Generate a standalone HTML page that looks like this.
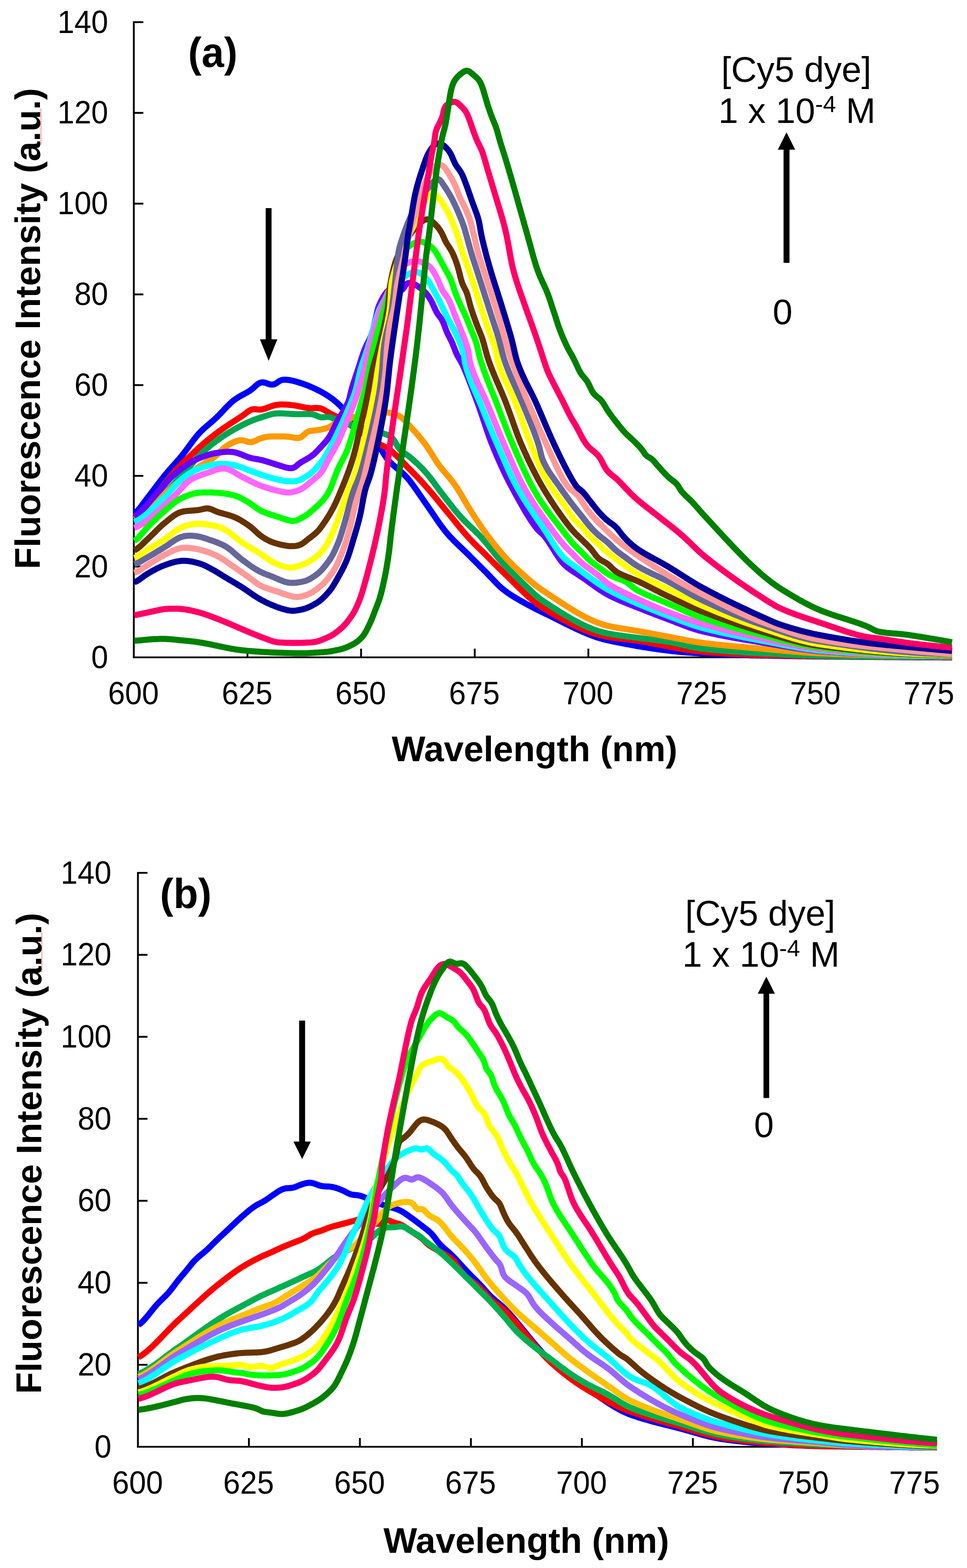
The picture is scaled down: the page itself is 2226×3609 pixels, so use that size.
<!DOCTYPE html>
<html><head><meta charset="utf-8"><title>Fluorescence spectra</title>
<style>
html,body{margin:0;padding:0;background:#fff;}
svg{display:block;}
.tk{font-family:"Liberation Sans",Arial,sans-serif;font-size:70px;fill:#000;}
.lg{font-family:"Liberation Sans",Arial,sans-serif;font-size:81.8px;fill:#000;}
.ax{font-family:"Liberation Sans",Arial,sans-serif;font-size:82px;font-weight:bold;fill:#000;}
.pl{font-family:"Liberation Sans",Arial,sans-serif;font-size:93px;font-weight:bold;fill:#000;}
.c{fill:none;stroke-width:14;stroke-linejoin:round;stroke-linecap:butt;}
</style></head>
<body>
<svg width="2226" height="3609" viewBox="0 0 2226 3609">
<rect width="2226" height="3609" fill="#fff"/>
<line x1="308.0" y1="49.0" x2="308.0" y2="1515.0" stroke="#000" stroke-width="4.2"/>
<line x1="306.0" y1="1513.0" x2="2191.5" y2="1513.0" stroke="#000" stroke-width="4.2"/>
<text transform="translate(249.0 1537.5) scale(1 1.06)" class="tk" text-anchor="end">0</text>
<line x1="308.0" y1="1304.1" x2="330.0" y2="1304.1" stroke="#000" stroke-width="4.2"/>
<text transform="translate(249.0 1328.6) scale(1 1.06)" class="tk" text-anchor="end">20</text>
<line x1="308.0" y1="1095.3" x2="330.0" y2="1095.3" stroke="#000" stroke-width="4.2"/>
<text transform="translate(249.0 1119.8) scale(1 1.06)" class="tk" text-anchor="end">40</text>
<line x1="308.0" y1="886.4" x2="330.0" y2="886.4" stroke="#000" stroke-width="4.2"/>
<text transform="translate(249.0 910.9) scale(1 1.06)" class="tk" text-anchor="end">60</text>
<line x1="308.0" y1="677.6" x2="330.0" y2="677.6" stroke="#000" stroke-width="4.2"/>
<text transform="translate(249.0 702.1) scale(1 1.06)" class="tk" text-anchor="end">80</text>
<line x1="308.0" y1="468.7" x2="330.0" y2="468.7" stroke="#000" stroke-width="4.2"/>
<text transform="translate(249.0 493.2) scale(1 1.06)" class="tk" text-anchor="end">100</text>
<line x1="308.0" y1="259.8" x2="330.0" y2="259.8" stroke="#000" stroke-width="4.2"/>
<text transform="translate(249.0 284.3) scale(1 1.06)" class="tk" text-anchor="end">120</text>
<line x1="308.0" y1="51.0" x2="330.0" y2="51.0" stroke="#000" stroke-width="4.2"/>
<text transform="translate(249.0 75.5) scale(1 1.06)" class="tk" text-anchor="end">140</text>
<text transform="translate(307.2 1620.5) scale(1 1.06)" class="tk" text-anchor="middle">600</text>
<line x1="569.6" y1="1493.0" x2="569.6" y2="1513.0" stroke="#000" stroke-width="4.2"/>
<text transform="translate(568.8 1620.5) scale(1 1.06)" class="tk" text-anchor="middle">625</text>
<line x1="831.2" y1="1493.0" x2="831.2" y2="1513.0" stroke="#000" stroke-width="4.2"/>
<text transform="translate(830.4 1620.5) scale(1 1.06)" class="tk" text-anchor="middle">650</text>
<line x1="1092.8" y1="1493.0" x2="1092.8" y2="1513.0" stroke="#000" stroke-width="4.2"/>
<text transform="translate(1092.0 1620.5) scale(1 1.06)" class="tk" text-anchor="middle">675</text>
<line x1="1354.4" y1="1493.0" x2="1354.4" y2="1513.0" stroke="#000" stroke-width="4.2"/>
<text transform="translate(1353.6 1620.5) scale(1 1.06)" class="tk" text-anchor="middle">700</text>
<line x1="1616.0" y1="1493.0" x2="1616.0" y2="1513.0" stroke="#000" stroke-width="4.2"/>
<text transform="translate(1615.2 1620.5) scale(1 1.06)" class="tk" text-anchor="middle">725</text>
<line x1="1877.6" y1="1493.0" x2="1877.6" y2="1513.0" stroke="#000" stroke-width="4.2"/>
<text transform="translate(1876.8 1620.5) scale(1 1.06)" class="tk" text-anchor="middle">750</text>
<line x1="2139.2" y1="1493.0" x2="2139.2" y2="1513.0" stroke="#000" stroke-width="4.2"/>
<text transform="translate(2138.4 1620.5) scale(1 1.06)" class="tk" text-anchor="middle">775</text>
<path class="c" d="M309.0 1181.2 L311.8 1179.5 L314.8 1177.1 L317.6 1174.3 L320.3 1171.3 L322.8 1168.2 L325.3 1165.0 L327.7 1161.8 L330.0 1158.6 L332.4 1155.4 L334.8 1152.2 L337.2 1149.0 L339.6 1145.8 L342.0 1142.6 L344.5 1139.5 L346.9 1136.3 L349.4 1133.1 L351.8 1129.9 L354.2 1126.7 L356.6 1123.6 L359.0 1120.4 L361.4 1117.2 L363.8 1114.0 L366.3 1110.8 L368.7 1107.6 L371.1 1104.5 L373.6 1101.3 L376.1 1098.2 L378.6 1095.0 L381.1 1092.0 L383.7 1088.9 L386.3 1085.8 L388.9 1082.8 L391.5 1079.8 L394.2 1076.8 L396.9 1073.8 L399.5 1070.9 L402.2 1067.9 L404.9 1064.9 L407.5 1061.9 L410.1 1058.9 L412.8 1055.9 L415.3 1052.8 L417.9 1049.7 L420.4 1046.6 L422.9 1043.5 L425.3 1040.3 L427.8 1037.1 L430.1 1033.9 L432.5 1030.7 L434.8 1027.5 L437.2 1024.2 L439.6 1021.0 L441.9 1017.8 L444.3 1014.6 L446.7 1011.4 L449.2 1008.2 L451.7 1005.1 L454.2 1002.0 L456.9 999.0 L459.6 996.1 L462.3 993.2 L465.2 990.4 L468.1 987.6 L471.1 984.9 L474.1 982.3 L477.1 979.7 L480.1 977.1 L483.2 974.5 L486.2 971.9 L489.3 969.3 L492.3 966.7 L495.2 964.0 L498.2 961.3 L501.0 958.5 L503.9 955.6 L506.6 952.8 L509.4 949.9 L512.1 947.0 L514.9 944.0 L517.6 941.1 L520.4 938.2 L523.1 935.3 L526.0 932.5 L528.8 929.7 L531.7 927.0 L534.7 924.3 L537.8 921.8 L541.0 919.4 L544.3 917.1 L547.7 915.0 L551.1 912.9 L554.6 910.9 L558.1 909.0 L561.6 907.1 L565.1 905.2 L568.6 903.3 L572.0 901.2 L575.4 899.1 L578.6 896.7 L581.7 894.2 L584.7 891.6 L587.7 888.9 L590.7 886.2 L593.8 883.8 L597.1 881.8 L600.7 880.4 L604.5 880.0 L608.3 880.5 L612.1 881.5 L615.9 882.9 L619.6 884.2 L623.4 885.1 L627.2 885.2 L630.9 884.5 L634.5 882.9 L637.8 880.7 L641.0 878.5 L644.4 876.4 L648.0 874.9 L651.8 874.1 L655.7 873.9 L659.7 874.1 L663.7 874.5 L667.6 875.1 L671.5 875.9 L675.4 876.8 L679.3 877.8 L683.1 878.9 L687.0 880.0 L690.8 881.2 L694.6 882.4 L698.4 883.7 L702.1 885.1 L705.9 886.5 L709.6 887.9 L713.3 889.4 L717.0 891.0 L720.7 892.6 L724.3 894.3 L727.9 896.1 L731.5 897.8 L735.0 899.6 L738.6 901.5 L742.1 903.4 L745.6 905.3 L749.0 907.4 L752.4 909.5 L755.8 911.6 L759.1 913.9 L762.4 916.2 L765.6 918.6 L768.7 921.0 L771.8 923.6 L774.9 926.2 L777.8 928.8 L780.8 931.6 L783.6 934.3 L786.5 937.2 L789.3 940.0 L792.1 942.9 L794.9 945.7 L797.7 948.5 L800.6 951.4 L803.4 954.2 L806.3 957.0 L809.1 959.8 L812.0 962.6 L814.9 965.4 L817.7 968.1 L820.6 971.0 L823.4 973.8 L826.3 976.6 L829.1 979.4 L831.9 982.2 L834.7 985.1 L837.5 987.9 L840.3 990.8 L843.1 993.7 L845.8 996.6 L848.6 999.5 L851.3 1002.4 L854.0 1005.4 L856.7 1008.4 L859.3 1011.3 L862.0 1014.4 L864.6 1017.4 L867.1 1020.5 L869.7 1023.5 L872.2 1026.7 L874.6 1029.9 L876.8 1033.2 L878.9 1036.6 L880.9 1040.0 L882.9 1043.5 L884.9 1046.9 L887.1 1050.3 L889.3 1053.6 L891.8 1056.7 L894.4 1059.8 L897.1 1062.7 L899.9 1065.6 L902.8 1068.4 L905.7 1071.0 L908.7 1073.7 L911.8 1076.3 L914.8 1078.8 L917.9 1081.4 L921.0 1084.0 L924.0 1086.6 L927.0 1089.2 L929.9 1092.0 L932.7 1094.8 L935.5 1097.7 L938.2 1100.7 L940.7 1103.7 L943.3 1106.8 L945.7 1110.0 L948.1 1113.2 L950.5 1116.4 L952.8 1119.6 L955.2 1122.9 L957.5 1126.2 L959.7 1129.4 L962.0 1132.7 L964.3 1136.0 L966.5 1139.3 L968.8 1142.6 L971.1 1145.9 L973.4 1149.2 L975.6 1152.5 L977.9 1155.8 L980.2 1159.0 L982.5 1162.3 L984.8 1165.6 L987.1 1168.9 L989.4 1172.2 L991.6 1175.5 L993.9 1178.8 L996.1 1182.1 L998.4 1185.4 L1000.6 1188.7 L1002.9 1192.0 L1005.1 1195.3 L1007.4 1198.6 L1009.7 1201.9 L1012.0 1205.2 L1014.3 1208.4 L1016.7 1211.6 L1019.1 1214.9 L1021.5 1218.0 L1024.0 1221.2 L1026.5 1224.3 L1029.1 1227.4 L1031.7 1230.4 L1034.3 1233.4 L1037.0 1236.3 L1039.8 1239.2 L1042.6 1242.1 L1045.4 1245.0 L1048.2 1247.8 L1051.1 1250.6 L1053.9 1253.4 L1056.8 1256.1 L1059.7 1258.9 L1062.6 1261.6 L1065.5 1264.4 L1068.4 1267.1 L1071.3 1269.9 L1074.2 1272.7 L1077.0 1275.5 L1079.9 1278.3 L1082.7 1281.1 L1085.5 1284.0 L1088.4 1286.8 L1091.2 1289.6 L1094.0 1292.4 L1096.1 1294.6 L1098.3 1296.7 L1100.4 1298.8 L1102.5 1300.9 L1105.3 1303.8 L1108.2 1306.6 L1111.0 1309.4 L1113.8 1312.2 L1116.7 1315.1 L1119.5 1317.9 L1122.3 1320.8 L1125.0 1323.7 L1127.8 1326.6 L1130.5 1329.5 L1133.3 1332.4 L1136.0 1335.3 L1138.8 1338.2 L1141.6 1341.1 L1144.4 1343.9 L1147.2 1346.7 L1150.1 1349.5 L1153.1 1352.2 L1156.1 1354.8 L1159.2 1357.3 L1162.3 1359.8 L1165.6 1362.1 L1168.8 1364.5 L1172.1 1366.7 L1175.4 1368.9 L1178.8 1371.1 L1182.2 1373.2 L1185.6 1375.3 L1189.1 1377.3 L1192.5 1379.3 L1196.0 1381.3 L1199.5 1383.3 L1203.0 1385.3 L1206.4 1387.2 L1209.9 1389.2 L1213.5 1391.1 L1217.0 1393.0 L1220.5 1394.9 L1224.0 1396.8 L1227.6 1398.6 L1231.1 1400.4 L1234.7 1402.3 L1238.3 1404.1 L1241.8 1405.8 L1245.4 1407.6 L1249.0 1409.3 L1252.6 1411.1 L1256.3 1412.8 L1259.9 1414.5 L1263.5 1416.3 L1267.0 1418.0 L1270.6 1419.8 L1274.2 1421.6 L1277.8 1423.4 L1281.4 1425.2 L1284.9 1427.0 L1288.5 1428.8 L1292.1 1430.6 L1295.7 1432.4 L1299.2 1434.2 L1302.8 1436.0 L1306.4 1437.7 L1310.0 1439.5 L1313.6 1441.3 L1317.2 1443.0 L1320.8 1444.7 L1324.4 1446.5 L1328.0 1448.2 L1331.6 1449.8 L1335.3 1451.5 L1338.9 1453.1 L1342.6 1454.7 L1346.3 1456.3 L1350.0 1457.8 L1353.7 1459.4 L1357.4 1460.8 L1361.1 1462.3 L1364.9 1463.7 L1368.6 1465.0 L1372.4 1466.3 L1376.2 1467.6 L1380.0 1468.7 L1383.9 1469.9 L1387.7 1471.0 L1391.6 1472.0 L1395.5 1472.9 L1399.4 1473.8 L1403.3 1474.7 L1407.2 1475.5 L1411.1 1476.3 L1415.0 1477.1 L1418.9 1477.9 L1422.9 1478.7 L1426.8 1479.5 L1430.7 1480.2 L1434.6 1481.0 L1438.6 1481.8 L1442.5 1482.5 L1446.4 1483.2 L1450.4 1484.0 L1454.3 1484.7 L1458.2 1485.4 L1462.2 1486.1 L1466.1 1486.8 L1470.1 1487.5 L1474.0 1488.1 L1477.9 1488.8 L1481.9 1489.5 L1485.8 1490.1 L1489.8 1490.7 L1493.7 1491.3 L1497.7 1491.9 L1501.6 1492.5 L1505.6 1493.1 L1509.6 1493.7 L1513.5 1494.3 L1517.5 1494.8 L1521.5 1495.3 L1525.4 1495.9 L1529.4 1496.4 L1533.4 1496.9 L1537.3 1497.3 L1541.3 1497.8 L1545.3 1498.3 L1549.2 1498.7 L1553.2 1499.1 L1557.2 1499.6 L1561.2 1500.0 L1565.2 1500.3 L1569.1 1500.7 L1573.1 1501.1 L1577.1 1501.4 L1581.1 1501.7 L1585.1 1502.0 L1589.1 1502.3 L1593.1 1502.6 L1597.1 1502.9 L1601.1 1503.1 L1605.0 1503.3 L1609.0 1503.5 L1613.0 1503.7 L1617.0 1503.9 L1621.0 1504.1 L1625.0 1504.3 L1629.0 1504.5 L1633.0 1504.6 L1637.0 1504.8 L1641.0 1505.0 L1645.0 1505.2 L1649.0 1505.4 L1653.0 1505.5 L1657.0 1505.7 L1661.0 1505.9 L1665.0 1506.0 L1669.0 1506.2 L1673.0 1506.4 L1677.0 1506.5 L1681.0 1506.7 L1685.0 1506.9 L1689.0 1507.0 L1693.0 1507.2 L1697.0 1507.3 L1701.0 1507.5 L1705.0 1507.6 L1709.0 1507.7 L1713.0 1507.9 L1716.9 1508.0 L1720.9 1508.1 L1724.9 1508.2 L1728.9 1508.4 L1732.9 1508.5 L1736.9 1508.6 L1740.9 1508.7 L1744.9 1508.7 L1748.9 1508.8 L1752.9 1508.9 L1756.9 1509.0 L1760.9 1509.0 L1764.9 1509.1 L1768.9 1509.2 L1772.9 1509.3 L1776.9 1509.3 L1780.9 1509.4 L1784.9 1509.5 L1788.9 1509.6 L1792.9 1509.6 L1796.9 1509.7 L1800.9 1509.8 L1804.9 1509.9 L1808.9 1509.9 L1812.9 1510.0 L1816.9 1510.1 L1820.9 1510.1 L1824.9 1510.2 L1828.9 1510.3 L1832.9 1510.3 L1836.9 1510.4 L1840.9 1510.5 L1844.9 1510.5 L1848.9 1510.6 L1852.9 1510.6 L1856.9 1510.7 L1860.9 1510.7 L1864.9 1510.8 L1868.9 1510.8 L1872.9 1510.9 L1876.9 1510.9 L1880.9 1511.0 L1884.9 1511.0 L1888.9 1511.0 L1892.9 1511.1 L1896.9 1511.1 L1900.9 1511.2 L1904.9 1511.2 L1908.9 1511.2 L1912.9 1511.3 L1916.9 1511.3 L1920.9 1511.3 L1924.9 1511.4 L1928.9 1511.4 L1932.9 1511.4 L1936.9 1511.5 L1940.9 1511.5 L1944.9 1511.6 L1948.9 1511.6 L1952.9 1511.6 L1956.9 1511.7 L1960.9 1511.7 L1964.9 1511.7 L1968.9 1511.8 L1972.9 1511.8 L1976.9 1511.8 L1980.9 1511.9 L1984.9 1511.9 L1988.9 1512.0 L1992.9 1512.0 L1996.9 1512.0 L2000.9 1512.1 L2004.9 1512.1 L2008.9 1512.1 L2012.9 1512.2 L2016.9 1512.2 L2020.9 1512.2 L2024.9 1512.3 L2028.9 1512.3 L2032.9 1512.3 L2036.9 1512.4 L2040.9 1512.4 L2044.9 1512.4 L2048.9 1512.5 L2052.9 1512.5 L2056.9 1512.5 L2060.9 1512.6 L2064.9 1512.6 L2068.9 1512.6 L2072.9 1512.6 L2076.9 1512.7 L2080.9 1512.7 L2084.9 1512.7 L2088.9 1512.8 L2092.9 1512.8 L2096.9 1512.8 L2100.9 1512.8 L2104.9 1512.9 L2108.9 1512.9 L2112.9 1512.9 L2116.9 1512.9 L2120.9 1512.9 L2124.9 1513.0 L2128.9 1513.0 L2132.9 1513.0 L2136.9 1513.0 L2140.9 1513.0 L2144.9 1513.1 L2148.9 1513.1 L2152.9 1513.1 L2156.9 1513.1 L2160.9 1513.1 L2164.9 1513.1 L2168.9 1513.2 L2172.9 1513.2 L2176.9 1513.2 L2180.9 1513.2 L2184.9 1513.2 L2188.9 1513.2 L2191.5 1513.2" stroke="#0000FF"/>
<path class="c" d="M309.0 1189.2 L312.2 1187.7 L315.5 1185.6 L318.6 1183.2 L321.7 1180.6 L324.6 1177.9 L327.4 1175.1 L330.2 1172.2 L332.9 1169.3 L335.6 1166.3 L338.2 1163.2 L340.8 1160.2 L343.3 1157.1 L345.9 1154.0 L348.4 1151.0 L351.0 1147.9 L353.5 1144.8 L356.1 1141.7 L358.7 1138.7 L361.3 1135.6 L363.8 1132.5 L366.3 1129.4 L368.8 1126.3 L371.3 1123.2 L373.8 1120.0 L376.2 1116.8 L378.6 1113.6 L381.1 1110.5 L383.5 1107.3 L386.0 1104.1 L388.4 1101.0 L390.9 1097.9 L393.5 1094.8 L396.1 1091.7 L398.7 1088.7 L401.4 1085.8 L404.1 1082.8 L406.8 1079.9 L409.6 1077.0 L412.4 1074.1 L415.2 1071.3 L418.0 1068.5 L420.9 1065.7 L423.7 1062.9 L426.6 1060.1 L429.5 1057.3 L432.4 1054.6 L435.3 1051.8 L438.2 1049.1 L441.1 1046.3 L444.0 1043.6 L446.9 1040.9 L449.9 1038.1 L452.8 1035.4 L455.7 1032.7 L458.7 1030.0 L461.7 1027.3 L464.6 1024.6 L467.6 1022.0 L470.7 1019.4 L473.7 1016.8 L476.8 1014.2 L479.9 1011.7 L483.0 1009.2 L486.1 1006.7 L489.3 1004.2 L492.4 1001.8 L495.6 999.3 L498.8 996.9 L502.0 994.6 L505.2 992.2 L508.5 989.8 L511.7 987.5 L515.0 985.2 L518.3 982.9 L521.6 980.7 L524.9 978.5 L528.3 976.2 L531.6 974.1 L535.0 971.9 L538.3 969.7 L541.7 967.6 L545.1 965.4 L548.4 963.3 L551.8 961.1 L555.1 958.9 L558.4 956.7 L561.7 954.3 L564.9 951.9 L568.0 949.4 L571.2 947.1 L574.6 944.9 L578.1 943.2 L581.8 942.0 L585.6 941.7 L589.5 942.0 L593.4 942.5 L597.4 942.8 L601.3 942.6 L605.2 941.8 L609.0 940.7 L612.8 939.5 L616.5 938.1 L620.3 936.7 L624.0 935.3 L627.8 934.1 L631.7 933.0 L635.6 932.1 L639.5 931.6 L643.5 931.2 L647.5 931.1 L651.5 931.1 L655.5 931.2 L659.5 931.3 L663.5 931.6 L667.4 931.9 L671.4 932.4 L675.4 932.8 L679.3 933.4 L683.3 934.1 L687.2 934.8 L691.1 935.6 L695.0 936.5 L699.0 937.3 L702.9 938.1 L706.8 938.8 L710.8 939.2 L714.7 939.4 L718.7 939.4 L722.7 939.2 L726.7 939.0 L730.7 939.0 L734.6 939.4 L738.5 940.2 L742.2 941.5 L745.8 943.3 L749.2 945.3 L752.6 947.4 L756.0 949.5 L759.5 951.4 L763.0 953.3 L766.6 955.1 L770.2 956.8 L773.8 958.6 L777.3 960.5 L780.8 962.4 L784.3 964.4 L787.7 966.5 L791.1 968.6 L794.5 970.7 L797.9 972.8 L801.3 975.0 L804.6 977.1 L808.0 979.3 L811.3 981.5 L814.6 983.8 L818.0 986.0 L821.3 988.2 L824.6 990.5 L827.9 992.7 L831.2 995.0 L834.5 997.2 L837.8 999.5 L841.1 1001.7 L844.5 1003.9 L847.8 1006.1 L851.1 1008.3 L854.5 1010.5 L857.8 1012.7 L861.2 1014.9 L864.6 1017.0 L868.0 1019.1 L871.4 1021.1 L874.9 1023.1 L878.5 1024.9 L882.1 1026.6 L885.7 1028.3 L889.2 1030.2 L892.7 1032.2 L896.0 1034.4 L899.2 1036.8 L902.3 1039.3 L905.3 1041.9 L908.3 1044.6 L911.2 1047.3 L914.1 1050.1 L916.9 1053.0 L919.7 1055.8 L922.5 1058.7 L925.2 1061.6 L928.0 1064.5 L930.8 1067.4 L933.5 1070.3 L936.3 1073.1 L939.1 1076.0 L941.9 1078.8 L944.7 1081.7 L947.5 1084.5 L950.3 1087.4 L953.1 1090.2 L955.9 1093.1 L958.7 1096.0 L961.5 1098.9 L964.2 1101.8 L967.0 1104.7 L969.7 1107.6 L972.4 1110.6 L975.1 1113.5 L977.8 1116.5 L980.4 1119.5 L983.1 1122.5 L985.7 1125.5 L988.3 1128.5 L990.9 1131.6 L993.5 1134.6 L996.1 1137.7 L998.6 1140.8 L1001.2 1143.8 L1003.7 1146.9 L1006.3 1150.0 L1008.8 1153.1 L1011.3 1156.2 L1013.8 1159.3 L1016.4 1162.4 L1018.9 1165.5 L1021.4 1168.6 L1024.0 1171.7 L1026.5 1174.8 L1029.1 1177.9 L1031.6 1180.9 L1034.2 1184.0 L1036.7 1187.1 L1039.2 1190.2 L1041.8 1193.3 L1044.3 1196.4 L1046.8 1199.5 L1049.3 1202.6 L1051.8 1205.8 L1054.4 1208.9 L1056.9 1211.9 L1059.4 1215.0 L1062.0 1218.1 L1064.6 1221.2 L1067.1 1224.2 L1069.7 1227.3 L1072.4 1230.3 L1075.0 1233.3 L1077.7 1236.3 L1080.4 1239.2 L1083.1 1242.1 L1085.9 1245.0 L1088.7 1247.9 L1091.5 1250.7 L1094.3 1253.6 L1097.2 1256.4 L1100.0 1259.2 L1102.9 1262.0 L1105.8 1264.7 L1108.6 1267.5 L1111.5 1270.3 L1114.3 1273.1 L1117.2 1275.9 L1120.0 1278.8 L1122.8 1281.6 L1125.7 1284.4 L1128.5 1287.3 L1131.3 1290.1 L1134.1 1293.0 L1136.9 1295.8 L1139.7 1298.7 L1142.5 1301.5 L1145.3 1304.4 L1148.2 1307.2 L1151.0 1310.0 L1153.9 1312.8 L1156.8 1315.6 L1159.7 1318.3 L1162.5 1321.1 L1165.4 1323.9 L1168.3 1326.7 L1171.1 1329.5 L1174.0 1332.3 L1176.8 1335.1 L1179.6 1337.9 L1182.5 1340.8 L1185.3 1343.6 L1188.2 1346.4 L1191.0 1349.2 L1193.8 1352.0 L1196.7 1354.8 L1199.6 1357.6 L1202.5 1360.4 L1205.3 1363.1 L1208.3 1365.9 L1211.2 1368.6 L1214.1 1371.3 L1217.1 1374.0 L1220.1 1376.6 L1223.1 1379.2 L1226.2 1381.8 L1229.3 1384.3 L1232.4 1386.8 L1235.6 1389.3 L1238.8 1391.6 L1242.1 1393.9 L1245.4 1396.2 L1248.7 1398.4 L1252.1 1400.5 L1255.6 1402.6 L1259.0 1404.6 L1262.4 1406.7 L1265.8 1408.8 L1269.3 1410.8 L1272.7 1412.8 L1276.2 1414.8 L1279.6 1416.8 L1283.1 1418.8 L1286.6 1420.8 L1290.1 1422.8 L1293.6 1424.7 L1297.1 1426.6 L1300.6 1428.5 L1304.1 1430.4 L1307.7 1432.2 L1311.3 1434.1 L1314.8 1435.9 L1318.4 1437.6 L1322.0 1439.4 L1325.6 1441.1 L1329.2 1442.8 L1332.9 1444.5 L1336.5 1446.1 L1340.2 1447.7 L1343.9 1449.2 L1347.6 1450.7 L1351.3 1452.2 L1355.1 1453.6 L1358.8 1455.0 L1362.6 1456.3 L1366.4 1457.6 L1370.2 1458.8 L1374.0 1460.0 L1377.9 1461.1 L1381.7 1462.1 L1385.6 1463.1 L1389.5 1464.0 L1393.4 1464.8 L1397.3 1465.6 L1401.3 1466.3 L1405.2 1467.0 L1409.2 1467.6 L1413.1 1468.2 L1417.1 1468.7 L1421.1 1469.2 L1425.0 1469.7 L1429.0 1470.1 L1433.0 1470.6 L1436.9 1471.0 L1440.9 1471.4 L1444.9 1471.9 L1448.9 1472.3 L1452.8 1472.8 L1456.8 1473.3 L1460.8 1473.9 L1464.7 1474.4 L1468.7 1475.0 L1472.6 1475.7 L1476.6 1476.3 L1480.5 1477.0 L1484.5 1477.7 L1488.4 1478.4 L1492.3 1479.1 L1496.3 1479.8 L1500.2 1480.6 L1504.1 1481.3 L1508.1 1482.1 L1512.0 1482.8 L1515.9 1483.6 L1519.8 1484.4 L1523.8 1485.1 L1527.7 1485.9 L1531.6 1486.7 L1535.5 1487.4 L1539.5 1488.2 L1543.4 1488.9 L1547.3 1489.7 L1551.3 1490.4 L1555.2 1491.2 L1559.1 1491.9 L1563.1 1492.6 L1567.0 1493.2 L1571.0 1493.9 L1574.9 1494.6 L1578.9 1495.2 L1582.8 1495.8 L1586.8 1496.4 L1590.7 1496.9 L1594.7 1497.5 L1598.7 1498.0 L1602.6 1498.4 L1606.6 1498.9 L1610.6 1499.3 L1614.6 1499.6 L1618.6 1500.0 L1622.5 1500.4 L1626.5 1500.7 L1630.5 1501.0 L1634.5 1501.3 L1638.5 1501.7 L1642.5 1502.0 L1646.5 1502.3 L1650.4 1502.6 L1654.4 1502.8 L1658.4 1503.1 L1662.4 1503.4 L1666.4 1503.7 L1670.4 1503.9 L1674.4 1504.2 L1678.4 1504.4 L1682.4 1504.6 L1686.4 1504.9 L1690.4 1505.1 L1694.4 1505.3 L1698.4 1505.5 L1702.4 1505.7 L1706.3 1505.9 L1710.3 1506.1 L1714.3 1506.2 L1718.3 1506.4 L1722.3 1506.6 L1726.3 1506.7 L1730.3 1506.9 L1734.3 1507.0 L1738.3 1507.2 L1742.3 1507.3 L1746.3 1507.4 L1750.3 1507.5 L1754.3 1507.6 L1758.3 1507.7 L1762.3 1507.8 L1766.3 1507.9 L1770.3 1508.0 L1774.3 1508.2 L1778.3 1508.3 L1782.3 1508.4 L1786.3 1508.5 L1790.3 1508.6 L1794.3 1508.7 L1798.3 1508.8 L1802.3 1508.9 L1806.3 1509.0 L1810.3 1509.1 L1814.3 1509.2 L1818.3 1509.3 L1822.3 1509.4 L1826.3 1509.5 L1830.3 1509.6 L1834.3 1509.7 L1838.3 1509.7 L1842.3 1509.8 L1846.3 1509.9 L1850.3 1510.0 L1854.3 1510.1 L1858.3 1510.1 L1862.3 1510.2 L1866.3 1510.2 L1870.3 1510.3 L1874.3 1510.4 L1878.3 1510.4 L1882.3 1510.5 L1886.3 1510.5 L1890.3 1510.5 L1894.3 1510.6 L1898.3 1510.6 L1902.3 1510.6 L1906.3 1510.7 L1910.3 1510.7 L1914.3 1510.8 L1918.3 1510.8 L1922.3 1510.8 L1926.3 1510.9 L1930.3 1510.9 L1934.3 1511.0 L1938.3 1511.0 L1942.3 1511.1 L1946.3 1511.1 L1950.3 1511.1 L1954.3 1511.2 L1958.3 1511.2 L1962.3 1511.3 L1966.3 1511.3 L1970.3 1511.3 L1974.3 1511.4 L1978.3 1511.4 L1982.3 1511.4 L1986.3 1511.5 L1990.3 1511.5 L1994.3 1511.6 L1998.3 1511.6 L2002.3 1511.6 L2006.3 1511.7 L2010.3 1511.7 L2014.3 1511.8 L2018.3 1511.8 L2022.3 1511.8 L2026.3 1511.9 L2030.3 1511.9 L2034.3 1511.9 L2038.3 1512.0 L2042.3 1512.0 L2046.3 1512.0 L2050.3 1512.1 L2054.3 1512.1 L2058.3 1512.1 L2062.3 1512.2 L2066.3 1512.2 L2070.3 1512.2 L2074.3 1512.2 L2078.3 1512.3 L2082.3 1512.3 L2086.3 1512.3 L2090.3 1512.4 L2094.3 1512.4 L2098.3 1512.4 L2102.3 1512.4 L2106.3 1512.4 L2110.3 1512.5 L2114.3 1512.5 L2118.3 1512.5 L2122.3 1512.5 L2126.3 1512.5 L2130.3 1512.6 L2134.3 1512.6 L2138.3 1512.6 L2142.3 1512.6 L2146.3 1512.6 L2150.3 1512.6 L2154.3 1512.6 L2158.3 1512.7 L2162.3 1512.7 L2166.3 1512.7 L2170.3 1512.7 L2174.3 1512.7 L2178.3 1512.7 L2182.3 1512.7 L2186.3 1512.7 L2190.2 1512.7 L2191.5 1512.7" stroke="#FF0000"/>
<path class="c" d="M309.0 1191.3 L312.4 1190.0 L316.0 1188.3 L319.5 1186.4 L323.0 1184.4 L326.3 1182.2 L329.6 1180.0 L332.9 1177.6 L336.1 1175.3 L339.3 1172.8 L342.4 1170.3 L345.5 1167.8 L348.5 1165.2 L351.5 1162.5 L354.5 1159.9 L357.4 1157.2 L360.4 1154.4 L363.3 1151.7 L366.1 1148.9 L369.0 1146.1 L371.8 1143.2 L374.6 1140.4 L377.4 1137.6 L380.2 1134.7 L383.0 1131.8 L385.8 1128.9 L388.5 1126.0 L391.3 1123.1 L394.0 1120.2 L396.8 1117.3 L399.5 1114.4 L402.3 1111.5 L405.1 1108.6 L407.8 1105.7 L410.6 1102.8 L413.3 1099.9 L416.1 1097.1 L418.9 1094.2 L421.6 1091.3 L424.3 1088.3 L427.0 1085.3 L429.6 1082.3 L432.1 1079.2 L434.7 1076.1 L437.2 1073.0 L439.8 1069.9 L442.3 1066.9 L444.9 1063.8 L447.5 1060.7 L450.1 1057.7 L452.7 1054.7 L455.5 1051.8 L458.3 1049.0 L461.1 1046.2 L464.0 1043.4 L466.9 1040.7 L469.9 1038.0 L472.9 1035.3 L475.9 1032.6 L478.9 1030.0 L482.0 1027.5 L485.1 1024.9 L488.2 1022.4 L491.3 1020.0 L494.5 1017.6 L497.8 1015.2 L501.0 1012.9 L504.3 1010.5 L507.5 1008.2 L510.8 1006.0 L514.1 1003.7 L517.5 1001.5 L520.8 999.3 L524.2 997.2 L527.6 995.1 L531.0 993.0 L534.5 991.0 L537.9 989.0 L541.4 987.1 L544.9 985.1 L548.5 983.2 L552.0 981.4 L555.5 979.5 L559.1 977.7 L562.7 975.9 L566.3 974.2 L569.9 972.5 L573.6 970.9 L577.3 969.3 L581.0 967.8 L584.7 966.4 L588.4 965.0 L592.2 963.7 L596.0 962.4 L599.8 961.2 L603.6 960.0 L607.4 958.7 L611.2 957.5 L615.0 956.2 L618.9 955.1 L622.7 954.0 L626.6 953.0 L630.5 952.2 L634.4 951.7 L638.4 951.4 L642.4 951.3 L646.4 951.4 L650.4 951.5 L654.4 951.7 L658.4 952.0 L662.4 952.2 L666.4 952.5 L670.4 952.7 L674.4 952.9 L678.4 953.1 L682.4 953.2 L686.3 953.2 L690.3 953.2 L694.3 953.2 L698.3 953.1 L702.3 953.1 L706.3 953.0 L710.3 953.1 L714.3 953.2 L718.3 953.5 L722.1 954.3 L725.9 955.5 L729.5 957.1 L733.2 958.7 L736.9 960.0 L740.7 960.6 L744.6 960.6 L748.5 960.1 L752.5 959.6 L756.4 959.6 L760.2 960.2 L763.8 961.5 L767.4 963.3 L771.0 965.1 L774.6 966.8 L778.3 968.3 L782.0 969.6 L785.8 970.9 L789.6 972.1 L793.4 973.3 L797.3 974.5 L801.1 975.6 L805.0 976.7 L808.8 977.8 L812.7 978.9 L816.5 979.9 L820.4 980.9 L824.3 982.0 L828.1 983.0 L832.0 984.0 L835.9 985.0 L839.7 986.0 L843.6 987.0 L847.5 988.0 L851.4 989.0 L855.2 990.0 L859.1 991.0 L862.9 992.1 L866.8 993.2 L870.6 994.3 L874.5 995.4 L878.3 996.5 L882.1 997.7 L886.0 998.9 L889.7 1000.2 L893.4 1001.7 L897.0 1003.5 L900.2 1005.7 L903.1 1008.3 L905.7 1011.3 L907.9 1014.6 L910.0 1018.0 L912.0 1021.5 L914.0 1024.9 L916.1 1028.3 L918.3 1031.7 L920.7 1034.8 L923.5 1037.6 L926.5 1040.2 L929.8 1042.4 L933.1 1044.6 L936.5 1046.8 L939.7 1049.1 L942.9 1051.6 L945.9 1054.2 L948.9 1056.8 L951.9 1059.4 L954.9 1062.1 L957.9 1064.8 L960.8 1067.5 L963.7 1070.3 L966.5 1073.1 L969.4 1075.9 L972.1 1078.8 L974.9 1081.7 L977.6 1084.6 L980.3 1087.6 L982.9 1090.6 L985.5 1093.7 L988.0 1096.8 L990.5 1099.9 L993.0 1103.1 L995.4 1106.3 L997.8 1109.5 L1000.2 1112.7 L1002.5 1115.9 L1004.9 1119.1 L1007.3 1122.3 L1009.6 1125.6 L1012.0 1128.8 L1014.4 1132.0 L1016.9 1135.1 L1019.3 1138.3 L1021.8 1141.5 L1024.2 1144.6 L1026.7 1147.8 L1029.1 1151.0 L1031.6 1154.1 L1034.0 1157.3 L1036.5 1160.4 L1038.9 1163.6 L1041.4 1166.7 L1043.9 1169.9 L1046.4 1173.0 L1048.9 1176.1 L1051.5 1179.2 L1054.1 1182.2 L1056.7 1185.2 L1059.3 1188.2 L1062.0 1191.2 L1064.7 1194.1 L1067.5 1197.0 L1070.3 1199.9 L1073.2 1202.7 L1076.0 1205.5 L1078.9 1208.2 L1081.8 1211.0 L1084.7 1213.7 L1087.6 1216.5 L1090.5 1219.3 L1093.4 1222.0 L1096.2 1224.8 L1099.1 1227.6 L1101.9 1230.5 L1104.7 1233.4 L1107.4 1236.3 L1110.1 1239.3 L1112.7 1242.3 L1115.3 1245.3 L1117.9 1248.3 L1120.5 1251.4 L1123.0 1254.5 L1125.5 1257.6 L1128.1 1260.7 L1130.6 1263.8 L1133.1 1267.0 L1135.6 1270.1 L1138.1 1273.2 L1140.6 1276.3 L1143.1 1279.4 L1145.6 1282.5 L1148.2 1285.6 L1150.8 1288.6 L1153.4 1291.7 L1156.1 1294.7 L1158.7 1297.6 L1161.5 1300.6 L1164.2 1303.5 L1166.9 1306.4 L1169.7 1309.2 L1172.5 1312.1 L1175.3 1314.9 L1178.2 1317.8 L1181.0 1320.6 L1183.9 1323.4 L1186.8 1326.2 L1189.6 1328.9 L1192.5 1331.7 L1195.4 1334.5 L1198.3 1337.2 L1201.2 1340.0 L1204.1 1342.7 L1207.0 1345.5 L1209.8 1348.3 L1212.7 1351.1 L1215.6 1353.9 L1218.5 1356.7 L1221.3 1359.4 L1224.3 1362.2 L1227.2 1364.9 L1230.1 1367.6 L1233.1 1370.2 L1236.2 1372.8 L1239.3 1375.4 L1242.4 1377.8 L1245.6 1380.2 L1248.9 1382.5 L1252.2 1384.8 L1255.6 1387.0 L1258.9 1389.2 L1262.3 1391.3 L1265.6 1393.5 L1269.0 1395.7 L1272.3 1397.9 L1275.7 1400.0 L1279.1 1402.2 L1282.4 1404.3 L1285.8 1406.5 L1289.2 1408.6 L1292.6 1410.7 L1296.0 1412.8 L1299.4 1414.9 L1302.9 1416.9 L1306.3 1419.0 L1309.7 1421.0 L1313.2 1423.0 L1316.7 1425.0 L1320.2 1426.9 L1323.7 1428.9 L1327.2 1430.8 L1330.7 1432.6 L1334.3 1434.4 L1337.9 1436.2 L1341.5 1438.0 L1345.1 1439.7 L1348.7 1441.4 L1352.4 1443.0 L1356.0 1444.6 L1359.7 1446.1 L1363.4 1447.6 L1367.2 1449.0 L1371.0 1450.4 L1374.7 1451.7 L1378.5 1452.9 L1382.4 1454.0 L1386.2 1455.1 L1390.1 1456.1 L1394.0 1457.0 L1397.9 1457.9 L1401.8 1458.6 L1405.8 1459.3 L1409.7 1460.0 L1413.7 1460.7 L1417.6 1461.3 L1421.6 1461.9 L1425.5 1462.5 L1429.5 1463.0 L1433.4 1463.6 L1437.4 1464.1 L1441.4 1464.6 L1445.3 1465.1 L1449.3 1465.6 L1453.3 1466.1 L1457.2 1466.7 L1461.2 1467.2 L1465.2 1467.7 L1469.1 1468.2 L1473.1 1468.7 L1477.1 1469.2 L1481.0 1469.7 L1485.0 1470.2 L1489.0 1470.7 L1493.0 1471.1 L1496.9 1471.6 L1500.9 1472.1 L1504.9 1472.6 L1508.8 1473.1 L1512.8 1473.6 L1516.8 1474.1 L1520.7 1474.6 L1524.7 1475.1 L1528.7 1475.7 L1532.6 1476.3 L1536.6 1476.9 L1540.5 1477.5 L1544.5 1478.2 L1548.4 1479.0 L1552.3 1479.8 L1556.2 1480.7 L1560.1 1481.5 L1564.0 1482.4 L1567.9 1483.4 L1571.8 1484.3 L1575.7 1485.2 L1579.6 1486.1 L1583.5 1487.0 L1587.4 1487.9 L1591.3 1488.8 L1595.2 1489.6 L1599.1 1490.3 L1603.1 1491.0 L1607.0 1491.7 L1611.0 1492.2 L1614.9 1492.7 L1618.9 1493.2 L1622.9 1493.7 L1626.9 1494.1 L1630.8 1494.5 L1634.8 1494.9 L1638.8 1495.3 L1642.8 1495.7 L1646.8 1496.1 L1650.7 1496.5 L1654.7 1496.8 L1658.7 1497.2 L1662.7 1497.6 L1666.7 1497.9 L1670.7 1498.2 L1674.7 1498.6 L1678.6 1498.9 L1682.6 1499.2 L1686.6 1499.5 L1690.6 1499.8 L1694.6 1500.1 L1698.6 1500.4 L1702.6 1500.7 L1706.6 1500.9 L1710.6 1501.2 L1714.6 1501.4 L1718.5 1501.7 L1722.5 1501.9 L1726.5 1502.2 L1730.5 1502.4 L1734.5 1502.6 L1738.5 1502.9 L1742.5 1503.1 L1746.5 1503.3 L1750.5 1503.5 L1754.5 1503.7 L1758.5 1503.9 L1762.5 1504.1 L1766.5 1504.3 L1770.5 1504.5 L1774.5 1504.8 L1778.5 1505.0 L1782.4 1505.2 L1786.4 1505.4 L1790.4 1505.6 L1794.4 1505.8 L1798.4 1506.0 L1802.4 1506.2 L1806.4 1506.4 L1810.4 1506.6 L1814.4 1506.8 L1818.4 1507.0 L1822.4 1507.2 L1826.4 1507.4 L1830.4 1507.6 L1834.4 1507.8 L1838.4 1507.9 L1842.4 1508.1 L1846.4 1508.3 L1850.4 1508.4 L1854.4 1508.6 L1858.4 1508.7 L1862.4 1508.8 L1866.4 1509.0 L1870.4 1509.1 L1874.4 1509.2 L1878.4 1509.3 L1882.4 1509.4 L1886.4 1509.5 L1890.4 1509.5 L1894.4 1509.6 L1898.4 1509.7 L1902.4 1509.8 L1906.4 1509.8 L1910.3 1509.9 L1914.3 1510.0 L1918.3 1510.0 L1922.3 1510.1 L1926.3 1510.2 L1930.3 1510.2 L1934.3 1510.3 L1938.3 1510.4 L1942.3 1510.4 L1946.3 1510.5 L1950.3 1510.6 L1954.3 1510.6 L1958.3 1510.7 L1962.3 1510.7 L1966.3 1510.8 L1970.3 1510.9 L1974.3 1510.9 L1978.3 1511.0 L1982.3 1511.0 L1986.3 1511.1 L1990.3 1511.1 L1994.3 1511.2 L1998.3 1511.2 L2002.3 1511.2 L2006.3 1511.3 L2010.3 1511.3 L2014.3 1511.4 L2018.3 1511.4 L2022.3 1511.5 L2026.3 1511.5 L2030.3 1511.5 L2034.3 1511.6 L2038.3 1511.6 L2042.3 1511.6 L2046.3 1511.7 L2050.3 1511.7 L2054.3 1511.7 L2058.3 1511.7 L2062.3 1511.8 L2066.3 1511.8 L2070.3 1511.8 L2074.3 1511.8 L2078.3 1511.8 L2082.3 1511.9 L2086.3 1511.9 L2090.3 1511.9 L2094.3 1511.9 L2098.3 1511.9 L2102.3 1511.9 L2106.3 1511.9 L2110.3 1511.9 L2114.3 1511.9 L2118.3 1511.9 L2122.3 1511.9 L2126.3 1511.9 L2130.3 1511.9 L2134.3 1511.9 L2138.3 1511.9 L2142.3 1511.9 L2146.3 1511.9 L2150.3 1511.9 L2154.3 1511.9 L2158.3 1511.9 L2162.3 1511.8 L2166.3 1511.8 L2170.3 1511.8 L2174.3 1511.8 L2178.3 1511.7 L2182.3 1511.7 L2186.3 1511.7 L2190.2 1511.7 L2191.5 1511.7" stroke="#00A650"/>
<path class="c" d="M309.0 1195.2 L312.4 1193.9 L315.8 1192.0 L319.2 1189.9 L322.6 1187.7 L325.8 1185.4 L329.0 1183.0 L332.2 1180.5 L335.2 1178.0 L338.3 1175.4 L341.3 1172.7 L344.3 1170.1 L347.2 1167.4 L350.1 1164.6 L353.0 1161.9 L355.9 1159.1 L358.8 1156.3 L361.6 1153.5 L364.5 1150.7 L367.4 1147.9 L370.2 1145.1 L373.1 1142.4 L376.0 1139.6 L378.9 1136.8 L381.8 1134.1 L384.7 1131.4 L387.7 1128.7 L390.7 1126.0 L393.7 1123.4 L396.8 1120.9 L399.9 1118.4 L403.1 1115.9 L406.2 1113.4 L409.3 1110.9 L412.5 1108.5 L415.7 1106.0 L418.8 1103.6 L422.0 1101.2 L425.2 1098.8 L428.4 1096.4 L431.6 1094.0 L434.8 1091.6 L438.0 1089.2 L441.2 1086.8 L444.5 1084.4 L447.7 1082.1 L451.0 1079.8 L454.2 1077.4 L457.5 1075.1 L460.8 1072.9 L464.1 1070.6 L467.5 1068.5 L470.9 1066.4 L474.3 1064.3 L477.7 1062.2 L481.1 1060.1 L484.5 1058.0 L487.9 1055.8 L491.2 1053.6 L494.4 1051.3 L497.6 1048.8 L500.6 1046.2 L503.4 1043.4 L506.2 1040.5 L508.9 1037.6 L511.6 1034.7 L514.5 1031.9 L517.6 1029.4 L520.8 1027.1 L524.2 1024.9 L527.6 1022.9 L531.1 1021.0 L534.7 1019.1 L538.3 1017.4 L542.0 1015.9 L545.8 1014.7 L549.6 1013.8 L553.6 1013.3 L557.5 1013.3 L561.3 1013.9 L565.1 1015.0 L568.9 1016.3 L572.6 1017.4 L576.4 1017.9 L580.2 1017.5 L584.0 1016.3 L587.6 1014.7 L591.1 1012.9 L594.7 1011.1 L598.4 1009.6 L602.2 1008.3 L606.0 1007.2 L609.9 1006.4 L613.8 1005.6 L617.8 1005.1 L621.8 1004.8 L625.8 1004.6 L629.7 1004.5 L633.7 1004.4 L637.7 1004.4 L641.7 1004.4 L645.7 1004.5 L649.7 1004.5 L653.7 1004.6 L657.7 1004.8 L661.7 1005.0 L665.7 1005.5 L669.6 1006.0 L673.6 1006.7 L677.5 1007.4 L681.5 1007.9 L685.4 1008.2 L689.2 1007.8 L692.7 1006.5 L695.9 1004.4 L698.8 1001.7 L701.7 999.0 L704.6 996.4 L707.9 994.2 L711.5 992.7 L715.3 991.8 L719.2 991.2 L723.2 990.8 L727.2 990.4 L731.1 990.0 L735.1 989.4 L739.0 988.7 L742.9 987.8 L746.8 986.8 L750.6 985.7 L754.4 984.4 L758.1 982.9 L761.6 981.1 L765.0 979.0 L768.4 976.8 L771.8 974.8 L775.3 973.0 L779.0 971.5 L782.8 970.2 L786.6 968.9 L790.4 967.6 L794.2 966.4 L798.0 965.2 L801.8 964.0 L805.7 962.9 L809.5 961.8 L813.4 960.8 L817.2 959.8 L821.1 958.8 L825.0 957.9 L828.9 957.0 L832.8 956.1 L836.7 955.3 L840.7 954.6 L844.6 953.9 L848.5 953.2 L852.5 952.6 L856.4 952.0 L860.4 951.5 L864.4 951.0 L868.4 950.6 L872.3 950.2 L876.3 949.9 L880.3 949.6 L884.3 949.4 L888.3 949.4 L892.3 949.5 L896.2 950.0 L900.2 950.7 L904.0 951.6 L907.9 952.8 L911.6 954.1 L915.3 955.7 L918.9 957.4 L922.2 959.5 L925.4 961.9 L928.4 964.5 L931.3 967.3 L934.1 970.2 L936.7 973.1 L939.4 976.1 L942.1 979.1 L944.7 982.1 L947.4 985.1 L950.1 988.0 L952.8 990.9 L955.5 993.9 L958.2 996.9 L960.8 999.9 L963.4 1002.9 L966.0 1006.0 L968.5 1009.1 L971.0 1012.2 L973.5 1015.3 L976.0 1018.5 L978.4 1021.7 L980.8 1024.9 L983.1 1028.2 L985.3 1031.5 L987.5 1034.8 L989.7 1038.2 L991.8 1041.6 L994.0 1045.0 L996.1 1048.3 L998.2 1051.7 L1000.3 1055.1 L1002.5 1058.5 L1004.6 1061.9 L1006.9 1065.2 L1009.2 1068.5 L1011.5 1071.7 L1013.9 1074.9 L1016.4 1078.0 L1018.9 1081.2 L1021.4 1084.2 L1024.0 1087.3 L1026.6 1090.3 L1029.2 1093.4 L1031.8 1096.4 L1034.4 1099.5 L1036.9 1102.6 L1039.4 1105.7 L1041.9 1108.8 L1044.3 1112.0 L1046.7 1115.2 L1049.0 1118.5 L1051.2 1121.8 L1053.4 1125.2 L1055.5 1128.6 L1057.6 1132.0 L1059.6 1135.4 L1061.7 1138.9 L1063.7 1142.3 L1065.7 1145.8 L1067.7 1149.3 L1069.7 1152.7 L1071.7 1156.2 L1073.7 1159.6 L1075.8 1163.1 L1077.9 1166.5 L1080.0 1169.9 L1082.1 1173.2 L1084.3 1176.6 L1086.4 1180.0 L1088.6 1183.4 L1090.7 1186.7 L1092.9 1190.1 L1095.1 1193.4 L1097.3 1196.8 L1099.5 1200.1 L1101.7 1203.4 L1103.9 1206.8 L1106.2 1210.1 L1108.4 1213.4 L1110.7 1216.7 L1113.0 1219.9 L1115.3 1223.2 L1117.7 1226.4 L1120.0 1229.7 L1122.4 1232.9 L1124.8 1236.1 L1127.2 1239.3 L1129.6 1242.5 L1132.1 1245.6 L1134.5 1248.8 L1137.0 1251.9 L1139.5 1255.1 L1142.0 1258.2 L1144.5 1261.3 L1147.1 1264.4 L1149.6 1267.4 L1152.2 1270.5 L1154.9 1273.5 L1157.5 1276.5 L1160.2 1279.4 L1162.9 1282.4 L1165.7 1285.3 L1168.4 1288.2 L1171.2 1291.1 L1174.0 1294.0 L1176.8 1296.8 L1179.6 1299.6 L1182.4 1302.4 L1185.3 1305.2 L1188.2 1308.0 L1191.1 1310.7 L1194.1 1313.4 L1197.0 1316.1 L1200.0 1318.8 L1203.0 1321.5 L1206.0 1324.1 L1209.0 1326.8 L1212.0 1329.4 L1215.0 1332.1 L1218.0 1334.7 L1221.0 1337.3 L1224.1 1339.9 L1227.2 1342.4 L1230.3 1345.0 L1233.4 1347.4 L1236.6 1349.9 L1239.7 1352.3 L1243.0 1354.7 L1246.3 1356.9 L1249.6 1359.2 L1252.9 1361.4 L1256.2 1363.6 L1259.6 1365.8 L1262.9 1368.0 L1266.2 1370.2 L1269.6 1372.4 L1272.9 1374.6 L1276.2 1376.9 L1279.6 1379.1 L1282.9 1381.3 L1286.3 1383.5 L1289.6 1385.7 L1292.9 1387.9 L1296.3 1390.0 L1299.7 1392.2 L1303.0 1394.4 L1306.4 1396.5 L1309.8 1398.7 L1313.2 1400.8 L1316.6 1402.9 L1320.0 1404.9 L1323.4 1407.0 L1326.9 1409.0 L1330.3 1411.0 L1333.8 1413.0 L1337.3 1415.0 L1340.8 1416.9 L1344.4 1418.8 L1347.9 1420.6 L1351.5 1422.4 L1355.1 1424.2 L1358.7 1425.9 L1362.3 1427.5 L1366.0 1429.2 L1369.7 1430.7 L1373.4 1432.2 L1377.1 1433.6 L1380.9 1435.0 L1384.6 1436.3 L1388.5 1437.5 L1392.3 1438.6 L1396.2 1439.7 L1400.0 1440.7 L1403.9 1441.5 L1407.8 1442.4 L1411.8 1443.2 L1415.7 1443.9 L1419.6 1444.6 L1423.6 1445.3 L1427.5 1445.9 L1431.5 1446.6 L1435.4 1447.2 L1439.4 1447.8 L1443.3 1448.4 L1447.3 1449.0 L1451.2 1449.6 L1455.2 1450.2 L1459.1 1450.9 L1463.1 1451.5 L1467.0 1452.2 L1471.0 1452.9 L1474.9 1453.6 L1478.8 1454.3 L1482.8 1455.1 L1486.7 1455.8 L1490.6 1456.5 L1494.6 1457.3 L1498.5 1458.0 L1502.4 1458.7 L1506.4 1459.5 L1510.3 1460.2 L1514.2 1460.9 L1518.2 1461.7 L1522.1 1462.4 L1526.0 1463.1 L1530.0 1463.9 L1533.9 1464.6 L1537.8 1465.3 L1541.7 1466.1 L1545.7 1466.8 L1549.6 1467.6 L1553.5 1468.4 L1557.5 1469.1 L1561.4 1469.9 L1565.3 1470.7 L1569.2 1471.5 L1573.1 1472.2 L1577.1 1473.0 L1581.0 1473.8 L1584.9 1474.5 L1588.9 1475.2 L1592.8 1475.9 L1596.7 1476.6 L1600.7 1477.3 L1604.6 1477.9 L1608.6 1478.5 L1612.6 1479.0 L1616.5 1479.6 L1620.5 1480.1 L1624.5 1480.6 L1628.4 1481.0 L1632.4 1481.5 L1636.4 1482.0 L1640.3 1482.4 L1644.3 1482.9 L1648.3 1483.3 L1652.3 1483.8 L1656.3 1484.2 L1660.2 1484.6 L1664.2 1485.0 L1668.2 1485.4 L1672.2 1485.8 L1676.2 1486.2 L1680.1 1486.6 L1684.1 1487.0 L1688.1 1487.4 L1692.1 1487.7 L1696.1 1488.1 L1700.0 1488.5 L1704.0 1488.8 L1708.0 1489.2 L1712.0 1489.5 L1716.0 1489.9 L1720.0 1490.2 L1724.0 1490.6 L1727.9 1490.9 L1731.9 1491.3 L1735.9 1491.6 L1739.9 1491.9 L1743.9 1492.3 L1747.9 1492.6 L1751.8 1493.0 L1755.8 1493.3 L1759.8 1493.7 L1763.8 1494.0 L1767.8 1494.4 L1771.8 1494.8 L1775.8 1495.1 L1779.7 1495.5 L1783.7 1495.9 L1787.7 1496.2 L1791.7 1496.6 L1795.7 1497.0 L1799.7 1497.3 L1803.6 1497.7 L1807.6 1498.1 L1811.6 1498.4 L1815.6 1498.8 L1819.6 1499.1 L1823.6 1499.5 L1827.5 1499.8 L1831.5 1500.1 L1835.5 1500.4 L1839.5 1500.8 L1843.5 1501.1 L1847.5 1501.4 L1851.5 1501.7 L1855.5 1501.9 L1859.4 1502.2 L1863.4 1502.5 L1867.4 1502.7 L1871.4 1502.9 L1875.4 1503.1 L1879.4 1503.4 L1883.4 1503.5 L1887.4 1503.7 L1891.4 1503.9 L1895.4 1504.1 L1899.4 1504.2 L1903.4 1504.4 L1907.4 1504.6 L1911.4 1504.7 L1915.4 1504.9 L1919.4 1505.0 L1923.4 1505.2 L1927.4 1505.4 L1931.4 1505.5 L1935.4 1505.7 L1939.4 1505.8 L1943.4 1506.0 L1947.4 1506.1 L1951.4 1506.3 L1955.4 1506.4 L1959.4 1506.5 L1963.3 1506.7 L1967.3 1506.8 L1971.3 1506.9 L1975.3 1507.1 L1979.3 1507.2 L1983.3 1507.3 L1987.3 1507.5 L1991.3 1507.6 L1995.3 1507.7 L1999.3 1507.8 L2003.3 1507.9 L2007.3 1508.0 L2011.3 1508.2 L2015.3 1508.3 L2019.3 1508.4 L2023.3 1508.5 L2027.3 1508.6 L2031.3 1508.7 L2035.3 1508.8 L2039.3 1508.9 L2043.3 1509.0 L2047.3 1509.0 L2051.3 1509.1 L2055.3 1509.2 L2059.3 1509.3 L2063.3 1509.4 L2067.3 1509.4 L2071.3 1509.5 L2075.3 1509.6 L2079.3 1509.7 L2083.3 1509.7 L2087.3 1509.8 L2091.3 1509.8 L2095.3 1509.9 L2099.3 1509.9 L2103.3 1510.0 L2107.3 1510.0 L2111.3 1510.1 L2115.3 1510.1 L2119.3 1510.2 L2123.3 1510.2 L2127.3 1510.2 L2131.3 1510.3 L2135.3 1510.3 L2139.3 1510.3 L2143.3 1510.3 L2147.3 1510.3 L2151.3 1510.4 L2155.3 1510.4 L2159.3 1510.4 L2163.3 1510.4 L2167.3 1510.4 L2171.3 1510.4 L2175.3 1510.4 L2179.3 1510.4 L2183.3 1510.4 L2187.3 1510.3 L2191.1 1510.3 L2191.5 1510.3" stroke="#FF9900"/>
<path class="c" d="M309.0 1189.2 L312.1 1187.7 L315.3 1185.5 L318.5 1183.0 L321.4 1180.4 L324.3 1177.6 L327.1 1174.8 L329.9 1171.8 L332.6 1168.9 L335.2 1165.9 L337.8 1162.9 L340.4 1159.8 L343.0 1156.8 L345.6 1153.7 L348.2 1150.7 L350.8 1147.6 L353.4 1144.6 L356.0 1141.6 L358.7 1138.6 L361.4 1135.6 L364.0 1132.7 L366.7 1129.6 L369.3 1126.6 L371.9 1123.6 L374.5 1120.5 L377.1 1117.5 L379.7 1114.4 L382.3 1111.4 L384.9 1108.4 L387.6 1105.5 L390.4 1102.6 L393.2 1099.7 L396.1 1097.0 L399.1 1094.3 L402.1 1091.7 L405.1 1089.1 L408.2 1086.5 L411.3 1084.0 L414.5 1081.5 L417.6 1079.1 L420.8 1076.7 L424.0 1074.3 L427.3 1072.0 L430.6 1069.7 L433.9 1067.5 L437.3 1065.4 L440.7 1063.3 L444.2 1061.3 L447.7 1059.5 L451.3 1057.7 L455.0 1056.0 L458.6 1054.5 L462.4 1053.0 L466.1 1051.6 L469.9 1050.2 L473.6 1048.9 L477.4 1047.6 L481.2 1046.5 L485.1 1045.4 L489.0 1044.4 L492.9 1043.5 L496.8 1042.8 L500.7 1042.2 L504.7 1041.6 L508.7 1041.1 L512.6 1040.6 L516.6 1040.2 L520.6 1040.0 L524.6 1039.8 L528.6 1039.8 L532.6 1040.0 L536.5 1040.5 L540.5 1041.1 L544.4 1042.1 L548.2 1043.2 L551.9 1044.6 L555.7 1046.0 L559.4 1047.5 L563.0 1049.1 L566.8 1050.6 L570.5 1052.0 L574.3 1053.2 L578.1 1054.3 L582.0 1055.1 L586.0 1055.9 L589.9 1056.5 L593.9 1057.2 L597.8 1058.0 L601.7 1058.8 L605.5 1059.8 L609.4 1060.9 L613.2 1062.1 L617.1 1063.2 L620.9 1064.4 L624.7 1065.6 L628.5 1066.8 L632.3 1068.0 L636.1 1069.2 L640.0 1070.4 L643.8 1071.5 L647.6 1072.7 L651.4 1074.0 L655.2 1075.1 L659.1 1076.2 L663.0 1077.0 L666.9 1077.6 L670.8 1077.6 L674.6 1077.0 L678.1 1075.4 L681.3 1073.2 L684.3 1070.7 L687.3 1068.1 L690.5 1065.7 L693.9 1063.5 L697.3 1061.5 L700.8 1059.5 L704.3 1057.6 L707.7 1055.6 L711.2 1053.6 L714.5 1051.4 L717.8 1049.1 L721.0 1046.7 L724.0 1044.0 L726.9 1041.3 L729.7 1038.4 L732.4 1035.5 L735.2 1032.6 L737.9 1029.7 L740.6 1026.7 L743.3 1023.8 L746.0 1020.8 L748.6 1017.8 L751.2 1014.8 L753.7 1011.6 L756.1 1008.4 L758.3 1005.1 L760.4 1001.7 L762.4 998.3 L764.2 994.7 L766.0 991.1 L767.7 987.5 L769.4 983.9 L771.1 980.3 L772.8 976.7 L774.6 973.1 L776.5 969.6 L778.5 966.1 L780.5 962.6 L782.6 959.2 L784.7 955.8 L786.8 952.4 L789.0 949.0 L791.0 945.6 L793.1 942.2 L795.0 938.7 L796.9 935.2 L798.6 931.6 L800.3 927.9 L801.9 924.3 L803.3 920.5 L804.4 916.7 L805.4 912.8 L806.3 908.9 L807.1 905.0 L808.1 901.1 L809.1 897.3 L810.1 893.4 L811.3 889.6 L812.4 885.8 L813.6 881.9 L814.9 878.1 L816.1 874.3 L817.4 870.5 L818.6 866.7 L819.9 863.0 L821.2 859.2 L822.4 855.4 L823.7 851.6 L824.9 847.8 L826.1 844.0 L827.4 840.1 L828.6 836.3 L829.8 832.5 L831.0 828.7 L832.2 824.9 L833.5 821.1 L834.8 817.3 L836.0 813.5 L837.4 809.7 L838.7 806.0 L840.2 802.3 L841.8 798.6 L843.4 795.0 L845.2 791.4 L847.1 787.8 L848.9 784.3 L850.7 780.7 L852.4 777.1 L853.9 773.4 L855.3 769.7 L856.6 765.9 L857.7 762.0 L858.8 758.2 L859.8 754.3 L860.7 750.4 L861.6 746.5 L862.5 742.6 L863.4 738.7 L864.4 734.8 L865.3 730.9 L866.2 727.0 L867.0 723.1 L867.9 719.2 L868.7 715.3 L869.7 711.5 L870.9 707.7 L872.3 703.9 L873.9 700.3 L875.6 696.6 L877.3 693.0 L879.1 689.5 L881.0 686.0 L883.0 682.5 L885.2 679.1 L887.4 675.8 L889.9 672.7 L892.5 669.7 L895.5 667.1 L898.8 665.1 L902.3 663.9 L906.0 663.9 L909.7 664.8 L913.3 666.3 L916.9 667.8 L920.5 668.5 L923.9 668.0 L926.8 666.0 L929.2 663.1 L931.2 659.8 L933.3 656.5 L935.8 653.7 L938.9 651.9 L942.5 651.3 L946.3 651.6 L950.0 652.7 L953.7 654.2 L957.2 656.1 L960.7 658.1 L964.0 660.3 L967.2 662.6 L970.4 665.1 L973.4 667.7 L976.3 670.4 L979.1 673.3 L981.8 676.3 L984.2 679.4 L986.6 682.6 L988.7 686.0 L990.8 689.4 L992.8 692.9 L994.7 696.4 L996.4 700.0 L998.0 703.7 L999.6 707.3 L1001.3 711.0 L1003.0 714.6 L1004.8 718.1 L1006.9 721.5 L1009.1 724.8 L1011.5 728.0 L1013.9 731.2 L1016.2 734.5 L1018.2 737.9 L1019.9 741.5 L1021.5 745.2 L1022.9 748.9 L1024.3 752.7 L1025.6 756.5 L1027.1 760.2 L1028.6 763.9 L1030.2 767.5 L1032.0 771.1 L1033.8 774.7 L1035.6 778.2 L1037.5 781.8 L1039.2 785.4 L1040.9 789.0 L1042.4 792.7 L1043.9 796.4 L1045.3 800.2 L1046.8 803.9 L1048.2 807.6 L1049.7 811.3 L1051.3 815.0 L1053.0 818.6 L1055.0 822.1 L1057.1 825.5 L1059.1 828.9 L1061.1 832.4 L1063.0 835.9 L1064.7 839.5 L1066.4 843.1 L1068.0 846.8 L1069.6 850.5 L1071.1 854.1 L1072.7 857.8 L1074.2 861.5 L1075.7 865.2 L1077.2 868.9 L1078.7 872.7 L1080.1 876.4 L1081.6 880.1 L1083.0 883.9 L1084.5 887.6 L1085.9 891.3 L1087.3 895.1 L1088.7 898.8 L1090.1 902.6 L1091.5 906.3 L1092.9 910.1 L1094.3 913.8 L1095.7 917.6 L1097.1 921.3 L1098.5 925.1 L1099.8 928.8 L1101.2 932.6 L1102.6 936.3 L1103.9 940.1 L1105.2 943.9 L1106.5 947.7 L1107.8 951.4 L1109.1 955.2 L1110.4 959.0 L1111.6 962.8 L1112.9 966.6 L1114.1 970.4 L1115.4 974.2 L1116.7 978.0 L1117.9 981.8 L1119.2 985.6 L1120.5 989.4 L1121.8 993.2 L1123.1 997.0 L1124.4 1000.7 L1125.7 1004.5 L1127.1 1008.3 L1128.5 1012.0 L1129.9 1015.7 L1131.4 1019.5 L1132.9 1023.2 L1134.4 1026.9 L1135.9 1030.6 L1137.4 1034.3 L1138.9 1038.0 L1140.5 1041.7 L1142.1 1045.4 L1143.6 1049.0 L1145.2 1052.7 L1146.8 1056.4 L1148.4 1060.0 L1150.0 1063.7 L1151.7 1067.3 L1153.3 1071.0 L1155.0 1074.6 L1156.6 1078.3 L1158.3 1081.9 L1160.0 1085.5 L1161.8 1089.1 L1163.5 1092.7 L1165.2 1096.3 L1167.0 1099.9 L1168.8 1103.5 L1170.6 1107.0 L1172.4 1110.6 L1174.3 1114.2 L1176.2 1117.7 L1178.1 1121.2 L1180.0 1124.7 L1181.9 1128.2 L1183.8 1131.8 L1185.7 1135.3 L1187.6 1138.8 L1189.6 1142.3 L1191.5 1145.8 L1193.4 1149.3 L1195.3 1152.8 L1197.3 1156.3 L1199.3 1159.8 L1201.2 1163.3 L1203.2 1166.7 L1205.2 1170.2 L1207.2 1173.7 L1209.2 1177.1 L1211.3 1180.5 L1213.4 1184.0 L1215.5 1187.4 L1217.6 1190.7 L1219.7 1194.1 L1221.9 1197.5 L1224.2 1200.8 L1226.4 1204.1 L1228.7 1207.3 L1231.1 1210.6 L1233.5 1213.7 L1236.0 1216.9 L1238.6 1219.9 L1241.4 1222.7 L1244.4 1225.3 L1247.4 1227.9 L1250.3 1230.7 L1252.9 1233.6 L1255.4 1236.8 L1257.8 1240.0 L1260.1 1243.3 L1262.4 1246.6 L1264.6 1249.9 L1266.7 1253.3 L1268.9 1256.6 L1271.0 1260.0 L1273.1 1263.4 L1275.3 1266.8 L1277.4 1270.2 L1279.5 1273.6 L1281.7 1276.9 L1283.9 1280.2 L1286.2 1283.5 L1288.5 1286.8 L1290.9 1290.0 L1293.3 1293.2 L1295.9 1296.2 L1298.7 1299.1 L1301.5 1301.9 L1304.5 1304.5 L1307.6 1307.0 L1310.9 1309.4 L1314.1 1311.7 L1317.4 1313.9 L1320.8 1316.2 L1324.1 1318.4 L1327.5 1320.5 L1330.8 1322.7 L1334.2 1324.9 L1337.5 1327.1 L1340.9 1329.3 L1344.2 1331.5 L1347.5 1333.8 L1350.7 1336.1 L1354.0 1338.4 L1357.2 1340.8 L1360.5 1343.1 L1363.7 1345.5 L1366.9 1347.8 L1370.2 1350.1 L1373.5 1352.5 L1376.7 1354.7 L1380.0 1357.0 L1383.4 1359.2 L1386.7 1361.4 L1390.1 1363.5 L1393.6 1365.6 L1397.0 1367.5 L1400.5 1369.5 L1404.1 1371.3 L1407.7 1373.1 L1411.3 1374.8 L1414.9 1376.5 L1418.5 1378.2 L1422.2 1379.8 L1425.8 1381.4 L1429.5 1383.0 L1433.2 1384.5 L1436.9 1386.1 L1440.6 1387.6 L1444.3 1389.1 L1448.0 1390.5 L1451.8 1392.0 L1455.5 1393.5 L1459.2 1394.9 L1462.9 1396.4 L1466.7 1397.9 L1470.4 1399.3 L1474.1 1400.8 L1477.8 1402.3 L1481.5 1403.8 L1485.2 1405.2 L1489.0 1406.7 L1492.7 1408.2 L1496.4 1409.6 L1500.1 1411.0 L1503.9 1412.5 L1507.6 1413.9 L1511.3 1415.4 L1515.1 1416.8 L1518.8 1418.2 L1522.6 1419.6 L1526.3 1421.0 L1530.1 1422.4 L1533.8 1423.8 L1537.5 1425.2 L1541.3 1426.6 L1545.0 1428.1 L1548.8 1429.5 L1552.5 1430.9 L1556.2 1432.4 L1559.9 1433.9 L1563.7 1435.3 L1567.4 1436.8 L1571.1 1438.2 L1574.9 1439.6 L1578.6 1441.0 L1582.4 1442.4 L1586.1 1443.8 L1589.9 1445.1 L1593.7 1446.4 L1597.5 1447.6 L1601.3 1448.8 L1605.1 1449.9 L1609.0 1451.0 L1612.9 1452.0 L1616.7 1453.0 L1620.6 1454.0 L1624.5 1454.9 L1628.4 1455.8 L1632.3 1456.7 L1636.2 1457.5 L1640.1 1458.4 L1644.0 1459.2 L1648.0 1460.0 L1651.9 1460.8 L1655.8 1461.6 L1659.7 1462.4 L1663.6 1463.2 L1667.6 1463.9 L1671.5 1464.7 L1675.4 1465.4 L1679.4 1466.2 L1683.3 1466.9 L1687.2 1467.6 L1691.2 1468.3 L1695.1 1469.0 L1699.1 1469.7 L1703.0 1470.3 L1706.9 1471.0 L1710.9 1471.7 L1714.8 1472.3 L1718.8 1473.0 L1722.7 1473.6 L1726.7 1474.3 L1730.6 1474.9 L1734.6 1475.6 L1738.5 1476.2 L1742.5 1476.9 L1746.4 1477.5 L1750.4 1478.2 L1754.3 1478.8 L1758.3 1479.5 L1762.2 1480.1 L1766.1 1480.8 L1770.1 1481.5 L1774.0 1482.1 L1778.0 1482.8 L1781.9 1483.5 L1785.9 1484.2 L1789.8 1484.9 L1793.7 1485.5 L1797.7 1486.2 L1801.6 1486.9 L1805.6 1487.6 L1809.5 1488.2 L1813.5 1488.9 L1817.4 1489.6 L1821.3 1490.2 L1825.3 1490.8 L1829.2 1491.5 L1833.2 1492.1 L1837.2 1492.7 L1841.1 1493.3 L1845.1 1493.8 L1849.0 1494.4 L1853.0 1494.9 L1857.0 1495.4 L1860.9 1495.9 L1864.9 1496.4 L1868.9 1496.8 L1872.9 1497.2 L1876.8 1497.6 L1880.8 1498.0 L1884.8 1498.3 L1888.8 1498.6 L1892.8 1499.0 L1896.8 1499.3 L1900.8 1499.6 L1904.8 1499.9 L1908.7 1500.2 L1912.7 1500.5 L1916.7 1500.8 L1920.7 1501.0 L1924.7 1501.3 L1928.7 1501.6 L1932.7 1501.9 L1936.7 1502.1 L1940.7 1502.4 L1944.7 1502.7 L1948.6 1502.9 L1952.6 1503.2 L1956.6 1503.4 L1960.6 1503.7 L1964.6 1503.9 L1968.6 1504.1 L1972.6 1504.4 L1976.6 1504.6 L1980.6 1504.8 L1984.6 1505.0 L1988.6 1505.2 L1992.6 1505.4 L1996.6 1505.6 L2000.6 1505.8 L2004.6 1506.0 L2008.6 1506.2 L2012.6 1506.4 L2016.5 1506.5 L2020.5 1506.7 L2024.5 1506.9 L2028.5 1507.0 L2032.5 1507.2 L2036.5 1507.3 L2040.5 1507.5 L2044.5 1507.6 L2048.5 1507.8 L2052.5 1507.9 L2056.5 1508.0 L2060.5 1508.1 L2064.5 1508.2 L2068.5 1508.4 L2072.5 1508.5 L2076.5 1508.6 L2080.5 1508.7 L2084.5 1508.7 L2088.5 1508.8 L2092.5 1508.9 L2096.5 1509.0 L2100.5 1509.0 L2104.5 1509.1 L2108.5 1509.1 L2112.5 1509.2 L2116.5 1509.2 L2120.5 1509.3 L2124.5 1509.3 L2128.5 1509.3 L2132.5 1509.4 L2136.5 1509.4 L2140.5 1509.4 L2144.5 1509.4 L2148.5 1509.4 L2152.5 1509.4 L2156.5 1509.4 L2160.5 1509.4 L2164.5 1509.3 L2168.5 1509.3 L2172.5 1509.3 L2176.5 1509.2 L2180.5 1509.2 L2184.5 1509.1 L2188.5 1509.1 L2191.5 1509.0" stroke="#6600FF"/>
<path class="c" d="M309.0 1201.2 L312.5 1199.9 L316.0 1198.2 L319.5 1196.3 L322.9 1194.1 L326.2 1191.9 L329.4 1189.6 L332.6 1187.1 L335.7 1184.6 L338.8 1182.0 L341.8 1179.4 L344.8 1176.8 L347.7 1174.1 L350.7 1171.3 L353.6 1168.6 L356.5 1165.8 L359.3 1163.0 L362.2 1160.3 L365.1 1157.5 L367.9 1154.7 L370.8 1151.9 L373.7 1149.1 L376.6 1146.3 L379.4 1143.5 L382.3 1140.7 L385.1 1137.9 L387.8 1134.9 L390.5 1132.0 L393.1 1129.0 L395.8 1126.0 L398.4 1123.0 L401.0 1120.0 L403.7 1117.0 L406.4 1114.0 L409.2 1111.2 L412.0 1108.3 L414.9 1105.6 L418.0 1103.0 L421.1 1100.5 L424.3 1098.1 L427.5 1095.7 L430.7 1093.4 L434.0 1091.1 L437.4 1088.9 L440.8 1086.8 L444.2 1084.8 L447.8 1083.0 L451.4 1081.2 L455.1 1079.7 L458.8 1078.2 L462.6 1076.9 L466.4 1075.7 L470.2 1074.4 L474.0 1073.3 L477.8 1072.2 L481.7 1071.2 L485.6 1070.3 L489.5 1069.5 L493.5 1068.9 L497.4 1068.4 L501.4 1068.1 L505.4 1068.0 L509.4 1067.9 L513.4 1067.8 L517.4 1067.9 L521.4 1068.1 L525.4 1068.4 L529.4 1068.9 L533.3 1069.5 L537.2 1070.2 L541.1 1071.1 L545.0 1072.1 L548.8 1073.3 L552.6 1074.5 L556.4 1075.9 L560.1 1077.3 L563.8 1078.8 L567.6 1080.2 L571.3 1081.7 L575.0 1083.1 L578.8 1084.5 L582.5 1085.8 L586.3 1087.2 L590.1 1088.6 L593.8 1089.9 L597.6 1091.2 L601.4 1092.5 L605.2 1093.8 L609.0 1095.0 L612.8 1096.3 L616.6 1097.5 L620.4 1098.7 L624.3 1099.8 L628.1 1100.9 L632.0 1102.0 L635.8 1103.0 L639.7 1103.9 L643.6 1104.8 L647.5 1105.5 L651.5 1106.2 L655.4 1106.7 L659.4 1107.2 L663.4 1107.5 L667.4 1107.8 L671.4 1107.9 L675.4 1107.9 L679.3 1107.6 L683.3 1107.0 L687.1 1106.0 L690.8 1104.6 L694.4 1102.9 L697.9 1101.0 L701.3 1098.9 L704.7 1096.8 L708.1 1094.6 L711.4 1092.4 L714.6 1090.0 L717.6 1087.4 L720.6 1084.7 L723.4 1081.9 L726.2 1079.0 L728.9 1076.1 L731.5 1073.1 L734.1 1070.0 L736.7 1066.9 L739.2 1063.8 L741.6 1060.6 L743.9 1057.4 L746.1 1054.0 L748.2 1050.7 L750.3 1047.2 L752.3 1043.8 L754.3 1040.3 L756.3 1036.8 L758.3 1033.4 L760.2 1029.9 L762.1 1026.3 L763.9 1022.8 L765.8 1019.2 L767.5 1015.7 L769.3 1012.1 L771.1 1008.5 L772.8 1004.9 L774.5 1001.3 L776.3 997.7 L778.0 994.0 L779.7 990.4 L781.4 986.8 L783.1 983.2 L784.8 979.6 L786.5 975.9 L788.1 972.3 L789.8 968.7 L791.4 965.0 L793.1 961.4 L794.7 957.7 L796.3 954.0 L797.9 950.4 L799.5 946.7 L801.1 943.0 L802.7 939.4 L804.3 935.7 L805.9 932.0 L807.5 928.4 L809.0 924.7 L810.5 921.0 L812.0 917.2 L813.4 913.5 L814.8 909.7 L816.1 906.0 L817.4 902.2 L818.5 898.4 L819.7 894.5 L820.7 890.7 L821.6 886.8 L822.5 882.9 L823.4 879.0 L824.3 875.1 L825.1 871.2 L826.0 867.2 L826.9 863.3 L827.8 859.5 L828.7 855.6 L829.7 851.7 L830.8 847.9 L832.0 844.0 L833.2 840.2 L834.4 836.4 L835.7 832.6 L837.0 828.8 L838.3 825.0 L839.6 821.3 L840.9 817.5 L842.2 813.7 L843.5 809.9 L844.8 806.1 L846.0 802.3 L847.2 798.5 L848.3 794.7 L849.5 790.8 L850.6 787.0 L851.7 783.1 L852.8 779.3 L853.8 775.4 L854.9 771.6 L856.0 767.7 L857.0 763.9 L858.1 760.0 L859.2 756.2 L860.2 752.3 L861.3 748.5 L862.4 744.6 L863.6 740.8 L864.7 736.9 L865.9 733.1 L867.1 729.3 L868.4 725.5 L869.7 721.7 L871.1 718.0 L872.5 714.3 L874.1 710.6 L875.9 707.0 L877.7 703.5 L879.6 699.9 L881.5 696.4 L883.5 693.0 L885.5 689.5 L887.6 686.1 L889.7 682.7 L891.9 679.3 L894.1 676.0 L896.3 672.7 L898.7 669.4 L901.0 666.2 L903.5 663.1 L906.0 660.0 L908.6 656.9 L911.2 653.9 L914.0 651.0 L916.8 648.2 L919.7 645.5 L922.8 642.9 L925.9 640.4 L929.1 638.0 L932.5 635.8 L935.9 633.7 L939.3 631.7 L942.8 629.8 L946.4 628.1 L950.1 626.8 L954.0 626.0 L957.9 625.8 L961.7 626.4 L965.3 627.8 L968.7 629.7 L972.0 632.1 L975.0 634.7 L977.8 637.4 L980.6 640.3 L983.2 643.3 L985.7 646.4 L988.0 649.7 L990.2 653.1 L992.1 656.5 L994.1 660.0 L996.0 663.6 L997.9 667.1 L999.8 670.6 L1001.7 674.1 L1003.6 677.6 L1005.6 681.1 L1007.4 684.6 L1009.3 688.2 L1011.2 691.7 L1013.0 695.3 L1014.7 698.9 L1016.4 702.5 L1018.1 706.1 L1019.8 709.7 L1021.5 713.4 L1023.2 717.0 L1024.9 720.6 L1026.6 724.2 L1028.3 727.8 L1030.1 731.4 L1032.0 735.0 L1033.9 738.5 L1035.8 742.0 L1037.7 745.5 L1039.6 749.0 L1041.5 752.6 L1043.3 756.1 L1045.2 759.7 L1046.9 763.2 L1048.7 766.8 L1050.4 770.5 L1052.1 774.1 L1053.7 777.7 L1055.4 781.4 L1057.0 785.0 L1058.6 788.7 L1060.2 792.4 L1061.7 796.1 L1063.1 799.8 L1064.3 803.6 L1065.5 807.4 L1066.6 811.3 L1067.5 815.2 L1068.2 819.1 L1068.8 823.0 L1069.2 827.0 L1069.8 831.0 L1070.5 834.9 L1071.4 838.8 L1072.4 842.7 L1073.5 846.5 L1074.6 850.3 L1075.7 854.2 L1077.0 858.0 L1078.2 861.8 L1079.5 865.6 L1080.8 869.3 L1082.2 873.1 L1083.6 876.8 L1085.0 880.6 L1086.5 884.3 L1088.0 888.0 L1089.6 891.7 L1091.2 895.3 L1092.8 899.0 L1094.4 902.7 L1096.0 906.3 L1097.7 910.0 L1099.3 913.6 L1100.9 917.3 L1102.5 921.0 L1104.0 924.6 L1105.6 928.3 L1107.1 932.0 L1108.6 935.7 L1110.1 939.4 L1111.6 943.2 L1113.1 946.9 L1114.6 950.6 L1116.1 954.3 L1117.6 958.0 L1119.1 961.7 L1120.6 965.4 L1122.1 969.1 L1123.6 972.8 L1125.2 976.5 L1126.7 980.2 L1128.2 983.9 L1129.7 987.6 L1131.3 991.3 L1132.8 995.0 L1134.3 998.7 L1135.9 1002.4 L1137.4 1006.1 L1139.0 1009.7 L1140.6 1013.4 L1142.2 1017.1 L1143.8 1020.7 L1145.4 1024.4 L1147.0 1028.1 L1148.6 1031.8 L1150.1 1035.4 L1151.7 1039.1 L1153.3 1042.8 L1154.9 1046.4 L1156.5 1050.1 L1158.1 1053.8 L1159.7 1057.4 L1161.3 1061.1 L1162.9 1064.8 L1164.5 1068.4 L1166.1 1072.1 L1167.8 1075.7 L1169.4 1079.4 L1171.1 1083.0 L1172.7 1086.7 L1174.4 1090.3 L1176.1 1093.9 L1177.8 1097.5 L1179.6 1101.1 L1181.4 1104.7 L1183.1 1108.3 L1185.0 1111.9 L1186.8 1115.4 L1188.7 1118.9 L1190.6 1122.4 L1192.6 1125.9 L1194.6 1129.4 L1196.6 1132.9 L1198.6 1136.3 L1200.7 1139.7 L1202.7 1143.1 L1204.8 1146.6 L1206.9 1149.9 L1209.1 1153.3 L1211.2 1156.7 L1213.4 1160.1 L1215.6 1163.4 L1217.8 1166.7 L1220.0 1170.1 L1222.2 1173.4 L1224.5 1176.7 L1226.7 1180.0 L1229.0 1183.3 L1231.2 1186.6 L1233.5 1189.9 L1235.8 1193.2 L1238.0 1196.5 L1240.3 1199.8 L1242.6 1203.1 L1244.8 1206.4 L1247.1 1209.7 L1249.3 1213.0 L1251.5 1216.4 L1253.7 1219.7 L1255.9 1223.1 L1258.1 1226.4 L1260.2 1229.8 L1262.4 1233.2 L1264.5 1236.6 L1266.6 1240.0 L1268.7 1243.3 L1270.9 1246.7 L1273.0 1250.1 L1275.2 1253.5 L1277.4 1256.8 L1279.6 1260.1 L1281.9 1263.4 L1284.1 1266.7 L1286.5 1270.0 L1288.9 1273.1 L1291.4 1276.3 L1293.9 1279.4 L1296.6 1282.3 L1299.4 1285.2 L1302.3 1287.9 L1305.4 1290.5 L1308.5 1292.9 L1311.8 1295.2 L1315.1 1297.5 L1318.3 1299.9 L1321.5 1302.2 L1324.8 1304.6 L1328.0 1307.0 L1331.2 1309.4 L1334.4 1311.8 L1337.6 1314.2 L1340.8 1316.6 L1343.9 1319.0 L1347.1 1321.4 L1350.3 1323.8 L1353.5 1326.2 L1356.7 1328.6 L1360.0 1330.9 L1363.2 1333.3 L1366.5 1335.6 L1369.8 1337.9 L1373.0 1340.2 L1376.3 1342.5 L1379.6 1344.7 L1382.9 1347.0 L1386.3 1349.2 L1389.7 1351.3 L1393.1 1353.4 L1396.5 1355.5 L1400.0 1357.4 L1403.5 1359.3 L1407.0 1361.2 L1410.6 1363.1 L1414.1 1364.9 L1417.7 1366.7 L1421.3 1368.5 L1424.9 1370.2 L1428.5 1371.9 L1432.1 1373.7 L1435.7 1375.3 L1439.4 1377.0 L1443.0 1378.7 L1446.7 1380.3 L1450.3 1381.9 L1454.0 1383.5 L1457.7 1385.1 L1461.3 1386.7 L1465.0 1388.3 L1468.7 1389.9 L1472.4 1391.4 L1476.1 1393.0 L1479.7 1394.5 L1483.4 1396.0 L1487.1 1397.6 L1490.8 1399.1 L1494.5 1400.6 L1498.2 1402.1 L1502.0 1403.6 L1505.7 1405.1 L1509.4 1406.5 L1513.1 1408.0 L1516.8 1409.5 L1520.6 1410.9 L1524.3 1412.4 L1528.0 1413.8 L1531.8 1415.2 L1535.5 1416.6 L1539.3 1418.0 L1543.0 1419.5 L1546.7 1420.9 L1550.5 1422.3 L1554.2 1423.8 L1557.9 1425.2 L1561.7 1426.6 L1565.4 1428.1 L1569.1 1429.5 L1572.9 1430.9 L1576.6 1432.3 L1580.4 1433.7 L1584.2 1435.0 L1587.9 1436.3 L1591.7 1437.6 L1595.5 1438.9 L1599.3 1440.1 L1603.1 1441.3 L1607.0 1442.5 L1610.8 1443.6 L1614.7 1444.6 L1618.5 1445.7 L1622.4 1446.7 L1626.3 1447.7 L1630.1 1448.7 L1634.0 1449.6 L1637.9 1450.6 L1641.8 1451.5 L1645.7 1452.5 L1649.6 1453.4 L1653.5 1454.3 L1657.4 1455.2 L1661.3 1456.1 L1665.2 1457.0 L1669.1 1457.8 L1673.0 1458.7 L1676.9 1459.5 L1680.8 1460.4 L1684.7 1461.2 L1688.6 1462.0 L1692.6 1462.8 L1696.5 1463.7 L1700.4 1464.5 L1704.3 1465.2 L1708.2 1466.0 L1712.2 1466.8 L1716.1 1467.6 L1720.0 1468.4 L1723.9 1469.1 L1727.9 1469.9 L1731.8 1470.6 L1735.7 1471.4 L1739.6 1472.1 L1743.6 1472.9 L1747.5 1473.6 L1751.4 1474.3 L1755.4 1475.1 L1759.3 1475.8 L1763.2 1476.6 L1767.2 1477.3 L1771.1 1478.1 L1775.0 1478.9 L1778.9 1479.7 L1782.9 1480.4 L1786.8 1481.2 L1790.7 1482.0 L1794.6 1482.8 L1798.6 1483.5 L1802.5 1484.3 L1806.4 1485.0 L1810.3 1485.8 L1814.3 1486.5 L1818.2 1487.3 L1822.1 1488.0 L1826.1 1488.7 L1830.0 1489.4 L1833.9 1490.1 L1837.9 1490.8 L1841.8 1491.4 L1845.8 1492.0 L1849.7 1492.7 L1853.7 1493.3 L1857.7 1493.8 L1861.6 1494.4 L1865.6 1494.9 L1869.6 1495.4 L1873.5 1495.8 L1877.5 1496.3 L1881.5 1496.7 L1885.5 1497.1 L1889.4 1497.4 L1893.4 1497.8 L1897.4 1498.1 L1901.4 1498.5 L1905.4 1498.8 L1909.4 1499.1 L1913.4 1499.5 L1917.3 1499.8 L1921.3 1500.1 L1925.3 1500.4 L1929.3 1500.7 L1933.3 1501.0 L1937.3 1501.3 L1941.3 1501.6 L1945.3 1501.9 L1949.3 1502.2 L1953.2 1502.5 L1957.2 1502.7 L1961.2 1503.0 L1965.2 1503.3 L1969.2 1503.5 L1973.2 1503.8 L1977.2 1504.0 L1981.2 1504.2 L1985.2 1504.5 L1989.2 1504.7 L1993.2 1504.9 L1997.2 1505.1 L2001.2 1505.4 L2005.2 1505.6 L2009.1 1505.8 L2013.1 1506.0 L2017.1 1506.1 L2021.1 1506.3 L2025.1 1506.5 L2029.1 1506.7 L2033.1 1506.8 L2037.1 1507.0 L2041.1 1507.1 L2045.1 1507.3 L2049.1 1507.4 L2053.1 1507.6 L2057.1 1507.7 L2061.1 1507.8 L2065.1 1507.9 L2069.1 1508.1 L2073.1 1508.2 L2077.1 1508.3 L2081.1 1508.4 L2085.1 1508.5 L2089.1 1508.5 L2093.1 1508.6 L2097.1 1508.7 L2101.1 1508.7 L2105.1 1508.8 L2109.1 1508.9 L2113.1 1508.9 L2117.1 1508.9 L2121.1 1509.0 L2125.1 1509.0 L2129.1 1509.0 L2133.1 1509.0 L2137.1 1509.0 L2141.1 1509.0 L2145.1 1509.0 L2149.1 1509.0 L2153.1 1509.0 L2157.1 1509.0 L2161.1 1508.9 L2165.1 1508.9 L2169.1 1508.9 L2173.1 1508.8 L2177.1 1508.8 L2181.1 1508.7 L2185.1 1508.6 L2189.0 1508.5 L2191.5 1508.5" stroke="#00FFFF"/>
<path class="c" d="M309.0 1215.1 L312.5 1213.9 L316.1 1212.3 L319.7 1210.4 L323.1 1208.4 L326.5 1206.3 L329.9 1204.1 L333.2 1201.9 L336.4 1199.5 L339.6 1197.1 L342.7 1194.7 L345.9 1192.1 L348.9 1189.6 L352.0 1187.0 L355.0 1184.4 L358.0 1181.7 L361.0 1179.1 L363.9 1176.4 L366.9 1173.7 L369.8 1171.0 L372.8 1168.2 L375.7 1165.5 L378.6 1162.8 L381.5 1160.0 L384.4 1157.3 L387.3 1154.6 L390.3 1151.8 L393.2 1149.1 L396.2 1146.4 L399.1 1143.7 L402.0 1140.9 L404.8 1138.1 L407.5 1135.2 L410.2 1132.2 L412.9 1129.2 L415.5 1126.2 L418.2 1123.2 L420.9 1120.3 L423.6 1117.3 L426.4 1114.5 L429.2 1111.7 L432.2 1109.0 L435.4 1106.6 L438.7 1104.4 L442.1 1102.3 L445.6 1100.5 L449.2 1098.7 L452.9 1097.1 L456.6 1095.6 L460.3 1094.2 L464.1 1092.8 L467.9 1091.5 L471.7 1090.3 L475.5 1089.1 L479.3 1087.8 L483.1 1086.5 L486.8 1085.2 L490.6 1083.8 L494.4 1082.5 L498.2 1081.2 L502.0 1080.1 L505.9 1079.2 L509.8 1078.6 L513.8 1078.3 L517.7 1078.5 L521.6 1079.2 L525.4 1080.2 L529.1 1081.7 L532.7 1083.4 L536.3 1085.3 L539.7 1087.3 L543.1 1089.4 L546.5 1091.5 L550.0 1093.5 L553.4 1095.5 L556.9 1097.4 L560.5 1099.2 L564.1 1101.0 L567.6 1102.8 L571.2 1104.6 L574.8 1106.4 L578.4 1108.2 L582.0 1110.0 L585.6 1111.7 L589.2 1113.3 L592.9 1114.9 L596.6 1116.5 L600.3 1117.9 L604.1 1119.3 L607.8 1120.6 L611.6 1121.9 L615.4 1123.1 L619.3 1124.2 L623.1 1125.4 L627.0 1126.4 L630.8 1127.5 L634.7 1128.5 L638.6 1129.5 L642.5 1130.4 L646.4 1131.3 L650.3 1132.2 L654.2 1132.9 L658.1 1133.4 L662.1 1133.6 L666.1 1133.5 L670.1 1133.1 L674.0 1132.3 L677.8 1131.4 L681.7 1130.3 L685.5 1129.0 L689.2 1127.6 L692.8 1125.9 L696.3 1124.0 L699.6 1121.8 L702.8 1119.4 L705.9 1116.9 L709.0 1114.4 L712.1 1111.8 L715.1 1109.2 L718.2 1106.7 L721.4 1104.2 L724.5 1101.7 L727.6 1099.1 L730.6 1096.5 L733.5 1093.8 L736.2 1090.9 L738.8 1087.8 L741.2 1084.6 L743.4 1081.3 L745.4 1077.9 L747.3 1074.4 L749.2 1070.8 L751.0 1067.3 L752.8 1063.7 L754.7 1060.1 L756.5 1056.6 L758.4 1053.1 L760.3 1049.6 L762.3 1046.1 L764.3 1042.6 L766.3 1039.2 L768.3 1035.7 L770.3 1032.2 L772.2 1028.7 L774.1 1025.2 L776.0 1021.7 L777.8 1018.1 L779.5 1014.5 L781.2 1010.9 L782.9 1007.2 L784.4 1003.6 L786.0 999.9 L787.5 996.2 L789.0 992.5 L790.5 988.8 L792.0 985.0 L793.5 981.3 L795.0 977.6 L796.5 973.9 L798.0 970.2 L799.5 966.5 L801.0 962.8 L802.6 959.1 L804.1 955.4 L805.6 951.7 L807.2 948.0 L808.7 944.3 L810.2 940.6 L811.7 936.9 L813.2 933.2 L814.6 929.5 L816.0 925.7 L817.3 921.9 L818.7 918.2 L819.9 914.4 L821.2 910.6 L822.4 906.8 L823.6 902.9 L824.7 899.1 L825.8 895.3 L826.9 891.4 L828.0 887.6 L829.1 883.7 L830.2 879.9 L831.2 876.0 L832.2 872.1 L833.3 868.3 L834.3 864.4 L835.3 860.5 L836.3 856.7 L837.4 852.8 L838.3 848.9 L839.3 845.1 L840.3 841.2 L841.2 837.3 L842.1 833.4 L843.0 829.5 L843.9 825.6 L844.8 821.7 L845.7 817.8 L846.6 813.9 L847.6 810.0 L848.6 806.1 L849.6 802.3 L850.6 798.4 L851.6 794.5 L852.7 790.7 L853.7 786.8 L854.7 782.9 L855.8 779.1 L856.8 775.2 L857.8 771.3 L858.9 767.5 L859.9 763.6 L861.0 759.8 L862.1 755.9 L863.2 752.1 L864.3 748.2 L865.4 744.4 L866.5 740.6 L867.7 736.7 L868.9 732.9 L870.1 729.1 L871.4 725.3 L872.7 721.5 L874.0 717.8 L875.4 714.0 L876.9 710.3 L878.4 706.6 L880.0 702.9 L881.6 699.3 L883.2 695.6 L884.8 691.9 L886.4 688.3 L888.0 684.6 L889.6 680.9 L891.2 677.3 L892.8 673.6 L894.5 670.0 L896.1 666.3 L897.8 662.7 L899.5 659.1 L901.2 655.5 L903.0 651.9 L904.7 648.3 L906.5 644.7 L908.4 641.2 L910.3 637.6 L912.3 634.2 L914.3 630.7 L916.4 627.3 L918.6 624.0 L920.9 620.7 L923.3 617.5 L925.9 614.5 L928.7 611.7 L931.8 609.1 L935.1 607.0 L938.6 605.2 L942.3 603.8 L946.1 602.6 L950.0 601.7 L953.9 601.2 L957.9 601.0 L961.8 601.3 L965.8 601.9 L969.6 603.0 L973.3 604.4 L976.9 606.0 L980.4 607.9 L983.8 610.0 L987.1 612.3 L990.1 614.9 L992.8 617.8 L995.2 620.9 L997.4 624.3 L999.5 627.7 L1001.5 631.2 L1003.4 634.7 L1005.2 638.2 L1006.9 641.8 L1008.6 645.5 L1010.1 649.1 L1011.7 652.8 L1013.2 656.5 L1014.7 660.2 L1016.4 663.9 L1018.1 667.5 L1020.1 670.9 L1022.3 674.2 L1024.7 677.5 L1027.1 680.6 L1029.4 683.9 L1031.5 687.3 L1033.4 690.8 L1035.1 694.4 L1036.7 698.1 L1038.2 701.8 L1039.7 705.5 L1041.1 709.2 L1042.5 713.0 L1043.9 716.7 L1045.3 720.4 L1046.8 724.2 L1048.2 727.9 L1049.7 731.6 L1051.2 735.3 L1052.7 739.0 L1054.2 742.7 L1055.7 746.5 L1057.2 750.2 L1058.7 753.9 L1060.1 757.6 L1061.6 761.3 L1063.1 765.0 L1064.6 768.8 L1066.0 772.5 L1067.5 776.2 L1069.0 779.9 L1070.4 783.6 L1071.8 787.4 L1073.1 791.2 L1074.4 795.0 L1075.6 798.8 L1076.7 802.6 L1077.7 806.5 L1078.5 810.4 L1079.1 814.3 L1079.7 818.3 L1080.2 822.3 L1080.7 826.2 L1081.3 830.2 L1082.2 834.1 L1083.2 837.9 L1084.4 841.8 L1085.6 845.6 L1086.9 849.4 L1088.2 853.1 L1089.5 856.9 L1090.9 860.6 L1092.4 864.4 L1093.9 868.1 L1095.4 871.8 L1097.0 875.4 L1098.6 879.1 L1100.2 882.8 L1101.9 886.4 L1103.6 890.0 L1105.4 893.6 L1107.1 897.2 L1108.8 900.8 L1110.6 904.4 L1112.3 908.0 L1114.0 911.6 L1115.7 915.3 L1117.3 918.9 L1119.0 922.6 L1120.5 926.2 L1122.1 929.9 L1123.6 933.6 L1125.2 937.3 L1126.7 941.0 L1128.2 944.7 L1129.7 948.4 L1131.2 952.1 L1132.7 955.8 L1134.2 959.5 L1135.7 963.2 L1137.2 967.0 L1138.7 970.7 L1140.3 974.4 L1141.8 978.1 L1143.3 981.8 L1144.8 985.5 L1146.3 989.2 L1147.8 992.9 L1149.4 996.6 L1150.9 1000.3 L1152.5 1003.9 L1154.0 1007.6 L1155.6 1011.3 L1157.2 1015.0 L1158.7 1018.7 L1160.3 1022.3 L1161.9 1026.0 L1163.5 1029.7 L1165.1 1033.3 L1166.7 1037.0 L1168.3 1040.7 L1169.9 1044.3 L1171.5 1048.0 L1173.1 1051.7 L1174.6 1055.4 L1176.3 1059.0 L1177.9 1062.7 L1179.5 1066.3 L1181.1 1070.0 L1182.7 1073.7 L1184.4 1077.3 L1186.0 1080.9 L1187.7 1084.6 L1189.4 1088.2 L1191.1 1091.8 L1192.8 1095.5 L1194.5 1099.1 L1196.2 1102.7 L1198.0 1106.2 L1199.8 1109.8 L1201.7 1113.4 L1203.5 1116.9 L1205.4 1120.4 L1207.3 1123.9 L1209.3 1127.4 L1211.3 1130.9 L1213.3 1134.4 L1215.3 1137.8 L1217.4 1141.2 L1219.5 1144.6 L1221.6 1148.0 L1223.7 1151.4 L1225.9 1154.8 L1228.0 1158.1 L1230.2 1161.5 L1232.5 1164.8 L1234.7 1168.1 L1236.9 1171.4 L1239.2 1174.7 L1241.5 1178.0 L1243.8 1181.3 L1246.0 1184.6 L1248.3 1187.9 L1250.7 1191.1 L1253.0 1194.4 L1255.3 1197.7 L1257.6 1200.9 L1259.9 1204.2 L1262.2 1207.5 L1264.5 1210.7 L1266.8 1214.0 L1269.2 1217.2 L1271.5 1220.5 L1273.9 1223.7 L1276.3 1226.9 L1278.6 1230.1 L1281.1 1233.3 L1283.5 1236.5 L1285.9 1239.7 L1288.4 1242.8 L1290.9 1245.9 L1293.5 1249.0 L1296.1 1252.1 L1298.7 1255.1 L1301.4 1258.0 L1304.1 1261.0 L1306.9 1263.8 L1309.7 1266.6 L1312.6 1269.4 L1315.5 1272.2 L1318.3 1275.0 L1321.1 1277.9 L1323.9 1280.7 L1326.7 1283.6 L1329.5 1286.5 L1332.3 1289.3 L1335.2 1292.1 L1338.1 1294.8 L1341.2 1297.4 L1344.3 1299.9 L1347.5 1302.3 L1350.7 1304.7 L1353.9 1307.0 L1357.2 1309.4 L1360.4 1311.7 L1363.6 1314.1 L1366.8 1316.5 L1370.0 1318.9 L1373.2 1321.3 L1376.4 1323.7 L1379.5 1326.3 L1382.5 1328.9 L1385.5 1331.5 L1388.5 1334.2 L1391.4 1336.9 L1394.5 1339.5 L1397.6 1341.9 L1400.9 1344.2 L1404.2 1346.4 L1407.7 1348.5 L1411.1 1350.5 L1414.6 1352.5 L1418.0 1354.5 L1421.6 1356.4 L1425.1 1358.3 L1428.6 1360.1 L1432.2 1362.0 L1435.8 1363.7 L1439.4 1365.5 L1443.0 1367.2 L1446.6 1368.9 L1450.2 1370.6 L1453.8 1372.3 L1457.5 1374.0 L1461.1 1375.6 L1464.8 1377.3 L1468.4 1379.0 L1472.0 1380.6 L1475.7 1382.3 L1479.3 1383.9 L1483.0 1385.6 L1486.6 1387.2 L1490.3 1388.8 L1493.9 1390.4 L1497.6 1392.1 L1501.3 1393.7 L1504.9 1395.2 L1508.6 1396.8 L1512.3 1398.4 L1516.0 1399.9 L1519.7 1401.5 L1523.4 1403.0 L1527.1 1404.5 L1530.8 1405.9 L1534.5 1407.4 L1538.3 1408.8 L1542.0 1410.3 L1545.7 1411.7 L1549.5 1413.1 L1553.2 1414.5 L1557.0 1415.9 L1560.7 1417.3 L1564.5 1418.7 L1568.2 1420.1 L1572.0 1421.5 L1575.7 1422.8 L1579.5 1424.1 L1583.3 1425.5 L1587.1 1426.8 L1590.9 1428.0 L1594.7 1429.3 L1598.5 1430.5 L1602.3 1431.7 L1606.1 1432.9 L1609.9 1434.0 L1613.8 1435.1 L1617.6 1436.2 L1621.5 1437.3 L1625.3 1438.4 L1629.2 1439.5 L1633.0 1440.5 L1636.9 1441.6 L1640.8 1442.6 L1644.6 1443.6 L1648.5 1444.7 L1652.4 1445.7 L1656.2 1446.7 L1660.1 1447.7 L1664.0 1448.7 L1667.9 1449.7 L1671.7 1450.6 L1675.6 1451.6 L1679.5 1452.6 L1683.4 1453.5 L1687.3 1454.5 L1691.2 1455.4 L1695.1 1456.3 L1699.0 1457.3 L1702.8 1458.2 L1706.7 1459.1 L1710.6 1460.0 L1714.5 1460.9 L1718.4 1461.8 L1722.3 1462.7 L1726.2 1463.5 L1730.1 1464.4 L1734.0 1465.3 L1738.0 1466.1 L1741.9 1467.0 L1745.8 1467.8 L1749.7 1468.7 L1753.6 1469.5 L1757.5 1470.3 L1761.4 1471.2 L1765.3 1472.0 L1769.2 1472.9 L1773.1 1473.7 L1777.0 1474.6 L1780.9 1475.5 L1784.9 1476.3 L1788.8 1477.2 L1792.7 1478.1 L1796.6 1478.9 L1800.5 1479.8 L1804.4 1480.6 L1808.3 1481.5 L1812.2 1482.3 L1816.1 1483.1 L1820.0 1483.9 L1824.0 1484.7 L1827.9 1485.5 L1831.8 1486.3 L1835.7 1487.0 L1839.7 1487.8 L1843.6 1488.5 L1847.5 1489.2 L1851.5 1489.8 L1855.4 1490.5 L1859.4 1491.1 L1863.3 1491.7 L1867.3 1492.2 L1871.3 1492.8 L1875.2 1493.3 L1879.2 1493.7 L1883.2 1494.2 L1887.2 1494.6 L1891.1 1495.0 L1895.1 1495.4 L1899.1 1495.8 L1903.1 1496.1 L1907.1 1496.5 L1911.1 1496.9 L1915.0 1497.3 L1919.0 1497.6 L1923.0 1498.0 L1927.0 1498.3 L1931.0 1498.7 L1935.0 1499.0 L1939.0 1499.3 L1942.9 1499.7 L1946.9 1500.0 L1950.9 1500.3 L1954.9 1500.6 L1958.9 1500.9 L1962.9 1501.2 L1966.9 1501.5 L1970.9 1501.8 L1974.8 1502.1 L1978.8 1502.3 L1982.8 1502.6 L1986.8 1502.9 L1990.8 1503.1 L1994.8 1503.4 L1998.8 1503.6 L2002.8 1503.9 L2006.8 1504.1 L2010.8 1504.3 L2014.8 1504.6 L2018.8 1504.8 L2022.8 1505.0 L2026.8 1505.2 L2030.7 1505.4 L2034.7 1505.6 L2038.7 1505.8 L2042.7 1505.9 L2046.7 1506.1 L2050.7 1506.3 L2054.7 1506.4 L2058.7 1506.6 L2062.7 1506.7 L2066.7 1506.9 L2070.7 1507.0 L2074.7 1507.1 L2078.7 1507.2 L2082.7 1507.4 L2086.7 1507.5 L2090.7 1507.6 L2094.7 1507.7 L2098.7 1507.7 L2102.7 1507.8 L2106.7 1507.9 L2110.7 1507.9 L2114.7 1508.0 L2118.7 1508.1 L2122.7 1508.1 L2126.7 1508.1 L2130.7 1508.2 L2134.7 1508.2 L2138.7 1508.2 L2142.7 1508.2 L2146.7 1508.2 L2150.7 1508.2 L2154.7 1508.2 L2158.7 1508.2 L2162.7 1508.1 L2166.7 1508.1 L2170.7 1508.0 L2174.7 1508.0 L2178.7 1507.9 L2182.7 1507.9 L2186.7 1507.8 L2190.6 1507.7 L2191.5 1507.7" stroke="#FF66FF"/>
<path class="c" d="M309.0 1244.6 L311.9 1243.1 L315.1 1240.7 L318.0 1238.0 L320.7 1235.1 L323.4 1232.2 L326.0 1229.1 L328.5 1226.1 L331.1 1223.0 L333.7 1219.9 L336.4 1217.0 L339.1 1214.0 L341.9 1211.2 L344.7 1208.3 L347.5 1205.5 L350.4 1202.7 L353.2 1199.9 L356.1 1197.1 L359.0 1194.3 L361.8 1191.5 L364.7 1188.8 L367.7 1186.0 L370.6 1183.3 L373.6 1180.7 L376.6 1178.0 L379.6 1175.4 L382.7 1172.8 L385.7 1170.2 L388.7 1167.6 L391.8 1165.0 L394.8 1162.4 L397.9 1159.9 L401.0 1157.4 L404.2 1155.0 L407.5 1152.6 L410.8 1150.5 L414.3 1148.5 L417.8 1146.6 L421.4 1144.9 L425.1 1143.3 L428.8 1141.8 L432.5 1140.4 L436.3 1139.0 L440.1 1137.8 L443.9 1136.7 L447.8 1135.7 L451.7 1135.0 L455.7 1134.4 L459.6 1134.0 L463.6 1133.8 L467.6 1133.6 L471.6 1133.5 L475.6 1133.4 L479.6 1133.4 L483.6 1133.5 L487.6 1133.5 L491.6 1133.7 L495.6 1133.9 L499.6 1134.1 L503.6 1134.4 L507.6 1134.8 L511.5 1135.2 L515.5 1135.8 L519.5 1136.4 L523.4 1137.0 L527.3 1137.7 L531.3 1138.5 L535.2 1139.4 L539.1 1140.3 L542.9 1141.5 L546.6 1142.8 L550.3 1144.3 L553.9 1146.0 L557.5 1147.9 L561.0 1149.8 L564.5 1151.8 L567.9 1153.8 L571.3 1155.9 L574.7 1158.0 L578.1 1160.1 L581.4 1162.4 L584.6 1164.7 L587.8 1167.2 L591.0 1169.6 L594.2 1171.9 L597.6 1174.0 L601.1 1175.9 L604.7 1177.6 L608.4 1179.1 L612.1 1180.6 L615.9 1181.9 L619.7 1183.2 L623.5 1184.5 L627.3 1185.7 L631.1 1186.9 L634.9 1188.1 L638.8 1189.3 L642.6 1190.5 L646.3 1191.8 L650.1 1193.1 L653.9 1194.4 L657.7 1195.7 L661.5 1196.8 L665.4 1197.8 L669.3 1198.6 L673.2 1199.0 L677.2 1198.9 L681.0 1198.2 L684.8 1196.9 L688.4 1195.3 L692.0 1193.5 L695.5 1191.6 L698.9 1189.6 L702.3 1187.5 L705.7 1185.3 L708.9 1183.0 L712.1 1180.5 L715.1 1178.0 L718.2 1175.4 L721.2 1172.7 L724.1 1170.0 L727.1 1167.4 L730.1 1164.7 L733.0 1162.0 L735.9 1159.2 L738.7 1156.3 L741.4 1153.4 L744.1 1150.4 L746.6 1147.3 L749.0 1144.1 L751.4 1140.9 L753.6 1137.6 L755.6 1134.2 L757.5 1130.7 L759.3 1127.1 L760.9 1123.4 L762.5 1119.7 L764.0 1116.0 L765.4 1112.3 L766.8 1108.5 L768.2 1104.8 L769.6 1101.0 L771.0 1097.3 L772.4 1093.5 L773.8 1089.8 L775.3 1086.1 L776.8 1082.4 L778.4 1078.7 L780.1 1075.1 L781.8 1071.5 L783.6 1067.9 L785.5 1064.4 L787.4 1060.9 L789.3 1057.4 L791.2 1053.8 L793.0 1050.3 L794.7 1046.7 L796.4 1043.0 L798.0 1039.3 L799.5 1035.6 L800.9 1031.9 L802.2 1028.1 L803.5 1024.3 L804.7 1020.5 L805.9 1016.7 L807.1 1012.9 L808.3 1009.1 L809.4 1005.2 L810.6 1001.4 L811.7 997.6 L812.8 993.7 L814.0 989.9 L815.1 986.1 L816.2 982.2 L817.3 978.4 L818.4 974.5 L819.5 970.7 L820.6 966.8 L821.6 963.0 L822.7 959.1 L823.8 955.3 L824.8 951.4 L825.9 947.5 L827.0 943.7 L828.0 939.8 L829.1 936.0 L830.2 932.1 L831.3 928.3 L832.5 924.5 L833.6 920.6 L834.7 916.8 L835.8 912.9 L836.9 909.1 L838.0 905.2 L839.1 901.4 L840.1 897.5 L841.1 893.6 L842.0 889.8 L842.9 885.9 L843.8 882.0 L844.6 878.0 L845.4 874.1 L846.1 870.2 L846.9 866.3 L847.6 862.3 L848.4 858.4 L849.1 854.5 L849.9 850.5 L850.6 846.6 L851.4 842.7 L852.1 838.8 L852.8 834.8 L853.6 830.9 L854.3 827.0 L855.0 823.0 L855.8 819.1 L856.5 815.2 L857.3 811.2 L858.2 807.3 L859.0 803.4 L860.0 799.5 L860.9 795.6 L861.8 791.8 L862.8 787.9 L863.8 784.0 L864.8 780.1 L865.8 776.3 L866.8 772.4 L867.9 768.5 L868.9 764.7 L870.0 760.8 L871.1 757.0 L872.2 753.1 L873.3 749.3 L874.4 745.4 L875.5 741.6 L876.6 737.8 L877.7 733.9 L878.9 730.1 L880.0 726.2 L881.1 722.4 L882.2 718.6 L883.4 714.7 L884.5 710.9 L885.6 707.0 L886.7 703.2 L887.7 699.3 L888.8 695.5 L889.8 691.6 L890.9 687.8 L891.9 683.9 L893.0 680.0 L894.0 676.2 L895.0 672.3 L896.0 668.4 L897.1 664.6 L898.1 660.7 L899.1 656.8 L900.2 653.0 L901.3 649.1 L902.3 645.3 L903.4 641.4 L904.5 637.6 L905.7 633.7 L906.8 629.9 L908.0 626.1 L909.2 622.3 L910.5 618.5 L911.9 614.7 L913.3 611.0 L914.8 607.3 L916.3 603.6 L917.9 599.9 L919.6 596.3 L921.4 592.7 L923.2 589.1 L925.1 585.6 L927.1 582.2 L929.3 578.8 L931.7 575.7 L934.3 572.7 L937.3 570.1 L940.4 567.7 L943.7 565.4 L947.1 563.3 L950.6 561.3 L954.1 559.4 L957.8 557.9 L961.6 556.8 L965.5 556.3 L969.4 556.4 L973.2 557.0 L977.0 558.3 L980.6 559.9 L984.0 561.9 L987.4 564.1 L990.6 566.5 L993.6 569.1 L996.5 571.8 L999.2 574.7 L1001.6 577.9 L1003.8 581.2 L1005.9 584.7 L1007.9 588.1 L1009.9 591.6 L1011.8 595.1 L1013.8 598.6 L1015.6 602.1 L1017.5 605.6 L1019.4 609.2 L1021.3 612.7 L1023.2 616.2 L1025.1 619.7 L1027.0 623.2 L1029.0 626.7 L1031.0 630.2 L1032.9 633.7 L1034.7 637.3 L1036.5 640.8 L1038.1 644.5 L1039.6 648.2 L1041.0 651.9 L1042.2 655.7 L1043.4 659.6 L1044.6 663.4 L1045.8 667.2 L1047.1 671.0 L1048.5 674.7 L1049.9 678.5 L1051.4 682.2 L1052.9 685.9 L1054.5 689.5 L1056.1 693.2 L1057.7 696.9 L1059.4 700.5 L1061.0 704.2 L1062.7 707.8 L1064.4 711.4 L1066.1 715.0 L1067.8 718.7 L1069.5 722.3 L1071.1 725.9 L1072.7 729.6 L1074.2 733.3 L1075.8 737.0 L1077.2 740.7 L1078.7 744.4 L1080.2 748.2 L1081.6 751.9 L1083.1 755.6 L1084.6 759.3 L1086.1 763.0 L1087.7 766.7 L1089.3 770.4 L1090.8 774.1 L1092.3 777.8 L1093.7 781.5 L1095.0 785.3 L1096.3 789.1 L1097.4 792.9 L1098.4 796.8 L1099.3 800.7 L1100.2 804.6 L1101.0 808.5 L1101.9 812.4 L1102.8 816.3 L1103.7 820.2 L1104.7 824.0 L1105.9 827.9 L1107.0 831.7 L1108.3 835.5 L1109.5 839.3 L1110.8 843.1 L1112.1 846.9 L1113.4 850.7 L1114.7 854.5 L1116.1 858.2 L1117.4 862.0 L1118.8 865.7 L1120.2 869.5 L1121.6 873.2 L1123.1 877.0 L1124.5 880.7 L1125.9 884.4 L1127.4 888.1 L1128.9 891.9 L1130.4 895.6 L1131.8 899.3 L1133.3 903.0 L1134.8 906.7 L1136.3 910.4 L1137.8 914.2 L1139.2 917.9 L1140.7 921.6 L1142.1 925.3 L1143.6 929.1 L1145.0 932.8 L1146.5 936.5 L1147.9 940.3 L1149.3 944.0 L1150.7 947.7 L1152.2 951.5 L1153.6 955.2 L1155.0 958.9 L1156.4 962.7 L1157.9 966.4 L1159.3 970.2 L1160.7 973.9 L1162.2 977.6 L1163.6 981.4 L1165.0 985.1 L1166.5 988.8 L1168.0 992.5 L1169.4 996.2 L1170.9 1000.0 L1172.4 1003.7 L1173.9 1007.4 L1175.4 1011.1 L1177.0 1014.8 L1178.5 1018.5 L1180.1 1022.1 L1181.6 1025.8 L1183.2 1029.5 L1184.8 1033.2 L1186.4 1036.9 L1187.9 1040.5 L1189.5 1044.2 L1191.1 1047.9 L1192.7 1051.5 L1194.3 1055.2 L1195.9 1058.9 L1197.5 1062.5 L1199.2 1066.2 L1200.8 1069.8 L1202.5 1073.5 L1204.1 1077.1 L1205.8 1080.8 L1207.5 1084.4 L1209.1 1088.0 L1210.9 1091.6 L1212.6 1095.2 L1214.3 1098.8 L1216.1 1102.4 L1217.8 1106.0 L1219.6 1109.6 L1221.5 1113.2 L1223.3 1116.7 L1225.2 1120.2 L1227.1 1123.8 L1229.0 1127.3 L1231.0 1130.8 L1233.0 1134.2 L1235.0 1137.7 L1237.0 1141.1 L1239.1 1144.5 L1241.3 1147.9 L1243.4 1151.3 L1245.6 1154.6 L1247.8 1157.9 L1250.1 1161.2 L1252.4 1164.5 L1254.7 1167.8 L1257.0 1171.0 L1259.4 1174.3 L1261.8 1177.5 L1264.1 1180.7 L1266.5 1183.9 L1268.9 1187.1 L1271.3 1190.3 L1273.8 1193.5 L1276.2 1196.7 L1278.6 1199.8 L1281.1 1203.0 L1283.5 1206.2 L1286.0 1209.3 L1288.4 1212.5 L1290.9 1215.6 L1293.4 1218.8 L1295.8 1221.9 L1298.3 1225.1 L1300.7 1228.2 L1303.2 1231.4 L1305.6 1234.6 L1308.1 1237.7 L1310.6 1240.9 L1313.1 1244.0 L1315.6 1247.1 L1318.2 1250.1 L1320.9 1253.1 L1323.6 1256.0 L1326.4 1258.8 L1329.3 1261.7 L1332.1 1264.5 L1335.0 1267.3 L1337.8 1270.1 L1340.7 1272.9 L1343.5 1275.8 L1346.2 1278.6 L1349.0 1281.5 L1351.8 1284.3 L1354.7 1287.1 L1357.7 1289.8 L1360.7 1292.4 L1363.8 1294.9 L1367.0 1297.3 L1370.2 1299.7 L1373.4 1302.1 L1376.7 1304.4 L1379.9 1306.8 L1383.1 1309.2 L1386.2 1311.7 L1389.4 1314.1 L1392.7 1316.4 L1395.9 1318.7 L1399.3 1320.8 L1402.8 1322.9 L1406.3 1324.8 L1409.9 1326.5 L1413.5 1328.2 L1417.2 1329.8 L1420.9 1331.2 L1424.7 1332.5 L1428.5 1333.8 L1432.2 1335.1 L1435.9 1336.7 L1439.4 1338.5 L1442.8 1340.6 L1446.1 1342.9 L1449.3 1345.3 L1452.4 1347.8 L1455.5 1350.3 L1458.7 1352.7 L1461.9 1355.1 L1465.2 1357.3 L1468.7 1359.3 L1472.2 1361.2 L1475.8 1363.0 L1479.4 1364.8 L1483.0 1366.4 L1486.6 1368.1 L1490.3 1369.7 L1494.0 1371.3 L1497.7 1372.8 L1501.4 1374.4 L1505.1 1375.9 L1508.8 1377.4 L1512.5 1378.8 L1516.2 1380.3 L1519.9 1381.8 L1523.6 1383.3 L1527.3 1384.8 L1531.0 1386.3 L1534.7 1387.9 L1538.4 1389.4 L1542.1 1391.0 L1545.8 1392.6 L1549.4 1394.2 L1553.1 1395.8 L1556.7 1397.4 L1560.4 1399.1 L1564.0 1400.7 L1567.7 1402.3 L1571.3 1404.0 L1575.0 1405.6 L1578.7 1407.2 L1582.3 1408.8 L1586.0 1410.4 L1589.7 1411.9 L1593.4 1413.4 L1597.1 1414.9 L1600.8 1416.4 L1604.5 1417.9 L1608.3 1419.3 L1612.1 1420.6 L1615.8 1421.9 L1619.6 1423.2 L1623.4 1424.5 L1627.2 1425.8 L1631.0 1427.1 L1634.8 1428.3 L1638.6 1429.5 L1642.4 1430.8 L1646.2 1432.0 L1650.0 1433.2 L1653.9 1434.3 L1657.7 1435.5 L1661.5 1436.7 L1665.3 1437.8 L1669.2 1439.0 L1673.0 1440.1 L1676.8 1441.2 L1680.7 1442.3 L1684.5 1443.4 L1688.4 1444.5 L1692.2 1445.6 L1696.1 1446.7 L1699.9 1447.7 L1703.8 1448.8 L1707.7 1449.8 L1711.5 1450.8 L1715.4 1451.9 L1719.3 1452.9 L1723.1 1453.9 L1727.0 1454.9 L1730.9 1455.9 L1734.8 1456.9 L1738.6 1457.9 L1742.5 1458.8 L1746.4 1459.8 L1750.3 1460.8 L1754.2 1461.7 L1758.0 1462.7 L1761.9 1463.7 L1765.8 1464.7 L1769.7 1465.7 L1773.6 1466.6 L1777.4 1467.6 L1781.3 1468.6 L1785.2 1469.6 L1789.0 1470.6 L1792.9 1471.6 L1796.8 1472.6 L1800.7 1473.6 L1804.6 1474.6 L1808.4 1475.5 L1812.3 1476.5 L1816.2 1477.4 L1820.1 1478.4 L1824.0 1479.3 L1827.9 1480.2 L1831.8 1481.1 L1835.7 1481.9 L1839.6 1482.8 L1843.5 1483.6 L1847.4 1484.4 L1851.4 1485.1 L1855.3 1485.9 L1859.2 1486.6 L1863.2 1487.3 L1867.1 1487.9 L1871.1 1488.5 L1875.0 1489.1 L1879.0 1489.7 L1883.0 1490.2 L1886.9 1490.6 L1890.9 1491.1 L1894.9 1491.6 L1898.9 1492.0 L1902.8 1492.4 L1906.8 1492.9 L1910.8 1493.3 L1914.8 1493.7 L1918.7 1494.2 L1922.7 1494.6 L1926.7 1495.0 L1930.7 1495.4 L1934.7 1495.8 L1938.6 1496.2 L1942.6 1496.6 L1946.6 1497.0 L1950.6 1497.3 L1954.6 1497.7 L1958.6 1498.1 L1962.5 1498.4 L1966.5 1498.8 L1970.5 1499.1 L1974.5 1499.5 L1978.5 1499.8 L1982.5 1500.1 L1986.4 1500.5 L1990.4 1500.8 L1994.4 1501.1 L1998.4 1501.4 L2002.4 1501.7 L2006.4 1502.0 L2010.4 1502.2 L2014.4 1502.5 L2018.4 1502.8 L2022.4 1503.1 L2026.3 1503.3 L2030.3 1503.6 L2034.3 1503.8 L2038.3 1504.0 L2042.3 1504.3 L2046.3 1504.5 L2050.3 1504.7 L2054.3 1504.9 L2058.3 1505.1 L2062.3 1505.3 L2066.3 1505.5 L2070.3 1505.7 L2074.3 1505.8 L2078.3 1506.0 L2082.3 1506.1 L2086.3 1506.3 L2090.3 1506.4 L2094.3 1506.6 L2098.3 1506.7 L2102.3 1506.8 L2106.3 1506.9 L2110.3 1507.0 L2114.3 1507.1 L2118.3 1507.2 L2122.3 1507.2 L2126.3 1507.3 L2130.3 1507.4 L2134.3 1507.4 L2138.3 1507.5 L2142.3 1507.5 L2146.3 1507.5 L2150.3 1507.5 L2154.3 1507.5 L2158.3 1507.5 L2162.3 1507.5 L2166.3 1507.5 L2170.3 1507.5 L2174.3 1507.4 L2178.3 1507.4 L2182.3 1507.3 L2186.2 1507.3 L2190.1 1507.2 L2191.5 1507.2" stroke="#00FF00"/>
<path class="c" d="M309.0 1266.5 L312.3 1265.1 L315.6 1263.1 L318.8 1260.7 L321.9 1258.1 L324.8 1255.5 L327.7 1252.7 L330.6 1249.9 L333.4 1247.1 L336.3 1244.3 L339.2 1241.6 L342.1 1238.8 L345.0 1236.1 L347.9 1233.3 L350.7 1230.5 L353.6 1227.7 L356.4 1224.8 L359.2 1222.0 L362.1 1219.2 L364.9 1216.4 L367.8 1213.6 L370.8 1210.9 L373.7 1208.2 L376.8 1205.6 L379.8 1203.1 L382.9 1200.5 L386.0 1198.0 L389.1 1195.5 L392.2 1193.0 L395.4 1190.5 L398.6 1188.1 L401.9 1185.8 L405.3 1183.7 L408.7 1181.8 L412.3 1180.1 L416.1 1178.7 L419.9 1177.7 L423.8 1176.9 L427.8 1176.4 L431.8 1176.0 L435.7 1175.6 L439.7 1175.4 L443.7 1175.1 L447.7 1174.8 L451.7 1174.4 L455.7 1174.0 L459.6 1173.3 L463.5 1172.5 L467.4 1171.6 L471.3 1170.8 L475.2 1170.3 L479.1 1170.3 L483.0 1171.0 L486.7 1172.3 L490.4 1173.8 L494.0 1175.5 L497.7 1177.1 L501.4 1178.5 L505.2 1179.7 L509.0 1180.9 L512.9 1181.9 L516.7 1183.0 L520.6 1184.0 L524.4 1185.1 L528.3 1186.2 L532.1 1187.5 L535.9 1188.8 L539.6 1190.3 L543.2 1191.9 L546.8 1193.6 L550.4 1195.5 L553.9 1197.4 L557.3 1199.5 L560.7 1201.6 L564.0 1203.8 L567.3 1206.0 L570.6 1208.3 L573.9 1210.6 L577.1 1213.0 L580.2 1215.5 L583.3 1218.1 L586.2 1220.8 L589.1 1223.5 L592.0 1226.3 L595.0 1229.0 L598.0 1231.5 L601.2 1233.9 L604.5 1236.1 L607.9 1238.3 L611.3 1240.4 L614.8 1242.3 L618.3 1244.2 L621.9 1245.9 L625.6 1247.4 L629.4 1248.8 L633.2 1250.0 L637.0 1251.1 L640.9 1252.2 L644.8 1253.2 L648.7 1254.1 L652.6 1254.9 L656.5 1255.7 L660.4 1256.3 L664.4 1256.7 L668.4 1257.0 L672.4 1257.1 L676.4 1257.0 L680.3 1256.6 L684.3 1255.9 L688.1 1254.9 L691.8 1253.5 L695.3 1251.7 L698.6 1249.5 L701.8 1247.1 L704.9 1244.6 L708.0 1242.1 L711.2 1239.6 L714.4 1237.2 L717.5 1234.8 L720.7 1232.3 L723.8 1229.8 L726.8 1227.1 L729.6 1224.4 L732.4 1221.5 L735.0 1218.4 L737.5 1215.3 L739.9 1212.1 L742.2 1208.9 L744.5 1205.6 L746.8 1202.3 L749.1 1199.0 L751.3 1195.7 L753.4 1192.3 L755.6 1188.9 L757.6 1185.5 L759.7 1182.1 L761.6 1178.6 L763.6 1175.1 L765.5 1171.6 L767.4 1168.1 L769.2 1164.5 L771.0 1160.9 L772.7 1157.3 L774.4 1153.7 L776.0 1150.0 L777.6 1146.4 L779.2 1142.7 L780.8 1139.0 L782.3 1135.3 L783.8 1131.6 L785.4 1127.9 L786.9 1124.2 L788.4 1120.5 L789.9 1116.8 L791.4 1113.1 L792.9 1109.4 L794.4 1105.7 L795.9 1102.0 L797.3 1098.2 L798.7 1094.5 L800.1 1090.8 L801.5 1087.0 L802.9 1083.2 L804.2 1079.5 L805.5 1075.7 L806.8 1071.9 L808.1 1068.1 L809.3 1064.3 L810.6 1060.5 L811.8 1056.7 L812.9 1052.9 L814.1 1049.0 L815.2 1045.2 L816.2 1041.3 L817.2 1037.4 L818.2 1033.6 L819.1 1029.7 L820.0 1025.8 L820.9 1021.9 L821.7 1018.0 L822.6 1014.1 L823.4 1010.1 L824.3 1006.2 L825.2 1002.3 L826.0 998.4 L826.9 994.5 L827.8 990.6 L828.7 986.7 L829.6 982.8 L830.5 978.9 L831.4 975.1 L832.4 971.2 L833.3 967.3 L834.2 963.4 L835.2 959.5 L836.1 955.6 L837.0 951.7 L837.9 947.8 L838.8 943.9 L839.7 940.0 L840.6 936.1 L841.4 932.2 L842.3 928.3 L843.1 924.4 L843.9 920.5 L844.7 916.5 L845.5 912.6 L846.2 908.7 L847.0 904.8 L847.8 900.8 L848.5 896.9 L849.2 893.0 L850.0 889.0 L850.7 885.1 L851.5 881.2 L852.2 877.3 L853.0 873.3 L853.8 869.4 L854.6 865.5 L855.4 861.6 L856.2 857.7 L857.1 853.8 L858.0 849.9 L859.0 846.0 L860.0 842.1 L861.0 838.2 L862.1 834.4 L863.3 830.6 L864.4 826.7 L865.6 822.9 L866.8 819.1 L867.9 815.3 L869.1 811.4 L870.1 807.6 L871.2 803.7 L872.2 799.9 L873.3 796.0 L874.3 792.1 L875.3 788.3 L876.3 784.4 L877.3 780.5 L878.3 776.6 L879.3 772.8 L880.3 768.9 L881.2 765.0 L882.1 761.1 L883.0 757.2 L883.9 753.3 L884.8 749.4 L885.7 745.5 L886.5 741.6 L887.3 737.7 L888.1 733.7 L888.8 729.8 L889.6 725.9 L890.3 722.0 L891.0 718.0 L891.7 714.1 L892.4 710.1 L893.0 706.2 L893.5 702.2 L893.9 698.2 L894.3 694.3 L894.7 690.3 L895.0 686.3 L895.3 682.3 L895.7 678.3 L896.0 674.3 L896.4 670.3 L896.8 666.4 L897.2 662.4 L897.8 658.4 L898.5 654.5 L899.2 650.6 L899.9 646.6 L900.7 642.7 L901.4 638.8 L902.2 634.9 L903.1 630.9 L903.9 627.0 L904.8 623.1 L905.8 619.3 L906.7 615.4 L907.8 611.5 L908.8 607.7 L910.0 603.8 L911.3 600.0 L912.7 596.3 L914.2 592.6 L915.9 589.0 L917.6 585.4 L919.5 581.8 L921.3 578.3 L923.2 574.8 L925.1 571.2 L926.9 567.7 L928.9 564.2 L930.8 560.7 L932.8 557.2 L934.8 553.7 L936.8 550.3 L938.9 546.9 L941.1 543.6 L943.3 540.2 L945.7 537.0 L948.1 533.8 L950.7 530.8 L953.4 527.8 L956.1 524.9 L958.8 522.0 L961.6 519.1 L964.3 516.2 L967.2 513.4 L970.1 510.7 L973.3 508.3 L976.7 506.4 L980.3 505.1 L984.0 504.9 L987.7 505.7 L991.2 507.3 L994.4 509.6 L997.5 512.2 L1000.3 514.9 L1003.1 517.8 L1005.9 520.7 L1008.5 523.7 L1010.9 526.9 L1013.1 530.2 L1015.2 533.6 L1017.2 537.1 L1019.0 540.6 L1020.6 544.3 L1022.2 547.9 L1023.8 551.6 L1025.5 555.2 L1027.4 558.7 L1029.5 562.1 L1031.7 565.5 L1033.9 568.8 L1036.1 572.2 L1038.1 575.6 L1040.1 579.1 L1041.9 582.7 L1043.5 586.3 L1045.1 590.0 L1046.6 593.7 L1048.1 597.4 L1049.5 601.1 L1050.8 604.9 L1052.1 608.7 L1053.3 612.5 L1054.4 616.3 L1055.5 620.2 L1056.5 624.1 L1057.5 627.9 L1058.5 631.8 L1059.4 635.7 L1060.4 639.6 L1061.5 643.4 L1062.6 647.3 L1063.8 651.1 L1065.2 654.8 L1066.9 658.4 L1068.7 662.0 L1070.6 665.5 L1072.4 669.0 L1073.9 672.7 L1075.3 676.5 L1076.4 680.3 L1077.5 684.1 L1078.6 688.0 L1079.6 691.9 L1080.6 695.7 L1081.6 699.6 L1082.7 703.5 L1083.8 707.3 L1085.0 711.1 L1086.2 714.9 L1087.5 718.7 L1088.7 722.5 L1090.1 726.3 L1091.4 730.1 L1092.7 733.8 L1094.1 737.6 L1095.5 741.4 L1096.9 745.1 L1098.3 748.8 L1099.7 752.6 L1101.2 756.3 L1102.8 760.0 L1104.3 763.7 L1105.8 767.4 L1107.3 771.1 L1108.7 774.8 L1110.0 778.6 L1111.3 782.4 L1112.4 786.2 L1113.5 790.1 L1114.6 793.9 L1115.6 797.8 L1116.6 801.7 L1117.7 805.5 L1118.7 809.4 L1119.8 813.2 L1120.8 817.1 L1122.0 820.9 L1123.2 824.7 L1124.4 828.5 L1125.8 832.3 L1127.1 836.1 L1128.5 839.8 L1129.9 843.6 L1131.3 847.3 L1132.8 851.0 L1134.3 854.8 L1135.8 858.5 L1137.3 862.2 L1138.8 865.9 L1140.4 869.5 L1141.9 873.2 L1143.5 876.9 L1145.1 880.6 L1146.7 884.2 L1148.3 887.9 L1149.9 891.6 L1151.5 895.3 L1153.0 898.9 L1154.6 902.6 L1156.2 906.3 L1157.7 910.0 L1159.3 913.7 L1160.8 917.4 L1162.3 921.1 L1163.7 924.8 L1165.2 928.5 L1166.6 932.3 L1168.0 936.0 L1169.4 939.8 L1170.8 943.5 L1172.2 947.3 L1173.5 951.0 L1174.9 954.8 L1176.2 958.6 L1177.5 962.3 L1178.9 966.1 L1180.2 969.9 L1181.5 973.7 L1182.8 977.4 L1184.2 981.2 L1185.5 985.0 L1186.9 988.7 L1188.3 992.5 L1189.6 996.2 L1191.0 1000.0 L1192.5 1003.7 L1193.9 1007.5 L1195.4 1011.2 L1196.9 1014.9 L1198.4 1018.6 L1200.0 1022.3 L1201.6 1025.9 L1203.2 1029.6 L1204.8 1033.3 L1206.4 1036.9 L1208.1 1040.6 L1209.7 1044.2 L1211.4 1047.8 L1213.1 1051.5 L1214.7 1055.1 L1216.4 1058.7 L1218.2 1062.3 L1219.9 1065.9 L1221.6 1069.5 L1223.4 1073.1 L1225.2 1076.7 L1226.9 1080.3 L1228.7 1083.9 L1230.6 1087.4 L1232.4 1091.0 L1234.3 1094.5 L1236.1 1098.1 L1238.0 1101.6 L1239.9 1105.1 L1241.9 1108.6 L1243.8 1112.1 L1245.8 1115.6 L1247.8 1119.0 L1249.8 1122.5 L1251.9 1125.9 L1253.9 1129.4 L1256.0 1132.8 L1258.1 1136.2 L1260.2 1139.6 L1262.3 1143.0 L1264.5 1146.3 L1266.6 1149.7 L1268.8 1153.1 L1271.0 1156.4 L1273.2 1159.8 L1275.4 1163.1 L1277.6 1166.4 L1279.9 1169.7 L1282.2 1173.0 L1284.4 1176.3 L1286.7 1179.6 L1289.0 1182.8 L1291.4 1186.1 L1293.7 1189.3 L1296.1 1192.6 L1298.4 1195.8 L1300.8 1199.0 L1303.2 1202.2 L1305.7 1205.4 L1308.1 1208.5 L1310.6 1211.7 L1313.1 1214.8 L1315.7 1217.8 L1318.3 1220.9 L1321.0 1223.8 L1323.7 1226.7 L1326.5 1229.6 L1329.4 1232.4 L1332.2 1235.2 L1335.1 1238.0 L1338.0 1240.8 L1340.8 1243.6 L1343.7 1246.4 L1346.5 1249.2 L1349.4 1252.0 L1352.2 1254.8 L1355.0 1257.7 L1357.7 1260.6 L1360.4 1263.6 L1362.9 1266.7 L1365.3 1269.9 L1367.7 1273.1 L1370.1 1276.3 L1372.5 1279.4 L1375.2 1282.4 L1378.0 1285.2 L1381.1 1287.7 L1384.4 1289.8 L1387.9 1291.7 L1391.5 1293.5 L1395.0 1295.5 L1398.3 1297.7 L1401.4 1300.2 L1404.3 1302.9 L1407.1 1305.7 L1409.9 1308.6 L1412.8 1311.3 L1415.9 1313.8 L1419.1 1316.1 L1422.5 1318.2 L1426.0 1320.1 L1429.6 1321.8 L1433.3 1323.5 L1436.9 1325.1 L1440.6 1326.6 L1444.3 1328.2 L1448.1 1329.6 L1451.8 1331.1 L1455.5 1332.5 L1459.2 1334.0 L1462.9 1335.5 L1466.6 1337.1 L1470.2 1338.7 L1473.9 1340.4 L1477.5 1342.1 L1481.1 1343.9 L1484.7 1345.6 L1488.3 1347.4 L1491.8 1349.2 L1495.4 1351.1 L1498.9 1352.9 L1502.5 1354.7 L1506.0 1356.6 L1509.6 1358.4 L1513.2 1360.2 L1516.7 1362.1 L1520.3 1363.9 L1523.8 1365.7 L1527.4 1367.5 L1531.0 1369.2 L1534.6 1371.0 L1538.2 1372.7 L1541.8 1374.4 L1545.5 1376.1 L1549.1 1377.8 L1552.7 1379.6 L1556.3 1381.3 L1559.9 1383.0 L1563.6 1384.6 L1567.2 1386.3 L1570.8 1388.0 L1574.4 1389.7 L1578.1 1391.3 L1581.7 1393.0 L1585.4 1394.6 L1589.1 1396.2 L1592.7 1397.8 L1596.4 1399.4 L1600.1 1400.9 L1603.8 1402.4 L1607.5 1403.9 L1611.2 1405.4 L1614.9 1406.9 L1618.7 1408.3 L1622.4 1409.7 L1626.2 1411.1 L1629.9 1412.5 L1633.6 1413.9 L1637.4 1415.3 L1641.1 1416.7 L1644.9 1418.1 L1648.7 1419.5 L1652.4 1420.8 L1656.2 1422.2 L1660.0 1423.5 L1663.7 1424.9 L1667.5 1426.2 L1671.3 1427.5 L1675.0 1428.8 L1678.8 1430.1 L1682.6 1431.4 L1686.4 1432.7 L1690.2 1434.0 L1694.0 1435.3 L1697.8 1436.5 L1701.6 1437.8 L1705.4 1439.0 L1709.2 1440.2 L1713.0 1441.4 L1716.8 1442.7 L1720.6 1443.9 L1724.5 1445.0 L1728.3 1446.2 L1732.1 1447.4 L1735.9 1448.5 L1739.8 1449.7 L1743.6 1450.8 L1747.4 1451.9 L1751.3 1453.0 L1755.1 1454.2 L1759.0 1455.3 L1762.8 1456.4 L1766.7 1457.5 L1770.5 1458.6 L1774.3 1459.8 L1778.2 1460.9 L1782.0 1462.0 L1785.8 1463.2 L1789.7 1464.3 L1793.5 1465.4 L1797.4 1466.5 L1801.2 1467.6 L1805.1 1468.7 L1808.9 1469.8 L1812.8 1470.9 L1816.6 1471.9 L1820.5 1473.0 L1824.3 1474.0 L1828.2 1475.0 L1832.1 1476.0 L1836.0 1477.0 L1839.9 1477.9 L1843.7 1478.8 L1847.6 1479.7 L1851.6 1480.6 L1855.5 1481.4 L1859.4 1482.2 L1863.3 1482.9 L1867.2 1483.7 L1871.2 1484.4 L1875.1 1485.0 L1879.1 1485.6 L1883.0 1486.2 L1887.0 1486.7 L1891.0 1487.2 L1894.9 1487.7 L1898.9 1488.2 L1902.9 1488.7 L1906.9 1489.2 L1910.8 1489.7 L1914.8 1490.2 L1918.8 1490.7 L1922.7 1491.2 L1926.7 1491.6 L1930.7 1492.1 L1934.7 1492.6 L1938.6 1493.0 L1942.6 1493.4 L1946.6 1493.9 L1950.6 1494.3 L1954.5 1494.7 L1958.5 1495.2 L1962.5 1495.6 L1966.5 1496.0 L1970.4 1496.4 L1974.4 1496.8 L1978.4 1497.2 L1982.4 1497.6 L1986.4 1497.9 L1990.4 1498.3 L1994.3 1498.7 L1998.3 1499.0 L2002.3 1499.4 L2006.3 1499.7 L2010.3 1500.1 L2014.3 1500.4 L2018.3 1500.7 L2022.2 1501.0 L2026.2 1501.3 L2030.2 1501.6 L2034.2 1501.9 L2038.2 1502.2 L2042.2 1502.5 L2046.2 1502.7 L2050.2 1503.0 L2054.2 1503.2 L2058.2 1503.5 L2062.1 1503.7 L2066.1 1503.9 L2070.1 1504.2 L2074.1 1504.4 L2078.1 1504.6 L2082.1 1504.8 L2086.1 1504.9 L2090.1 1505.1 L2094.1 1505.3 L2098.1 1505.4 L2102.1 1505.6 L2106.1 1505.7 L2110.1 1505.9 L2114.1 1506.0 L2118.1 1506.1 L2122.1 1506.2 L2126.1 1506.3 L2130.1 1506.4 L2134.1 1506.4 L2138.1 1506.5 L2142.1 1506.6 L2146.1 1506.6 L2150.1 1506.6 L2154.1 1506.7 L2158.1 1506.7 L2162.1 1506.7 L2166.1 1506.7 L2170.1 1506.6 L2174.1 1506.6 L2178.1 1506.6 L2182.1 1506.5 L2186.1 1506.5 L2190.0 1506.4 L2191.5 1506.4" stroke="#663300"/>
<path class="c" d="M309.0 1284.4 L312.5 1283.2 L316.0 1281.5 L319.4 1279.4 L322.7 1277.1 L326.0 1274.8 L329.2 1272.4 L332.4 1270.1 L335.7 1267.7 L339.0 1265.5 L342.3 1263.3 L345.7 1261.2 L349.2 1259.2 L352.6 1257.1 L356.1 1255.1 L359.5 1253.1 L363.0 1251.1 L366.4 1249.0 L369.8 1247.0 L373.2 1244.9 L376.6 1242.8 L380.0 1240.6 L383.3 1238.3 L386.5 1236.0 L389.7 1233.5 L392.8 1231.0 L395.9 1228.5 L399.0 1226.0 L402.2 1223.6 L405.4 1221.2 L408.7 1219.0 L412.1 1216.9 L415.7 1215.0 L419.3 1213.4 L423.0 1212.0 L426.8 1210.7 L430.7 1209.6 L434.5 1208.6 L438.4 1207.6 L442.3 1206.9 L446.3 1206.3 L450.2 1205.8 L454.2 1205.6 L458.2 1205.5 L462.2 1205.6 L466.2 1205.9 L470.2 1206.3 L474.1 1206.8 L478.1 1207.4 L482.0 1208.0 L486.0 1208.8 L489.9 1209.6 L493.8 1210.4 L497.7 1211.3 L501.6 1212.3 L505.4 1213.6 L509.1 1215.0 L512.7 1216.6 L516.3 1218.4 L519.8 1220.3 L523.2 1222.4 L526.5 1224.6 L529.8 1227.0 L532.9 1229.4 L536.1 1231.9 L539.2 1234.4 L542.3 1236.9 L545.4 1239.5 L548.5 1242.0 L551.7 1244.4 L554.9 1246.8 L558.1 1249.1 L561.5 1251.3 L564.8 1253.5 L568.2 1255.6 L571.6 1257.7 L575.1 1259.8 L578.5 1261.8 L581.9 1263.9 L585.4 1265.9 L588.8 1268.0 L592.2 1270.0 L595.6 1272.1 L599.0 1274.3 L602.3 1276.5 L605.6 1278.7 L608.9 1281.1 L612.1 1283.4 L615.4 1285.7 L618.7 1288.0 L622.0 1290.2 L625.4 1292.2 L629.0 1294.1 L632.5 1295.9 L636.2 1297.6 L639.9 1299.1 L643.6 1300.6 L647.3 1302.0 L651.1 1303.3 L654.9 1304.4 L658.8 1305.3 L662.8 1305.9 L666.7 1306.2 L670.7 1306.3 L674.7 1305.9 L678.6 1305.3 L682.5 1304.4 L686.3 1303.2 L690.1 1302.0 L693.9 1300.6 L697.6 1299.2 L701.3 1297.7 L704.9 1296.0 L708.5 1294.2 L711.9 1292.2 L715.4 1290.1 L718.7 1287.9 L722.0 1285.7 L725.3 1283.4 L728.5 1281.0 L731.6 1278.5 L734.5 1275.8 L737.4 1273.0 L740.0 1270.0 L742.6 1267.0 L745.1 1263.8 L747.5 1260.6 L749.8 1257.4 L751.9 1254.0 L753.9 1250.5 L755.9 1247.0 L757.7 1243.5 L759.4 1239.9 L761.1 1236.3 L762.8 1232.6 L764.4 1229.0 L766.0 1225.3 L767.6 1221.6 L769.2 1218.0 L770.7 1214.3 L772.2 1210.6 L773.7 1206.8 L775.1 1203.1 L776.5 1199.4 L777.9 1195.6 L779.3 1191.8 L780.6 1188.1 L782.0 1184.3 L783.3 1180.5 L784.6 1176.8 L785.9 1173.0 L787.3 1169.2 L788.6 1165.4 L789.9 1161.6 L791.1 1157.9 L792.4 1154.1 L793.6 1150.3 L794.9 1146.4 L796.1 1142.6 L797.4 1138.8 L798.6 1135.1 L800.0 1131.3 L801.4 1127.6 L802.9 1123.8 L804.4 1120.2 L806.1 1116.5 L807.7 1112.9 L809.4 1109.3 L811.1 1105.6 L812.8 1102.0 L814.3 1098.3 L815.8 1094.6 L817.2 1090.8 L818.5 1087.1 L819.8 1083.3 L820.9 1079.4 L822.1 1075.6 L823.2 1071.8 L824.2 1067.9 L825.2 1064.0 L826.2 1060.2 L827.2 1056.3 L828.2 1052.4 L829.2 1048.5 L830.1 1044.6 L831.1 1040.8 L832.1 1036.9 L833.0 1033.0 L834.0 1029.1 L835.0 1025.2 L835.9 1021.3 L836.9 1017.5 L837.8 1013.6 L838.7 1009.7 L839.7 1005.8 L840.6 1001.9 L841.5 998.0 L842.4 994.1 L843.3 990.2 L844.2 986.3 L845.0 982.4 L845.9 978.5 L846.8 974.6 L847.7 970.7 L848.5 966.8 L849.4 962.9 L850.2 959.0 L851.0 955.0 L851.9 951.1 L852.7 947.2 L853.5 943.3 L854.3 939.4 L855.1 935.5 L855.9 931.5 L856.6 927.6 L857.4 923.7 L858.2 919.8 L858.9 915.8 L859.6 911.9 L860.4 908.0 L861.1 904.0 L861.8 900.1 L862.5 896.2 L863.2 892.2 L863.8 888.3 L864.4 884.3 L865.0 880.4 L865.7 876.4 L866.3 872.5 L866.9 868.5 L867.5 864.5 L868.1 860.6 L868.7 856.6 L869.4 852.7 L870.1 848.8 L870.8 844.8 L871.5 840.9 L872.2 836.9 L872.9 833.0 L873.6 829.1 L874.4 825.2 L875.1 821.2 L875.9 817.3 L876.6 813.4 L877.4 809.4 L878.1 805.5 L878.9 801.6 L879.7 797.7 L880.5 793.7 L881.3 789.8 L882.2 785.9 L883.1 782.0 L884.0 778.1 L884.9 774.2 L885.8 770.3 L886.7 766.4 L887.6 762.5 L888.4 758.6 L889.3 754.7 L890.1 750.8 L891.0 746.9 L891.8 743.0 L892.5 739.1 L893.3 735.1 L894.0 731.2 L894.7 727.2 L895.3 723.3 L896.0 719.4 L896.6 715.4 L897.2 711.4 L897.7 707.5 L898.1 703.5 L898.4 699.5 L898.7 695.5 L899.0 691.5 L899.2 687.5 L899.4 683.5 L899.6 679.6 L899.8 675.6 L900.0 671.6 L900.2 667.6 L900.4 663.6 L900.7 659.6 L901.0 655.6 L901.5 651.6 L902.1 647.7 L903.0 643.8 L904.0 639.9 L905.0 636.1 L906.1 632.2 L907.2 628.4 L908.3 624.5 L909.4 620.7 L910.6 616.9 L911.8 613.1 L913.0 609.2 L914.2 605.4 L915.5 601.6 L916.8 597.9 L918.2 594.1 L919.5 590.3 L920.9 586.6 L922.4 582.9 L923.8 579.1 L925.3 575.4 L926.9 571.7 L928.4 568.1 L930.1 564.4 L931.7 560.8 L933.4 557.1 L935.1 553.5 L936.8 549.9 L938.6 546.3 L940.3 542.7 L942.2 539.2 L944.0 535.6 L945.8 532.0 L947.7 528.5 L949.5 525.0 L951.4 521.4 L953.2 517.9 L955.1 514.3 L956.9 510.8 L958.7 507.2 L960.5 503.6 L962.3 500.0 L964.0 496.4 L965.6 492.8 L967.2 489.1 L968.8 485.4 L970.3 481.7 L971.7 478.0 L973.2 474.3 L974.7 470.6 L976.2 466.9 L977.8 463.2 L979.4 459.5 L981.1 455.9 L983.0 452.4 L985.1 449.1 L987.6 446.1 L990.6 444.1 L994.0 443.3 L997.4 444.0 L1000.7 445.8 L1003.6 448.4 L1006.3 451.3 L1008.9 454.4 L1011.3 457.5 L1013.7 460.7 L1016.1 463.9 L1018.4 467.2 L1020.6 470.5 L1022.7 473.9 L1024.8 477.4 L1026.8 480.8 L1028.7 484.3 L1030.6 487.8 L1032.5 491.4 L1034.3 494.9 L1036.0 498.6 L1037.7 502.2 L1039.3 505.8 L1040.9 509.5 L1042.4 513.2 L1043.8 517.0 L1045.2 520.7 L1046.5 524.5 L1047.9 528.3 L1049.3 532.0 L1050.8 535.7 L1052.3 539.4 L1053.6 543.2 L1054.8 547.0 L1056.0 550.8 L1057.1 554.7 L1058.2 558.5 L1059.3 562.4 L1060.3 566.2 L1061.4 570.1 L1062.6 573.9 L1063.7 577.7 L1065.0 581.5 L1066.2 585.3 L1067.5 589.1 L1068.9 592.9 L1070.2 596.6 L1071.6 600.4 L1073.0 604.1 L1074.4 607.9 L1075.8 611.6 L1077.2 615.4 L1078.6 619.1 L1079.9 622.9 L1081.3 626.7 L1082.5 630.5 L1083.8 634.2 L1085.1 638.0 L1086.3 641.8 L1087.5 645.7 L1088.7 649.5 L1089.9 653.3 L1091.2 657.1 L1092.4 660.9 L1093.6 664.7 L1094.8 668.5 L1096.0 672.4 L1097.2 676.2 L1098.4 680.0 L1099.6 683.8 L1100.8 687.6 L1102.0 691.4 L1103.2 695.2 L1104.4 699.0 L1105.6 702.9 L1106.8 706.7 L1108.1 710.5 L1109.3 714.3 L1110.5 718.1 L1111.7 721.9 L1113.0 725.7 L1114.3 729.5 L1115.5 733.3 L1116.8 737.1 L1118.2 740.8 L1119.5 744.6 L1120.8 748.4 L1122.1 752.2 L1123.5 755.9 L1124.8 759.7 L1126.2 763.5 L1127.5 767.2 L1128.8 771.0 L1130.2 774.8 L1131.6 778.5 L1133.1 782.2 L1134.5 786.0 L1135.8 789.7 L1137.2 793.5 L1138.5 797.3 L1139.7 801.1 L1140.8 805.0 L1141.7 808.8 L1142.6 812.7 L1143.3 816.7 L1143.9 820.6 L1144.6 824.5 L1145.5 828.5 L1146.5 832.3 L1147.6 836.2 L1148.8 840.0 L1150.1 843.7 L1151.4 847.5 L1152.8 851.3 L1154.2 855.0 L1155.7 858.7 L1157.2 862.5 L1158.7 866.1 L1160.3 869.8 L1161.9 873.5 L1163.6 877.1 L1165.3 880.7 L1167.0 884.3 L1168.7 887.9 L1170.5 891.5 L1172.2 895.1 L1174.0 898.7 L1175.7 902.4 L1177.4 906.0 L1179.0 909.6 L1180.7 913.3 L1182.3 916.9 L1183.8 920.6 L1185.3 924.3 L1186.8 928.0 L1188.3 931.8 L1189.7 935.5 L1191.1 939.3 L1192.5 943.0 L1193.9 946.8 L1195.2 950.5 L1196.6 954.3 L1198.0 958.0 L1199.3 961.8 L1200.7 965.5 L1202.1 969.3 L1203.4 973.1 L1204.8 976.8 L1206.1 980.6 L1207.5 984.4 L1208.9 988.1 L1210.2 991.9 L1211.6 995.6 L1213.0 999.4 L1214.4 1003.1 L1215.8 1006.9 L1217.2 1010.6 L1218.7 1014.3 L1220.1 1018.1 L1221.6 1021.8 L1223.0 1025.5 L1224.5 1029.3 L1225.9 1033.0 L1227.4 1036.7 L1228.8 1040.4 L1230.3 1044.2 L1231.8 1047.9 L1233.2 1051.6 L1234.7 1055.3 L1236.2 1059.0 L1237.8 1062.7 L1239.3 1066.4 L1240.9 1070.1 L1242.5 1073.7 L1244.1 1077.4 L1245.8 1081.0 L1247.5 1084.6 L1249.3 1088.2 L1251.1 1091.8 L1253.0 1095.3 L1255.0 1098.8 L1257.0 1102.2 L1259.0 1105.7 L1261.1 1109.1 L1263.3 1112.5 L1265.4 1115.8 L1267.6 1119.2 L1269.9 1122.5 L1272.1 1125.8 L1274.4 1129.0 L1276.8 1132.3 L1279.1 1135.5 L1281.5 1138.7 L1283.9 1141.9 L1286.3 1145.1 L1288.7 1148.3 L1291.2 1151.5 L1293.5 1154.7 L1295.9 1157.9 L1298.2 1161.2 L1300.5 1164.5 L1302.7 1167.8 L1304.9 1171.2 L1307.1 1174.5 L1309.2 1177.9 L1311.4 1181.3 L1313.6 1184.6 L1315.9 1187.9 L1318.2 1191.1 L1320.8 1194.2 L1323.4 1197.2 L1326.2 1200.0 L1329.1 1202.8 L1332.0 1205.6 L1334.9 1208.3 L1337.7 1211.2 L1340.4 1214.1 L1343.1 1217.1 L1345.7 1220.1 L1348.2 1223.2 L1350.8 1226.2 L1353.4 1229.3 L1356.1 1232.2 L1358.9 1235.1 L1361.7 1237.9 L1364.7 1240.6 L1367.6 1243.3 L1370.6 1246.0 L1373.6 1248.6 L1376.6 1251.3 L1379.6 1254.0 L1382.5 1256.7 L1385.4 1259.4 L1388.3 1262.2 L1391.3 1264.9 L1394.2 1267.6 L1397.2 1270.2 L1400.3 1272.8 L1403.4 1275.3 L1406.5 1277.8 L1409.7 1280.2 L1412.9 1282.6 L1416.1 1285.0 L1419.3 1287.4 L1422.5 1289.8 L1425.7 1292.3 L1428.9 1294.7 L1432.1 1297.1 L1435.3 1299.4 L1438.6 1301.7 L1441.8 1304.0 L1445.1 1306.3 L1448.4 1308.6 L1451.7 1310.8 L1455.1 1313.0 L1458.5 1315.2 L1461.8 1317.3 L1465.3 1319.3 L1468.7 1321.3 L1472.2 1323.3 L1475.7 1325.2 L1479.3 1327.1 L1482.8 1328.9 L1486.4 1330.8 L1489.9 1332.6 L1493.5 1334.4 L1497.1 1336.2 L1500.7 1337.9 L1504.3 1339.7 L1507.9 1341.4 L1511.5 1343.2 L1515.1 1344.9 L1518.7 1346.6 L1522.3 1348.4 L1525.9 1350.1 L1529.5 1351.8 L1533.1 1353.6 L1536.7 1355.4 L1540.3 1357.1 L1543.9 1358.9 L1547.4 1360.7 L1551.0 1362.5 L1554.6 1364.3 L1558.1 1366.1 L1561.7 1367.9 L1565.3 1369.7 L1568.8 1371.5 L1572.4 1373.3 L1576.0 1375.1 L1579.6 1376.9 L1583.1 1378.7 L1586.7 1380.5 L1590.3 1382.2 L1593.9 1383.9 L1597.6 1385.6 L1601.2 1387.3 L1604.8 1389.0 L1608.5 1390.6 L1612.1 1392.2 L1615.8 1393.8 L1619.5 1395.4 L1623.2 1397.0 L1626.9 1398.5 L1630.5 1400.1 L1634.2 1401.6 L1637.9 1403.1 L1641.6 1404.7 L1645.3 1406.2 L1649.0 1407.7 L1652.7 1409.2 L1656.5 1410.7 L1660.2 1412.2 L1663.9 1413.6 L1667.6 1415.1 L1671.3 1416.6 L1675.1 1418.0 L1678.8 1419.4 L1682.5 1420.9 L1686.3 1422.3 L1690.0 1423.7 L1693.8 1425.1 L1697.5 1426.5 L1701.3 1427.9 L1705.0 1429.2 L1708.8 1430.6 L1712.6 1431.9 L1716.3 1433.3 L1720.1 1434.6 L1723.9 1435.9 L1727.7 1437.2 L1731.4 1438.5 L1735.2 1439.8 L1739.0 1441.1 L1742.8 1442.3 L1746.6 1443.6 L1750.4 1444.8 L1754.2 1446.0 L1758.0 1447.3 L1761.8 1448.5 L1765.6 1449.7 L1769.4 1451.0 L1773.2 1452.2 L1777.0 1453.5 L1780.8 1454.7 L1784.6 1456.0 L1788.4 1457.2 L1792.2 1458.5 L1796.0 1459.7 L1799.9 1461.0 L1803.7 1462.2 L1807.5 1463.4 L1811.3 1464.6 L1815.1 1465.8 L1818.9 1466.9 L1822.8 1468.1 L1826.6 1469.2 L1830.5 1470.3 L1834.3 1471.4 L1838.2 1472.4 L1842.0 1473.5 L1845.9 1474.5 L1849.8 1475.5 L1853.7 1476.4 L1857.6 1477.3 L1861.5 1478.2 L1865.4 1479.0 L1869.3 1479.8 L1873.2 1480.5 L1877.2 1481.2 L1881.1 1481.9 L1885.1 1482.5 L1889.0 1483.1 L1893.0 1483.7 L1896.9 1484.2 L1900.9 1484.8 L1904.9 1485.4 L1908.8 1485.9 L1912.8 1486.5 L1916.8 1487.0 L1920.7 1487.5 L1924.7 1488.1 L1928.6 1488.6 L1932.6 1489.1 L1936.6 1489.6 L1940.5 1490.2 L1944.5 1490.7 L1948.5 1491.2 L1952.5 1491.6 L1956.4 1492.1 L1960.4 1492.6 L1964.4 1493.1 L1968.3 1493.5 L1972.3 1494.0 L1976.3 1494.5 L1980.3 1494.9 L1984.2 1495.3 L1988.2 1495.8 L1992.2 1496.2 L1996.2 1496.6 L2000.1 1497.0 L2004.1 1497.4 L2008.1 1497.8 L2012.1 1498.2 L2016.1 1498.6 L2020.1 1498.9 L2024.0 1499.3 L2028.0 1499.7 L2032.0 1500.0 L2036.0 1500.3 L2040.0 1500.7 L2044.0 1501.0 L2048.0 1501.3 L2051.9 1501.6 L2055.9 1501.9 L2059.9 1502.2 L2063.9 1502.4 L2067.9 1502.7 L2071.9 1503.0 L2075.9 1503.2 L2079.9 1503.4 L2083.9 1503.7 L2087.9 1503.9 L2091.9 1504.1 L2095.9 1504.3 L2099.9 1504.5 L2103.9 1504.7 L2107.8 1504.8 L2111.8 1505.0 L2115.8 1505.1 L2119.8 1505.3 L2123.8 1505.4 L2127.8 1505.5 L2131.8 1505.6 L2135.8 1505.7 L2139.8 1505.8 L2143.8 1505.9 L2147.8 1505.9 L2151.8 1506.0 L2155.8 1506.0 L2159.8 1506.0 L2163.8 1506.1 L2167.8 1506.1 L2171.8 1506.1 L2175.8 1506.0 L2179.8 1506.0 L2183.8 1506.0 L2187.8 1505.9 L2191.5 1505.8" stroke="#FFFF00"/>
<path class="c" d="M309.0 1298.4 L312.7 1297.4 L316.4 1296.0 L320.0 1294.3 L323.5 1292.4 L327.0 1290.4 L330.4 1288.3 L333.8 1286.3 L337.3 1284.2 L340.7 1282.2 L344.2 1280.2 L347.6 1278.1 L351.0 1276.1 L354.5 1274.1 L357.9 1272.0 L361.3 1269.9 L364.7 1267.8 L368.2 1265.8 L371.6 1263.7 L375.0 1261.6 L378.4 1259.5 L381.8 1257.4 L385.1 1255.2 L388.4 1252.9 L391.7 1250.6 L395.0 1248.3 L398.3 1246.1 L401.6 1243.8 L405.0 1241.7 L408.5 1239.8 L412.0 1238.0 L415.7 1236.5 L419.5 1235.3 L423.4 1234.4 L427.3 1233.7 L431.3 1233.3 L435.3 1233.1 L439.3 1233.0 L443.3 1233.2 L447.2 1233.5 L451.2 1234.0 L455.2 1234.6 L459.1 1235.4 L463.0 1236.3 L466.8 1237.3 L470.6 1238.5 L474.5 1239.7 L478.2 1241.0 L482.0 1242.3 L485.8 1243.6 L489.6 1244.9 L493.4 1246.2 L497.1 1247.6 L500.9 1249.0 L504.6 1250.6 L508.2 1252.2 L511.8 1253.8 L515.4 1255.6 L518.9 1257.5 L522.3 1259.6 L525.6 1261.9 L528.8 1264.2 L532.0 1266.7 L535.0 1269.3 L538.0 1271.9 L541.0 1274.6 L544.0 1277.2 L547.1 1279.9 L550.1 1282.4 L553.2 1285.0 L556.3 1287.5 L559.5 1289.9 L562.8 1292.2 L566.0 1294.6 L569.2 1296.9 L572.5 1299.3 L575.7 1301.6 L579.0 1303.9 L582.3 1306.1 L585.7 1308.3 L589.1 1310.4 L592.5 1312.4 L596.0 1314.4 L599.6 1316.2 L603.2 1317.9 L606.8 1319.5 L610.5 1321.0 L614.3 1322.5 L618.0 1323.9 L621.7 1325.3 L625.5 1326.8 L629.2 1328.2 L632.9 1329.8 L636.6 1331.4 L640.2 1333.0 L643.9 1334.6 L647.6 1336.1 L651.3 1337.6 L655.1 1338.9 L658.9 1339.9 L662.8 1340.8 L666.8 1341.3 L670.7 1341.6 L674.7 1341.6 L678.7 1341.4 L682.7 1341.1 L686.6 1340.5 L690.6 1339.9 L694.5 1339.2 L698.4 1338.3 L702.3 1337.3 L706.0 1336.0 L709.7 1334.4 L713.2 1332.5 L716.7 1330.5 L720.1 1328.4 L723.4 1326.2 L726.7 1323.9 L729.9 1321.6 L733.0 1319.1 L736.0 1316.4 L738.8 1313.6 L741.6 1310.7 L744.2 1307.7 L746.7 1304.6 L749.2 1301.5 L751.6 1298.3 L754.0 1295.1 L756.4 1291.9 L758.7 1288.6 L760.9 1285.3 L763.0 1281.9 L765.0 1278.4 L766.9 1274.9 L768.7 1271.3 L770.4 1267.7 L772.1 1264.1 L773.7 1260.4 L775.3 1256.7 L776.9 1253.1 L778.4 1249.4 L779.9 1245.6 L781.3 1241.9 L782.6 1238.1 L783.9 1234.3 L785.1 1230.5 L786.3 1226.7 L787.5 1222.9 L788.7 1219.1 L789.8 1215.2 L790.9 1211.4 L792.1 1207.6 L793.2 1203.7 L794.3 1199.9 L795.4 1196.0 L796.5 1192.2 L797.5 1188.3 L798.5 1184.4 L799.5 1180.6 L800.5 1176.7 L801.5 1172.8 L802.5 1168.9 L803.4 1165.1 L804.4 1161.2 L805.4 1157.3 L806.5 1153.4 L807.5 1149.6 L808.6 1145.7 L809.8 1141.9 L811.0 1138.1 L812.2 1134.3 L813.6 1130.5 L815.0 1126.8 L816.4 1123.1 L817.9 1119.4 L819.5 1115.7 L821.1 1112.0 L822.6 1108.3 L824.1 1104.6 L825.6 1100.9 L827.0 1097.1 L828.3 1093.4 L829.6 1089.6 L830.8 1085.8 L832.0 1082.0 L833.1 1078.1 L834.2 1074.3 L835.3 1070.4 L836.3 1066.6 L837.4 1062.7 L838.4 1058.8 L839.4 1054.9 L840.4 1051.1 L841.4 1047.2 L842.3 1043.3 L843.3 1039.4 L844.3 1035.6 L845.3 1031.7 L846.2 1027.8 L847.2 1023.9 L848.1 1020.0 L849.1 1016.1 L850.0 1012.2 L850.9 1008.4 L851.9 1004.5 L852.8 1000.6 L853.7 996.7 L854.6 992.8 L855.5 988.9 L856.3 985.0 L857.2 981.1 L858.1 977.2 L859.0 973.3 L859.8 969.4 L860.7 965.5 L861.6 961.6 L862.4 957.6 L863.3 953.7 L864.1 949.8 L864.9 945.9 L865.8 942.0 L866.6 938.1 L867.4 934.2 L868.1 930.2 L868.9 926.3 L869.7 922.4 L870.4 918.5 L871.1 914.5 L871.9 910.6 L872.6 906.6 L873.3 902.7 L873.9 898.8 L874.5 894.8 L875.1 890.9 L875.7 886.9 L876.2 882.9 L876.7 879.0 L877.1 875.0 L877.6 871.0 L878.0 867.0 L878.4 863.1 L878.8 859.1 L879.2 855.1 L879.6 851.1 L880.0 847.1 L880.3 843.1 L880.6 839.2 L880.9 835.2 L881.2 831.2 L881.4 827.2 L881.7 823.2 L882.0 819.2 L882.3 815.2 L882.6 811.2 L883.0 807.2 L883.4 803.3 L883.9 799.3 L884.4 795.3 L885.0 791.4 L885.6 787.4 L886.2 783.5 L886.9 779.5 L887.7 775.6 L888.5 771.7 L889.4 767.8 L890.3 763.9 L891.3 760.0 L892.3 756.1 L893.3 752.3 L894.4 748.4 L895.4 744.6 L896.4 740.7 L897.3 736.8 L898.2 732.9 L899.1 729.0 L899.8 725.1 L900.5 721.1 L901.2 717.2 L901.8 713.2 L902.4 709.3 L902.9 705.3 L903.5 701.3 L904.0 697.4 L904.4 693.4 L904.9 689.4 L905.4 685.5 L905.8 681.5 L906.3 677.5 L906.7 673.5 L907.2 669.6 L907.6 665.6 L908.1 661.6 L908.5 657.6 L909.0 653.7 L909.4 649.7 L909.9 645.7 L910.4 641.7 L910.8 637.8 L911.2 633.8 L911.7 629.8 L912.1 625.8 L912.5 621.9 L912.9 617.9 L913.3 613.9 L913.8 609.9 L914.2 606.0 L914.6 602.0 L915.1 598.0 L915.6 594.0 L916.0 590.1 L916.6 586.1 L917.1 582.1 L917.8 578.2 L918.5 574.3 L919.4 570.4 L920.5 566.5 L921.6 562.7 L922.8 558.9 L924.0 555.0 L925.2 551.2 L926.5 547.4 L927.7 543.6 L929.0 539.9 L930.4 536.1 L931.7 532.3 L933.1 528.6 L934.5 524.8 L935.9 521.1 L937.3 517.4 L938.8 513.6 L940.3 509.9 L941.9 506.2 L943.5 502.6 L945.1 498.9 L946.7 495.3 L948.4 491.6 L950.2 488.0 L951.9 484.5 L953.7 480.9 L955.6 477.3 L957.5 473.8 L959.4 470.3 L961.4 466.9 L963.5 463.4 L965.6 460.0 L967.8 456.7 L970.0 453.3 L972.2 450.0 L974.6 446.8 L976.9 443.6 L979.4 440.4 L981.9 437.3 L984.4 434.2 L987.0 431.1 L989.6 428.1 L992.2 425.1 L994.7 422.0 L997.3 418.9 L999.9 416.0 L1002.8 413.5 L1006.0 412.2 L1009.3 412.4 L1012.3 414.1 L1014.9 416.9 L1017.3 420.0 L1019.5 423.3 L1021.7 426.7 L1023.9 430.0 L1026.1 433.4 L1028.3 436.7 L1030.4 440.1 L1032.5 443.5 L1034.5 447.0 L1036.5 450.4 L1038.5 453.9 L1040.4 457.5 L1042.2 461.0 L1044.0 464.6 L1045.7 468.2 L1047.4 471.8 L1049.0 475.5 L1050.7 479.1 L1052.3 482.8 L1053.9 486.4 L1055.5 490.1 L1057.1 493.8 L1058.6 497.5 L1060.2 501.2 L1061.7 504.9 L1063.1 508.6 L1064.5 512.3 L1065.9 516.1 L1067.2 519.9 L1068.4 523.7 L1069.6 527.5 L1070.7 531.4 L1071.8 535.2 L1072.9 539.1 L1074.0 542.9 L1075.1 546.8 L1076.1 550.6 L1077.2 554.5 L1078.2 558.3 L1079.3 562.2 L1080.3 566.1 L1081.4 569.9 L1082.5 573.8 L1083.6 577.6 L1084.7 581.4 L1085.9 585.3 L1087.0 589.1 L1088.2 592.9 L1089.4 596.7 L1090.7 600.5 L1091.9 604.3 L1093.1 608.1 L1094.4 611.9 L1095.6 615.7 L1096.9 619.5 L1098.1 623.3 L1099.3 627.1 L1100.6 631.0 L1101.8 634.8 L1103.0 638.6 L1104.2 642.4 L1105.4 646.2 L1106.7 650.0 L1107.9 653.8 L1109.1 657.6 L1110.3 661.4 L1111.5 665.2 L1112.4 668.1 L1113.7 671.9 L1114.6 674.8 L1115.8 678.6 L1116.7 681.4 L1117.9 685.2 L1119.2 689.1 L1120.4 692.9 L1121.6 696.7 L1122.8 700.5 L1123.7 703.3 L1124.9 707.2 L1126.2 711.0 L1127.4 714.8 L1128.6 718.6 L1129.8 722.4 L1131.0 726.2 L1132.3 730.0 L1133.5 733.8 L1134.7 737.6 L1136.0 741.4 L1137.2 745.2 L1138.5 749.0 L1139.7 752.8 L1140.9 756.6 L1142.2 760.4 L1143.4 764.2 L1144.6 768.1 L1145.8 771.9 L1146.9 775.7 L1148.0 779.6 L1149.1 783.4 L1150.1 787.3 L1151.1 791.1 L1152.1 795.0 L1153.1 798.9 L1154.1 802.8 L1155.0 806.7 L1156.0 810.5 L1157.0 814.4 L1158.0 818.3 L1159.1 822.1 L1160.3 826.0 L1161.5 829.8 L1162.8 833.6 L1164.1 837.3 L1165.5 841.1 L1166.9 844.8 L1168.3 848.6 L1169.8 852.3 L1171.2 856.0 L1172.7 859.7 L1174.3 863.4 L1175.8 867.1 L1177.4 870.8 L1179.0 874.4 L1180.6 878.1 L1182.3 881.7 L1183.9 885.4 L1185.6 889.0 L1187.2 892.7 L1188.9 896.3 L1190.5 900.0 L1192.2 903.6 L1193.8 907.3 L1195.4 910.9 L1197.0 914.6 L1198.6 918.3 L1200.2 921.9 L1201.7 925.6 L1203.2 929.3 L1204.7 933.0 L1206.2 936.7 L1207.8 940.4 L1209.3 944.1 L1210.8 947.8 L1212.3 951.5 L1213.9 955.2 L1215.4 958.9 L1216.9 962.6 L1218.4 966.3 L1219.9 970.0 L1221.4 973.7 L1222.9 977.5 L1224.4 981.2 L1225.8 984.9 L1227.3 988.6 L1228.7 992.4 L1230.1 996.1 L1231.5 999.9 L1232.9 1003.6 L1234.3 1007.4 L1235.6 1011.1 L1236.9 1014.9 L1238.2 1018.7 L1239.4 1022.5 L1240.6 1026.3 L1241.6 1030.2 L1242.6 1034.1 L1243.6 1038.0 L1244.5 1041.8 L1245.5 1045.7 L1246.5 1049.6 L1247.6 1053.4 L1248.9 1057.2 L1250.4 1060.9 L1252.0 1064.6 L1253.8 1068.1 L1255.6 1071.7 L1257.5 1075.2 L1259.5 1078.7 L1261.5 1082.1 L1263.6 1085.5 L1265.8 1088.9 L1268.0 1092.2 L1270.3 1095.5 L1272.6 1098.8 L1274.9 1102.1 L1277.2 1105.3 L1279.6 1108.5 L1282.0 1111.8 L1284.3 1115.0 L1286.6 1118.2 L1289.0 1121.5 L1291.2 1124.8 L1293.5 1128.1 L1295.8 1131.3 L1298.1 1134.6 L1300.5 1137.8 L1302.8 1141.1 L1305.2 1144.3 L1307.5 1147.6 L1309.9 1150.8 L1312.3 1154.0 L1314.7 1157.2 L1317.1 1160.4 L1319.5 1163.5 L1322.0 1166.7 L1324.5 1169.8 L1327.0 1173.0 L1329.5 1176.1 L1332.0 1179.2 L1334.5 1182.3 L1337.0 1185.4 L1339.5 1188.6 L1342.0 1191.7 L1344.4 1194.9 L1346.9 1198.0 L1349.4 1201.2 L1351.8 1204.3 L1354.4 1207.4 L1357.0 1210.4 L1359.6 1213.4 L1362.3 1216.4 L1365.0 1219.3 L1367.8 1222.2 L1370.7 1225.0 L1373.6 1227.8 L1376.5 1230.5 L1379.5 1233.1 L1382.6 1235.6 L1385.8 1238.1 L1389.0 1240.5 L1392.1 1242.9 L1395.3 1245.4 L1398.3 1248.0 L1401.3 1250.6 L1404.2 1253.4 L1407.0 1256.2 L1409.8 1259.1 L1412.7 1261.9 L1415.6 1264.6 L1418.6 1267.2 L1421.7 1269.8 L1424.9 1272.2 L1428.1 1274.6 L1431.3 1277.0 L1434.5 1279.3 L1437.8 1281.7 L1441.0 1284.0 L1444.2 1286.4 L1447.4 1288.8 L1450.6 1291.2 L1453.8 1293.6 L1457.0 1296.0 L1460.3 1298.3 L1463.6 1300.5 L1467.0 1302.6 L1470.4 1304.7 L1473.9 1306.7 L1477.4 1308.6 L1480.9 1310.5 L1484.5 1312.4 L1488.0 1314.2 L1491.6 1315.9 L1495.2 1317.7 L1498.8 1319.4 L1502.4 1321.1 L1506.1 1322.8 L1509.7 1324.5 L1513.3 1326.2 L1516.9 1327.9 L1520.5 1329.7 L1524.1 1331.4 L1527.7 1333.2 L1531.3 1335.0 L1534.9 1336.8 L1538.4 1338.6 L1541.9 1340.5 L1545.4 1342.4 L1548.9 1344.4 L1552.4 1346.3 L1555.9 1348.3 L1559.4 1350.3 L1562.9 1352.2 L1566.3 1354.2 L1569.8 1356.2 L1573.3 1358.2 L1576.8 1360.2 L1580.2 1362.2 L1583.7 1364.1 L1587.2 1366.1 L1590.7 1368.0 L1594.2 1369.9 L1597.7 1371.8 L1601.3 1373.7 L1604.8 1375.5 L1608.4 1377.3 L1612.0 1379.1 L1615.6 1380.8 L1619.2 1382.6 L1622.8 1384.3 L1626.4 1386.0 L1630.1 1387.7 L1633.7 1389.3 L1637.3 1391.0 L1641.0 1392.7 L1644.6 1394.3 L1648.3 1396.0 L1651.9 1397.6 L1655.6 1399.2 L1659.2 1400.9 L1662.9 1402.5 L1666.5 1404.1 L1670.2 1405.7 L1673.9 1407.2 L1677.6 1408.8 L1681.3 1410.4 L1684.9 1411.9 L1688.6 1413.4 L1692.3 1415.0 L1696.0 1416.5 L1699.8 1418.0 L1703.5 1419.4 L1707.2 1420.9 L1710.9 1422.4 L1714.6 1423.8 L1718.4 1425.3 L1722.1 1426.7 L1725.9 1428.1 L1729.6 1429.5 L1733.4 1430.8 L1737.1 1432.2 L1740.9 1433.5 L1744.7 1434.8 L1748.5 1436.2 L1752.3 1437.4 L1756.0 1438.7 L1759.8 1440.0 L1763.6 1441.3 L1767.4 1442.6 L1771.2 1443.9 L1775.0 1445.2 L1778.7 1446.5 L1782.5 1447.8 L1786.3 1449.1 L1790.1 1450.4 L1793.9 1451.7 L1797.7 1453.0 L1801.5 1454.2 L1805.3 1455.5 L1809.1 1456.7 L1812.9 1458.0 L1816.7 1459.2 L1820.5 1460.3 L1824.3 1461.5 L1828.2 1462.7 L1832.0 1463.8 L1835.8 1464.9 L1839.7 1466.0 L1843.6 1467.0 L1847.4 1468.0 L1851.3 1469.0 L1855.2 1470.0 L1859.1 1470.9 L1863.0 1471.8 L1866.9 1472.6 L1870.8 1473.4 L1874.7 1474.1 L1878.7 1474.8 L1882.6 1475.5 L1886.6 1476.1 L1890.5 1476.7 L1894.5 1477.3 L1898.4 1477.9 L1902.4 1478.5 L1906.4 1479.1 L1910.3 1479.7 L1914.3 1480.3 L1918.2 1480.9 L1922.2 1481.4 L1926.1 1482.0 L1930.1 1482.6 L1934.1 1483.2 L1938.0 1483.7 L1942.0 1484.3 L1945.9 1484.9 L1949.9 1485.4 L1953.9 1486.0 L1957.8 1486.5 L1961.8 1487.1 L1965.8 1487.6 L1969.7 1488.1 L1973.7 1488.7 L1977.6 1489.2 L1981.6 1489.7 L1985.6 1490.2 L1989.5 1490.7 L1993.5 1491.2 L1997.5 1491.7 L2001.5 1492.2 L2005.4 1492.7 L2009.4 1493.2 L2013.4 1493.6 L2017.3 1494.1 L2021.3 1494.6 L2025.3 1495.0 L2029.3 1495.4 L2033.2 1495.9 L2037.2 1496.3 L2041.2 1496.7 L2045.2 1497.1 L2049.2 1497.5 L2053.1 1497.9 L2057.1 1498.3 L2061.1 1498.7 L2065.1 1499.1 L2069.1 1499.4 L2073.1 1499.8 L2077.0 1500.1 L2081.0 1500.5 L2085.0 1500.8 L2089.0 1501.1 L2093.0 1501.4 L2097.0 1501.7 L2101.0 1502.0 L2105.0 1502.2 L2108.9 1502.5 L2112.9 1502.8 L2116.9 1503.0 L2120.9 1503.2 L2124.9 1503.4 L2128.9 1503.7 L2132.9 1503.8 L2136.9 1504.0 L2140.9 1504.2 L2144.9 1504.4 L2148.9 1504.5 L2152.9 1504.6 L2156.9 1504.8 L2160.9 1504.9 L2164.9 1505.0 L2168.9 1505.1 L2172.9 1505.1 L2176.9 1505.2 L2180.9 1505.2 L2184.9 1505.3 L2188.8 1505.3 L2191.5 1505.3" stroke="#666699"/>
<path class="c" d="M309.0 1318.2 L312.6 1317.1 L316.2 1315.4 L319.7 1313.5 L323.1 1311.5 L326.5 1309.3 L329.8 1307.1 L333.1 1304.9 L336.5 1302.7 L339.9 1300.6 L343.2 1298.5 L346.6 1296.3 L350.0 1294.2 L353.4 1292.1 L356.8 1290.0 L360.2 1287.9 L363.6 1285.8 L367.0 1283.7 L370.5 1281.7 L374.0 1279.7 L377.5 1277.8 L381.0 1276.0 L384.6 1274.1 L388.2 1272.3 L391.7 1270.5 L395.3 1268.8 L399.0 1267.1 L402.6 1265.6 L406.4 1264.2 L410.2 1263.0 L414.1 1262.0 L418.0 1261.3 L421.9 1260.9 L425.9 1260.7 L429.9 1260.8 L433.9 1261.0 L437.9 1261.4 L441.9 1261.9 L445.8 1262.5 L449.7 1263.2 L453.7 1263.9 L457.6 1264.7 L461.5 1265.6 L465.4 1266.6 L469.2 1267.6 L473.0 1268.8 L476.8 1270.1 L480.6 1271.4 L484.4 1272.8 L488.1 1274.3 L491.7 1275.9 L495.4 1277.5 L499.0 1279.2 L502.6 1281.0 L506.1 1283.0 L509.5 1285.0 L512.9 1287.1 L516.2 1289.3 L519.5 1291.6 L522.8 1293.9 L526.1 1296.2 L529.3 1298.5 L532.6 1300.8 L535.9 1303.1 L539.2 1305.3 L542.5 1307.6 L545.8 1309.9 L549.1 1312.2 L552.4 1314.4 L555.6 1316.7 L558.9 1319.0 L562.2 1321.3 L565.4 1323.6 L568.7 1326.0 L572.0 1328.3 L575.2 1330.6 L578.5 1332.9 L581.7 1335.3 L584.8 1337.8 L588.0 1340.2 L591.2 1342.6 L594.5 1344.8 L597.9 1346.9 L601.5 1348.8 L605.1 1350.4 L608.8 1351.9 L612.5 1353.4 L616.3 1354.7 L620.1 1356.0 L623.9 1357.2 L627.7 1358.4 L631.5 1359.6 L635.3 1360.8 L639.1 1362.0 L642.9 1363.2 L646.7 1364.5 L650.5 1365.8 L654.3 1367.1 L658.1 1368.4 L661.9 1369.6 L665.7 1370.8 L669.6 1371.9 L673.5 1372.8 L677.4 1373.5 L681.3 1373.9 L685.3 1374.0 L689.2 1373.6 L693.2 1372.9 L697.0 1371.9 L700.9 1370.8 L704.7 1369.6 L708.4 1368.2 L712.1 1366.7 L715.7 1365.0 L719.2 1363.0 L722.5 1360.8 L725.8 1358.5 L729.0 1356.1 L732.1 1353.7 L735.2 1351.2 L738.3 1348.6 L741.4 1346.0 L744.3 1343.3 L747.1 1340.4 L749.8 1337.5 L752.4 1334.5 L755.0 1331.4 L757.4 1328.2 L759.8 1325.0 L762.2 1321.8 L764.5 1318.6 L766.7 1315.3 L768.9 1311.9 L771.0 1308.5 L772.9 1305.0 L774.8 1301.4 L776.5 1297.8 L778.1 1294.2 L779.7 1290.5 L781.3 1286.8 L782.8 1283.1 L784.3 1279.4 L785.8 1275.7 L787.3 1272.0 L788.7 1268.3 L790.1 1264.5 L791.5 1260.8 L792.8 1257.0 L794.1 1253.2 L795.4 1249.4 L796.6 1245.6 L797.8 1241.8 L799.0 1238.0 L800.1 1234.1 L801.2 1230.3 L802.3 1226.4 L803.4 1222.6 L804.5 1218.7 L805.5 1214.9 L806.5 1211.0 L807.4 1207.1 L808.3 1203.2 L809.2 1199.3 L810.1 1195.4 L810.9 1191.5 L811.8 1187.6 L812.6 1183.7 L813.5 1179.8 L814.4 1175.9 L815.3 1172.0 L816.2 1168.1 L817.1 1164.2 L818.2 1160.3 L819.2 1156.5 L820.3 1152.6 L821.5 1148.8 L822.7 1145.0 L823.9 1141.2 L825.2 1137.4 L826.6 1133.6 L827.9 1129.9 L829.2 1126.1 L830.5 1122.3 L831.8 1118.5 L833.1 1114.7 L834.3 1110.9 L835.5 1107.1 L836.6 1103.3 L837.7 1099.4 L838.7 1095.5 L839.7 1091.7 L840.7 1087.8 L841.6 1083.9 L842.5 1080.0 L843.4 1076.1 L844.3 1072.2 L845.2 1068.3 L846.0 1064.4 L846.9 1060.5 L847.7 1056.6 L848.6 1052.7 L849.5 1048.8 L850.3 1044.9 L851.2 1040.9 L852.1 1037.0 L852.9 1033.1 L853.8 1029.2 L854.7 1025.3 L855.6 1021.4 L856.5 1017.6 L857.5 1013.7 L858.4 1009.8 L859.3 1005.9 L860.2 1002.0 L861.2 998.1 L862.1 994.2 L863.0 990.3 L863.9 986.4 L864.8 982.5 L865.7 978.6 L866.6 974.7 L867.5 970.8 L868.3 966.9 L869.2 963.0 L870.0 959.1 L870.8 955.2 L871.7 951.3 L872.5 947.3 L873.3 943.4 L874.1 939.5 L874.8 935.6 L875.6 931.7 L876.4 927.7 L877.1 923.8 L877.9 919.9 L878.6 915.9 L879.3 912.0 L880.0 908.1 L880.7 904.1 L881.3 900.2 L882.0 896.2 L882.6 892.3 L883.1 888.3 L883.7 884.3 L884.2 880.4 L884.7 876.4 L885.2 872.4 L885.7 868.5 L886.2 864.5 L886.6 860.5 L887.0 856.5 L887.4 852.6 L887.8 848.6 L888.1 844.6 L888.4 840.6 L888.6 836.6 L888.8 832.6 L889.0 828.6 L889.3 824.6 L889.5 820.6 L889.7 816.6 L890.0 812.7 L890.3 808.7 L890.6 804.7 L891.0 800.7 L891.4 796.7 L891.8 792.7 L892.2 788.8 L892.7 784.8 L893.2 780.8 L893.6 776.8 L894.1 772.9 L894.7 768.9 L895.2 765.0 L895.8 761.0 L896.4 757.0 L897.0 753.1 L897.6 749.1 L898.3 745.2 L899.1 741.3 L899.9 737.4 L900.8 733.5 L901.8 729.6 L902.9 725.7 L904.0 721.9 L905.1 718.0 L906.0 714.2 L906.9 710.3 L907.7 706.3 L908.3 702.4 L908.9 698.4 L909.4 694.5 L909.9 690.5 L910.4 686.5 L910.9 682.6 L911.3 678.6 L911.8 674.6 L912.3 670.6 L912.8 666.7 L913.3 662.7 L913.8 658.8 L914.5 654.8 L915.2 650.9 L916.0 647.0 L916.9 643.1 L917.8 639.2 L918.8 635.3 L919.7 631.4 L920.6 627.5 L921.5 623.6 L922.5 619.7 L923.4 615.8 L924.3 611.9 L925.3 608.0 L926.2 604.2 L927.1 600.3 L928.1 596.4 L929.0 592.5 L930.0 588.6 L930.9 584.7 L931.9 580.8 L932.8 576.9 L933.8 573.1 L934.7 569.2 L935.7 565.3 L936.7 561.4 L937.6 557.5 L938.6 553.7 L939.6 549.8 L940.6 545.9 L941.6 542.0 L942.5 538.2 L943.5 534.3 L944.6 530.4 L945.6 526.5 L946.6 522.7 L947.6 518.8 L948.6 514.9 L949.7 511.1 L950.7 507.2 L951.8 503.4 L952.9 499.5 L953.9 495.7 L955.0 491.8 L956.1 488.0 L957.2 484.1 L958.4 480.3 L959.5 476.4 L960.7 472.6 L961.8 468.8 L963.0 465.0 L964.2 461.2 L965.5 457.3 L966.7 453.5 L968.0 449.8 L969.2 446.0 L970.6 442.2 L971.9 438.4 L973.3 434.7 L974.7 430.9 L976.1 427.2 L977.6 423.5 L979.1 419.8 L980.7 416.1 L982.4 412.5 L984.1 408.8 L985.8 405.3 L987.7 401.7 L989.7 398.2 L991.8 394.8 L994.0 391.5 L996.4 388.4 L999.1 385.5 L1002.1 382.9 L1005.4 380.9 L1009.0 379.6 L1012.7 379.5 L1016.3 380.4 L1019.6 382.2 L1022.6 384.8 L1025.1 387.8 L1027.5 391.0 L1029.7 394.4 L1031.8 397.8 L1033.8 401.2 L1035.9 404.6 L1037.9 408.1 L1039.9 411.5 L1041.8 415.0 L1043.7 418.6 L1045.5 422.1 L1047.3 425.7 L1048.9 429.4 L1050.5 433.1 L1051.9 436.8 L1053.3 440.5 L1054.7 444.3 L1056.1 448.0 L1057.6 451.7 L1059.2 455.4 L1060.9 459.0 L1062.6 462.6 L1064.5 466.2 L1066.3 469.7 L1068.1 473.3 L1069.9 476.9 L1071.5 480.5 L1073.2 484.2 L1074.8 487.8 L1076.3 491.5 L1077.8 495.2 L1079.2 499.0 L1080.6 502.7 L1081.9 506.5 L1083.1 510.3 L1084.2 514.2 L1085.2 518.0 L1086.2 521.9 L1087.1 525.8 L1088.1 529.7 L1089.0 533.6 L1089.9 537.5 L1090.9 541.4 L1091.8 545.3 L1092.7 549.2 L1093.6 553.1 L1094.5 557.0 L1095.4 560.8 L1096.3 564.7 L1097.2 568.6 L1098.2 572.5 L1099.2 576.4 L1100.2 580.3 L1101.3 584.1 L1102.4 587.9 L1103.6 591.8 L1104.8 595.6 L1106.0 599.4 L1107.3 603.2 L1108.5 607.0 L1109.8 610.8 L1111.0 614.6 L1112.3 618.4 L1113.6 622.2 L1114.8 626.0 L1116.0 629.8 L1117.3 633.6 L1118.5 637.4 L1119.7 641.2 L1120.9 645.0 L1122.2 648.8 L1123.4 652.6 L1124.6 656.4 L1125.5 659.3 L1126.7 663.1 L1127.9 666.9 L1129.2 670.7 L1130.4 674.5 L1131.6 678.3 L1132.8 682.2 L1134.1 686.0 L1135.3 689.8 L1136.5 693.6 L1137.7 697.4 L1139.0 701.2 L1140.2 705.0 L1141.4 708.8 L1142.7 712.6 L1143.9 716.4 L1145.1 720.2 L1146.3 724.1 L1147.4 727.9 L1148.6 731.7 L1149.8 735.5 L1150.9 739.4 L1152.0 743.2 L1153.1 747.1 L1154.2 750.9 L1155.3 754.8 L1156.4 758.6 L1157.5 762.5 L1158.5 766.3 L1159.6 770.2 L1160.7 774.0 L1161.7 777.9 L1162.8 781.7 L1163.9 785.6 L1165.0 789.4 L1166.1 793.3 L1167.2 797.1 L1168.3 801.0 L1169.4 804.8 L1170.6 808.6 L1171.7 812.5 L1172.9 816.3 L1174.1 820.1 L1175.4 823.9 L1176.6 827.7 L1177.9 831.5 L1179.2 835.2 L1180.6 839.0 L1181.9 842.8 L1183.3 846.5 L1184.7 850.3 L1186.1 854.0 L1187.5 857.8 L1189.0 861.5 L1190.4 865.2 L1191.9 868.9 L1193.4 872.7 L1194.9 876.4 L1196.4 880.1 L1197.9 883.8 L1199.4 887.5 L1201.0 891.2 L1202.5 894.9 L1204.1 898.5 L1205.6 902.2 L1207.2 905.9 L1208.7 909.6 L1210.3 913.3 L1211.9 917.0 L1213.4 920.6 L1215.0 924.3 L1216.6 928.0 L1218.1 931.7 L1219.7 935.4 L1221.2 939.1 L1222.8 942.7 L1224.3 946.4 L1225.9 950.1 L1227.5 953.8 L1229.0 957.5 L1230.6 961.2 L1232.2 964.8 L1233.8 968.5 L1235.3 972.2 L1236.9 975.8 L1238.5 979.5 L1240.1 983.2 L1241.7 986.9 L1243.3 990.5 L1244.9 994.2 L1246.5 997.8 L1248.2 1001.5 L1249.8 1005.1 L1251.4 1008.8 L1253.1 1012.4 L1254.7 1016.1 L1256.4 1019.7 L1258.1 1023.4 L1259.7 1027.0 L1261.4 1030.6 L1263.0 1034.3 L1264.7 1037.9 L1266.3 1041.6 L1267.9 1045.2 L1269.6 1048.9 L1271.2 1052.5 L1272.9 1056.2 L1274.6 1059.8 L1276.2 1063.4 L1277.9 1067.1 L1279.6 1070.7 L1281.3 1074.3 L1283.0 1077.9 L1284.8 1081.5 L1286.6 1085.1 L1288.4 1088.7 L1290.2 1092.2 L1292.1 1095.8 L1294.0 1099.3 L1295.9 1102.8 L1297.9 1106.2 L1300.0 1109.6 L1302.2 1113.0 L1304.5 1116.3 L1306.9 1119.4 L1309.5 1122.4 L1312.3 1125.2 L1315.4 1127.8 L1318.6 1130.2 L1321.7 1132.6 L1324.8 1135.1 L1327.7 1137.8 L1330.4 1140.8 L1332.9 1143.9 L1335.2 1147.2 L1337.4 1150.5 L1339.5 1153.9 L1341.6 1157.3 L1343.8 1160.7 L1345.9 1164.0 L1348.2 1167.3 L1350.5 1170.6 L1352.9 1173.8 L1355.3 1177.0 L1357.8 1180.1 L1360.3 1183.3 L1362.8 1186.4 L1365.4 1189.4 L1368.1 1192.4 L1370.8 1195.3 L1373.5 1198.2 L1376.4 1201.1 L1379.2 1203.9 L1382.1 1206.7 L1384.9 1209.5 L1387.8 1212.3 L1390.6 1215.1 L1393.4 1218.0 L1396.2 1220.8 L1399.0 1223.7 L1401.8 1226.5 L1404.7 1229.3 L1407.6 1232.0 L1410.6 1234.7 L1413.6 1237.4 L1416.6 1240.0 L1419.6 1242.6 L1422.7 1245.2 L1425.8 1247.7 L1428.9 1250.2 L1432.0 1252.7 L1435.2 1255.2 L1438.3 1257.6 L1441.5 1260.0 L1444.8 1262.4 L1448.0 1264.8 L1451.2 1267.1 L1454.5 1269.4 L1457.7 1271.7 L1461.0 1274.0 L1464.3 1276.3 L1467.6 1278.5 L1470.9 1280.8 L1474.3 1283.0 L1477.6 1285.2 L1480.9 1287.5 L1484.2 1289.7 L1487.6 1291.9 L1490.9 1294.1 L1494.3 1296.3 L1497.6 1298.5 L1501.0 1300.7 L1504.3 1302.8 L1507.7 1305.0 L1511.0 1307.1 L1514.4 1309.3 L1517.8 1311.4 L1521.2 1313.5 L1524.6 1315.6 L1528.0 1317.7 L1531.4 1319.8 L1534.9 1321.9 L1538.3 1323.9 L1541.7 1326.0 L1545.2 1328.0 L1548.6 1330.0 L1552.1 1332.1 L1555.5 1334.1 L1559.0 1336.1 L1562.4 1338.1 L1565.9 1340.1 L1569.4 1342.1 L1572.9 1344.0 L1576.3 1346.0 L1579.8 1348.0 L1583.3 1349.9 L1586.8 1351.8 L1590.4 1353.7 L1593.9 1355.6 L1597.4 1357.5 L1600.9 1359.4 L1604.5 1361.3 L1608.0 1363.1 L1611.6 1365.0 L1615.1 1366.8 L1618.7 1368.6 L1622.3 1370.4 L1625.8 1372.2 L1629.4 1374.0 L1633.0 1375.9 L1636.5 1377.7 L1640.1 1379.5 L1643.7 1381.3 L1647.2 1383.1 L1650.8 1384.9 L1654.4 1386.7 L1657.9 1388.5 L1661.5 1390.3 L1665.1 1392.0 L1668.7 1393.8 L1672.3 1395.6 L1675.9 1397.3 L1679.5 1399.1 L1683.1 1400.8 L1686.7 1402.6 L1690.3 1404.3 L1693.9 1406.0 L1697.5 1407.7 L1701.2 1409.4 L1704.8 1411.0 L1708.4 1412.7 L1712.1 1414.3 L1715.8 1415.9 L1719.4 1417.5 L1723.1 1419.1 L1726.8 1420.7 L1730.5 1422.2 L1734.2 1423.7 L1737.9 1425.2 L1741.6 1426.7 L1745.3 1428.2 L1749.0 1429.6 L1752.8 1431.0 L1756.5 1432.4 L1760.3 1433.8 L1764.0 1435.2 L1767.8 1436.6 L1771.5 1438.0 L1775.3 1439.4 L1779.0 1440.8 L1782.8 1442.1 L1786.6 1443.5 L1790.3 1444.9 L1794.1 1446.2 L1797.9 1447.6 L1801.6 1448.9 L1805.4 1450.2 L1809.2 1451.5 L1813.0 1452.8 L1816.8 1454.0 L1820.6 1455.3 L1824.4 1456.5 L1828.2 1457.7 L1832.0 1458.9 L1835.8 1460.0 L1839.7 1461.2 L1843.5 1462.3 L1847.4 1463.3 L1851.2 1464.4 L1855.1 1465.4 L1859.0 1466.4 L1862.9 1467.3 L1866.8 1468.2 L1870.7 1469.1 L1874.6 1469.9 L1878.5 1470.7 L1882.4 1471.4 L1886.4 1472.2 L1890.3 1472.9 L1894.3 1473.5 L1898.2 1474.2 L1902.2 1474.9 L1906.1 1475.5 L1910.0 1476.2 L1914.0 1476.8 L1917.9 1477.4 L1921.9 1478.0 L1925.8 1478.7 L1929.8 1479.3 L1933.8 1479.8 L1937.7 1480.4 L1941.7 1481.0 L1945.6 1481.6 L1949.6 1482.1 L1953.6 1482.7 L1957.5 1483.2 L1961.5 1483.7 L1965.5 1484.2 L1969.4 1484.8 L1973.4 1485.2 L1977.4 1485.7 L1981.3 1486.2 L1985.3 1486.7 L1989.3 1487.1 L1993.3 1487.6 L1997.2 1488.0 L2001.2 1488.5 L2005.2 1488.9 L2009.2 1489.3 L2013.1 1489.7 L2017.1 1490.1 L2021.1 1490.5 L2025.1 1490.9 L2029.1 1491.2 L2033.1 1491.6 L2037.0 1492.0 L2041.0 1492.4 L2045.0 1492.8 L2049.0 1493.2 L2053.0 1493.6 L2056.9 1494.0 L2060.9 1494.3 L2064.9 1494.7 L2068.9 1495.1 L2072.9 1495.5 L2076.8 1495.9 L2080.8 1496.3 L2084.8 1496.7 L2088.8 1497.0 L2092.8 1497.4 L2096.8 1497.8 L2100.7 1498.2 L2104.7 1498.5 L2108.7 1498.9 L2112.7 1499.2 L2116.7 1499.6 L2120.7 1499.9 L2124.6 1500.3 L2128.6 1500.6 L2132.6 1500.9 L2136.6 1501.2 L2140.6 1501.5 L2144.6 1501.8 L2148.6 1502.1 L2152.6 1502.4 L2156.5 1502.7 L2160.5 1503.0 L2164.5 1503.2 L2168.5 1503.5 L2172.5 1503.7 L2176.5 1503.9 L2180.5 1504.2 L2184.5 1504.4 L2188.5 1504.6 L2191.5 1504.7" stroke="#FF9999"/>
<path class="c" d="M309.0 1340.0 L312.5 1338.7 L316.0 1337.0 L319.4 1334.9 L322.7 1332.6 L325.9 1330.2 L329.1 1327.8 L332.3 1325.5 L335.6 1323.2 L339.0 1321.0 L342.4 1319.0 L345.9 1317.0 L349.3 1315.0 L352.8 1313.1 L356.4 1311.2 L359.9 1309.3 L363.5 1307.5 L367.1 1305.8 L370.7 1304.1 L374.4 1302.6 L378.1 1301.2 L381.9 1299.8 L385.7 1298.5 L389.5 1297.2 L393.3 1296.0 L397.1 1294.9 L401.0 1293.8 L404.8 1292.9 L408.8 1292.1 L412.7 1291.5 L416.7 1291.0 L420.7 1290.8 L424.7 1290.8 L428.6 1291.0 L432.6 1291.3 L436.6 1291.8 L440.5 1292.4 L444.5 1293.2 L448.4 1294.1 L452.2 1295.0 L456.1 1296.0 L459.9 1297.2 L463.7 1298.5 L467.4 1299.9 L471.1 1301.5 L474.7 1303.3 L478.3 1305.1 L481.8 1307.0 L485.3 1308.8 L488.8 1310.8 L492.3 1312.7 L495.8 1314.7 L499.2 1316.7 L502.6 1318.8 L506.1 1320.9 L509.5 1323.0 L512.9 1325.1 L516.3 1327.2 L519.7 1329.3 L523.1 1331.3 L526.6 1333.4 L530.0 1335.4 L533.5 1337.4 L536.9 1339.5 L540.3 1341.5 L543.8 1343.6 L547.2 1345.6 L550.6 1347.7 L554.0 1349.8 L557.4 1351.9 L560.8 1354.1 L564.1 1356.3 L567.4 1358.5 L570.7 1360.8 L574.0 1363.1 L577.3 1365.4 L580.6 1367.6 L583.9 1369.9 L587.2 1372.1 L590.6 1374.3 L594.0 1376.4 L597.4 1378.5 L600.9 1380.4 L604.4 1382.3 L607.9 1384.1 L611.5 1385.9 L615.1 1387.7 L618.7 1389.4 L622.4 1391.0 L626.1 1392.6 L629.8 1394.1 L633.5 1395.6 L637.2 1397.0 L641.0 1398.3 L644.8 1399.6 L648.6 1400.8 L652.4 1402.0 L656.3 1403.1 L660.1 1404.1 L664.0 1404.9 L668.0 1405.4 L672.0 1405.7 L675.9 1405.7 L679.9 1405.4 L683.9 1404.9 L687.8 1404.2 L691.7 1403.5 L695.6 1402.6 L699.5 1401.6 L703.3 1400.5 L707.1 1399.1 L710.8 1397.6 L714.4 1395.9 L718.0 1394.1 L721.5 1392.2 L725.0 1390.2 L728.4 1388.2 L731.7 1386.0 L735.0 1383.7 L738.1 1381.2 L741.2 1378.6 L744.1 1375.9 L746.9 1373.1 L749.7 1370.2 L752.4 1367.3 L755.1 1364.3 L757.7 1361.2 L760.2 1358.1 L762.6 1354.9 L764.9 1351.6 L767.0 1348.3 L769.1 1344.9 L771.1 1341.4 L773.1 1338.0 L775.1 1334.5 L777.1 1331.0 L779.1 1327.5 L781.0 1324.0 L783.0 1320.5 L784.9 1317.0 L786.8 1313.5 L788.6 1309.9 L790.4 1306.4 L792.1 1302.8 L793.8 1299.1 L795.5 1295.5 L797.1 1291.8 L798.6 1288.1 L800.0 1284.4 L801.4 1280.7 L802.7 1276.9 L804.0 1273.1 L805.2 1269.3 L806.4 1265.5 L807.6 1261.6 L808.7 1257.8 L809.9 1254.0 L811.0 1250.1 L812.1 1246.3 L813.3 1242.5 L814.4 1238.6 L815.6 1234.8 L816.7 1231.0 L817.9 1227.1 L819.0 1223.3 L820.1 1219.5 L821.3 1215.6 L822.3 1211.8 L823.4 1207.9 L824.4 1204.1 L825.5 1200.2 L826.5 1196.3 L827.4 1192.4 L828.4 1188.5 L829.2 1184.6 L830.1 1180.7 L830.9 1176.8 L831.6 1172.9 L832.4 1169.0 L833.1 1165.0 L833.8 1161.1 L834.6 1157.2 L835.3 1153.2 L836.0 1149.3 L836.8 1145.4 L837.6 1141.4 L838.4 1137.5 L839.3 1133.6 L840.2 1129.7 L841.3 1125.9 L842.4 1122.0 L843.6 1118.2 L844.9 1114.5 L846.3 1110.7 L847.7 1106.9 L849.0 1103.2 L850.4 1099.4 L851.6 1095.6 L852.8 1091.8 L853.9 1088.0 L855.0 1084.1 L856.0 1080.2 L857.0 1076.4 L857.9 1072.5 L858.9 1068.6 L859.8 1064.7 L860.7 1060.8 L861.6 1056.9 L862.5 1053.0 L863.3 1049.1 L864.2 1045.2 L865.1 1041.3 L865.9 1037.4 L866.8 1033.5 L867.6 1029.6 L868.5 1025.7 L869.3 1021.7 L870.1 1017.8 L871.0 1013.9 L871.8 1010.0 L872.6 1006.1 L873.4 1002.2 L874.1 998.2 L874.9 994.3 L875.7 990.4 L876.4 986.5 L877.2 982.5 L878.0 978.6 L878.7 974.7 L879.4 970.7 L880.2 966.8 L880.9 962.9 L881.6 958.9 L882.4 955.0 L883.1 951.1 L883.8 947.1 L884.5 943.2 L885.1 939.3 L885.8 935.3 L886.4 931.4 L887.1 927.4 L887.7 923.5 L888.3 919.5 L888.8 915.5 L889.4 911.6 L889.9 907.6 L890.4 903.6 L890.9 899.7 L891.3 895.7 L891.7 891.7 L892.1 887.7 L892.5 883.8 L892.9 879.8 L893.3 875.8 L893.7 871.8 L894.1 867.8 L894.5 863.9 L894.9 859.9 L895.3 855.9 L895.7 851.9 L896.1 847.9 L896.5 844.0 L896.9 840.0 L897.4 836.0 L897.9 832.0 L898.3 828.1 L898.8 824.1 L899.4 820.1 L899.9 816.2 L900.4 812.2 L900.9 808.2 L901.5 804.3 L902.0 800.3 L902.6 796.3 L903.1 792.4 L903.7 788.4 L904.2 784.5 L904.8 780.5 L905.4 776.5 L906.0 772.6 L906.5 768.6 L907.1 764.7 L907.7 760.7 L908.3 756.8 L908.9 752.8 L909.4 748.8 L910.0 744.9 L910.6 740.9 L911.2 737.0 L911.8 733.0 L912.4 729.0 L912.9 725.1 L913.5 721.1 L914.1 717.2 L914.7 713.2 L915.3 709.3 L915.9 705.3 L916.5 701.4 L917.1 697.4 L917.7 693.5 L918.3 689.5 L918.9 685.5 L919.5 681.6 L920.1 677.6 L920.7 673.7 L921.3 669.7 L921.9 665.8 L922.5 661.8 L923.1 657.9 L923.7 653.9 L924.3 649.9 L924.9 646.0 L925.5 642.0 L926.1 638.1 L926.8 634.1 L927.4 630.2 L928.0 626.2 L928.6 622.3 L929.2 618.3 L929.7 614.4 L930.3 610.4 L930.9 606.4 L931.5 602.5 L932.1 598.5 L932.6 594.6 L933.2 590.6 L933.7 586.6 L934.2 582.7 L934.7 578.7 L935.2 574.7 L935.7 570.8 L936.1 566.8 L936.6 562.8 L937.1 558.8 L937.5 554.9 L938.0 550.9 L938.6 546.9 L939.1 543.0 L939.7 539.0 L940.4 535.1 L941.1 531.1 L941.8 527.2 L942.6 523.3 L943.3 519.3 L944.0 515.4 L944.6 511.5 L945.3 507.5 L945.9 503.6 L946.6 499.6 L947.2 495.7 L947.8 491.7 L948.4 487.8 L949.1 483.8 L949.7 479.9 L950.3 475.9 L951.0 472.0 L951.7 468.0 L952.4 464.1 L953.1 460.2 L953.8 456.2 L954.6 452.3 L955.4 448.4 L956.3 444.5 L957.2 440.6 L958.2 436.7 L959.1 432.8 L960.1 429.0 L961.2 425.1 L962.3 421.2 L963.4 417.4 L964.5 413.6 L965.7 409.7 L966.9 405.9 L968.2 402.1 L969.4 398.3 L970.7 394.5 L971.9 390.7 L973.2 386.9 L974.4 383.1 L975.7 379.3 L977.0 375.6 L978.3 371.8 L979.7 368.0 L981.1 364.3 L982.6 360.6 L984.2 356.9 L986.0 353.4 L988.0 349.9 L990.1 346.5 L992.3 343.2 L994.6 339.9 L997.1 336.8 L999.9 334.0 L1003.0 331.8 L1006.5 330.4 L1010.2 330.1 L1013.9 330.9 L1017.5 332.4 L1020.8 334.5 L1023.9 337.0 L1026.8 339.8 L1029.5 342.7 L1032.0 345.8 L1034.4 349.0 L1036.5 352.4 L1038.4 355.9 L1040.1 359.5 L1041.6 363.2 L1043.2 366.8 L1044.8 370.5 L1046.4 374.1 L1048.3 377.7 L1050.3 381.1 L1052.5 384.5 L1054.9 387.7 L1057.3 390.9 L1059.5 394.1 L1061.6 397.5 L1063.5 401.0 L1065.2 404.7 L1066.8 408.3 L1068.3 412.0 L1069.7 415.8 L1071.1 419.5 L1072.5 423.3 L1073.9 427.0 L1075.3 430.8 L1076.6 434.5 L1078.0 438.3 L1079.3 442.1 L1080.6 445.9 L1081.9 449.6 L1083.2 453.4 L1084.5 457.2 L1085.8 461.0 L1087.2 464.8 L1088.5 468.5 L1089.9 472.3 L1091.3 476.0 L1092.7 479.8 L1094.1 483.5 L1095.5 487.3 L1096.9 491.0 L1098.2 494.8 L1099.4 498.6 L1100.6 502.4 L1101.7 506.3 L1102.6 510.1 L1103.4 514.1 L1104.2 518.0 L1104.8 521.9 L1105.5 525.9 L1106.1 529.8 L1106.8 533.8 L1107.5 537.7 L1108.3 541.6 L1109.2 545.5 L1110.0 549.4 L1110.9 553.3 L1111.9 557.2 L1112.8 561.1 L1113.7 565.0 L1114.7 568.9 L1115.7 572.8 L1116.7 576.6 L1117.7 580.5 L1118.7 584.4 L1119.7 588.2 L1120.7 592.1 L1121.8 596.0 L1122.9 599.8 L1124.0 603.7 L1125.0 607.5 L1126.1 611.4 L1127.3 615.2 L1128.4 619.0 L1129.5 622.9 L1130.6 626.7 L1131.8 630.6 L1133.0 634.4 L1134.1 638.2 L1135.3 642.0 L1136.5 645.8 L1137.7 649.7 L1138.9 653.5 L1140.1 657.3 L1141.3 661.1 L1142.6 664.9 L1143.8 668.7 L1145.0 672.5 L1146.2 676.3 L1147.4 680.1 L1148.6 684.0 L1149.8 687.8 L1151.0 691.6 L1152.2 695.4 L1153.4 699.2 L1154.6 703.1 L1155.8 706.9 L1156.9 710.7 L1158.1 714.5 L1159.3 718.3 L1160.5 722.2 L1161.7 726.0 L1162.8 729.8 L1164.0 733.6 L1165.2 737.5 L1166.3 741.3 L1167.5 745.1 L1168.6 748.9 L1169.8 752.8 L1170.9 756.6 L1172.0 760.5 L1173.1 764.3 L1174.3 768.1 L1175.3 772.0 L1176.4 775.8 L1177.5 779.7 L1178.5 783.6 L1179.4 787.5 L1180.4 791.3 L1181.3 795.2 L1182.2 799.1 L1183.1 803.0 L1183.9 806.9 L1184.8 810.8 L1185.8 814.7 L1186.7 818.6 L1187.7 822.5 L1188.8 826.3 L1189.9 830.2 L1191.2 834.0 L1192.5 837.8 L1193.9 841.5 L1195.3 845.2 L1196.8 849.0 L1198.3 852.7 L1199.8 856.4 L1201.4 860.0 L1203.0 863.7 L1204.7 867.3 L1206.4 871.0 L1208.1 874.6 L1209.8 878.2 L1211.6 881.8 L1213.4 885.3 L1215.2 888.9 L1217.0 892.5 L1218.8 896.0 L1220.6 899.6 L1222.4 903.2 L1224.2 906.7 L1226.0 910.3 L1227.8 913.9 L1229.5 917.5 L1231.2 921.1 L1232.9 924.8 L1234.5 928.4 L1236.2 932.1 L1237.8 935.7 L1239.4 939.4 L1241.0 943.1 L1242.5 946.7 L1244.1 950.4 L1245.7 954.1 L1247.3 957.8 L1248.8 961.4 L1250.4 965.1 L1251.9 968.8 L1253.5 972.5 L1255.1 976.2 L1256.6 979.9 L1258.2 983.5 L1259.8 987.2 L1261.4 990.9 L1263.0 994.5 L1264.6 998.2 L1266.2 1001.9 L1267.8 1005.5 L1269.4 1009.2 L1271.1 1012.8 L1272.8 1016.5 L1274.4 1020.1 L1276.1 1023.7 L1277.8 1027.3 L1279.5 1031.0 L1281.2 1034.6 L1283.0 1038.2 L1284.7 1041.8 L1286.4 1045.4 L1288.1 1049.0 L1289.9 1052.6 L1291.7 1056.2 L1293.4 1059.8 L1295.2 1063.4 L1297.0 1066.9 L1298.8 1070.5 L1300.6 1074.1 L1302.5 1077.6 L1304.3 1081.2 L1306.2 1084.7 L1308.1 1088.2 L1310.0 1091.7 L1312.0 1095.2 L1314.0 1098.7 L1315.9 1102.2 L1317.9 1105.6 L1320.0 1109.1 L1322.1 1112.5 L1324.2 1115.8 L1326.6 1119.0 L1329.2 1122.0 L1332.2 1124.6 L1335.3 1127.0 L1338.4 1129.4 L1341.3 1132.1 L1344.0 1135.0 L1346.6 1138.1 L1349.0 1141.2 L1351.5 1144.4 L1353.9 1147.6 L1356.3 1150.7 L1358.8 1153.9 L1361.3 1157.0 L1363.7 1160.2 L1366.2 1163.4 L1368.6 1166.5 L1371.1 1169.6 L1373.6 1172.7 L1376.2 1175.8 L1378.8 1178.8 L1381.5 1181.8 L1384.3 1184.7 L1387.1 1187.6 L1389.9 1190.4 L1392.8 1193.1 L1395.7 1195.8 L1398.8 1198.4 L1401.9 1200.9 L1405.1 1203.3 L1408.4 1205.6 L1411.6 1207.9 L1414.7 1210.4 L1417.7 1213.1 L1420.4 1216.0 L1423.0 1219.1 L1425.4 1222.2 L1427.8 1225.4 L1430.2 1228.6 L1432.7 1231.8 L1435.2 1234.8 L1437.9 1237.8 L1440.7 1240.7 L1443.5 1243.5 L1446.4 1246.3 L1449.3 1249.0 L1452.3 1251.7 L1455.3 1254.3 L1458.4 1256.9 L1461.5 1259.3 L1464.7 1261.7 L1468.0 1264.0 L1471.3 1266.2 L1474.7 1268.4 L1478.1 1270.5 L1481.5 1272.6 L1485.0 1274.6 L1488.4 1276.6 L1491.9 1278.6 L1495.4 1280.6 L1498.9 1282.5 L1502.4 1284.4 L1505.9 1286.3 L1509.4 1288.2 L1513.0 1290.1 L1516.5 1292.0 L1520.0 1293.9 L1523.5 1295.9 L1527.0 1297.8 L1530.5 1299.8 L1533.9 1301.8 L1537.4 1303.8 L1540.8 1305.9 L1544.2 1308.0 L1547.6 1310.1 L1551.0 1312.2 L1554.4 1314.3 L1557.8 1316.5 L1561.2 1318.6 L1564.5 1320.7 L1567.9 1322.9 L1571.3 1325.0 L1574.7 1327.2 L1578.0 1329.3 L1581.4 1331.5 L1584.8 1333.6 L1588.2 1335.7 L1591.6 1337.8 L1595.0 1339.9 L1598.4 1342.0 L1601.9 1344.0 L1605.3 1346.0 L1608.8 1348.0 L1612.3 1350.0 L1615.8 1351.9 L1619.3 1353.8 L1622.8 1355.7 L1626.4 1357.6 L1629.9 1359.5 L1633.4 1361.4 L1637.0 1363.2 L1640.5 1365.1 L1644.0 1366.9 L1647.6 1368.8 L1651.1 1370.6 L1654.7 1372.4 L1658.3 1374.2 L1661.8 1376.1 L1665.4 1377.9 L1669.0 1379.6 L1672.6 1381.4 L1676.2 1383.2 L1679.7 1385.0 L1683.3 1386.7 L1686.9 1388.5 L1690.5 1390.2 L1694.1 1392.0 L1697.7 1393.7 L1701.4 1395.4 L1705.0 1397.1 L1708.6 1398.8 L1712.2 1400.5 L1715.8 1402.2 L1719.4 1403.9 L1723.1 1405.6 L1726.7 1407.3 L1730.3 1409.0 L1734.0 1410.6 L1737.6 1412.3 L1741.3 1414.0 L1744.9 1415.6 L1748.5 1417.3 L1752.2 1418.9 L1755.8 1420.6 L1759.5 1422.2 L1763.1 1423.9 L1766.8 1425.5 L1770.4 1427.1 L1774.1 1428.7 L1777.7 1430.3 L1781.4 1431.9 L1785.1 1433.4 L1788.9 1434.9 L1792.6 1436.3 L1796.4 1437.6 L1800.2 1438.9 L1804.0 1440.1 L1807.8 1441.3 L1811.6 1442.5 L1815.4 1443.7 L1819.2 1444.9 L1823.1 1446.0 L1826.9 1447.1 L1830.8 1448.2 L1834.6 1449.3 L1838.5 1450.4 L1842.3 1451.5 L1846.2 1452.5 L1850.1 1453.5 L1853.9 1454.5 L1857.8 1455.4 L1861.7 1456.4 L1865.6 1457.3 L1869.5 1458.1 L1873.4 1459.0 L1877.3 1459.8 L1881.2 1460.6 L1885.2 1461.4 L1889.1 1462.1 L1893.0 1462.9 L1897.0 1463.6 L1900.9 1464.3 L1904.8 1465.1 L1908.8 1465.8 L1912.7 1466.5 L1916.6 1467.2 L1920.6 1467.9 L1924.5 1468.6 L1928.5 1469.2 L1932.4 1469.9 L1936.4 1470.6 L1940.3 1471.2 L1944.2 1471.9 L1948.2 1472.5 L1952.1 1473.2 L1956.1 1473.8 L1960.0 1474.4 L1964.0 1475.0 L1968.0 1475.6 L1971.9 1476.2 L1975.9 1476.8 L1979.8 1477.3 L1983.8 1477.9 L1987.7 1478.5 L1991.7 1479.0 L1995.7 1479.5 L1999.6 1480.0 L2003.6 1480.5 L2007.6 1481.0 L2011.6 1481.5 L2015.5 1481.9 L2019.5 1482.4 L2023.5 1482.8 L2027.5 1483.2 L2031.4 1483.6 L2035.4 1484.0 L2039.4 1484.4 L2043.4 1484.7 L2047.4 1485.1 L2051.4 1485.5 L2055.3 1485.9 L2059.3 1486.2 L2063.3 1486.6 L2067.3 1487.0 L2071.3 1487.3 L2075.3 1487.7 L2079.2 1488.1 L2083.2 1488.4 L2087.2 1488.8 L2091.2 1489.2 L2095.2 1489.5 L2099.1 1489.9 L2103.1 1490.3 L2107.1 1490.6 L2111.1 1491.0 L2115.1 1491.4 L2119.1 1491.7 L2123.0 1492.1 L2127.0 1492.5 L2131.0 1492.8 L2135.0 1493.2 L2139.0 1493.6 L2143.0 1493.9 L2146.9 1494.3 L2150.9 1494.6 L2154.9 1495.0 L2158.9 1495.4 L2162.9 1495.7 L2166.9 1496.1 L2170.9 1496.4 L2174.8 1496.8 L2178.8 1497.2 L2182.8 1497.5 L2186.8 1497.9 L2190.7 1498.2 L2191.5 1498.3" stroke="#000099"/>
<path class="c" d="M309.0 1415.6 L313.0 1415.2 L316.9 1414.6 L320.8 1413.8 L324.7 1413.0 L328.6 1412.2 L332.6 1411.3 L336.5 1410.5 L340.4 1409.6 L344.3 1408.8 L348.2 1407.9 L352.1 1407.1 L356.0 1406.2 L359.9 1405.3 L363.8 1404.5 L367.7 1403.7 L371.7 1403.0 L375.6 1402.4 L379.6 1401.9 L383.6 1401.5 L387.6 1401.2 L391.5 1401.0 L395.5 1400.9 L399.5 1400.9 L403.5 1401.0 L407.5 1401.1 L411.5 1401.3 L415.5 1401.6 L419.5 1401.9 L423.5 1402.4 L427.4 1402.9 L431.4 1403.5 L435.3 1404.2 L439.2 1405.0 L443.1 1405.9 L447.0 1406.8 L450.9 1407.8 L454.8 1408.8 L458.7 1409.8 L462.5 1410.9 L466.3 1412.0 L470.2 1413.2 L473.9 1414.5 L477.7 1415.8 L481.5 1417.2 L485.2 1418.6 L489.0 1420.0 L492.7 1421.5 L496.4 1422.9 L500.2 1424.3 L503.9 1425.8 L507.6 1427.2 L511.3 1428.7 L515.0 1430.2 L518.7 1431.7 L522.4 1433.3 L526.1 1434.8 L529.8 1436.3 L533.5 1437.9 L537.2 1439.5 L540.9 1441.1 L544.5 1442.6 L548.2 1444.2 L551.9 1445.8 L555.6 1447.4 L559.2 1449.0 L562.9 1450.5 L566.6 1452.1 L570.3 1453.7 L574.0 1455.2 L577.6 1456.8 L581.3 1458.3 L585.0 1459.8 L588.7 1461.3 L592.5 1462.8 L596.2 1464.3 L599.9 1465.7 L603.7 1467.1 L607.4 1468.5 L611.2 1469.9 L614.9 1471.3 L618.7 1472.7 L622.4 1474.0 L626.2 1475.3 L630.0 1476.5 L633.9 1477.4 L637.8 1478.1 L641.8 1478.5 L645.8 1478.8 L649.8 1479.0 L653.8 1479.2 L657.8 1479.4 L661.8 1479.5 L665.8 1479.6 L669.8 1479.7 L673.8 1479.7 L677.8 1479.8 L681.8 1479.8 L685.8 1479.7 L689.8 1479.7 L693.8 1479.6 L697.7 1479.4 L701.7 1479.3 L705.7 1479.1 L709.7 1478.9 L713.7 1478.7 L717.7 1478.4 L721.7 1478.0 L725.6 1477.4 L729.5 1476.5 L733.4 1475.4 L737.1 1474.1 L740.9 1472.7 L744.6 1471.2 L748.3 1469.6 L751.9 1468.1 L755.6 1466.4 L759.2 1464.7 L762.7 1462.9 L766.2 1460.9 L769.5 1458.7 L772.8 1456.3 L776.0 1453.9 L779.1 1451.4 L782.2 1448.9 L785.2 1446.3 L788.2 1443.6 L791.0 1440.8 L793.7 1437.9 L796.4 1434.9 L798.9 1431.8 L801.4 1428.7 L803.8 1425.5 L806.2 1422.2 L808.5 1419.0 L810.7 1415.7 L812.9 1412.3 L814.9 1408.9 L816.8 1405.4 L818.6 1401.8 L820.3 1398.2 L822.0 1394.5 L823.6 1390.9 L825.1 1387.2 L826.6 1383.5 L828.1 1379.7 L829.5 1376.0 L830.9 1372.2 L832.1 1368.5 L833.3 1364.6 L834.5 1360.8 L835.6 1357.0 L836.7 1353.1 L837.8 1349.3 L838.9 1345.4 L840.0 1341.6 L841.1 1337.7 L842.1 1333.9 L843.2 1330.0 L844.2 1326.2 L845.3 1322.3 L846.3 1318.4 L847.3 1314.6 L848.3 1310.7 L849.3 1306.8 L850.3 1302.9 L851.3 1299.1 L852.3 1295.2 L853.3 1291.3 L854.3 1287.4 L855.3 1283.6 L856.2 1279.7 L857.2 1275.8 L858.1 1271.9 L859.0 1268.0 L859.9 1264.1 L860.9 1260.2 L861.8 1256.3 L862.7 1252.4 L863.5 1248.5 L864.4 1244.6 L865.3 1240.7 L866.2 1236.8 L867.0 1232.9 L867.9 1229.0 L868.7 1225.1 L869.6 1221.2 L870.4 1217.3 L871.2 1213.4 L872.0 1209.4 L872.8 1205.5 L873.6 1201.6 L874.3 1197.7 L875.1 1193.7 L875.8 1189.8 L876.6 1185.9 L877.3 1181.9 L878.1 1178.0 L878.8 1174.1 L879.5 1170.1 L880.2 1166.2 L880.9 1162.3 L881.5 1158.3 L882.2 1154.4 L882.8 1150.4 L883.4 1146.5 L884.0 1142.5 L884.6 1138.5 L885.1 1134.6 L885.6 1130.6 L886.1 1126.6 L886.5 1122.7 L886.9 1118.7 L887.2 1114.7 L887.6 1110.7 L887.9 1106.7 L888.3 1102.7 L888.6 1098.8 L889.0 1094.8 L889.4 1090.8 L889.9 1086.8 L890.3 1082.9 L890.8 1078.9 L891.3 1074.9 L891.8 1070.9 L892.2 1067.0 L892.7 1063.0 L893.2 1059.0 L893.7 1055.1 L894.2 1051.1 L894.7 1047.1 L895.2 1043.2 L895.8 1039.2 L896.3 1035.2 L896.8 1031.3 L897.3 1027.3 L897.8 1023.3 L898.4 1019.4 L898.9 1015.4 L899.4 1011.4 L900.0 1007.5 L900.5 1003.5 L901.0 999.5 L901.6 995.6 L902.1 991.6 L902.7 987.7 L903.2 983.7 L903.8 979.7 L904.4 975.8 L904.9 971.8 L905.5 967.9 L906.0 963.9 L906.6 959.9 L907.2 956.0 L907.8 952.0 L908.3 948.1 L908.9 944.1 L909.5 940.1 L910.1 936.2 L910.6 932.2 L911.2 928.3 L911.8 924.3 L912.4 920.3 L913.0 916.4 L913.5 912.4 L914.1 908.5 L914.7 904.5 L915.3 900.6 L915.9 896.6 L916.5 892.6 L917.1 888.7 L917.6 884.7 L918.2 880.8 L918.8 876.8 L919.4 872.9 L920.0 868.9 L920.6 864.9 L921.1 861.0 L921.7 857.0 L922.3 853.1 L922.9 849.1 L923.4 845.2 L924.0 841.2 L924.6 837.2 L925.2 833.3 L925.7 829.3 L926.3 825.4 L926.9 821.4 L927.4 817.4 L928.0 813.5 L928.6 809.5 L929.1 805.6 L929.7 801.6 L930.3 797.6 L930.9 793.7 L931.4 789.7 L932.0 785.8 L932.6 781.8 L933.2 777.9 L933.7 773.9 L934.3 769.9 L934.9 766.0 L935.4 762.0 L936.0 758.1 L936.5 754.1 L937.0 750.1 L937.6 746.2 L938.1 742.2 L938.6 738.2 L939.1 734.3 L939.6 730.3 L940.1 726.3 L940.6 722.4 L941.1 718.4 L941.6 714.4 L942.1 710.4 L942.6 706.5 L943.1 702.5 L943.6 698.5 L944.1 694.6 L944.5 690.6 L945.0 686.6 L945.5 682.7 L946.0 678.7 L946.5 674.7 L947.0 670.7 L947.5 666.8 L948.0 662.8 L948.5 658.8 L949.0 654.9 L949.5 650.9 L949.9 646.9 L950.4 643.0 L950.9 639.0 L951.4 635.0 L951.9 631.1 L952.4 627.1 L952.9 623.1 L953.4 619.1 L953.9 615.2 L954.4 611.2 L954.9 607.2 L955.4 603.3 L955.9 599.3 L956.4 595.3 L956.9 591.4 L957.4 587.4 L957.9 583.4 L958.4 579.5 L959.0 575.5 L959.5 571.5 L960.0 567.6 L960.5 563.6 L961.0 559.6 L961.5 555.7 L962.1 551.7 L962.6 547.7 L963.1 543.8 L963.7 539.8 L964.2 535.8 L964.8 531.9 L965.4 527.9 L966.0 524.0 L966.6 520.0 L967.2 516.1 L967.8 512.1 L968.4 508.2 L969.0 504.2 L969.7 500.3 L970.3 496.3 L970.9 492.4 L971.6 488.4 L972.2 484.5 L972.9 480.5 L973.5 476.6 L974.2 472.6 L974.8 468.7 L975.5 464.7 L976.1 460.8 L976.8 456.8 L977.4 452.9 L978.1 448.9 L978.7 445.0 L979.4 441.1 L980.1 437.1 L980.7 433.2 L981.4 429.2 L982.1 425.3 L982.7 421.3 L983.4 417.4 L984.0 413.4 L984.7 409.5 L985.3 405.5 L986.0 401.6 L986.6 397.6 L987.2 393.7 L987.9 389.8 L988.5 385.8 L989.2 381.9 L989.8 377.9 L990.5 374.0 L991.2 370.0 L991.9 366.1 L992.6 362.1 L993.3 358.2 L994.0 354.3 L994.8 350.4 L995.6 346.4 L996.5 342.5 L997.3 338.6 L998.1 334.7 L998.9 330.8 L999.6 326.8 L1000.2 322.9 L1000.8 318.9 L1001.3 315.0 L1001.8 311.0 L1002.4 307.1 L1003.2 303.2 L1004.3 299.3 L1005.7 295.6 L1007.4 292.0 L1009.2 288.5 L1011.0 284.9 L1012.8 281.3 L1014.5 277.7 L1016.1 274.0 L1017.6 270.3 L1018.8 266.5 L1019.8 262.7 L1020.6 258.8 L1021.5 254.9 L1022.5 251.1 L1024.0 247.5 L1026.1 244.3 L1028.9 241.5 L1032.1 239.2 L1035.5 237.2 L1039.1 235.6 L1042.8 234.4 L1046.5 234.2 L1050.0 235.2 L1053.3 237.1 L1056.3 239.6 L1059.2 242.3 L1062.1 245.1 L1064.9 248.0 L1067.6 250.9 L1070.1 254.0 L1072.4 257.3 L1074.4 260.7 L1076.1 264.3 L1077.6 268.0 L1079.1 271.7 L1080.5 275.4 L1081.9 279.2 L1083.2 283.0 L1084.5 286.7 L1085.8 290.5 L1087.1 294.3 L1088.4 298.1 L1089.8 301.9 L1091.1 305.6 L1092.5 309.4 L1093.9 313.1 L1095.4 316.8 L1096.9 320.5 L1098.5 324.2 L1100.1 327.9 L1101.9 331.4 L1103.7 335.0 L1105.5 338.6 L1107.2 342.2 L1108.8 345.9 L1110.2 349.6 L1111.6 353.4 L1112.8 357.2 L1114.0 361.0 L1115.2 364.8 L1116.3 368.6 L1117.4 372.5 L1118.5 376.3 L1119.6 380.2 L1120.7 384.0 L1121.8 387.9 L1122.9 391.7 L1124.1 395.5 L1125.2 399.4 L1126.4 403.2 L1127.5 407.0 L1128.7 410.9 L1129.8 414.7 L1130.7 417.6 L1131.6 420.4 L1132.4 423.3 L1133.3 426.2 L1134.1 429.1 L1135.0 431.9 L1135.9 434.8 L1136.7 437.7 L1137.6 440.6 L1138.4 443.4 L1139.3 446.3 L1140.2 449.2 L1141.3 453.0 L1142.5 456.8 L1143.6 460.7 L1144.8 464.5 L1145.9 468.3 L1147.1 472.2 L1148.3 476.0 L1149.4 479.8 L1150.6 483.6 L1151.8 487.5 L1152.9 491.3 L1154.1 495.1 L1155.2 499.0 L1156.3 502.8 L1157.4 506.6 L1158.5 510.5 L1159.5 514.4 L1160.5 518.2 L1161.5 522.1 L1162.5 526.0 L1163.4 529.9 L1164.3 533.8 L1165.2 537.7 L1166.0 541.6 L1166.9 545.5 L1167.6 549.4 L1168.4 553.4 L1169.1 557.3 L1169.9 561.2 L1170.6 565.2 L1171.3 569.1 L1172.0 573.0 L1172.7 577.0 L1173.4 580.9 L1174.1 584.9 L1174.8 588.8 L1175.5 592.7 L1176.2 596.7 L1177.0 600.6 L1177.7 604.5 L1178.5 608.4 L1179.4 612.3 L1180.3 616.2 L1181.3 620.1 L1182.3 624.0 L1183.3 627.8 L1184.4 631.7 L1185.5 635.5 L1186.7 639.4 L1187.8 643.2 L1189.0 647.0 L1190.2 650.8 L1191.5 654.6 L1192.7 658.4 L1194.0 662.2 L1195.3 666.0 L1196.6 669.8 L1197.9 673.6 L1199.3 677.3 L1200.6 681.1 L1201.9 684.9 L1203.3 688.6 L1204.6 692.4 L1205.9 696.2 L1207.3 700.0 L1208.6 703.7 L1209.9 707.5 L1211.2 711.3 L1212.6 715.0 L1213.9 718.8 L1215.3 722.6 L1216.7 726.3 L1218.0 730.1 L1219.4 733.8 L1220.7 737.6 L1222.1 741.4 L1223.5 745.1 L1224.8 748.9 L1226.2 752.7 L1227.5 756.4 L1228.9 760.2 L1230.2 764.0 L1231.5 767.7 L1232.8 771.5 L1234.1 775.3 L1235.4 779.1 L1236.7 782.9 L1238.0 786.7 L1239.2 790.5 L1240.5 794.3 L1241.8 798.1 L1243.0 801.9 L1244.3 805.7 L1245.5 809.5 L1246.8 813.3 L1248.0 817.1 L1249.2 820.9 L1250.4 824.7 L1251.6 828.5 L1252.9 832.3 L1254.1 836.1 L1255.4 839.9 L1256.7 843.7 L1258.0 847.4 L1259.4 851.2 L1261.0 854.9 L1262.5 858.6 L1264.2 862.2 L1265.9 865.8 L1267.6 869.4 L1269.4 873.0 L1271.2 876.6 L1273.1 880.1 L1274.9 883.7 L1276.7 887.2 L1278.5 890.8 L1280.4 894.4 L1282.2 897.9 L1284.1 901.5 L1285.9 905.0 L1287.8 908.5 L1289.6 912.1 L1291.5 915.6 L1293.3 919.2 L1295.1 922.7 L1296.9 926.3 L1298.7 929.9 L1300.5 933.5 L1302.3 937.1 L1304.0 940.7 L1305.8 944.3 L1307.5 947.8 L1309.3 951.4 L1311.2 955.0 L1313.1 958.5 L1315.0 962.0 L1317.0 965.4 L1319.1 968.9 L1321.2 972.3 L1323.2 975.7 L1325.3 979.2 L1327.2 982.6 L1329.1 986.1 L1331.0 989.7 L1332.9 993.2 L1334.7 996.8 L1336.5 1000.3 L1338.4 1003.9 L1340.3 1007.4 L1342.2 1010.9 L1344.2 1014.4 L1346.4 1017.7 L1348.6 1021.0 L1351.1 1024.2 L1353.7 1027.2 L1356.5 1030.0 L1359.4 1032.7 L1362.5 1035.3 L1365.6 1037.9 L1368.6 1040.4 L1371.6 1043.1 L1374.4 1045.9 L1377.1 1048.9 L1379.5 1052.0 L1381.8 1055.3 L1383.8 1058.7 L1385.7 1062.3 L1387.5 1065.8 L1389.4 1069.4 L1391.2 1072.9 L1393.1 1076.4 L1395.3 1079.8 L1397.6 1083.0 L1400.2 1086.0 L1403.1 1088.8 L1406.1 1091.4 L1409.2 1093.9 L1412.3 1096.4 L1415.5 1098.9 L1418.5 1101.5 L1421.5 1104.1 L1424.3 1106.9 L1427.1 1109.8 L1429.9 1112.6 L1432.7 1115.5 L1435.4 1118.5 L1438.1 1121.4 L1440.9 1124.3 L1443.6 1127.2 L1446.4 1130.1 L1449.1 1133.0 L1451.9 1135.9 L1454.8 1138.7 L1457.6 1141.5 L1460.6 1144.2 L1463.5 1146.9 L1466.6 1149.5 L1469.6 1152.1 L1472.7 1154.7 L1475.8 1157.2 L1478.9 1159.7 L1482.0 1162.2 L1485.1 1164.7 L1488.3 1167.2 L1491.4 1169.6 L1494.6 1172.1 L1497.8 1174.5 L1500.9 1176.9 L1504.1 1179.4 L1507.3 1181.8 L1510.4 1184.3 L1513.6 1186.8 L1516.7 1189.3 L1519.8 1191.8 L1523.0 1194.2 L1526.1 1196.7 L1529.3 1199.2 L1532.4 1201.6 L1535.6 1204.1 L1538.7 1206.6 L1541.9 1209.0 L1545.0 1211.5 L1548.1 1214.0 L1551.2 1216.5 L1554.4 1219.0 L1557.5 1221.5 L1560.5 1224.1 L1563.6 1226.7 L1566.7 1229.3 L1569.7 1231.9 L1572.7 1234.5 L1575.6 1237.2 L1578.5 1239.9 L1581.5 1242.7 L1584.3 1245.5 L1587.2 1248.2 L1590.1 1251.0 L1592.9 1253.8 L1595.8 1256.6 L1598.7 1259.4 L1601.6 1262.2 L1604.5 1264.9 L1607.4 1267.7 L1610.4 1270.4 L1613.3 1273.0 L1616.4 1275.6 L1619.4 1278.2 L1622.5 1280.7 L1625.6 1283.3 L1628.7 1285.8 L1631.9 1288.3 L1635.0 1290.7 L1638.1 1293.2 L1641.3 1295.7 L1644.5 1298.1 L1647.6 1300.6 L1650.8 1303.0 L1654.0 1305.4 L1657.2 1307.9 L1660.4 1310.3 L1663.6 1312.7 L1666.8 1315.1 L1670.0 1317.4 L1673.2 1319.8 L1676.4 1322.2 L1679.7 1324.5 L1682.9 1326.9 L1686.1 1329.2 L1689.4 1331.5 L1692.7 1333.9 L1695.9 1336.2 L1699.2 1338.5 L1702.5 1340.8 L1705.8 1343.0 L1709.1 1345.3 L1712.4 1347.6 L1715.7 1349.8 L1719.0 1352.1 L1722.3 1354.3 L1725.6 1356.5 L1728.9 1358.8 L1732.3 1361.0 L1735.6 1363.2 L1739.0 1365.4 L1742.3 1367.5 L1745.7 1369.7 L1749.0 1371.9 L1752.4 1374.0 L1755.8 1376.2 L1759.1 1378.4 L1762.5 1380.5 L1765.9 1382.7 L1769.2 1384.8 L1772.6 1386.9 L1776.0 1389.0 L1779.5 1391.1 L1782.9 1393.1 L1786.4 1395.1 L1789.9 1396.9 L1793.5 1398.7 L1797.1 1400.5 L1800.8 1402.1 L1804.4 1403.7 L1808.1 1405.3 L1811.8 1406.8 L1815.5 1408.2 L1819.3 1409.7 L1823.0 1411.1 L1826.7 1412.6 L1830.5 1413.9 L1834.2 1415.3 L1838.0 1416.7 L1841.8 1418.0 L1845.6 1419.3 L1849.3 1420.6 L1853.1 1421.9 L1856.9 1423.2 L1860.7 1424.4 L1864.5 1425.7 L1868.3 1426.9 L1872.1 1428.1 L1875.9 1429.4 L1879.7 1430.6 L1883.5 1431.8 L1887.3 1433.1 L1891.1 1434.3 L1894.9 1435.6 L1898.7 1436.9 L1902.5 1438.2 L1906.3 1439.5 L1910.1 1440.8 L1913.9 1442.1 L1917.6 1443.4 L1921.4 1444.7 L1925.2 1446.0 L1929.0 1447.3 L1932.8 1448.6 L1936.6 1449.9 L1940.3 1451.2 L1944.1 1452.4 L1948.0 1453.6 L1951.8 1454.8 L1955.6 1456.0 L1959.4 1457.2 L1963.3 1458.3 L1967.1 1459.4 L1971.0 1460.5 L1974.8 1461.5 L1978.7 1462.5 L1982.6 1463.4 L1986.5 1464.3 L1990.4 1465.1 L1994.3 1465.9 L1998.3 1466.6 L2002.2 1467.2 L2006.2 1467.7 L2010.2 1468.1 L2014.1 1468.5 L2018.1 1469.0 L2022.1 1469.5 L2026.0 1470.1 L2030.0 1470.7 L2033.9 1471.3 L2037.9 1471.9 L2041.9 1472.5 L2045.8 1473.1 L2049.8 1473.8 L2053.7 1474.4 L2057.7 1475.0 L2061.6 1475.7 L2065.6 1476.3 L2069.5 1476.9 L2073.5 1477.5 L2077.4 1478.0 L2081.4 1478.6 L2085.3 1479.1 L2089.3 1479.7 L2093.3 1480.2 L2097.3 1480.7 L2101.2 1481.1 L2105.2 1481.6 L2109.2 1482.1 L2113.1 1482.6 L2117.1 1483.1 L2121.1 1483.5 L2125.1 1484.0 L2129.0 1484.4 L2133.0 1484.9 L2137.0 1485.3 L2141.0 1485.7 L2144.9 1486.2 L2148.9 1486.6 L2152.9 1487.0 L2156.9 1487.4 L2160.9 1487.8 L2164.8 1488.1 L2168.8 1488.5 L2172.8 1488.9 L2176.8 1489.2 L2180.8 1489.5 L2184.8 1489.9 L2188.7 1490.2 L2191.5 1490.4" stroke="#FF0066"/>
<path class="c" d="M309.0 1474.7 L312.0 1474.6 L316.0 1474.4 L320.0 1474.0 L324.0 1473.7 L327.9 1473.3 L331.9 1472.9 L335.9 1472.5 L339.9 1472.1 L343.9 1471.8 L347.9 1471.5 L351.8 1471.3 L355.8 1471.1 L359.8 1470.9 L363.8 1470.7 L367.8 1470.6 L371.8 1470.5 L375.8 1470.5 L379.8 1470.6 L383.8 1470.7 L387.8 1471.0 L391.8 1471.3 L395.8 1471.6 L399.8 1472.0 L403.7 1472.4 L407.7 1472.8 L411.7 1473.3 L415.7 1473.6 L419.7 1474.0 L423.6 1474.4 L427.6 1474.8 L431.6 1475.1 L435.6 1475.5 L439.6 1476.0 L443.5 1476.4 L447.5 1476.9 L451.5 1477.4 L455.4 1478.0 L459.4 1478.6 L463.3 1479.2 L467.3 1479.9 L471.2 1480.6 L475.2 1481.3 L479.1 1482.1 L483.0 1482.9 L486.9 1483.7 L490.8 1484.5 L494.7 1485.3 L498.7 1486.2 L502.6 1487.0 L506.5 1487.8 L510.4 1488.6 L514.3 1489.5 L518.2 1490.3 L522.2 1491.1 L526.1 1491.8 L530.0 1492.6 L534.0 1493.3 L537.9 1493.9 L541.8 1494.6 L545.8 1495.2 L549.8 1495.7 L553.7 1496.2 L557.7 1496.7 L561.7 1497.1 L565.7 1497.5 L569.6 1497.9 L573.6 1498.2 L577.6 1498.6 L581.6 1498.9 L585.6 1499.2 L589.6 1499.5 L593.6 1499.8 L597.5 1500.1 L601.5 1500.4 L605.5 1500.6 L609.5 1500.9 L613.5 1501.1 L617.5 1501.3 L621.5 1501.5 L625.5 1501.7 L629.5 1501.9 L633.5 1502.0 L637.5 1502.2 L641.5 1502.3 L645.5 1502.5 L649.5 1502.6 L653.5 1502.8 L657.5 1502.9 L661.5 1503.0 L665.5 1503.1 L669.5 1503.2 L673.5 1503.3 L677.5 1503.4 L681.5 1503.5 L685.5 1503.5 L689.5 1503.6 L693.5 1503.6 L697.5 1503.5 L701.5 1503.5 L705.5 1503.4 L709.5 1503.2 L713.5 1503.0 L717.5 1502.8 L721.4 1502.6 L725.4 1502.3 L729.4 1502.0 L733.4 1501.8 L737.4 1501.5 L741.4 1501.2 L745.4 1500.9 L749.4 1500.5 L753.3 1500.1 L757.3 1499.6 L761.3 1499.0 L765.2 1498.3 L769.1 1497.6 L773.1 1496.8 L777.0 1496.0 L780.9 1495.2 L784.8 1494.2 L788.6 1493.2 L792.4 1492.0 L796.2 1490.6 L799.9 1489.0 L803.5 1487.4 L807.1 1485.7 L810.7 1483.9 L814.2 1482.0 L817.6 1480.0 L820.9 1477.7 L824.1 1475.3 L827.2 1472.7 L830.1 1470.0 L832.9 1467.1 L835.4 1464.1 L837.8 1460.9 L839.9 1457.5 L841.9 1454.0 L843.8 1450.5 L845.7 1447.0 L847.4 1443.4 L849.2 1439.8 L850.9 1436.2 L852.6 1432.6 L854.2 1428.9 L855.8 1425.2 L857.3 1421.5 L858.7 1417.8 L860.2 1414.1 L861.6 1410.3 L863.0 1406.6 L864.4 1402.8 L865.9 1399.1 L867.3 1395.4 L868.8 1391.7 L870.2 1387.9 L871.6 1384.2 L872.9 1380.4 L874.2 1376.6 L875.3 1372.8 L876.4 1368.9 L877.4 1365.1 L878.4 1361.2 L879.4 1357.3 L880.3 1353.4 L881.2 1349.5 L882.0 1345.6 L882.9 1341.7 L883.7 1337.8 L884.6 1333.9 L885.4 1330.0 L886.2 1326.0 L887.0 1322.1 L887.7 1318.2 L888.5 1314.3 L889.2 1310.3 L889.9 1306.4 L890.5 1302.4 L891.2 1298.5 L891.8 1294.5 L892.5 1290.6 L893.1 1286.6 L893.7 1282.7 L894.2 1278.7 L894.8 1274.8 L895.3 1270.8 L895.9 1266.8 L896.4 1262.9 L896.8 1258.9 L897.2 1254.9 L897.7 1250.9 L898.1 1247.0 L898.5 1243.0 L898.9 1239.0 L899.3 1235.0 L899.8 1231.1 L900.3 1227.1 L900.8 1223.1 L901.3 1219.1 L901.8 1215.2 L902.3 1211.2 L902.8 1207.2 L903.3 1203.3 L903.8 1199.3 L904.3 1195.3 L904.8 1191.4 L905.3 1187.4 L905.8 1183.4 L906.4 1179.5 L906.9 1175.5 L907.4 1171.5 L907.9 1167.6 L908.5 1163.6 L909.0 1159.6 L909.5 1155.7 L910.1 1151.7 L910.6 1147.8 L911.2 1143.8 L911.7 1139.8 L912.2 1135.9 L912.8 1131.9 L913.3 1127.9 L913.9 1124.0 L914.4 1120.0 L915.0 1116.1 L915.6 1112.1 L916.1 1108.1 L916.7 1104.2 L917.3 1100.2 L917.8 1096.3 L918.4 1092.3 L919.0 1088.3 L919.5 1084.4 L920.1 1080.4 L920.7 1076.5 L921.2 1072.5 L921.8 1068.5 L922.4 1064.6 L923.0 1060.6 L923.5 1056.7 L924.1 1052.7 L924.7 1048.7 L925.3 1044.8 L925.9 1040.8 L926.4 1036.9 L927.0 1032.9 L927.6 1029.0 L928.2 1025.0 L928.8 1021.0 L929.4 1017.1 L929.9 1013.1 L930.5 1009.2 L931.1 1005.2 L931.7 1001.3 L932.3 997.3 L932.9 993.3 L933.4 989.4 L934.0 985.4 L934.6 981.5 L935.2 977.5 L935.8 973.6 L936.3 969.6 L936.9 965.6 L937.5 961.7 L938.1 957.7 L938.6 953.8 L939.2 949.8 L939.8 945.8 L940.3 941.9 L940.9 937.9 L941.5 934.0 L942.0 930.0 L942.6 926.0 L943.2 922.1 L943.7 918.1 L944.3 914.2 L944.8 910.2 L945.4 906.2 L945.9 902.3 L946.5 898.3 L947.0 894.4 L947.6 890.4 L948.1 886.4 L948.7 882.5 L949.2 878.5 L949.7 874.5 L950.3 870.6 L950.8 866.6 L951.3 862.6 L951.8 858.7 L952.4 854.7 L952.9 850.7 L953.4 846.8 L953.9 842.8 L954.4 838.8 L955.0 834.9 L955.5 830.9 L956.0 826.9 L956.5 823.0 L957.0 819.0 L957.5 815.0 L958.0 811.1 L958.4 807.1 L958.9 803.1 L959.4 799.2 L959.9 795.2 L960.3 791.2 L960.8 787.2 L961.2 783.3 L961.7 779.3 L962.1 775.3 L962.6 771.3 L963.0 767.4 L963.4 763.4 L963.9 759.4 L964.3 755.4 L964.7 751.5 L965.2 747.5 L965.6 743.5 L966.0 739.5 L966.4 735.5 L966.8 731.6 L967.2 727.6 L967.6 723.6 L968.0 719.6 L968.4 715.6 L968.8 711.7 L969.2 707.7 L969.6 703.7 L970.0 699.7 L970.4 695.7 L970.8 691.8 L971.1 687.8 L971.5 683.8 L971.9 679.8 L972.3 675.8 L972.7 671.9 L973.1 667.9 L973.5 663.9 L973.9 659.9 L974.3 655.9 L974.7 652.0 L975.1 648.0 L975.4 644.0 L975.8 640.0 L976.2 636.0 L976.6 632.0 L977.0 628.1 L977.4 624.1 L977.8 620.1 L978.1 616.1 L978.5 612.1 L979.0 608.2 L979.4 604.2 L979.8 600.2 L980.2 596.2 L980.7 592.3 L981.1 588.3 L981.6 584.3 L982.1 580.3 L982.6 576.4 L983.1 572.4 L983.6 568.4 L984.2 564.5 L984.7 560.5 L985.3 556.6 L985.9 552.6 L986.4 548.6 L987.0 544.7 L987.5 540.7 L988.0 536.7 L988.5 532.8 L989.0 528.8 L989.5 524.8 L990.0 520.9 L990.4 516.9 L990.9 512.9 L991.3 508.9 L991.8 505.0 L992.2 501.0 L992.7 497.0 L993.1 493.0 L993.6 489.1 L994.0 485.1 L994.4 481.1 L994.9 477.1 L995.3 473.2 L995.8 469.2 L996.3 465.2 L996.7 461.2 L997.2 457.3 L997.7 453.3 L998.1 449.3 L998.6 445.3 L999.1 441.4 L999.5 437.4 L1000.0 433.4 L1000.5 429.5 L1000.9 425.5 L1001.4 421.5 L1001.9 417.5 L1002.4 413.6 L1002.9 409.6 L1003.4 405.6 L1003.9 401.7 L1004.4 397.7 L1004.9 393.7 L1005.4 389.8 L1006.0 385.8 L1006.6 381.9 L1007.1 377.9 L1007.7 373.9 L1008.3 370.0 L1009.0 366.0 L1009.6 362.1 L1010.2 358.1 L1010.9 354.2 L1011.5 350.2 L1012.2 346.3 L1012.9 342.4 L1013.6 338.4 L1014.3 334.5 L1015.0 330.5 L1015.8 326.6 L1016.6 322.7 L1017.4 318.8 L1018.2 314.9 L1019.1 311.0 L1020.1 307.1 L1021.1 303.2 L1022.2 299.4 L1023.3 295.5 L1024.2 291.7 L1025.1 287.7 L1025.9 283.8 L1026.6 279.9 L1027.3 276.0 L1028.0 272.0 L1028.6 268.1 L1029.2 264.1 L1029.8 260.2 L1030.5 256.2 L1031.1 252.3 L1031.7 248.3 L1032.3 244.3 L1032.9 240.4 L1033.4 236.4 L1034.0 232.5 L1034.6 228.5 L1035.3 224.6 L1035.9 220.6 L1036.6 216.7 L1037.3 212.8 L1038.2 208.8 L1039.1 204.9 L1040.1 201.1 L1041.3 197.3 L1042.6 193.5 L1044.2 189.9 L1046.1 186.4 L1048.3 183.0 L1050.7 179.9 L1053.3 176.9 L1056.1 174.0 L1059.1 171.4 L1062.2 168.8 L1065.3 166.5 L1068.7 164.4 L1072.2 163.1 L1075.8 163.0 L1079.2 164.1 L1082.5 166.1 L1085.6 168.6 L1088.6 171.2 L1091.7 173.8 L1094.7 176.4 L1097.6 179.1 L1100.4 182.0 L1102.8 185.1 L1104.9 188.5 L1106.7 192.0 L1108.3 195.7 L1109.8 199.4 L1111.1 203.2 L1112.4 207.0 L1113.5 210.8 L1114.7 214.6 L1115.8 218.5 L1116.9 222.3 L1118.0 226.1 L1119.2 230.0 L1120.3 233.8 L1121.4 237.7 L1122.6 241.5 L1123.8 245.3 L1125.1 249.1 L1126.4 252.9 L1127.7 256.6 L1129.0 260.4 L1130.4 264.2 L1131.8 267.9 L1133.2 271.6 L1134.7 275.4 L1136.3 279.0 L1137.8 282.7 L1139.3 286.4 L1140.8 290.2 L1142.1 293.9 L1143.4 297.7 L1144.5 301.6 L1145.6 305.4 L1146.6 309.3 L1147.7 313.1 L1148.7 317.0 L1149.8 320.8 L1150.9 324.7 L1152.1 328.5 L1153.2 332.3 L1154.5 336.2 L1155.7 340.0 L1156.9 343.8 L1158.1 347.6 L1159.3 351.4 L1160.5 355.2 L1161.7 359.0 L1162.9 362.8 L1164.1 366.7 L1165.2 370.5 L1166.4 374.3 L1167.6 378.2 L1168.7 382.0 L1169.8 385.8 L1171.0 389.7 L1172.1 393.5 L1173.2 397.3 L1174.4 401.2 L1175.5 405.0 L1176.6 408.9 L1177.7 412.7 L1178.8 416.5 L1179.9 420.4 L1181.0 424.2 L1182.1 428.1 L1183.2 431.9 L1184.3 435.8 L1185.4 439.6 L1186.5 443.5 L1187.6 447.3 L1188.7 451.2 L1189.8 455.0 L1190.9 458.9 L1191.9 462.7 L1193.0 466.6 L1194.1 470.4 L1195.2 474.3 L1196.3 478.1 L1197.4 482.0 L1198.4 485.8 L1199.5 489.7 L1200.6 493.5 L1201.7 497.4 L1202.8 501.2 L1203.9 505.1 L1205.0 508.9 L1206.0 512.8 L1207.1 516.6 L1208.2 520.5 L1209.3 524.3 L1210.4 528.2 L1211.5 532.0 L1212.6 535.8 L1213.7 539.7 L1214.8 543.5 L1215.8 547.4 L1216.9 551.3 L1218.0 555.1 L1219.0 559.0 L1220.1 562.8 L1221.2 566.7 L1222.2 570.5 L1223.3 574.4 L1224.3 578.3 L1225.4 582.1 L1226.5 586.0 L1227.5 589.8 L1228.6 593.7 L1229.8 597.5 L1230.9 601.3 L1232.0 605.2 L1233.2 609.0 L1234.4 612.8 L1235.7 616.6 L1237.0 620.4 L1238.3 624.1 L1239.8 627.9 L1241.2 631.6 L1242.8 635.3 L1244.3 639.0 L1246.0 642.6 L1247.6 646.3 L1249.3 649.9 L1251.0 653.5 L1252.7 657.1 L1254.3 660.8 L1256.0 664.4 L1257.6 668.1 L1259.1 671.8 L1260.6 675.5 L1262.0 679.3 L1263.4 683.0 L1264.7 686.8 L1266.0 690.6 L1267.3 694.4 L1268.5 698.2 L1269.8 702.0 L1271.0 705.8 L1272.2 709.6 L1273.5 713.4 L1274.7 717.2 L1276.0 721.0 L1277.2 724.8 L1278.5 728.6 L1279.7 732.4 L1280.9 736.2 L1282.1 740.0 L1283.4 743.8 L1284.6 747.6 L1285.9 751.4 L1287.3 755.2 L1288.7 758.9 L1290.1 762.6 L1291.5 766.4 L1293.0 770.1 L1294.5 773.8 L1296.1 777.5 L1297.7 781.1 L1299.3 784.8 L1300.9 788.4 L1302.6 792.1 L1304.4 795.7 L1306.1 799.3 L1308.0 802.8 L1309.9 806.3 L1311.8 809.8 L1313.8 813.3 L1315.8 816.8 L1317.7 820.3 L1319.6 823.8 L1321.4 827.4 L1323.1 831.0 L1324.8 834.6 L1326.5 838.2 L1328.2 841.9 L1329.8 845.5 L1331.5 849.1 L1333.3 852.7 L1335.2 856.2 L1337.3 859.6 L1339.6 862.9 L1342.1 866.0 L1344.7 869.0 L1347.3 872.0 L1349.8 875.2 L1352.0 878.5 L1354.0 881.9 L1355.8 885.5 L1357.6 889.1 L1359.2 892.7 L1360.9 896.3 L1362.8 899.9 L1364.8 903.3 L1367.2 906.4 L1369.9 909.3 L1372.9 911.9 L1376.0 914.4 L1379.1 916.9 L1382.1 919.5 L1384.8 922.5 L1387.1 925.6 L1389.3 929.0 L1391.4 932.4 L1393.4 935.8 L1395.5 939.3 L1397.5 942.7 L1399.7 946.1 L1401.9 949.4 L1404.2 952.6 L1406.6 955.9 L1409.0 959.1 L1411.4 962.3 L1413.8 965.5 L1416.3 968.6 L1418.8 971.7 L1421.3 974.9 L1423.7 978.0 L1426.2 981.1 L1428.8 984.2 L1431.3 987.3 L1433.9 990.4 L1436.5 993.4 L1439.3 996.3 L1442.1 999.2 L1444.9 1001.9 L1447.9 1004.7 L1450.8 1007.4 L1453.8 1010.0 L1456.7 1012.8 L1459.6 1015.5 L1462.5 1018.3 L1465.3 1021.2 L1468.1 1024.0 L1470.8 1026.9 L1473.5 1029.9 L1476.1 1032.9 L1478.6 1036.0 L1480.9 1039.3 L1483.1 1042.6 L1485.4 1045.8 L1488.0 1048.7 L1491.0 1051.0 L1494.4 1052.9 L1497.8 1054.9 L1500.9 1057.2 L1503.8 1059.9 L1506.5 1062.9 L1509.1 1065.9 L1511.6 1069.0 L1514.2 1072.0 L1516.9 1075.0 L1519.5 1078.0 L1522.2 1081.0 L1524.9 1083.9 L1527.7 1086.8 L1530.4 1089.7 L1533.2 1092.6 L1536.0 1095.5 L1538.8 1098.3 L1541.8 1100.9 L1544.9 1103.4 L1548.1 1105.8 L1551.3 1108.2 L1554.4 1110.8 L1557.2 1113.5 L1559.7 1116.6 L1561.9 1119.9 L1563.9 1123.4 L1566.0 1126.7 L1568.3 1130.0 L1570.8 1133.1 L1573.5 1136.0 L1576.3 1138.9 L1579.2 1141.7 L1582.1 1144.4 L1585.0 1147.1 L1587.9 1149.9 L1590.8 1152.7 L1593.6 1155.6 L1596.3 1158.5 L1599.0 1161.5 L1601.6 1164.5 L1604.2 1167.5 L1606.9 1170.5 L1609.5 1173.5 L1612.1 1176.5 L1614.8 1179.5 L1617.4 1182.5 L1620.1 1185.4 L1622.8 1188.4 L1625.6 1191.3 L1628.3 1194.3 L1631.0 1197.2 L1633.7 1200.2 L1636.4 1203.1 L1639.1 1206.0 L1641.8 1209.0 L1644.5 1211.9 L1647.2 1214.9 L1649.9 1217.8 L1652.7 1220.8 L1655.4 1223.7 L1658.1 1226.6 L1660.8 1229.6 L1663.5 1232.5 L1666.2 1235.4 L1668.9 1238.4 L1671.7 1241.3 L1674.4 1244.2 L1677.1 1247.1 L1679.9 1250.1 L1682.6 1253.0 L1685.4 1255.9 L1688.1 1258.8 L1690.9 1261.7 L1693.7 1264.6 L1696.4 1267.4 L1699.2 1270.3 L1702.0 1273.2 L1704.8 1276.0 L1707.6 1278.9 L1710.4 1281.7 L1713.3 1284.5 L1716.1 1287.4 L1719.0 1290.2 L1721.8 1293.0 L1724.7 1295.7 L1727.6 1298.5 L1730.5 1301.3 L1733.4 1304.0 L1736.3 1306.7 L1739.3 1309.4 L1742.2 1312.1 L1745.2 1314.8 L1748.2 1317.5 L1751.2 1320.1 L1754.2 1322.7 L1757.3 1325.3 L1760.3 1327.9 L1763.4 1330.4 L1766.5 1332.9 L1769.7 1335.4 L1772.8 1337.9 L1776.0 1340.3 L1779.2 1342.7 L1782.4 1345.0 L1785.7 1347.4 L1789.0 1349.6 L1792.3 1351.9 L1795.6 1354.1 L1799.0 1356.2 L1802.4 1358.4 L1805.8 1360.5 L1809.2 1362.5 L1812.6 1364.6 L1816.1 1366.7 L1819.5 1368.8 L1822.9 1370.8 L1826.4 1372.8 L1829.8 1374.9 L1833.3 1376.9 L1836.7 1378.9 L1840.2 1380.8 L1843.7 1382.8 L1847.2 1384.7 L1850.7 1386.6 L1854.3 1388.5 L1857.8 1390.3 L1861.4 1392.2 L1865.0 1394.0 L1868.5 1395.7 L1872.2 1397.5 L1875.8 1399.1 L1879.4 1400.8 L1883.1 1402.4 L1886.8 1404.0 L1890.5 1405.5 L1894.2 1407.0 L1897.9 1408.4 L1901.6 1409.8 L1905.4 1411.2 L1909.2 1412.5 L1912.9 1413.9 L1916.7 1415.1 L1920.5 1416.4 L1924.3 1417.7 L1928.1 1418.9 L1931.9 1420.1 L1935.8 1421.3 L1939.6 1422.5 L1943.4 1423.7 L1947.2 1424.9 L1951.0 1426.1 L1954.8 1427.3 L1958.6 1428.6 L1962.4 1429.8 L1966.2 1431.0 L1970.0 1432.3 L1973.8 1433.6 L1977.6 1434.9 L1981.4 1436.3 L1985.1 1437.7 L1988.9 1439.1 L1992.6 1440.5 L1996.3 1442.1 L1999.9 1443.7 L2003.5 1445.5 L2007.0 1447.4 L2010.5 1449.2 L2014.1 1451.0 L2017.8 1452.4 L2021.7 1453.5 L2025.6 1454.3 L2029.5 1455.0 L2033.5 1455.6 L2037.4 1456.1 L2041.4 1456.6 L2045.4 1457.0 L2049.4 1457.3 L2053.3 1457.7 L2057.3 1458.0 L2061.3 1458.3 L2065.3 1458.6 L2069.3 1459.0 L2073.3 1459.3 L2077.3 1459.7 L2081.2 1460.1 L2085.2 1460.6 L2089.2 1461.1 L2093.1 1461.7 L2097.1 1462.3 L2101.0 1462.9 L2105.0 1463.5 L2108.9 1464.2 L2112.9 1464.8 L2116.8 1465.4 L2120.8 1466.0 L2124.7 1466.7 L2128.7 1467.3 L2132.6 1468.0 L2136.6 1468.6 L2140.5 1469.3 L2144.5 1469.9 L2148.4 1470.6 L2152.4 1471.3 L2156.3 1472.0 L2160.2 1472.6 L2164.2 1473.3 L2168.1 1474.0 L2172.1 1474.7 L2176.0 1475.4 L2179.9 1476.2 L2183.9 1476.9 L2187.8 1477.6 L2191.5 1478.3" stroke="#008000"/>
<line x1="317.5" y1="2007.0" x2="317.5" y2="3332.0" stroke="#000" stroke-width="4.2"/>
<line x1="315.5" y1="3330.0" x2="2157.0" y2="3330.0" stroke="#000" stroke-width="4.2"/>
<text transform="translate(256.5 3354.5) scale(1 1.06)" class="tk" text-anchor="end">0</text>
<line x1="317.5" y1="3141.3" x2="339.5" y2="3141.3" stroke="#000" stroke-width="4.2"/>
<text transform="translate(256.5 3165.8) scale(1 1.06)" class="tk" text-anchor="end">20</text>
<line x1="317.5" y1="2952.6" x2="339.5" y2="2952.6" stroke="#000" stroke-width="4.2"/>
<text transform="translate(256.5 2977.1) scale(1 1.06)" class="tk" text-anchor="end">40</text>
<line x1="317.5" y1="2763.8" x2="339.5" y2="2763.8" stroke="#000" stroke-width="4.2"/>
<text transform="translate(256.5 2788.3) scale(1 1.06)" class="tk" text-anchor="end">60</text>
<line x1="317.5" y1="2575.1" x2="339.5" y2="2575.1" stroke="#000" stroke-width="4.2"/>
<text transform="translate(256.5 2599.6) scale(1 1.06)" class="tk" text-anchor="end">80</text>
<line x1="317.5" y1="2386.4" x2="339.5" y2="2386.4" stroke="#000" stroke-width="4.2"/>
<text transform="translate(256.5 2410.9) scale(1 1.06)" class="tk" text-anchor="end">100</text>
<line x1="317.5" y1="2197.7" x2="339.5" y2="2197.7" stroke="#000" stroke-width="4.2"/>
<text transform="translate(256.5 2222.2) scale(1 1.06)" class="tk" text-anchor="end">120</text>
<line x1="317.5" y1="2009.0" x2="339.5" y2="2009.0" stroke="#000" stroke-width="4.2"/>
<text transform="translate(256.5 2033.5) scale(1 1.06)" class="tk" text-anchor="end">140</text>
<text transform="translate(316.7 3438.0) scale(1 1.06)" class="tk" text-anchor="middle">600</text>
<line x1="573.0" y1="3310.0" x2="573.0" y2="3330.0" stroke="#000" stroke-width="4.2"/>
<text transform="translate(572.2 3438.0) scale(1 1.06)" class="tk" text-anchor="middle">625</text>
<line x1="828.5" y1="3310.0" x2="828.5" y2="3330.0" stroke="#000" stroke-width="4.2"/>
<text transform="translate(827.7 3438.0) scale(1 1.06)" class="tk" text-anchor="middle">650</text>
<line x1="1084.0" y1="3310.0" x2="1084.0" y2="3330.0" stroke="#000" stroke-width="4.2"/>
<text transform="translate(1083.2 3438.0) scale(1 1.06)" class="tk" text-anchor="middle">675</text>
<line x1="1339.5" y1="3310.0" x2="1339.5" y2="3330.0" stroke="#000" stroke-width="4.2"/>
<text transform="translate(1338.7 3438.0) scale(1 1.06)" class="tk" text-anchor="middle">700</text>
<line x1="1595.0" y1="3310.0" x2="1595.0" y2="3330.0" stroke="#000" stroke-width="4.2"/>
<text transform="translate(1594.2 3438.0) scale(1 1.06)" class="tk" text-anchor="middle">725</text>
<line x1="1850.5" y1="3310.0" x2="1850.5" y2="3330.0" stroke="#000" stroke-width="4.2"/>
<text transform="translate(1849.7 3438.0) scale(1 1.06)" class="tk" text-anchor="middle">750</text>
<line x1="2106.0" y1="3310.0" x2="2106.0" y2="3330.0" stroke="#000" stroke-width="4.2"/>
<text transform="translate(2105.2 3438.0) scale(1 1.06)" class="tk" text-anchor="middle">775</text>
<path class="c" d="M318.5 3049.4 L321.2 3047.7 L324.3 3045.3 L327.3 3042.6 L330.1 3039.8 L332.8 3036.9 L335.4 3033.9 L338.0 3030.8 L340.6 3027.7 L343.1 3024.6 L345.6 3021.5 L348.1 3018.4 L350.6 3015.3 L353.1 3012.2 L355.7 3009.1 L358.3 3006.0 L360.9 3003.0 L363.6 3000.1 L366.4 2997.2 L369.2 2994.3 L372.0 2991.5 L374.9 2988.7 L377.7 2985.9 L380.6 2983.1 L383.4 2980.2 L386.1 2977.3 L388.8 2974.4 L391.4 2971.3 L393.9 2968.2 L396.3 2965.0 L398.7 2961.9 L401.1 2958.7 L403.5 2955.4 L405.9 2952.3 L408.4 2949.1 L410.9 2946.0 L413.4 2942.9 L416.0 2939.8 L418.5 2936.7 L421.1 2933.7 L423.7 2930.6 L426.2 2927.5 L428.8 2924.5 L431.3 2921.4 L433.9 2918.3 L436.4 2915.1 L438.9 2912.0 L441.4 2908.9 L444.0 2905.9 L446.7 2902.9 L449.4 2900.0 L452.3 2897.2 L455.2 2894.5 L458.2 2891.9 L461.3 2889.3 L464.4 2886.7 L467.5 2884.2 L470.5 2881.7 L473.6 2879.1 L476.6 2876.4 L479.5 2873.7 L482.4 2870.9 L485.2 2868.1 L488.0 2865.3 L490.9 2862.4 L493.7 2859.6 L496.5 2856.8 L499.4 2854.0 L502.3 2851.2 L505.2 2848.4 L508.1 2845.7 L511.0 2843.0 L513.9 2840.3 L516.9 2837.5 L519.8 2834.8 L522.7 2832.1 L525.7 2829.4 L528.6 2826.7 L531.5 2823.9 L534.4 2821.2 L537.3 2818.4 L540.2 2815.6 L543.1 2812.9 L546.0 2810.1 L548.9 2807.4 L551.9 2804.7 L554.9 2802.0 L557.8 2799.4 L560.9 2796.8 L563.9 2794.1 L566.9 2791.5 L570.0 2789.0 L573.1 2786.4 L576.2 2783.9 L579.4 2781.5 L582.6 2779.1 L585.9 2776.8 L589.2 2774.7 L592.7 2772.7 L596.2 2770.8 L599.8 2768.9 L603.3 2767.1 L606.8 2765.2 L610.3 2763.2 L613.6 2761.0 L616.9 2758.7 L620.1 2756.4 L623.4 2754.1 L626.7 2751.8 L630.0 2749.5 L633.3 2747.3 L636.6 2745.0 L639.9 2742.8 L643.3 2740.7 L646.8 2738.8 L650.5 2737.2 L654.2 2736.0 L658.1 2735.2 L662.1 2734.8 L666.0 2734.6 L670.0 2734.3 L673.9 2733.7 L677.8 2732.7 L681.5 2731.4 L685.2 2729.8 L688.9 2728.3 L692.6 2726.9 L696.4 2725.5 L700.2 2724.4 L704.1 2723.3 L708.0 2722.6 L711.9 2722.2 L715.8 2722.4 L719.7 2723.1 L723.5 2724.2 L727.3 2725.6 L731.0 2727.1 L734.7 2728.4 L738.6 2729.4 L742.5 2730.1 L746.5 2730.5 L750.5 2730.7 L754.5 2730.9 L758.4 2731.1 L762.4 2731.6 L766.3 2732.3 L770.2 2733.2 L774.0 2734.3 L777.8 2735.6 L781.6 2737.0 L785.3 2738.5 L789.0 2740.1 L792.6 2741.8 L796.1 2743.6 L799.6 2745.5 L803.2 2747.2 L806.9 2748.7 L810.7 2749.7 L814.6 2750.3 L818.6 2750.6 L822.6 2751.0 L826.5 2751.6 L830.3 2752.5 L834.1 2753.8 L837.9 2755.2 L841.5 2756.8 L845.2 2758.3 L848.9 2759.9 L852.6 2761.4 L856.3 2763.0 L860.0 2764.5 L863.7 2766.1 L867.4 2767.6 L871.1 2769.1 L874.8 2770.6 L878.5 2772.1 L882.2 2773.5 L886.0 2774.8 L889.8 2776.0 L893.7 2777.1 L897.5 2778.2 L901.4 2779.3 L905.2 2780.4 L909.0 2781.5 L912.8 2782.8 L916.6 2784.2 L920.2 2785.8 L923.8 2787.6 L927.3 2789.6 L930.6 2791.7 L933.9 2793.9 L937.2 2796.2 L940.5 2798.5 L943.7 2800.9 L947.0 2803.2 L950.2 2805.5 L953.4 2807.9 L956.7 2810.3 L959.8 2812.7 L963.0 2815.1 L966.2 2817.6 L969.4 2820.0 L972.6 2822.4 L975.8 2824.8 L978.9 2827.2 L982.1 2829.7 L985.2 2832.2 L988.3 2834.8 L991.2 2837.5 L994.0 2840.3 L996.6 2843.4 L999.1 2846.5 L1001.5 2849.7 L1003.9 2852.9 L1006.3 2856.1 L1008.7 2859.2 L1011.3 2862.3 L1014.0 2865.2 L1016.8 2868.0 L1019.8 2870.8 L1022.7 2873.5 L1025.7 2876.1 L1028.7 2878.7 L1031.8 2881.4 L1034.7 2884.0 L1037.7 2886.7 L1040.6 2889.5 L1043.4 2892.3 L1046.2 2895.2 L1049.0 2898.1 L1051.7 2901.0 L1054.4 2903.9 L1057.1 2906.9 L1059.8 2909.8 L1062.5 2912.8 L1065.2 2915.7 L1067.9 2918.7 L1070.6 2921.6 L1073.3 2924.6 L1076.1 2927.5 L1078.8 2930.4 L1081.6 2933.3 L1084.4 2936.1 L1087.2 2939.0 L1090.1 2941.8 L1092.9 2944.6 L1095.8 2947.4 L1098.6 2950.2 L1101.4 2953.1 L1104.2 2955.9 L1106.9 2958.8 L1109.6 2961.8 L1112.3 2964.8 L1114.9 2967.8 L1117.6 2970.8 L1120.3 2973.8 L1122.9 2976.7 L1125.7 2979.6 L1128.5 2982.5 L1131.3 2985.3 L1134.3 2988.0 L1137.3 2990.6 L1140.3 2993.2 L1143.4 2995.8 L1146.5 2998.3 L1149.6 3000.9 L1152.6 3003.5 L1155.6 3006.1 L1158.5 3008.9 L1161.4 3011.7 L1164.2 3014.5 L1166.9 3017.4 L1169.7 3020.3 L1172.4 3023.3 L1175.1 3026.2 L1177.7 3029.2 L1180.4 3032.2 L1183.0 3035.2 L1185.6 3038.3 L1188.2 3041.3 L1190.7 3044.4 L1193.3 3047.5 L1195.9 3050.5 L1198.4 3053.6 L1201.0 3056.7 L1203.5 3059.8 L1206.0 3062.9 L1208.5 3066.0 L1211.1 3069.1 L1213.6 3072.2 L1216.1 3075.3 L1218.7 3078.4 L1221.2 3081.5 L1223.7 3084.6 L1226.3 3087.7 L1228.8 3090.7 L1231.4 3093.8 L1234.0 3096.9 L1236.6 3099.9 L1239.2 3102.9 L1241.9 3105.9 L1244.5 3108.9 L1247.2 3111.9 L1249.9 3114.9 L1252.6 3117.8 L1255.4 3120.7 L1258.2 3123.5 L1261.0 3126.4 L1263.8 3129.2 L1266.7 3131.9 L1269.7 3134.6 L1272.6 3137.3 L1275.6 3140.0 L1278.7 3142.6 L1281.7 3145.2 L1284.8 3147.7 L1287.9 3150.3 L1291.0 3152.8 L1294.1 3155.3 L1297.3 3157.8 L1300.4 3160.2 L1303.6 3162.6 L1306.8 3165.0 L1310.0 3167.4 L1313.2 3169.8 L1316.5 3172.1 L1319.7 3174.4 L1323.0 3176.7 L1326.3 3179.0 L1329.6 3181.3 L1332.9 3183.6 L1336.2 3185.8 L1339.5 3188.0 L1342.8 3190.3 L1346.2 3192.5 L1349.5 3194.7 L1352.8 3196.9 L1356.2 3199.1 L1359.5 3201.4 L1362.8 3203.6 L1366.1 3205.9 L1369.4 3208.1 L1372.7 3210.4 L1376.0 3212.7 L1379.3 3214.9 L1382.6 3217.2 L1385.9 3219.5 L1389.2 3221.7 L1392.5 3223.9 L1395.8 3226.2 L1399.2 3228.4 L1402.5 3230.5 L1405.9 3232.7 L1409.3 3234.8 L1412.7 3236.9 L1416.1 3239.0 L1419.6 3241.0 L1423.1 3242.9 L1426.6 3244.8 L1430.1 3246.7 L1433.7 3248.5 L1437.3 3250.2 L1441.0 3251.8 L1444.6 3253.4 L1448.4 3254.9 L1452.1 3256.3 L1455.9 3257.6 L1459.6 3258.9 L1463.4 3260.2 L1467.2 3261.5 L1471.0 3262.7 L1474.9 3263.9 L1478.7 3265.1 L1482.5 3266.2 L1486.4 3267.3 L1490.2 3268.4 L1494.1 3269.5 L1497.9 3270.6 L1501.8 3271.6 L1505.6 3272.7 L1509.5 3273.7 L1513.4 3274.7 L1517.2 3275.7 L1521.1 3276.7 L1525.0 3277.7 L1528.9 3278.6 L1532.8 3279.6 L1536.6 3280.6 L1540.5 3281.5 L1544.4 3282.5 L1548.3 3283.5 L1552.2 3284.5 L1556.0 3285.5 L1559.9 3286.5 L1563.8 3287.5 L1567.6 3288.5 L1571.5 3289.5 L1575.4 3290.6 L1579.2 3291.7 L1583.1 3292.7 L1586.9 3293.8 L1590.8 3294.9 L1594.6 3296.1 L1598.4 3297.2 L1602.3 3298.3 L1606.1 3299.4 L1610.0 3300.5 L1613.8 3301.5 L1617.7 3302.6 L1621.6 3303.6 L1625.4 3304.6 L1629.3 3305.6 L1633.2 3306.6 L1637.1 3307.5 L1641.0 3308.4 L1644.9 3309.2 L1648.8 3310.0 L1652.8 3310.7 L1656.7 3311.4 L1660.6 3312.0 L1664.6 3312.6 L1668.6 3313.1 L1672.5 3313.7 L1676.5 3314.2 L1680.5 3314.7 L1684.4 3315.3 L1688.4 3315.8 L1692.4 3316.2 L1696.3 3316.7 L1700.3 3317.2 L1704.3 3317.6 L1708.3 3318.1 L1712.2 3318.5 L1716.2 3318.9 L1720.2 3319.3 L1724.2 3319.7 L1728.1 3320.1 L1732.1 3320.5 L1736.1 3320.8 L1740.1 3321.2 L1744.1 3321.5 L1748.1 3321.8 L1752.1 3322.1 L1756.1 3322.4 L1760.0 3322.7 L1764.0 3322.9 L1768.0 3323.2 L1772.0 3323.4 L1776.0 3323.6 L1780.0 3323.9 L1784.0 3324.1 L1788.0 3324.3 L1792.0 3324.5 L1796.0 3324.7 L1800.0 3324.9 L1804.0 3325.1 L1808.0 3325.3 L1812.0 3325.5 L1816.0 3325.8 L1820.0 3326.0 L1823.9 3326.2 L1827.9 3326.4 L1831.9 3326.6 L1835.9 3326.8 L1839.9 3327.0 L1843.9 3327.1 L1847.9 3327.3 L1851.9 3327.5 L1855.9 3327.7 L1859.9 3327.8 L1863.9 3328.0 L1867.9 3328.1 L1871.9 3328.2 L1875.9 3328.4 L1879.9 3328.5 L1883.9 3328.6 L1887.9 3328.7 L1891.9 3328.8 L1895.9 3328.8 L1899.9 3328.9 L1903.9 3329.0 L1907.9 3329.0 L1911.9 3329.1 L1915.9 3329.1 L1919.9 3329.2 L1923.9 3329.2 L1927.9 3329.3 L1931.9 3329.3 L1935.9 3329.3 L1939.9 3329.4 L1943.9 3329.4 L1947.9 3329.5 L1951.9 3329.5 L1955.9 3329.6 L1959.9 3329.6 L1963.9 3329.7 L1967.9 3329.7 L1971.9 3329.8 L1975.9 3329.8 L1979.9 3329.9 L1983.9 3329.9 L1987.9 3330.0 L1991.9 3330.0 L1995.9 3330.1 L1999.9 3330.1 L2003.9 3330.2 L2007.9 3330.2 L2011.9 3330.3 L2015.9 3330.3 L2019.9 3330.4 L2023.9 3330.4 L2027.9 3330.5 L2031.9 3330.5 L2035.9 3330.6 L2039.9 3330.7 L2043.9 3330.7 L2047.9 3330.8 L2051.9 3330.8 L2055.9 3330.9 L2059.9 3330.9 L2063.9 3331.0 L2067.9 3331.0 L2071.9 3331.1 L2075.9 3331.1 L2079.9 3331.2 L2083.9 3331.2 L2087.9 3331.3 L2091.9 3331.3 L2095.9 3331.4 L2099.9 3331.4 L2103.9 3331.5 L2107.9 3331.5 L2111.9 3331.6 L2115.9 3331.6 L2119.9 3331.7 L2123.9 3331.7 L2127.9 3331.8 L2131.9 3331.9 L2135.9 3331.9 L2139.9 3332.0 L2143.9 3332.0 L2147.9 3332.1 L2151.9 3332.1 L2155.8 3332.2 L2157.0 3332.2" stroke="#0000FF"/>
<path class="c" d="M318.5 3123.7 L321.6 3122.2 L325.0 3120.2 L328.3 3117.9 L331.5 3115.6 L334.7 3113.1 L337.8 3110.6 L340.9 3108.0 L343.9 3105.4 L346.8 3102.7 L349.8 3100.0 L352.7 3097.2 L355.5 3094.4 L358.4 3091.6 L361.2 3088.8 L364.0 3085.9 L366.8 3083.1 L369.6 3080.2 L372.3 3077.3 L375.1 3074.4 L377.8 3071.5 L380.6 3068.6 L383.4 3065.7 L386.1 3062.8 L388.9 3060.0 L391.7 3057.1 L394.5 3054.2 L397.3 3051.4 L400.2 3048.6 L403.0 3045.8 L405.9 3043.0 L408.8 3040.3 L411.8 3037.6 L414.7 3034.9 L417.7 3032.2 L420.6 3029.4 L423.5 3026.7 L426.5 3024.0 L429.4 3021.3 L432.3 3018.6 L435.3 3015.9 L438.2 3013.1 L441.1 3010.4 L444.1 3007.7 L447.0 3005.0 L450.0 3002.3 L452.9 2999.6 L455.9 2996.9 L458.8 2994.2 L461.8 2991.5 L464.7 2988.8 L467.7 2986.1 L470.7 2983.5 L473.7 2980.8 L476.7 2978.2 L479.7 2975.5 L482.7 2972.9 L485.7 2970.3 L488.8 2967.7 L491.8 2965.1 L494.9 2962.6 L498.0 2960.0 L501.1 2957.5 L504.2 2955.0 L507.4 2952.5 L510.5 2950.1 L513.7 2947.6 L516.9 2945.2 L520.0 2942.7 L523.2 2940.3 L526.4 2937.9 L529.6 2935.5 L532.8 2933.1 L536.0 2930.7 L539.3 2928.4 L542.5 2926.1 L545.8 2923.8 L549.1 2921.6 L552.5 2919.4 L555.9 2917.2 L559.3 2915.1 L562.7 2913.1 L566.1 2911.0 L569.6 2909.0 L573.1 2907.0 L576.6 2905.1 L580.1 2903.2 L583.6 2901.3 L587.2 2899.5 L590.7 2897.7 L594.3 2895.9 L597.9 2894.1 L601.5 2892.4 L605.1 2890.7 L608.8 2889.1 L612.5 2887.5 L616.2 2886.0 L619.9 2884.4 L623.5 2882.8 L627.1 2881.2 L630.8 2879.4 L634.4 2877.7 L638.0 2876.0 L641.6 2874.3 L645.2 2872.6 L648.9 2871.0 L652.6 2869.4 L656.3 2867.9 L660.0 2866.4 L663.7 2864.9 L667.4 2863.4 L671.1 2862.0 L674.8 2860.5 L678.6 2859.1 L682.3 2857.6 L686.0 2856.2 L689.8 2854.7 L693.5 2853.2 L697.1 2851.6 L700.7 2849.8 L704.2 2847.8 L707.6 2845.7 L710.9 2843.6 L714.4 2841.6 L717.9 2839.7 L721.6 2838.2 L725.3 2836.9 L729.2 2835.8 L733.0 2834.7 L736.8 2833.5 L740.6 2832.2 L744.3 2830.7 L748.0 2829.2 L751.7 2827.7 L755.5 2826.3 L759.2 2825.0 L763.0 2823.8 L766.9 2822.7 L770.7 2821.6 L774.6 2820.6 L778.5 2819.6 L782.4 2818.6 L786.2 2817.6 L790.1 2816.6 L794.0 2815.6 L797.9 2814.6 L801.7 2813.6 L805.6 2812.5 L809.4 2811.5 L813.3 2810.5 L817.2 2809.4 L821.0 2808.2 L824.8 2807.0 L828.6 2805.7 L832.4 2804.7 L836.3 2803.9 L840.2 2803.8 L844.0 2804.4 L847.7 2805.7 L851.2 2807.5 L854.6 2809.5 L858.0 2811.7 L861.4 2813.7 L865.0 2815.5 L868.6 2816.8 L872.4 2817.2 L876.0 2816.6 L879.5 2815.0 L882.8 2812.9 L886.1 2810.8 L889.6 2809.3 L893.2 2808.9 L896.8 2809.7 L900.4 2811.2 L904.0 2812.9 L907.7 2814.2 L911.5 2815.3 L915.4 2816.2 L919.2 2817.3 L922.8 2818.8 L926.4 2820.7 L929.8 2822.7 L933.2 2824.9 L936.5 2827.1 L939.9 2829.2 L943.2 2831.4 L946.5 2833.6 L949.9 2835.9 L953.2 2838.1 L956.5 2840.3 L959.8 2842.6 L963.1 2844.8 L966.4 2847.1 L969.6 2849.5 L972.7 2852.0 L975.6 2854.7 L978.4 2857.5 L981.2 2860.4 L984.2 2863.1 L987.3 2865.6 L990.5 2867.9 L993.9 2870.0 L997.3 2872.1 L1000.8 2874.1 L1004.3 2876.0 L1007.8 2878.0 L1011.2 2880.0 L1014.7 2882.0 L1018.2 2884.0 L1021.7 2885.9 L1025.1 2887.9 L1028.6 2889.9 L1032.0 2892.0 L1035.3 2894.3 L1038.5 2896.7 L1041.5 2899.3 L1044.2 2902.2 L1046.8 2905.2 L1049.2 2908.4 L1051.5 2911.7 L1053.8 2915.0 L1056.0 2918.3 L1058.2 2921.6 L1060.5 2924.9 L1062.9 2928.1 L1065.4 2931.2 L1068.1 2934.2 L1070.9 2937.0 L1073.8 2939.7 L1076.9 2942.2 L1080.1 2944.7 L1083.3 2947.1 L1086.5 2949.4 L1089.8 2951.7 L1093.0 2954.1 L1096.2 2956.5 L1099.3 2959.0 L1102.3 2961.7 L1105.2 2964.4 L1108.0 2967.3 L1110.7 2970.2 L1113.4 2973.2 L1116.0 2976.2 L1118.6 2979.2 L1121.3 2982.2 L1124.0 2985.2 L1126.7 2988.1 L1129.6 2990.9 L1132.5 2993.5 L1135.6 2996.1 L1138.8 2998.6 L1142.0 3001.0 L1145.2 3003.3 L1148.4 3005.7 L1151.6 3008.1 L1154.7 3010.6 L1157.7 3013.2 L1160.7 3015.9 L1163.6 3018.7 L1166.4 3021.5 L1169.2 3024.3 L1172.0 3027.2 L1174.7 3030.1 L1177.4 3033.1 L1180.1 3036.0 L1182.8 3039.0 L1185.5 3042.0 L1188.1 3045.0 L1190.7 3048.1 L1193.3 3051.1 L1195.9 3054.1 L1198.5 3057.2 L1201.0 3060.3 L1203.6 3063.3 L1206.2 3066.4 L1208.7 3069.5 L1211.3 3072.6 L1213.8 3075.6 L1216.4 3078.7 L1218.9 3081.8 L1221.5 3084.9 L1224.1 3087.9 L1226.6 3091.0 L1229.2 3094.1 L1231.8 3097.1 L1234.4 3100.1 L1237.0 3103.2 L1239.7 3106.2 L1242.3 3109.2 L1245.0 3112.1 L1247.7 3115.1 L1250.4 3118.0 L1253.1 3120.9 L1255.9 3123.8 L1258.7 3126.7 L1261.6 3129.5 L1264.4 3132.3 L1267.3 3135.0 L1270.3 3137.7 L1273.3 3140.4 L1276.3 3143.0 L1279.3 3145.7 L1282.3 3148.3 L1285.4 3150.9 L1288.4 3153.4 L1291.5 3156.0 L1294.6 3158.5 L1297.7 3161.0 L1300.9 3163.5 L1304.0 3166.0 L1307.2 3168.4 L1310.4 3170.8 L1313.6 3173.2 L1316.8 3175.6 L1320.0 3177.9 L1323.3 3180.2 L1326.6 3182.5 L1329.9 3184.8 L1333.2 3187.0 L1336.6 3189.2 L1339.9 3191.3 L1343.3 3193.4 L1346.8 3195.5 L1350.2 3197.6 L1353.6 3199.6 L1357.1 3201.7 L1360.5 3203.7 L1364.0 3205.7 L1367.4 3207.7 L1370.9 3209.7 L1374.4 3211.7 L1377.8 3213.7 L1381.3 3215.7 L1384.8 3217.6 L1388.3 3219.6 L1391.8 3221.5 L1395.3 3223.4 L1398.8 3225.3 L1402.4 3227.2 L1405.9 3229.0 L1409.5 3230.8 L1413.1 3232.6 L1416.6 3234.4 L1420.3 3236.1 L1423.9 3237.8 L1427.5 3239.5 L1431.2 3241.1 L1434.9 3242.7 L1438.5 3244.2 L1442.3 3245.7 L1446.0 3247.1 L1449.8 3248.5 L1453.5 3249.8 L1457.3 3251.2 L1461.1 3252.4 L1464.9 3253.7 L1468.7 3255.0 L1472.5 3256.2 L1476.3 3257.5 L1480.1 3258.7 L1483.9 3259.9 L1487.7 3261.0 L1491.6 3262.2 L1495.4 3263.4 L1499.2 3264.5 L1503.0 3265.6 L1506.9 3266.8 L1510.7 3267.9 L1514.6 3269.0 L1518.4 3270.1 L1522.3 3271.2 L1526.1 3272.3 L1530.0 3273.4 L1533.8 3274.4 L1537.7 3275.5 L1541.5 3276.6 L1545.4 3277.7 L1549.2 3278.7 L1553.1 3279.8 L1556.9 3280.9 L1560.8 3282.0 L1564.6 3283.0 L1568.5 3284.1 L1572.3 3285.2 L1576.2 3286.4 L1580.0 3287.5 L1583.8 3288.6 L1587.7 3289.8 L1591.5 3291.0 L1595.3 3292.1 L1599.1 3293.3 L1603.0 3294.5 L1606.8 3295.6 L1610.6 3296.8 L1614.5 3297.9 L1618.3 3299.0 L1622.2 3300.1 L1626.0 3301.1 L1629.9 3302.2 L1633.8 3303.2 L1637.6 3304.1 L1641.5 3305.0 L1645.4 3305.9 L1649.4 3306.7 L1653.3 3307.5 L1657.2 3308.2 L1661.2 3308.9 L1665.1 3309.5 L1669.1 3310.2 L1673.0 3310.8 L1677.0 3311.4 L1680.9 3311.9 L1684.9 3312.5 L1688.8 3313.1 L1692.8 3313.6 L1696.8 3314.1 L1700.7 3314.7 L1704.7 3315.2 L1708.7 3315.6 L1712.6 3316.1 L1716.6 3316.6 L1720.6 3317.0 L1724.6 3317.5 L1728.5 3317.9 L1732.5 3318.3 L1736.5 3318.7 L1740.5 3319.1 L1744.5 3319.5 L1748.5 3319.9 L1752.4 3320.2 L1756.4 3320.6 L1760.4 3320.9 L1764.4 3321.2 L1768.4 3321.5 L1772.4 3321.8 L1776.4 3322.0 L1780.4 3322.3 L1784.3 3322.6 L1788.3 3322.8 L1792.3 3323.1 L1796.3 3323.4 L1800.3 3323.6 L1804.3 3323.9 L1808.3 3324.2 L1812.3 3324.4 L1816.3 3324.7 L1820.3 3325.0 L1824.3 3325.2 L1828.3 3325.5 L1832.2 3325.7 L1836.2 3326.0 L1840.2 3326.2 L1844.2 3326.4 L1848.2 3326.7 L1852.2 3326.9 L1856.2 3327.1 L1860.2 3327.3 L1864.2 3327.5 L1868.2 3327.7 L1872.2 3327.8 L1876.2 3328.0 L1880.2 3328.1 L1884.2 3328.2 L1888.2 3328.3 L1892.2 3328.4 L1896.2 3328.5 L1900.2 3328.6 L1904.2 3328.7 L1908.2 3328.7 L1912.2 3328.8 L1916.2 3328.8 L1920.2 3328.9 L1924.2 3328.9 L1928.2 3329.0 L1932.2 3329.0 L1936.2 3329.1 L1940.2 3329.1 L1944.2 3329.2 L1948.2 3329.2 L1952.2 3329.3 L1956.2 3329.3 L1960.2 3329.4 L1964.2 3329.4 L1968.2 3329.5 L1972.2 3329.5 L1976.2 3329.6 L1980.2 3329.6 L1984.2 3329.7 L1988.2 3329.7 L1992.2 3329.8 L1996.2 3329.8 L2000.2 3329.9 L2004.2 3329.9 L2008.2 3330.0 L2012.2 3330.0 L2016.2 3330.1 L2020.2 3330.1 L2024.2 3330.2 L2028.2 3330.2 L2032.2 3330.3 L2036.2 3330.3 L2040.2 3330.4 L2044.2 3330.5 L2048.2 3330.5 L2052.2 3330.6 L2056.2 3330.6 L2060.2 3330.7 L2064.2 3330.7 L2068.2 3330.8 L2072.2 3330.8 L2076.2 3330.9 L2080.2 3330.9 L2084.2 3331.0 L2088.2 3331.0 L2092.2 3331.1 L2096.2 3331.1 L2100.2 3331.2 L2104.2 3331.2 L2108.2 3331.3 L2112.2 3331.3 L2116.2 3331.4 L2120.2 3331.4 L2124.2 3331.5 L2128.2 3331.5 L2132.2 3331.6 L2136.2 3331.6 L2140.2 3331.7 L2144.2 3331.8 L2148.2 3331.8 L2152.1 3331.9 L2156.0 3331.9 L2157.0 3331.9" stroke="#FF0000"/>
<path class="c" d="M318.5 3162.3 L322.0 3161.1 L325.6 3159.5 L329.2 3157.8 L332.8 3155.9 L336.3 3154.0 L339.7 3151.9 L343.1 3149.8 L346.5 3147.7 L349.8 3145.5 L353.2 3143.3 L356.4 3141.0 L359.7 3138.7 L362.9 3136.3 L366.2 3134.0 L369.4 3131.6 L372.6 3129.2 L375.8 3126.8 L379.0 3124.3 L382.2 3121.9 L385.3 3119.5 L388.5 3117.1 L391.7 3114.7 L395.0 3112.3 L398.2 3110.0 L401.4 3107.6 L404.7 3105.3 L408.0 3103.0 L411.2 3100.7 L414.5 3098.4 L417.8 3096.2 L421.1 3093.9 L424.4 3091.6 L427.6 3089.2 L430.9 3086.9 L434.1 3084.6 L437.4 3082.3 L440.6 3079.9 L443.9 3077.6 L447.1 3075.2 L450.3 3072.9 L453.6 3070.6 L456.8 3068.2 L460.1 3065.9 L463.3 3063.5 L466.6 3061.2 L469.9 3058.9 L473.1 3056.6 L476.4 3054.3 L479.7 3052.0 L483.0 3049.7 L486.3 3047.5 L489.6 3045.2 L492.9 3043.0 L496.2 3040.8 L499.6 3038.6 L503.0 3036.5 L506.3 3034.3 L509.7 3032.2 L513.1 3030.1 L516.6 3028.1 L520.0 3026.0 L523.5 3024.0 L527.0 3022.1 L530.5 3020.1 L534.0 3018.2 L537.5 3016.3 L541.0 3014.4 L544.5 3012.5 L548.0 3010.6 L551.6 3008.7 L555.1 3006.8 L558.6 3005.0 L562.2 3003.1 L565.7 3001.2 L569.2 2999.3 L572.7 2997.4 L576.3 2995.5 L579.8 2993.6 L583.3 2991.7 L586.8 2989.8 L590.4 2988.0 L594.0 2986.2 L597.5 2984.4 L601.1 2982.7 L604.8 2981.0 L608.4 2979.3 L612.0 2977.7 L615.7 2976.0 L619.4 2974.4 L623.0 2972.8 L626.7 2971.2 L630.3 2969.6 L634.0 2967.9 L637.6 2966.3 L641.3 2964.7 L644.9 2963.0 L648.6 2961.4 L652.2 2959.8 L655.9 2958.1 L659.5 2956.5 L663.2 2954.8 L666.8 2953.2 L670.5 2951.5 L674.1 2949.8 L677.7 2948.2 L681.3 2946.5 L685.0 2944.8 L688.6 2943.1 L692.2 2941.4 L695.8 2939.7 L699.5 2938.0 L703.1 2936.3 L706.8 2934.7 L710.4 2933.1 L714.1 2931.4 L717.7 2929.8 L721.3 2928.1 L724.9 2926.3 L728.4 2924.4 L731.8 2922.4 L735.2 2920.2 L738.5 2917.9 L741.7 2915.6 L745.0 2913.2 L748.1 2910.8 L751.3 2908.3 L754.4 2905.8 L757.4 2903.2 L760.5 2900.7 L763.7 2898.2 L766.9 2895.8 L770.2 2893.6 L773.6 2891.5 L777.1 2889.5 L780.6 2887.6 L784.1 2885.8 L787.7 2884.0 L791.3 2882.2 L794.8 2880.4 L798.4 2878.6 L802.0 2876.8 L805.6 2875.0 L809.1 2873.2 L812.7 2871.4 L816.3 2869.6 L819.9 2867.9 L823.5 2866.2 L827.2 2864.6 L830.8 2862.9 L834.5 2861.3 L838.1 2859.6 L841.7 2857.9 L845.2 2856.0 L848.7 2854.0 L851.9 2851.7 L855.0 2849.1 L857.8 2846.4 L860.6 2843.5 L863.5 2840.7 L866.4 2838.0 L869.5 2835.5 L872.7 2833.1 L876.0 2830.8 L879.4 2828.8 L882.9 2827.0 L886.7 2825.8 L890.5 2825.1 L894.5 2824.9 L898.5 2824.8 L902.5 2824.8 L906.5 2824.6 L910.4 2824.2 L914.4 2823.6 L918.3 2823.0 L922.3 2822.7 L926.2 2823.0 L929.9 2823.9 L933.4 2825.6 L936.8 2827.7 L940.0 2830.0 L943.3 2832.3 L946.7 2834.4 L950.2 2836.3 L953.7 2838.2 L957.3 2840.0 L960.8 2841.9 L964.2 2844.0 L967.4 2846.4 L970.5 2848.9 L973.4 2851.6 L976.4 2854.3 L979.4 2856.9 L982.5 2859.3 L985.7 2861.7 L989.0 2864.1 L992.2 2866.4 L995.5 2868.8 L998.7 2871.2 L1001.9 2873.6 L1005.0 2876.0 L1008.2 2878.5 L1011.3 2881.0 L1014.4 2883.6 L1017.4 2886.1 L1020.5 2888.7 L1023.5 2891.4 L1026.4 2894.1 L1029.4 2896.8 L1032.3 2899.5 L1035.2 2902.3 L1038.1 2905.0 L1041.0 2907.8 L1043.8 2910.6 L1046.7 2913.4 L1049.6 2916.2 L1052.4 2919.0 L1055.3 2921.8 L1058.1 2924.6 L1061.0 2927.4 L1063.8 2930.2 L1066.6 2933.0 L1069.5 2935.9 L1072.3 2938.7 L1075.1 2941.5 L1078.0 2944.3 L1080.8 2947.2 L1083.6 2950.0 L1086.5 2952.8 L1089.3 2955.6 L1092.1 2958.5 L1094.9 2961.3 L1097.8 2964.1 L1100.6 2967.0 L1103.4 2969.8 L1106.3 2972.6 L1109.1 2975.4 L1111.9 2978.2 L1114.8 2981.1 L1117.6 2983.9 L1120.5 2986.7 L1123.3 2989.5 L1126.1 2992.4 L1128.9 2995.3 L1131.6 2998.2 L1134.3 3001.1 L1137.1 3004.0 L1139.7 3007.0 L1142.4 3010.0 L1145.1 3012.9 L1147.8 3015.9 L1150.4 3018.9 L1153.1 3021.9 L1155.7 3024.9 L1158.3 3027.9 L1161.0 3031.0 L1163.5 3034.0 L1166.1 3037.1 L1168.7 3040.1 L1171.2 3043.2 L1173.7 3046.3 L1176.3 3049.4 L1178.8 3052.5 L1181.4 3055.5 L1184.1 3058.5 L1186.8 3061.5 L1189.5 3064.4 L1192.3 3067.2 L1195.2 3070.0 L1198.1 3072.8 L1201.0 3075.5 L1204.0 3078.2 L1207.0 3080.9 L1210.0 3083.5 L1213.0 3086.1 L1216.1 3088.7 L1219.2 3091.2 L1222.2 3093.8 L1225.4 3096.3 L1228.5 3098.8 L1231.6 3101.3 L1234.8 3103.7 L1237.9 3106.2 L1241.1 3108.6 L1244.3 3111.0 L1247.5 3113.4 L1250.7 3115.8 L1254.0 3118.1 L1257.2 3120.5 L1260.4 3122.9 L1263.6 3125.3 L1266.8 3127.6 L1270.0 3130.0 L1273.2 3132.4 L1276.4 3134.9 L1279.6 3137.3 L1282.7 3139.7 L1285.9 3142.2 L1289.1 3144.6 L1292.3 3147.0 L1295.5 3149.5 L1298.7 3151.8 L1301.9 3154.2 L1305.1 3156.6 L1308.4 3158.9 L1311.7 3161.1 L1315.0 3163.4 L1318.3 3165.6 L1321.7 3167.8 L1325.0 3170.0 L1328.4 3172.1 L1331.8 3174.2 L1335.2 3176.3 L1338.6 3178.4 L1342.1 3180.4 L1345.5 3182.4 L1349.0 3184.4 L1352.5 3186.3 L1356.1 3188.2 L1359.6 3190.0 L1363.2 3191.8 L1366.8 3193.6 L1370.4 3195.4 L1374.0 3197.1 L1377.6 3198.8 L1381.2 3200.5 L1384.8 3202.3 L1388.4 3204.0 L1392.0 3205.8 L1395.5 3207.7 L1399.0 3209.5 L1402.5 3211.5 L1406.0 3213.5 L1409.4 3215.6 L1412.8 3217.7 L1416.2 3219.8 L1419.6 3222.0 L1422.9 3224.1 L1426.3 3226.3 L1429.7 3228.4 L1433.1 3230.5 L1436.6 3232.5 L1440.0 3234.4 L1443.6 3236.3 L1447.2 3238.0 L1450.9 3239.6 L1454.6 3241.2 L1458.3 3242.6 L1462.0 3244.1 L1465.7 3245.5 L1469.5 3246.9 L1473.3 3248.2 L1477.0 3249.6 L1480.8 3250.9 L1484.6 3252.2 L1488.4 3253.4 L1492.2 3254.7 L1496.0 3255.9 L1499.8 3257.1 L1503.6 3258.3 L1507.5 3259.4 L1511.3 3260.6 L1515.1 3261.7 L1519.0 3262.9 L1522.8 3264.0 L1526.6 3265.1 L1530.5 3266.2 L1534.3 3267.3 L1538.2 3268.4 L1542.0 3269.5 L1545.9 3270.6 L1549.7 3271.7 L1553.6 3272.8 L1557.4 3273.9 L1561.2 3275.1 L1565.1 3276.2 L1568.9 3277.4 L1572.7 3278.5 L1576.6 3279.7 L1580.4 3280.9 L1584.2 3282.1 L1588.0 3283.3 L1591.8 3284.5 L1595.6 3285.7 L1599.4 3287.0 L1603.2 3288.2 L1607.1 3289.4 L1610.9 3290.6 L1614.7 3291.7 L1618.5 3292.9 L1622.4 3294.0 L1626.2 3295.1 L1630.1 3296.2 L1633.9 3297.3 L1637.8 3298.3 L1641.7 3299.2 L1645.6 3300.2 L1649.5 3301.0 L1653.4 3301.9 L1657.3 3302.6 L1661.2 3303.4 L1665.2 3304.1 L1669.1 3304.7 L1673.1 3305.4 L1677.0 3306.1 L1681.0 3306.7 L1684.9 3307.3 L1688.9 3308.0 L1692.8 3308.6 L1696.8 3309.1 L1700.7 3309.7 L1704.7 3310.3 L1708.6 3310.8 L1712.6 3311.4 L1716.6 3311.9 L1720.5 3312.4 L1724.5 3312.9 L1728.5 3313.4 L1732.5 3313.9 L1736.4 3314.3 L1740.4 3314.8 L1744.4 3315.2 L1748.4 3315.6 L1752.3 3316.0 L1756.3 3316.4 L1760.3 3316.7 L1764.3 3317.1 L1768.3 3317.4 L1772.3 3317.7 L1776.2 3318.0 L1780.2 3318.3 L1784.2 3318.6 L1788.2 3318.9 L1792.2 3319.2 L1796.2 3319.4 L1800.2 3319.7 L1804.2 3320.0 L1808.2 3320.2 L1812.2 3320.5 L1816.2 3320.8 L1820.1 3321.0 L1824.1 3321.3 L1828.1 3321.5 L1832.1 3321.8 L1836.1 3322.0 L1840.1 3322.3 L1844.1 3322.5 L1848.1 3322.7 L1852.1 3323.0 L1856.1 3323.2 L1860.1 3323.4 L1864.1 3323.7 L1868.1 3323.9 L1872.1 3324.1 L1876.1 3324.3 L1880.0 3324.5 L1884.0 3324.7 L1888.0 3324.9 L1892.0 3325.1 L1896.0 3325.3 L1900.0 3325.5 L1904.0 3325.7 L1908.0 3325.9 L1912.0 3326.1 L1916.0 3326.3 L1920.0 3326.4 L1924.0 3326.6 L1928.0 3326.8 L1932.0 3327.0 L1936.0 3327.1 L1940.0 3327.3 L1944.0 3327.4 L1948.0 3327.5 L1952.0 3327.7 L1956.0 3327.8 L1960.0 3327.9 L1964.0 3328.0 L1968.0 3328.1 L1972.0 3328.2 L1976.0 3328.3 L1980.0 3328.4 L1984.0 3328.5 L1988.0 3328.6 L1992.0 3328.7 L1996.0 3328.8 L2000.0 3328.9 L2004.0 3329.0 L2008.0 3329.1 L2012.0 3329.2 L2016.0 3329.3 L2020.0 3329.4 L2024.0 3329.5 L2028.0 3329.6 L2031.9 3329.7 L2035.9 3329.8 L2039.9 3329.9 L2043.9 3330.0 L2047.9 3330.0 L2051.9 3330.1 L2055.9 3330.2 L2059.9 3330.3 L2063.9 3330.4 L2067.9 3330.5 L2071.9 3330.5 L2075.9 3330.6 L2079.9 3330.7 L2083.9 3330.8 L2087.9 3330.8 L2091.9 3330.9 L2095.9 3331.0 L2099.9 3331.0 L2103.9 3331.1 L2107.9 3331.1 L2111.9 3331.2 L2115.9 3331.3 L2119.9 3331.3 L2123.9 3331.4 L2127.9 3331.4 L2131.9 3331.4 L2135.9 3331.5 L2139.9 3331.5 L2143.9 3331.6 L2147.9 3331.6 L2151.9 3331.6 L2155.8 3331.7 L2157.0 3331.7" stroke="#00B050"/>
<path class="c" d="M318.5 3168.9 L322.0 3167.7 L325.6 3166.1 L329.2 3164.3 L332.7 3162.4 L336.2 3160.4 L339.6 3158.4 L343.0 3156.2 L346.4 3154.0 L349.7 3151.8 L353.0 3149.5 L356.2 3147.2 L359.5 3144.9 L362.7 3142.5 L365.9 3140.1 L369.1 3137.7 L372.3 3135.3 L375.5 3132.9 L378.7 3130.5 L381.8 3128.1 L385.0 3125.7 L388.3 3123.3 L391.5 3120.9 L394.7 3118.6 L398.0 3116.3 L401.3 3114.0 L404.6 3111.8 L408.0 3109.6 L411.3 3107.4 L414.7 3105.3 L418.1 3103.1 L421.4 3101.0 L424.8 3098.8 L428.2 3096.6 L431.5 3094.5 L434.9 3092.3 L438.3 3090.2 L441.6 3088.0 L445.0 3085.8 L448.4 3083.7 L451.8 3081.5 L455.1 3079.4 L458.5 3077.3 L461.9 3075.2 L465.3 3073.1 L468.7 3071.0 L472.1 3068.9 L475.6 3066.8 L479.0 3064.8 L482.5 3062.8 L485.9 3060.8 L489.4 3058.8 L492.9 3056.9 L496.4 3054.9 L499.9 3053.1 L503.5 3051.2 L507.1 3049.4 L510.6 3047.6 L514.2 3045.9 L517.9 3044.2 L521.5 3042.6 L525.2 3041.0 L528.9 3039.4 L532.6 3037.9 L536.3 3036.4 L540.0 3034.9 L543.7 3033.4 L547.4 3031.9 L551.1 3030.4 L554.8 3028.9 L558.5 3027.4 L562.2 3025.9 L565.9 3024.4 L569.6 3022.9 L573.4 3021.4 L577.1 3019.9 L580.8 3018.4 L584.5 3016.9 L588.2 3015.4 L591.9 3013.9 L595.6 3012.5 L599.4 3011.0 L603.1 3009.6 L606.9 3008.2 L610.6 3006.9 L614.4 3005.6 L618.2 3004.3 L622.0 3003.0 L625.7 3001.6 L629.4 3000.0 L633.0 2998.3 L636.5 2996.4 L640.0 2994.5 L643.5 2992.4 L646.9 2990.3 L650.2 2988.2 L653.6 2986.0 L656.9 2983.8 L660.3 2981.6 L663.6 2979.5 L667.0 2977.3 L670.4 2975.2 L673.9 2973.2 L677.3 2971.1 L680.7 2969.1 L684.2 2967.0 L687.6 2965.0 L691.0 2962.9 L694.5 2960.8 L697.9 2958.8 L701.3 2956.7 L704.7 2954.6 L708.1 2952.4 L711.5 2950.3 L714.8 2948.1 L718.1 2945.9 L721.4 2943.6 L724.7 2941.3 L727.8 2938.9 L730.9 2936.3 L733.9 2933.7 L736.8 2930.9 L739.6 2928.1 L742.4 2925.2 L745.1 2922.3 L747.9 2919.4 L750.6 2916.5 L753.4 2913.6 L756.3 2910.8 L759.1 2908.0 L762.0 2905.3 L765.0 2902.5 L767.9 2899.8 L770.9 2897.2 L773.9 2894.5 L776.9 2891.9 L780.0 2889.3 L783.1 2886.8 L786.2 2884.4 L789.5 2882.1 L792.9 2880.0 L796.5 2878.2 L800.1 2876.4 L803.7 2874.7 L807.2 2872.9 L810.7 2870.9 L813.9 2868.6 L817.0 2866.1 L819.9 2863.4 L822.7 2860.6 L825.5 2857.6 L828.1 2854.6 L830.7 2851.6 L833.2 2848.5 L835.8 2845.4 L838.3 2842.3 L840.8 2839.2 L843.3 2836.0 L845.8 2832.9 L848.3 2829.8 L850.9 2826.8 L853.6 2823.8 L856.3 2820.9 L859.2 2818.1 L862.1 2815.4 L865.0 2812.7 L867.6 2809.7 L870.0 2806.5 L872.3 2803.2 L874.5 2799.9 L876.9 2796.7 L879.3 2793.5 L881.9 2790.5 L884.5 2787.5 L887.2 2784.5 L890.1 2781.7 L893.1 2779.1 L896.3 2776.8 L899.7 2774.9 L903.4 2773.3 L907.1 2771.9 L911.0 2770.8 L914.8 2769.7 L918.7 2768.7 L922.6 2767.9 L926.5 2767.3 L930.5 2766.8 L934.5 2766.6 L938.5 2766.6 L942.4 2767.1 L946.1 2768.1 L949.4 2769.9 L952.2 2772.4 L954.5 2775.5 L956.7 2778.8 L959.2 2781.5 L962.0 2783.2 L965.2 2783.4 L968.6 2782.9 L971.9 2783.0 L974.9 2784.4 L977.7 2786.9 L980.3 2789.8 L983.0 2792.8 L985.9 2795.5 L989.0 2798.0 L992.4 2800.1 L995.9 2802.0 L999.4 2803.8 L1002.9 2805.7 L1006.4 2807.7 L1009.6 2810.0 L1012.6 2812.6 L1015.5 2815.4 L1018.1 2818.3 L1020.7 2821.4 L1023.2 2824.5 L1025.7 2827.7 L1028.1 2830.9 L1030.5 2834.1 L1032.9 2837.2 L1035.4 2840.4 L1037.9 2843.5 L1040.5 2846.5 L1043.2 2849.5 L1045.9 2852.4 L1048.7 2855.3 L1051.4 2858.2 L1054.2 2861.1 L1057.0 2863.9 L1059.8 2866.8 L1062.6 2869.7 L1065.3 2872.6 L1068.1 2875.5 L1070.7 2878.5 L1073.4 2881.5 L1076.0 2884.5 L1078.6 2887.5 L1081.2 2890.6 L1083.8 2893.6 L1086.3 2896.7 L1088.9 2899.8 L1091.4 2903.0 L1093.8 2906.1 L1096.2 2909.3 L1098.6 2912.5 L1101.0 2915.8 L1103.3 2919.0 L1105.6 2922.3 L1107.8 2925.6 L1110.1 2928.9 L1112.4 2932.2 L1114.7 2935.4 L1117.1 2938.6 L1119.5 2941.8 L1122.0 2945.0 L1124.4 2948.1 L1127.0 2951.2 L1129.5 2954.3 L1132.0 2957.4 L1134.6 2960.5 L1137.2 2963.5 L1139.8 2966.5 L1142.5 2969.5 L1145.1 2972.5 L1147.8 2975.5 L1150.5 2978.5 L1153.1 2981.5 L1155.8 2984.4 L1158.5 2987.4 L1161.2 2990.3 L1163.9 2993.3 L1166.6 2996.2 L1169.4 2999.1 L1172.1 3002.0 L1174.9 3004.9 L1177.7 3007.8 L1180.5 3010.6 L1183.3 3013.5 L1186.2 3016.3 L1189.1 3019.1 L1192.0 3021.8 L1194.9 3024.5 L1197.8 3027.2 L1200.8 3029.9 L1203.8 3032.5 L1206.8 3035.1 L1209.9 3037.8 L1212.9 3040.4 L1216.0 3043.0 L1219.0 3045.5 L1222.0 3048.1 L1225.1 3050.8 L1228.1 3053.4 L1231.1 3056.0 L1234.1 3058.6 L1237.2 3061.3 L1240.2 3063.9 L1243.2 3066.5 L1246.2 3069.2 L1249.2 3071.8 L1251.4 3073.8 L1253.7 3075.7 L1256.7 3078.4 L1259.7 3081.0 L1262.7 3083.6 L1265.7 3086.3 L1268.8 3088.9 L1271.8 3091.6 L1274.8 3094.2 L1277.7 3096.9 L1280.7 3099.5 L1283.7 3102.2 L1286.7 3104.9 L1289.7 3107.5 L1292.7 3110.2 L1295.7 3112.8 L1298.7 3115.5 L1301.7 3118.1 L1304.8 3120.6 L1307.8 3123.2 L1310.9 3125.7 L1314.1 3128.2 L1317.2 3130.7 L1320.4 3133.1 L1323.6 3135.6 L1326.7 3138.0 L1330.0 3140.4 L1333.2 3142.8 L1336.4 3145.1 L1339.6 3147.5 L1342.9 3149.8 L1346.1 3152.2 L1349.3 3154.5 L1352.6 3156.9 L1355.8 3159.2 L1359.1 3161.5 L1362.4 3163.8 L1365.6 3166.1 L1368.9 3168.5 L1372.2 3170.8 L1375.4 3173.0 L1378.7 3175.3 L1382.0 3177.6 L1385.3 3179.9 L1388.6 3182.2 L1391.9 3184.4 L1395.2 3186.7 L1398.5 3189.0 L1401.8 3191.2 L1405.0 3193.5 L1408.3 3195.8 L1411.6 3198.2 L1414.8 3200.5 L1418.1 3202.8 L1421.3 3205.2 L1424.6 3207.5 L1427.9 3209.8 L1431.2 3212.0 L1434.5 3214.2 L1437.9 3216.3 L1441.3 3218.4 L1444.8 3220.4 L1448.3 3222.2 L1451.9 3224.0 L1455.5 3225.7 L1459.1 3227.4 L1462.8 3229.1 L1466.4 3230.7 L1470.1 3232.3 L1473.8 3233.9 L1477.5 3235.4 L1481.2 3237.0 L1484.9 3238.5 L1488.6 3239.9 L1492.3 3241.4 L1496.0 3242.8 L1499.8 3244.2 L1503.5 3245.7 L1507.3 3247.0 L1511.0 3248.4 L1514.8 3249.8 L1518.6 3251.1 L1522.4 3252.4 L1526.1 3253.7 L1529.9 3255.0 L1533.7 3256.3 L1537.5 3257.6 L1541.3 3258.9 L1545.1 3260.2 L1548.9 3261.5 L1552.6 3262.7 L1556.4 3264.0 L1560.2 3265.3 L1564.0 3266.6 L1567.8 3267.8 L1571.6 3269.1 L1575.4 3270.4 L1579.1 3271.8 L1582.9 3273.1 L1586.7 3274.4 L1590.5 3275.8 L1594.2 3277.1 L1598.0 3278.4 L1601.8 3279.8 L1605.6 3281.1 L1609.3 3282.4 L1613.1 3283.7 L1616.9 3284.9 L1620.7 3286.2 L1624.5 3287.4 L1628.3 3288.6 L1632.2 3289.8 L1636.0 3290.9 L1639.9 3292.0 L1643.7 3293.0 L1647.6 3294.0 L1651.5 3294.9 L1655.4 3295.8 L1659.3 3296.7 L1663.2 3297.4 L1667.1 3298.2 L1671.1 3299.0 L1675.0 3299.7 L1678.9 3300.4 L1682.9 3301.2 L1686.8 3301.9 L1690.7 3302.6 L1694.7 3303.2 L1698.6 3303.9 L1702.6 3304.6 L1706.5 3305.2 L1710.5 3305.8 L1714.4 3306.5 L1718.4 3307.1 L1722.3 3307.7 L1726.3 3308.2 L1730.3 3308.8 L1734.2 3309.3 L1738.2 3309.8 L1742.2 3310.4 L1746.1 3310.9 L1750.1 3311.3 L1754.1 3311.8 L1758.0 3312.2 L1762.0 3312.7 L1766.0 3313.1 L1770.0 3313.5 L1774.0 3313.8 L1777.9 3314.2 L1781.9 3314.5 L1785.9 3314.9 L1789.9 3315.2 L1793.9 3315.5 L1797.9 3315.8 L1801.9 3316.1 L1805.9 3316.4 L1809.8 3316.7 L1813.8 3317.0 L1817.8 3317.3 L1821.8 3317.6 L1825.8 3317.9 L1829.8 3318.2 L1833.8 3318.5 L1837.8 3318.8 L1841.8 3319.0 L1845.7 3319.3 L1849.7 3319.6 L1853.7 3319.9 L1857.7 3320.2 L1861.7 3320.4 L1865.7 3320.7 L1869.7 3321.0 L1873.7 3321.3 L1877.7 3321.6 L1881.7 3321.8 L1885.7 3322.1 L1889.6 3322.4 L1893.6 3322.7 L1897.6 3323.0 L1901.6 3323.3 L1905.6 3323.6 L1909.6 3323.9 L1913.6 3324.2 L1917.6 3324.6 L1921.5 3324.9 L1925.5 3325.2 L1929.5 3325.5 L1933.5 3325.8 L1937.5 3326.1 L1941.5 3326.3 L1945.5 3326.6 L1949.5 3326.8 L1953.5 3326.9 L1957.5 3327.1 L1961.5 3327.3 L1965.5 3327.4 L1969.5 3327.6 L1973.5 3327.8 L1977.5 3327.9 L1981.5 3328.1 L1985.5 3328.2 L1989.4 3328.4 L1993.4 3328.5 L1997.4 3328.7 L2001.4 3328.8 L2005.4 3328.9 L2009.4 3329.1 L2013.4 3329.2 L2017.4 3329.3 L2021.4 3329.4 L2025.4 3329.6 L2029.4 3329.7 L2033.4 3329.8 L2037.4 3329.9 L2041.4 3330.0 L2045.4 3330.1 L2049.4 3330.2 L2053.4 3330.3 L2057.4 3330.4 L2061.4 3330.5 L2065.4 3330.5 L2069.4 3330.6 L2073.4 3330.7 L2077.4 3330.8 L2081.4 3330.8 L2085.4 3330.9 L2089.4 3331.0 L2093.4 3331.0 L2097.4 3331.1 L2101.4 3331.1 L2105.4 3331.2 L2109.4 3331.2 L2113.4 3331.2 L2117.4 3331.3 L2121.4 3331.3 L2125.4 3331.3 L2129.4 3331.4 L2133.4 3331.4 L2137.4 3331.4 L2141.4 3331.4 L2145.4 3331.4 L2149.4 3331.4 L2153.4 3331.4 L2157.0 3331.4" stroke="#FFC000"/>
<path class="c" d="M318.5 3174.2 L322.0 3173.0 L325.7 3171.5 L329.3 3169.8 L332.8 3167.9 L336.3 3166.0 L339.8 3164.0 L343.2 3161.9 L346.6 3159.8 L350.0 3157.6 L353.3 3155.4 L356.6 3153.2 L359.9 3150.9 L363.1 3148.6 L366.4 3146.2 L369.6 3143.9 L372.9 3141.5 L376.1 3139.2 L379.4 3136.8 L382.6 3134.5 L385.9 3132.2 L389.1 3129.9 L392.4 3127.6 L395.7 3125.3 L399.0 3123.1 L402.4 3120.9 L405.8 3118.8 L409.2 3116.7 L412.6 3114.6 L416.0 3112.6 L419.5 3110.5 L422.9 3108.5 L426.3 3106.4 L429.7 3104.3 L433.2 3102.3 L436.6 3100.2 L440.0 3098.1 L443.5 3096.1 L446.9 3094.0 L450.3 3092.0 L453.8 3090.0 L457.2 3087.9 L460.7 3085.9 L464.1 3083.9 L467.6 3081.9 L471.1 3079.9 L474.6 3078.0 L478.1 3076.0 L481.6 3074.1 L485.1 3072.2 L488.6 3070.4 L492.2 3068.5 L495.8 3066.7 L499.3 3064.9 L502.9 3063.2 L506.5 3061.4 L510.2 3059.8 L513.8 3058.1 L517.5 3056.5 L521.2 3055.0 L524.9 3053.5 L528.6 3052.0 L532.3 3050.5 L536.1 3049.1 L539.8 3047.7 L543.6 3046.3 L547.3 3045.0 L551.1 3043.6 L554.8 3042.2 L558.6 3040.9 L562.4 3039.5 L566.1 3038.2 L569.9 3036.9 L573.7 3035.6 L577.5 3034.3 L581.3 3033.0 L585.1 3031.7 L588.8 3030.4 L592.6 3029.1 L596.4 3027.8 L600.2 3026.4 L603.9 3025.1 L607.7 3023.7 L611.4 3022.3 L615.2 3021.0 L618.9 3019.6 L622.7 3018.1 L626.4 3016.7 L630.1 3015.2 L633.8 3013.7 L637.5 3012.1 L641.1 3010.5 L644.7 3008.7 L648.3 3006.9 L651.7 3004.9 L655.1 3002.8 L658.5 3000.7 L661.9 2998.6 L665.4 2996.5 L668.8 2994.4 L672.2 2992.4 L675.7 2990.3 L679.1 2988.2 L682.5 2986.1 L685.8 2984.0 L689.2 2981.8 L692.5 2979.5 L695.7 2977.2 L698.9 2974.8 L702.1 2972.4 L705.2 2969.9 L708.3 2967.3 L711.4 2964.7 L714.4 2962.1 L717.3 2959.4 L720.3 2956.7 L723.1 2953.9 L725.9 2951.0 L728.6 2948.1 L731.3 2945.1 L733.9 2942.1 L736.5 2939.1 L739.1 2936.0 L741.6 2932.9 L744.2 2929.8 L746.7 2926.7 L749.3 2923.6 L751.8 2920.5 L754.3 2917.4 L756.8 2914.3 L759.2 2911.1 L761.7 2908.0 L764.1 2904.8 L766.5 2901.6 L768.9 2898.4 L771.2 2895.1 L773.6 2891.9 L775.9 2888.6 L778.1 2885.3 L780.4 2882.0 L782.6 2878.7 L784.7 2875.3 L786.9 2872.0 L789.1 2868.6 L791.3 2865.3 L793.6 2862.0 L795.9 2858.7 L798.2 2855.5 L800.6 2852.2 L802.9 2849.0 L805.3 2845.8 L807.7 2842.6 L810.1 2839.4 L812.6 2836.2 L815.0 2833.1 L817.5 2829.9 L820.0 2826.8 L822.5 2823.7 L825.1 2820.6 L827.6 2817.5 L830.2 2814.4 L832.7 2811.4 L835.3 2808.3 L837.8 2805.2 L840.4 2802.2 L843.0 2799.1 L845.6 2796.1 L848.2 2793.0 L850.8 2790.0 L853.4 2787.0 L856.1 2784.0 L858.7 2781.0 L861.3 2777.9 L864.0 2774.9 L866.6 2772.0 L869.3 2769.0 L872.0 2766.0 L874.6 2763.0 L877.3 2760.0 L880.0 2757.1 L882.7 2754.1 L885.4 2751.1 L888.0 2748.2 L890.7 2745.2 L893.5 2742.3 L896.2 2739.4 L899.0 2736.5 L901.9 2733.7 L904.8 2731.0 L907.7 2728.2 L910.6 2725.5 L913.5 2722.8 L916.5 2720.1 L919.6 2717.5 L922.7 2715.1 L926.1 2713.0 L929.6 2711.5 L933.3 2710.9 L936.9 2711.4 L940.5 2712.7 L944.0 2714.2 L947.5 2714.9 L950.9 2714.3 L954.0 2712.6 L957.2 2710.7 L960.6 2709.7 L964.2 2709.8 L967.9 2710.8 L971.5 2712.4 L975.1 2714.3 L978.6 2716.3 L982.0 2718.3 L985.4 2720.5 L988.7 2722.7 L992.0 2724.9 L995.3 2727.2 L998.6 2729.5 L1001.8 2731.8 L1005.0 2734.2 L1008.2 2736.6 L1011.3 2739.1 L1014.4 2741.7 L1017.3 2744.5 L1020.0 2747.3 L1022.6 2750.4 L1025.1 2753.5 L1027.4 2756.8 L1029.7 2760.1 L1031.9 2763.4 L1034.2 2766.6 L1036.5 2769.9 L1038.9 2773.1 L1041.4 2776.2 L1043.9 2779.3 L1046.5 2782.4 L1049.1 2785.5 L1051.7 2788.5 L1054.3 2791.5 L1057.0 2794.5 L1059.6 2797.5 L1062.3 2800.5 L1065.0 2803.5 L1067.6 2806.4 L1070.3 2809.4 L1073.0 2812.4 L1075.7 2815.3 L1078.4 2818.2 L1081.2 2821.1 L1083.9 2824.1 L1086.6 2827.0 L1089.3 2830.0 L1091.9 2833.0 L1094.5 2836.1 L1097.0 2839.2 L1099.4 2842.4 L1101.7 2845.6 L1104.1 2848.9 L1106.3 2852.2 L1108.6 2855.5 L1110.9 2858.7 L1113.2 2862.0 L1115.5 2865.3 L1117.8 2868.6 L1120.2 2871.8 L1122.5 2875.0 L1124.9 2878.2 L1127.3 2881.4 L1129.7 2884.6 L1132.2 2887.8 L1134.6 2891.0 L1137.1 2894.1 L1139.6 2897.2 L1142.1 2900.3 L1144.8 2903.2 L1147.6 2906.1 L1150.0 2909.1 L1151.9 2912.5 L1153.4 2916.1 L1154.6 2919.9 L1155.6 2923.8 L1156.7 2927.6 L1158.0 2931.4 L1159.6 2934.9 L1161.8 2938.2 L1164.4 2941.1 L1167.4 2943.8 L1170.4 2946.4 L1173.6 2948.7 L1176.9 2951.0 L1180.2 2953.3 L1183.5 2955.5 L1186.8 2957.8 L1190.1 2960.1 L1193.4 2962.4 L1196.7 2964.7 L1199.9 2967.0 L1203.2 2969.3 L1206.4 2971.7 L1209.4 2974.3 L1212.3 2977.0 L1214.9 2980.0 L1217.2 2983.2 L1219.3 2986.6 L1221.3 2990.1 L1223.2 2993.6 L1225.1 2997.1 L1227.2 3000.5 L1229.4 3003.8 L1231.8 3007.0 L1234.4 3010.1 L1237.0 3013.1 L1239.7 3016.0 L1242.5 3018.9 L1245.3 3021.8 L1248.1 3024.6 L1251.0 3027.4 L1253.9 3030.2 L1256.8 3032.9 L1259.7 3035.6 L1262.7 3038.3 L1265.6 3041.0 L1268.6 3043.7 L1271.6 3046.4 L1274.5 3049.1 L1277.5 3051.7 L1280.5 3054.4 L1283.5 3057.0 L1286.5 3059.7 L1289.5 3062.3 L1292.6 3064.9 L1295.6 3067.5 L1298.6 3070.1 L1301.6 3072.7 L1304.7 3075.4 L1307.7 3078.0 L1310.7 3080.6 L1313.7 3083.3 L1316.7 3085.9 L1319.7 3088.6 L1322.6 3091.3 L1325.6 3094.0 L1328.6 3096.6 L1331.6 3099.3 L1334.5 3102.0 L1337.6 3104.6 L1340.6 3107.2 L1343.6 3109.8 L1346.7 3112.3 L1349.9 3114.8 L1353.0 3117.3 L1356.2 3119.7 L1359.5 3122.0 L1362.7 3124.3 L1366.0 3126.6 L1369.3 3128.9 L1372.6 3131.1 L1376.0 3133.3 L1379.3 3135.5 L1382.6 3137.7 L1385.9 3140.0 L1389.2 3142.2 L1392.5 3144.5 L1395.7 3146.9 L1399.0 3149.3 L1402.1 3151.7 L1405.3 3154.2 L1408.3 3156.7 L1411.4 3159.3 L1414.4 3161.9 L1417.5 3164.5 L1420.5 3167.2 L1423.5 3169.8 L1426.5 3172.4 L1429.5 3175.1 L1432.6 3177.7 L1435.6 3180.2 L1438.7 3182.7 L1441.9 3185.2 L1445.1 3187.6 L1448.3 3189.9 L1451.6 3192.2 L1454.9 3194.4 L1458.3 3196.6 L1461.6 3198.8 L1465.0 3201.0 L1468.4 3203.2 L1471.7 3205.3 L1475.1 3207.5 L1478.5 3209.6 L1481.9 3211.7 L1485.3 3213.8 L1488.7 3215.8 L1492.2 3217.9 L1495.6 3219.9 L1499.1 3222.0 L1502.5 3224.0 L1506.0 3225.9 L1509.5 3227.9 L1513.0 3229.8 L1516.5 3231.8 L1520.0 3233.7 L1523.5 3235.5 L1527.1 3237.4 L1530.6 3239.2 L1534.2 3241.0 L1537.8 3242.8 L1541.4 3244.5 L1545.0 3246.3 L1548.6 3248.0 L1552.3 3249.6 L1555.9 3251.3 L1559.6 3252.9 L1563.2 3254.5 L1566.9 3256.0 L1570.6 3257.6 L1574.3 3259.1 L1578.0 3260.7 L1581.7 3262.2 L1585.4 3263.7 L1589.1 3265.2 L1592.8 3266.7 L1596.5 3268.2 L1600.2 3269.7 L1604.0 3271.1 L1607.7 3272.5 L1611.5 3273.9 L1615.2 3275.3 L1619.0 3276.7 L1622.7 3278.0 L1626.5 3279.3 L1630.3 3280.6 L1634.1 3281.8 L1637.9 3283.0 L1641.8 3284.1 L1645.6 3285.2 L1649.5 3286.3 L1653.4 3287.3 L1657.2 3288.2 L1661.1 3289.1 L1665.0 3290.0 L1668.9 3290.9 L1672.8 3291.7 L1676.8 3292.6 L1680.7 3293.5 L1684.6 3294.3 L1688.5 3295.1 L1692.4 3296.0 L1696.3 3296.8 L1700.2 3297.6 L1704.2 3298.4 L1708.1 3299.2 L1712.0 3299.9 L1715.9 3300.7 L1719.9 3301.4 L1723.8 3302.2 L1727.7 3302.9 L1731.7 3303.6 L1735.6 3304.3 L1739.6 3304.9 L1743.5 3305.6 L1747.5 3306.2 L1751.4 3306.8 L1755.4 3307.4 L1759.3 3307.9 L1763.3 3308.4 L1767.3 3308.9 L1771.2 3309.4 L1775.2 3309.9 L1779.2 3310.3 L1783.2 3310.7 L1787.1 3311.1 L1791.1 3311.5 L1795.1 3311.9 L1799.1 3312.3 L1803.1 3312.6 L1807.1 3313.0 L1811.0 3313.3 L1815.0 3313.7 L1819.0 3314.0 L1823.0 3314.4 L1827.0 3314.7 L1831.0 3315.0 L1835.0 3315.3 L1838.9 3315.7 L1842.9 3316.0 L1846.9 3316.3 L1850.9 3316.6 L1854.9 3316.9 L1858.9 3317.3 L1862.9 3317.6 L1866.8 3317.9 L1870.8 3318.2 L1874.8 3318.6 L1878.8 3318.9 L1882.8 3319.3 L1886.8 3319.6 L1890.8 3320.0 L1894.7 3320.3 L1898.7 3320.7 L1902.7 3321.1 L1906.7 3321.5 L1910.7 3321.9 L1914.6 3322.4 L1918.6 3322.8 L1922.6 3323.2 L1926.6 3323.7 L1930.5 3324.1 L1934.5 3324.5 L1938.5 3324.8 L1942.5 3325.2 L1946.5 3325.5 L1950.5 3325.7 L1954.5 3326.0 L1958.5 3326.2 L1962.5 3326.4 L1966.5 3326.6 L1970.4 3326.8 L1974.4 3327.0 L1978.4 3327.2 L1982.4 3327.4 L1986.4 3327.6 L1990.4 3327.8 L1994.4 3328.0 L1998.4 3328.2 L2002.4 3328.3 L2006.4 3328.5 L2010.4 3328.7 L2014.4 3328.8 L2018.4 3329.0 L2022.4 3329.1 L2026.4 3329.3 L2030.4 3329.4 L2034.4 3329.5 L2038.4 3329.7 L2042.4 3329.8 L2046.4 3329.9 L2050.4 3330.0 L2054.4 3330.1 L2058.4 3330.2 L2062.4 3330.3 L2066.4 3330.4 L2070.4 3330.5 L2074.4 3330.6 L2078.4 3330.7 L2082.4 3330.7 L2086.4 3330.8 L2090.4 3330.9 L2094.4 3330.9 L2098.4 3331.0 L2102.4 3331.0 L2106.4 3331.1 L2110.4 3331.1 L2114.4 3331.1 L2118.4 3331.2 L2122.4 3331.2 L2126.4 3331.2 L2130.4 3331.2 L2134.4 3331.2 L2138.4 3331.2 L2142.4 3331.2 L2146.4 3331.2 L2150.4 3331.2 L2154.3 3331.2 L2157.0 3331.1" stroke="#9966FF"/>
<path class="c" d="M318.5 3183.5 L322.1 3182.4 L325.8 3180.9 L329.4 3179.2 L333.0 3177.4 L336.5 3175.6 L340.0 3173.6 L343.4 3171.6 L346.9 3169.5 L350.2 3167.4 L353.6 3165.2 L356.9 3163.0 L360.2 3160.8 L363.5 3158.5 L366.8 3156.2 L370.1 3153.9 L373.4 3151.6 L376.7 3149.4 L380.0 3147.1 L383.3 3144.8 L386.6 3142.6 L389.9 3140.4 L393.3 3138.2 L396.6 3136.0 L400.0 3133.9 L403.5 3131.9 L406.9 3129.9 L410.4 3127.9 L413.9 3126.0 L417.5 3124.1 L421.0 3122.2 L424.5 3120.4 L428.1 3118.5 L431.6 3116.6 L435.1 3114.8 L438.7 3112.9 L442.2 3111.1 L445.8 3109.2 L449.3 3107.4 L452.9 3105.6 L456.5 3103.8 L460.0 3101.9 L463.6 3100.2 L467.2 3098.4 L470.8 3096.6 L474.4 3094.8 L478.0 3093.1 L481.6 3091.4 L485.2 3089.7 L488.8 3087.9 L492.4 3086.3 L496.1 3084.6 L499.7 3082.9 L503.3 3081.3 L507.0 3079.6 L510.7 3078.0 L514.3 3076.4 L518.0 3074.8 L521.6 3073.2 L525.3 3071.6 L529.0 3070.1 L532.7 3068.6 L536.4 3067.1 L540.2 3065.7 L543.9 3064.3 L547.7 3063.1 L551.6 3061.9 L555.4 3060.8 L559.3 3059.9 L563.2 3059.0 L567.1 3058.2 L571.0 3057.4 L575.0 3056.7 L578.9 3056.1 L582.9 3055.4 L586.8 3054.7 L590.7 3054.0 L594.7 3053.3 L598.6 3052.5 L602.5 3051.6 L606.4 3050.6 L610.2 3049.6 L614.1 3048.5 L617.9 3047.4 L621.7 3046.2 L625.5 3045.0 L629.3 3043.7 L633.1 3042.3 L636.8 3041.0 L640.6 3039.5 L644.3 3038.0 L648.0 3036.5 L651.6 3034.9 L655.2 3033.1 L658.8 3031.3 L662.3 3029.5 L665.8 3027.5 L669.3 3025.6 L672.8 3023.6 L676.3 3021.6 L679.7 3019.6 L683.2 3017.6 L686.7 3015.6 L690.2 3013.6 L693.6 3011.7 L697.1 3009.6 L700.5 3007.5 L703.8 3005.4 L707.1 3003.1 L710.3 3000.7 L713.4 2998.2 L716.3 2995.4 L719.0 2992.5 L721.4 2989.3 L723.6 2986.0 L725.8 2982.7 L728.0 2979.4 L730.4 2976.1 L732.8 2973.0 L735.3 2969.9 L737.9 2966.8 L740.5 2963.7 L743.1 2960.7 L745.7 2957.7 L748.3 2954.6 L750.9 2951.6 L753.5 2948.5 L756.0 2945.4 L758.5 2942.3 L761.0 2939.2 L763.4 2936.0 L765.8 2932.8 L768.2 2929.6 L770.5 2926.3 L772.8 2923.0 L775.0 2919.7 L777.2 2916.4 L779.3 2913.0 L781.3 2909.5 L783.2 2906.0 L785.0 2902.4 L786.8 2898.8 L788.6 2895.2 L790.3 2891.6 L791.9 2888.0 L793.6 2884.4 L795.2 2880.7 L796.8 2877.0 L798.3 2873.3 L799.8 2869.6 L801.3 2865.9 L802.8 2862.2 L804.3 2858.5 L805.8 2854.8 L807.4 2851.1 L809.0 2847.4 L810.6 2843.8 L812.3 2840.2 L814.0 2836.5 L815.7 2832.9 L817.4 2829.3 L819.1 2825.7 L820.8 2822.1 L822.5 2818.4 L824.1 2814.8 L825.8 2811.1 L827.4 2807.5 L829.0 2803.8 L830.6 2800.1 L832.2 2796.5 L833.8 2792.8 L835.4 2789.2 L837.1 2785.5 L838.8 2781.9 L840.4 2778.3 L842.1 2774.6 L843.7 2771.0 L845.4 2767.3 L847.1 2763.7 L848.8 2760.1 L850.6 2756.5 L852.4 2752.9 L854.2 2749.4 L856.2 2745.9 L858.2 2742.5 L860.2 2739.0 L862.3 2735.6 L864.4 2732.2 L866.4 2728.7 L868.5 2725.3 L870.6 2721.9 L872.7 2718.5 L874.8 2715.1 L876.9 2711.7 L879.1 2708.3 L881.2 2705.0 L883.4 2701.6 L885.6 2698.3 L887.9 2695.0 L890.2 2691.7 L892.5 2688.5 L894.9 2685.2 L897.3 2682.1 L899.8 2678.9 L902.4 2675.9 L905.0 2672.9 L907.7 2669.9 L910.6 2667.1 L913.5 2664.4 L916.6 2661.9 L919.7 2659.5 L923.1 2657.2 L926.5 2655.2 L930.0 2653.2 L933.6 2651.5 L937.2 2649.8 L940.9 2648.3 L944.6 2646.8 L948.3 2645.4 L952.1 2644.2 L955.9 2643.4 L959.8 2643.3 L963.5 2644.1 L967.1 2645.2 L970.6 2645.9 L973.9 2645.3 L977.0 2643.9 L980.1 2643.0 L983.4 2643.4 L986.6 2645.2 L989.6 2647.6 L992.5 2650.4 L995.4 2653.1 L998.4 2655.7 L1001.5 2658.2 L1004.8 2660.5 L1008.1 2662.7 L1011.4 2665.0 L1014.7 2667.3 L1017.8 2669.7 L1020.8 2672.4 L1023.7 2675.2 L1026.4 2678.1 L1029.0 2681.1 L1031.5 2684.3 L1033.9 2687.4 L1036.4 2690.6 L1039.0 2693.5 L1041.9 2696.2 L1045.0 2698.6 L1048.1 2701.1 L1050.8 2703.9 L1053.3 2707.0 L1055.5 2710.3 L1057.6 2713.7 L1059.8 2717.1 L1062.0 2720.4 L1064.3 2723.7 L1066.7 2726.9 L1069.1 2730.0 L1071.6 2733.1 L1074.1 2736.3 L1076.6 2739.4 L1079.1 2742.6 L1081.5 2745.8 L1083.8 2749.0 L1086.0 2752.3 L1088.2 2755.7 L1090.3 2759.1 L1092.3 2762.6 L1094.3 2766.0 L1096.3 2769.5 L1098.3 2773.0 L1100.2 2776.5 L1102.2 2779.9 L1104.2 2783.4 L1106.2 2786.8 L1108.3 2790.3 L1110.4 2793.7 L1112.5 2797.1 L1114.6 2800.5 L1116.8 2803.8 L1118.9 2807.2 L1121.1 2810.6 L1123.3 2813.9 L1125.6 2817.2 L1127.8 2820.5 L1130.1 2823.8 L1132.6 2826.9 L1135.1 2830.0 L1137.9 2832.8 L1140.9 2835.5 L1143.9 2838.1 L1146.7 2840.9 L1149.1 2844.0 L1151.1 2847.4 L1152.7 2851.0 L1154.1 2854.7 L1155.4 2858.5 L1156.7 2862.3 L1158.1 2866.0 L1159.8 2869.6 L1161.8 2873.1 L1164.1 2876.2 L1166.8 2879.2 L1169.8 2881.8 L1173.0 2884.1 L1176.3 2886.4 L1179.5 2888.7 L1182.6 2891.3 L1185.4 2894.1 L1187.8 2897.2 L1189.9 2900.6 L1191.8 2904.1 L1193.6 2907.6 L1195.6 2911.1 L1197.7 2914.5 L1199.9 2917.8 L1202.2 2921.1 L1204.5 2924.3 L1206.9 2927.6 L1209.2 2930.8 L1211.7 2934.0 L1214.1 2937.1 L1216.6 2940.3 L1219.1 2943.4 L1221.7 2946.4 L1224.2 2949.5 L1226.8 2952.6 L1229.4 2955.6 L1232.1 2958.6 L1234.7 2961.6 L1237.4 2964.6 L1240.0 2967.6 L1242.7 2970.5 L1245.4 2973.5 L1248.1 2976.5 L1250.7 2979.5 L1253.4 2982.5 L1256.0 2985.5 L1258.7 2988.4 L1261.4 2991.4 L1264.0 2994.4 L1266.7 2997.4 L1269.3 3000.4 L1272.0 3003.4 L1274.6 3006.4 L1277.3 3009.4 L1280.0 3012.4 L1282.6 3015.3 L1285.3 3018.3 L1288.0 3021.3 L1290.7 3024.3 L1293.4 3027.2 L1296.0 3030.2 L1298.7 3033.1 L1301.4 3036.1 L1304.2 3039.0 L1306.9 3041.9 L1309.6 3044.9 L1312.4 3047.8 L1315.1 3050.7 L1317.9 3053.6 L1320.7 3056.4 L1323.5 3059.3 L1326.3 3062.2 L1329.1 3065.0 L1331.9 3067.8 L1334.8 3070.6 L1337.6 3073.4 L1340.5 3076.2 L1343.4 3078.9 L1346.4 3081.6 L1349.3 3084.3 L1352.3 3087.0 L1355.3 3089.6 L1358.4 3092.2 L1361.4 3094.8 L1364.6 3097.3 L1367.7 3099.8 L1370.8 3102.2 L1374.0 3104.7 L1377.2 3107.1 L1380.4 3109.5 L1383.5 3112.0 L1386.7 3114.4 L1389.9 3116.9 L1393.0 3119.3 L1396.1 3121.9 L1399.2 3124.4 L1402.3 3127.0 L1405.3 3129.6 L1408.3 3132.3 L1411.2 3135.0 L1414.1 3137.7 L1417.1 3140.4 L1420.0 3143.2 L1422.9 3145.9 L1425.8 3148.6 L1428.8 3151.3 L1431.8 3154.0 L1434.8 3156.6 L1437.8 3159.2 L1440.9 3161.7 L1444.1 3164.2 L1447.3 3166.5 L1450.7 3168.7 L1454.1 3170.7 L1457.6 3172.6 L1461.3 3174.3 L1464.9 3175.8 L1468.7 3177.3 L1472.4 3178.6 L1476.2 3179.9 L1480.0 3181.2 L1483.8 3182.6 L1487.5 3184.0 L1491.2 3185.6 L1494.8 3187.3 L1498.3 3189.2 L1501.7 3191.2 L1505.1 3193.4 L1508.4 3195.7 L1511.6 3198.0 L1514.8 3200.5 L1517.9 3202.9 L1521.0 3205.5 L1524.1 3208.0 L1527.2 3210.6 L1530.2 3213.2 L1533.3 3215.7 L1536.3 3218.3 L1539.4 3220.9 L1542.5 3223.4 L1545.6 3225.9 L1548.8 3228.3 L1552.0 3230.7 L1555.3 3233.0 L1558.7 3235.1 L1562.1 3237.2 L1565.6 3239.2 L1569.1 3241.0 L1572.7 3242.8 L1576.3 3244.6 L1579.9 3246.3 L1583.5 3248.0 L1587.1 3249.7 L1590.8 3251.4 L1594.4 3253.0 L1598.1 3254.6 L1601.8 3256.2 L1605.5 3257.7 L1609.2 3259.2 L1612.9 3260.7 L1616.6 3262.1 L1620.3 3263.5 L1624.1 3264.9 L1627.9 3266.3 L1631.7 3267.6 L1635.4 3268.8 L1639.2 3270.1 L1643.1 3271.3 L1646.9 3272.5 L1650.7 3273.6 L1654.6 3274.7 L1658.4 3275.7 L1662.3 3276.8 L1666.1 3277.8 L1670.0 3278.8 L1673.9 3279.9 L1677.8 3280.9 L1681.6 3281.9 L1685.5 3282.9 L1689.4 3283.9 L1693.2 3284.9 L1697.1 3285.9 L1701.0 3286.9 L1704.9 3287.9 L1708.7 3288.9 L1712.6 3289.8 L1716.5 3290.8 L1720.4 3291.7 L1724.3 3292.6 L1728.2 3293.5 L1732.1 3294.4 L1736.0 3295.2 L1739.9 3296.1 L1743.8 3296.9 L1747.7 3297.7 L1751.7 3298.5 L1755.6 3299.2 L1759.5 3300.0 L1763.5 3300.7 L1767.4 3301.3 L1771.4 3302.0 L1775.3 3302.6 L1779.3 3303.2 L1783.2 3303.8 L1787.2 3304.3 L1791.1 3304.9 L1795.1 3305.4 L1799.1 3306.0 L1803.0 3306.5 L1807.0 3307.0 L1811.0 3307.5 L1814.9 3308.0 L1818.9 3308.5 L1822.9 3309.0 L1826.8 3309.5 L1830.8 3310.0 L1834.8 3310.5 L1838.8 3311.0 L1842.7 3311.5 L1846.7 3311.9 L1850.7 3312.4 L1854.6 3312.8 L1858.6 3313.3 L1862.6 3313.7 L1866.6 3314.2 L1870.6 3314.6 L1874.5 3315.0 L1878.5 3315.4 L1882.5 3315.9 L1886.5 3316.3 L1890.4 3316.7 L1894.4 3317.1 L1898.4 3317.5 L1902.4 3317.9 L1906.4 3318.3 L1910.3 3318.7 L1914.3 3319.1 L1918.3 3319.5 L1922.3 3319.9 L1926.3 3320.3 L1930.2 3320.7 L1934.2 3321.0 L1938.2 3321.4 L1942.2 3321.7 L1946.2 3321.9 L1950.2 3322.2 L1954.2 3322.4 L1958.2 3322.6 L1962.2 3322.9 L1966.2 3323.1 L1970.2 3323.3 L1974.1 3323.5 L1978.1 3323.7 L1982.1 3324.0 L1986.1 3324.2 L1990.1 3324.4 L1994.1 3324.6 L1998.1 3324.8 L2002.1 3325.0 L2006.1 3325.2 L2010.1 3325.4 L2014.1 3325.6 L2018.1 3325.8 L2022.1 3326.0 L2026.1 3326.2 L2030.1 3326.4 L2034.1 3326.6 L2038.1 3326.8 L2042.1 3326.9 L2046.1 3327.1 L2050.1 3327.3 L2054.1 3327.5 L2058.0 3327.6 L2062.0 3327.8 L2066.0 3327.9 L2070.0 3328.1 L2074.0 3328.2 L2078.0 3328.4 L2082.0 3328.5 L2086.0 3328.7 L2090.0 3328.8 L2094.0 3328.9 L2098.0 3329.1 L2102.0 3329.2 L2106.0 3329.3 L2110.0 3329.4 L2114.0 3329.5 L2118.0 3329.6 L2122.0 3329.7 L2126.0 3329.8 L2130.0 3329.9 L2134.0 3330.0 L2138.0 3330.0 L2142.0 3330.1 L2146.0 3330.2 L2150.0 3330.2 L2154.0 3330.3 L2157.0 3330.3" stroke="#00FFFF"/>
<path class="c" d="M318.5 3196.9 L322.2 3196.0 L326.0 3194.8 L329.8 3193.4 L333.5 3192.0 L337.2 3190.5 L340.9 3188.9 L344.5 3187.2 L348.1 3185.5 L351.7 3183.7 L355.3 3181.9 L358.9 3180.1 L362.4 3178.2 L365.9 3176.3 L369.5 3174.5 L373.0 3172.6 L376.5 3170.7 L380.0 3168.8 L383.6 3167.0 L387.2 3165.1 L390.7 3163.3 L394.3 3161.6 L397.9 3159.9 L401.6 3158.3 L405.3 3156.7 L409.0 3155.2 L412.7 3153.7 L416.4 3152.2 L420.1 3150.7 L423.8 3149.3 L427.6 3147.8 L431.3 3146.3 L435.0 3144.9 L438.7 3143.4 L442.5 3141.9 L446.2 3140.5 L449.9 3139.1 L453.7 3137.7 L457.4 3136.3 L461.2 3134.9 L464.9 3133.6 L468.7 3132.2 L472.5 3130.9 L476.3 3129.7 L480.1 3128.5 L483.9 3127.3 L487.8 3126.2 L491.6 3125.1 L495.5 3124.0 L499.4 3123.1 L503.2 3122.1 L507.1 3121.3 L511.1 3120.5 L515.0 3119.7 L518.9 3119.0 L522.9 3118.3 L526.8 3117.7 L530.8 3117.1 L534.7 3116.5 L538.7 3116.0 L542.7 3115.5 L546.6 3115.0 L550.6 3114.6 L554.6 3114.2 L558.6 3114.0 L562.6 3113.7 L566.6 3113.6 L570.6 3113.4 L574.6 3113.3 L578.6 3113.2 L582.6 3113.1 L586.6 3113.0 L590.6 3112.9 L594.6 3112.6 L598.5 3112.4 L602.5 3112.0 L606.5 3111.5 L610.4 3110.9 L614.4 3110.1 L618.2 3109.2 L622.1 3108.2 L626.0 3107.1 L629.8 3105.9 L633.6 3104.7 L637.4 3103.6 L641.3 3102.4 L645.1 3101.3 L648.9 3100.1 L652.8 3099.0 L656.6 3097.9 L660.4 3096.7 L664.2 3095.5 L668.0 3094.2 L671.8 3092.9 L675.6 3091.6 L679.3 3090.2 L683.0 3088.7 L686.7 3087.0 L690.2 3085.1 L693.6 3083.1 L696.9 3080.9 L700.2 3078.5 L703.3 3076.1 L706.5 3073.6 L709.5 3071.0 L712.6 3068.5 L715.6 3065.8 L718.6 3063.2 L721.5 3060.4 L724.3 3057.6 L727.1 3054.7 L729.8 3051.8 L732.6 3048.9 L735.3 3045.9 L738.0 3043.0 L740.6 3040.0 L743.3 3037.0 L745.8 3033.9 L748.3 3030.8 L750.8 3027.7 L753.3 3024.5 L755.7 3021.3 L758.0 3018.1 L760.3 3014.8 L762.6 3011.5 L764.8 3008.2 L766.9 3004.8 L768.9 3001.3 L770.9 2997.8 L772.8 2994.3 L774.6 2990.8 L776.4 2987.2 L778.0 2983.5 L779.6 2979.8 L781.1 2976.1 L782.6 2972.5 L784.2 2968.8 L785.8 2965.1 L787.4 2961.4 L789.0 2957.8 L790.7 2954.2 L792.4 2950.5 L794.0 2946.9 L795.7 2943.2 L797.3 2939.6 L799.0 2935.9 L800.6 2932.3 L802.2 2928.6 L803.7 2924.9 L805.3 2921.2 L806.8 2917.5 L808.3 2913.8 L809.8 2910.1 L811.3 2906.4 L812.8 2902.7 L814.2 2899.0 L815.7 2895.2 L817.1 2891.5 L818.5 2887.8 L819.9 2884.0 L821.3 2880.3 L822.7 2876.5 L824.0 2872.7 L825.3 2869.0 L826.6 2865.2 L827.9 2861.4 L829.2 2857.6 L830.5 2853.8 L831.7 2850.0 L832.9 2846.2 L834.1 2842.4 L835.3 2838.6 L836.4 2834.7 L837.5 2830.9 L838.7 2827.0 L839.8 2823.2 L840.9 2819.4 L842.1 2815.5 L843.3 2811.7 L844.5 2807.9 L845.7 2804.1 L846.9 2800.3 L848.2 2796.5 L849.5 2792.7 L850.8 2788.9 L852.1 2785.2 L853.4 2781.4 L854.8 2777.6 L856.2 2773.9 L857.7 2770.2 L859.2 2766.5 L860.8 2762.8 L862.4 2759.1 L864.1 2755.5 L865.9 2751.9 L867.7 2748.4 L869.5 2744.8 L871.5 2741.3 L873.5 2737.8 L875.5 2734.4 L877.6 2731.0 L879.6 2727.6 L881.7 2724.2 L883.8 2720.8 L885.9 2717.3 L888.0 2713.9 L890.0 2710.5 L892.0 2707.0 L893.9 2703.5 L895.8 2700.0 L897.6 2696.4 L899.4 2692.8 L901.1 2689.2 L902.7 2685.5 L904.3 2681.9 L905.8 2678.2 L907.2 2674.4 L908.6 2670.7 L909.8 2666.8 L910.8 2663.0 L911.7 2659.1 L912.5 2655.2 L913.2 2651.2 L914.0 2647.3 L914.8 2643.4 L915.6 2639.5 L916.5 2635.6 L917.6 2631.8 L919.2 2628.3 L921.5 2625.1 L924.3 2622.5 L927.5 2620.2 L930.7 2617.9 L933.9 2615.5 L936.8 2612.8 L939.6 2610.0 L942.3 2607.0 L944.9 2604.0 L947.4 2600.9 L949.9 2597.7 L952.3 2594.5 L954.8 2591.4 L957.4 2588.3 L960.0 2585.3 L962.8 2582.5 L965.9 2580.0 L969.2 2578.1 L972.9 2576.9 L976.7 2576.6 L980.6 2577.1 L984.4 2578.1 L988.2 2579.3 L991.9 2580.7 L995.7 2582.1 L999.4 2583.6 L1003.0 2585.2 L1006.7 2586.9 L1010.2 2588.7 L1013.7 2590.6 L1017.1 2592.8 L1020.3 2595.1 L1023.2 2597.8 L1026.0 2600.7 L1028.5 2603.8 L1030.7 2607.1 L1032.9 2610.4 L1035.0 2613.8 L1037.2 2617.2 L1039.4 2620.5 L1041.6 2623.8 L1043.9 2627.1 L1046.2 2630.4 L1048.5 2633.6 L1050.9 2636.9 L1053.3 2640.1 L1055.7 2643.2 L1058.3 2646.3 L1060.8 2649.4 L1063.4 2652.4 L1066.0 2655.5 L1068.6 2658.6 L1071.0 2661.7 L1073.4 2664.9 L1075.6 2668.2 L1077.8 2671.6 L1080.0 2674.9 L1082.1 2678.3 L1084.3 2681.7 L1086.5 2685.0 L1088.8 2688.3 L1091.2 2691.4 L1093.9 2694.4 L1096.7 2697.2 L1099.6 2700.0 L1102.3 2702.9 L1104.8 2706.0 L1107.0 2709.3 L1109.1 2712.7 L1111.0 2716.2 L1112.9 2719.8 L1114.7 2723.3 L1116.6 2726.8 L1118.5 2730.4 L1120.5 2733.8 L1122.6 2737.2 L1124.8 2740.5 L1127.1 2743.9 L1129.3 2747.1 L1131.7 2750.4 L1134.1 2753.5 L1136.7 2756.6 L1139.4 2759.5 L1142.4 2762.2 L1145.3 2764.8 L1148.0 2767.7 L1150.3 2770.9 L1152.1 2774.4 L1153.7 2778.0 L1155.1 2781.8 L1156.6 2785.5 L1158.1 2789.2 L1159.8 2792.8 L1161.4 2796.5 L1163.1 2800.1 L1164.9 2803.7 L1166.7 2807.2 L1168.7 2810.7 L1170.8 2814.1 L1173.0 2817.4 L1175.4 2820.6 L1177.9 2823.8 L1180.4 2826.8 L1183.0 2829.9 L1185.5 2833.0 L1187.9 2836.2 L1190.2 2839.5 L1192.5 2842.8 L1194.6 2846.1 L1196.8 2849.5 L1198.9 2852.9 L1201.0 2856.3 L1203.2 2859.7 L1205.3 2863.0 L1207.5 2866.4 L1209.6 2869.8 L1211.8 2873.1 L1214.0 2876.5 L1216.1 2879.9 L1218.3 2883.2 L1220.4 2886.6 L1222.6 2890.0 L1224.8 2893.3 L1227.1 2896.6 L1229.3 2899.9 L1231.6 2903.2 L1234.0 2906.4 L1236.3 2909.6 L1238.7 2912.8 L1241.2 2916.0 L1243.6 2919.2 L1246.1 2922.3 L1248.6 2925.5 L1251.0 2928.6 L1253.6 2931.7 L1256.1 2934.8 L1258.6 2937.9 L1261.2 2941.0 L1263.8 2944.0 L1266.3 2947.1 L1268.9 2950.1 L1271.5 2953.2 L1274.1 2956.2 L1276.7 2959.3 L1279.4 2962.3 L1282.0 2965.3 L1284.6 2968.3 L1287.2 2971.3 L1289.9 2974.3 L1292.5 2977.4 L1295.1 2980.4 L1297.8 2983.4 L1300.4 2986.4 L1303.1 2989.3 L1305.8 2992.3 L1308.4 2995.3 L1311.1 2998.3 L1313.8 3001.2 L1316.5 3004.2 L1319.2 3007.1 L1321.9 3010.1 L1324.6 3013.0 L1327.3 3016.0 L1330.0 3018.9 L1332.7 3021.9 L1335.4 3024.9 L1338.1 3027.8 L1340.7 3030.8 L1343.4 3033.8 L1346.0 3036.8 L1348.6 3039.8 L1351.3 3042.9 L1353.9 3045.9 L1356.5 3048.9 L1359.1 3051.9 L1361.7 3055.0 L1364.4 3058.0 L1367.0 3061.0 L1369.7 3063.9 L1372.4 3066.9 L1375.1 3069.8 L1377.9 3072.7 L1380.6 3075.6 L1383.5 3078.4 L1386.3 3081.3 L1389.2 3084.0 L1392.0 3086.8 L1395.0 3089.6 L1397.9 3092.3 L1400.8 3095.0 L1403.8 3097.7 L1406.8 3100.4 L1409.7 3103.0 L1412.7 3105.7 L1415.8 3108.3 L1418.8 3110.9 L1421.8 3113.5 L1424.9 3116.0 L1428.1 3118.4 L1431.5 3120.6 L1434.9 3122.6 L1438.3 3124.6 L1441.7 3126.8 L1444.8 3129.2 L1447.9 3131.8 L1450.9 3134.5 L1453.8 3137.1 L1456.8 3139.8 L1459.8 3142.5 L1462.8 3145.1 L1465.8 3147.8 L1468.7 3150.5 L1471.7 3153.1 L1474.8 3155.7 L1477.9 3158.2 L1481.0 3160.7 L1484.2 3163.1 L1487.4 3165.5 L1490.6 3167.9 L1493.9 3170.3 L1497.1 3172.6 L1500.4 3174.9 L1503.6 3177.3 L1506.9 3179.6 L1510.2 3181.8 L1513.5 3184.1 L1516.8 3186.4 L1520.1 3188.6 L1523.4 3190.8 L1526.8 3193.0 L1530.1 3195.2 L1533.5 3197.3 L1536.9 3199.4 L1540.3 3201.5 L1543.7 3203.6 L1547.1 3205.7 L1550.6 3207.7 L1554.1 3209.7 L1557.5 3211.7 L1561.0 3213.6 L1564.5 3215.5 L1568.1 3217.4 L1571.6 3219.3 L1575.1 3221.2 L1578.7 3223.1 L1582.2 3224.9 L1585.7 3226.8 L1589.3 3228.6 L1592.8 3230.5 L1596.4 3232.3 L1600.0 3234.1 L1603.6 3235.9 L1607.1 3237.6 L1610.7 3239.4 L1614.3 3241.1 L1618.0 3242.8 L1621.6 3244.5 L1625.2 3246.2 L1628.9 3247.8 L1632.5 3249.4 L1636.2 3251.0 L1639.9 3252.6 L1643.6 3254.1 L1647.3 3255.6 L1651.0 3257.0 L1654.8 3258.4 L1658.5 3259.8 L1662.3 3261.1 L1666.1 3262.5 L1669.9 3263.8 L1673.6 3265.1 L1677.4 3266.4 L1681.2 3267.8 L1685.0 3269.1 L1688.7 3270.4 L1692.5 3271.7 L1696.3 3273.0 L1700.1 3274.2 L1703.9 3275.5 L1707.7 3276.7 L1711.5 3278.0 L1715.3 3279.2 L1719.1 3280.4 L1723.0 3281.6 L1726.8 3282.7 L1730.6 3283.9 L1734.5 3285.0 L1738.3 3286.0 L1742.2 3287.1 L1746.0 3288.1 L1749.9 3289.1 L1753.8 3290.0 L1757.7 3291.0 L1761.6 3291.8 L1765.5 3292.7 L1769.4 3293.5 L1773.4 3294.2 L1777.3 3294.9 L1781.2 3295.6 L1785.2 3296.2 L1789.1 3296.9 L1793.1 3297.5 L1797.0 3298.1 L1801.0 3298.7 L1805.0 3299.3 L1808.9 3299.9 L1812.9 3300.4 L1816.8 3301.0 L1820.8 3301.6 L1824.8 3302.1 L1828.7 3302.6 L1832.7 3303.2 L1836.7 3303.7 L1840.6 3304.2 L1844.6 3304.7 L1848.6 3305.2 L1852.5 3305.7 L1856.5 3306.2 L1860.5 3306.7 L1864.4 3307.2 L1868.4 3307.6 L1872.4 3308.1 L1876.3 3308.6 L1880.3 3309.0 L1884.3 3309.5 L1888.3 3310.0 L1892.2 3310.4 L1896.2 3310.9 L1900.2 3311.4 L1904.2 3311.8 L1908.1 3312.3 L1912.1 3312.8 L1916.1 3313.2 L1920.0 3313.7 L1924.0 3314.2 L1928.0 3314.6 L1932.0 3315.1 L1936.0 3315.5 L1939.9 3315.9 L1943.9 3316.2 L1947.9 3316.6 L1951.9 3316.9 L1955.9 3317.2 L1959.9 3317.5 L1963.8 3317.9 L1967.8 3318.2 L1971.8 3318.5 L1975.8 3318.8 L1979.8 3319.1 L1983.8 3319.4 L1987.8 3319.7 L1991.8 3320.0 L1995.8 3320.3 L1999.7 3320.6 L2003.7 3320.9 L2007.7 3321.2 L2011.7 3321.5 L2015.7 3321.8 L2019.7 3322.1 L2023.7 3322.4 L2027.7 3322.7 L2031.7 3322.9 L2035.6 3323.2 L2039.6 3323.5 L2043.6 3323.8 L2047.6 3324.0 L2051.6 3324.3 L2055.6 3324.6 L2059.6 3324.8 L2063.6 3325.1 L2067.6 3325.3 L2071.6 3325.5 L2075.6 3325.8 L2079.6 3326.0 L2083.6 3326.2 L2087.5 3326.5 L2091.5 3326.7 L2095.5 3326.9 L2099.5 3327.1 L2103.5 3327.3 L2107.5 3327.5 L2111.5 3327.7 L2115.5 3327.9 L2119.5 3328.1 L2123.5 3328.3 L2127.5 3328.4 L2131.5 3328.6 L2135.5 3328.7 L2139.5 3328.9 L2143.5 3329.0 L2147.5 3329.2 L2151.5 3329.3 L2155.4 3329.4 L2157.0 3329.5" stroke="#663300"/>
<path class="c" d="M318.5 3204.8 L322.3 3203.9 L326.1 3202.8 L329.8 3201.5 L333.6 3200.1 L337.3 3198.7 L341.0 3197.2 L344.7 3195.6 L348.4 3194.0 L352.0 3192.3 L355.6 3190.6 L359.2 3188.9 L362.8 3187.2 L366.4 3185.4 L370.0 3183.6 L373.6 3181.8 L377.1 3180.0 L380.7 3178.2 L384.3 3176.3 L387.8 3174.5 L391.4 3172.8 L395.0 3171.0 L398.6 3169.2 L402.2 3167.5 L405.8 3165.8 L409.5 3164.1 L413.1 3162.4 L416.7 3160.7 L420.3 3159.0 L424.0 3157.4 L427.7 3155.9 L431.4 3154.5 L435.2 3153.3 L439.1 3152.2 L442.9 3151.2 L446.8 3150.2 L450.7 3149.3 L454.6 3148.4 L458.5 3147.6 L462.5 3146.9 L466.4 3146.2 L470.4 3145.7 L474.3 3145.3 L478.3 3144.9 L482.3 3144.6 L486.3 3144.4 L490.3 3144.3 L494.3 3144.1 L498.3 3144.0 L502.3 3144.0 L506.3 3143.9 L510.3 3143.8 L514.3 3143.7 L518.3 3143.5 L522.3 3143.4 L526.3 3143.1 L530.3 3142.9 L534.2 3142.5 L538.2 3142.1 L542.2 3141.6 L546.2 3141.3 L550.2 3141.1 L554.1 3141.3 L558.0 3141.8 L561.9 3142.8 L565.7 3143.9 L569.6 3145.0 L573.4 3145.8 L577.4 3146.2 L581.3 3146.1 L585.3 3145.7 L589.3 3145.2 L593.2 3144.5 L597.2 3144.0 L601.1 3143.8 L605.0 3144.0 L608.8 3144.8 L612.6 3146.1 L616.2 3147.5 L620.0 3148.5 L623.8 3148.6 L627.6 3148.0 L631.4 3146.8 L635.1 3145.3 L638.7 3143.7 L642.4 3142.2 L646.1 3140.7 L649.9 3139.3 L653.7 3138.1 L657.5 3136.8 L661.3 3135.6 L665.1 3134.4 L668.9 3133.2 L672.7 3131.9 L676.5 3130.7 L680.3 3129.3 L684.0 3127.9 L687.7 3126.4 L691.4 3124.8 L695.0 3123.1 L698.5 3121.2 L702.0 3119.3 L705.5 3117.3 L708.8 3115.1 L712.2 3112.9 L715.5 3110.7 L718.7 3108.3 L721.9 3105.9 L725.0 3103.4 L728.0 3100.7 L730.8 3097.9 L733.4 3094.9 L735.9 3091.8 L738.4 3088.6 L740.7 3085.4 L743.0 3082.1 L745.2 3078.7 L747.4 3075.4 L749.6 3072.1 L751.7 3068.7 L753.8 3065.3 L755.8 3061.8 L757.8 3058.3 L759.7 3054.8 L761.6 3051.3 L763.4 3047.7 L765.2 3044.2 L767.0 3040.6 L768.8 3037.0 L770.6 3033.5 L772.4 3029.9 L774.2 3026.3 L775.9 3022.7 L777.6 3019.1 L779.4 3015.5 L781.1 3011.9 L782.8 3008.2 L784.4 3004.6 L786.1 3001.0 L787.7 2997.3 L789.4 2993.7 L791.0 2990.0 L792.6 2986.3 L794.2 2982.7 L795.8 2979.0 L797.4 2975.3 L798.9 2971.6 L800.4 2967.9 L801.9 2964.2 L803.4 2960.5 L804.8 2956.8 L806.2 2953.0 L807.5 2949.2 L808.9 2945.5 L810.2 2941.7 L811.5 2937.9 L812.8 2934.1 L814.1 2930.3 L815.4 2926.6 L816.7 2922.8 L818.0 2919.0 L819.3 2915.2 L820.7 2911.5 L822.0 2907.7 L823.3 2903.9 L824.7 2900.2 L826.0 2896.4 L827.4 2892.6 L828.7 2888.8 L830.0 2885.0 L831.2 2881.3 L832.5 2877.5 L833.7 2873.7 L834.9 2869.8 L836.1 2866.0 L837.3 2862.2 L838.4 2858.4 L839.6 2854.5 L840.7 2850.7 L841.8 2846.8 L842.9 2843.0 L844.0 2839.1 L845.0 2835.3 L846.1 2831.4 L847.1 2827.6 L848.2 2823.7 L849.2 2819.8 L850.1 2815.9 L851.1 2812.1 L852.0 2808.2 L852.8 2804.3 L853.7 2800.4 L854.5 2796.4 L855.2 2792.5 L855.9 2788.6 L856.5 2784.6 L857.1 2780.7 L857.7 2776.7 L858.3 2772.7 L858.9 2768.8 L859.5 2764.8 L860.1 2760.9 L860.7 2756.9 L861.3 2753.0 L862.0 2749.0 L862.8 2745.1 L863.6 2741.2 L864.5 2737.3 L865.5 2733.4 L866.5 2729.5 L867.4 2725.7 L868.4 2721.8 L869.5 2717.9 L870.5 2714.1 L871.5 2710.2 L872.5 2706.3 L873.6 2702.5 L874.6 2698.6 L875.7 2694.7 L876.7 2690.9 L877.8 2687.0 L878.9 2683.2 L880.0 2679.3 L881.1 2675.5 L882.2 2671.6 L883.3 2667.8 L884.4 2664.0 L885.6 2660.1 L886.7 2656.3 L887.9 2652.5 L889.0 2648.6 L890.2 2644.8 L891.4 2641.0 L892.6 2637.2 L893.8 2633.4 L895.0 2629.6 L896.3 2625.8 L897.5 2622.0 L898.8 2618.2 L900.0 2614.4 L901.3 2610.6 L902.6 2606.8 L903.9 2603.0 L905.2 2599.2 L906.5 2595.5 L907.9 2591.7 L909.2 2587.9 L910.6 2584.2 L912.0 2580.4 L913.4 2576.6 L914.8 2572.9 L916.2 2569.2 L917.6 2565.4 L919.0 2561.7 L920.5 2558.0 L922.0 2554.3 L923.5 2550.5 L925.0 2546.8 L926.5 2543.1 L928.0 2539.4 L929.6 2535.7 L931.1 2532.1 L932.7 2528.4 L934.3 2524.7 L935.9 2521.0 L937.5 2517.4 L939.1 2513.7 L940.8 2510.1 L942.5 2506.5 L944.2 2502.9 L946.0 2499.3 L947.8 2495.7 L949.6 2492.2 L951.5 2488.6 L953.3 2485.1 L955.1 2481.5 L956.9 2477.9 L958.7 2474.3 L960.4 2470.7 L962.1 2467.1 L963.8 2463.5 L965.7 2460.0 L967.8 2456.6 L970.3 2453.6 L973.2 2451.0 L976.6 2449.0 L980.2 2447.3 L983.9 2445.8 L987.6 2444.5 L991.4 2443.2 L995.2 2441.9 L999.0 2440.6 L1002.7 2439.2 L1006.5 2438.0 L1010.3 2437.1 L1014.0 2436.9 L1017.6 2437.8 L1020.8 2439.8 L1023.7 2442.4 L1026.0 2445.5 L1028.0 2448.9 L1030.0 2452.2 L1032.4 2455.0 L1035.5 2457.4 L1038.8 2459.4 L1042.1 2461.6 L1045.2 2464.0 L1048.2 2466.7 L1051.1 2469.5 L1053.8 2472.3 L1056.6 2475.3 L1059.2 2478.3 L1061.7 2481.4 L1064.2 2484.6 L1066.5 2487.8 L1068.8 2491.1 L1070.9 2494.4 L1073.1 2497.8 L1075.2 2501.2 L1077.2 2504.7 L1079.2 2508.1 L1081.2 2511.6 L1083.2 2515.1 L1085.1 2518.6 L1086.9 2522.2 L1088.6 2525.8 L1090.3 2529.4 L1092.0 2533.0 L1093.8 2536.6 L1095.6 2540.2 L1097.5 2543.7 L1099.6 2547.0 L1102.1 2550.1 L1104.9 2552.9 L1107.9 2555.5 L1110.8 2558.2 L1113.4 2561.2 L1115.5 2564.5 L1117.3 2568.0 L1118.9 2571.7 L1120.3 2575.4 L1121.6 2579.2 L1123.0 2582.9 L1124.5 2586.7 L1126.1 2590.3 L1128.0 2593.8 L1130.3 2597.1 L1132.8 2600.1 L1135.4 2603.1 L1138.0 2606.1 L1140.5 2609.2 L1142.6 2612.6 L1144.6 2616.1 L1146.3 2619.7 L1148.0 2623.3 L1149.6 2627.0 L1151.1 2630.7 L1152.7 2634.4 L1154.2 2638.0 L1155.8 2641.7 L1157.5 2645.3 L1159.2 2649.0 L1160.9 2652.5 L1162.7 2656.1 L1164.6 2659.7 L1166.4 2663.2 L1168.3 2666.7 L1170.3 2670.2 L1172.2 2673.7 L1174.2 2677.2 L1176.3 2680.6 L1178.4 2684.0 L1180.6 2687.4 L1182.8 2690.7 L1184.9 2694.1 L1187.0 2697.5 L1189.0 2701.0 L1190.9 2704.5 L1192.7 2708.1 L1194.4 2711.7 L1196.1 2715.3 L1197.9 2718.9 L1199.6 2722.5 L1201.4 2726.1 L1203.1 2729.6 L1204.9 2733.2 L1206.7 2736.8 L1208.4 2740.4 L1210.2 2744.0 L1212.0 2747.6 L1213.8 2751.2 L1215.6 2754.7 L1217.4 2758.3 L1219.3 2761.8 L1221.2 2765.3 L1223.1 2768.8 L1225.1 2772.3 L1227.1 2775.8 L1229.1 2779.2 L1231.2 2782.7 L1233.2 2786.1 L1235.3 2789.5 L1237.4 2792.9 L1239.5 2796.3 L1241.7 2799.7 L1243.8 2803.1 L1246.0 2806.4 L1248.1 2809.8 L1250.3 2813.2 L1252.5 2816.5 L1254.7 2819.9 L1256.9 2823.2 L1259.1 2826.6 L1261.2 2829.9 L1263.4 2833.3 L1265.6 2836.6 L1267.8 2840.0 L1269.9 2843.3 L1272.1 2846.7 L1274.2 2850.1 L1276.4 2853.5 L1278.5 2856.8 L1280.7 2860.2 L1282.9 2863.6 L1285.0 2866.9 L1287.2 2870.3 L1289.3 2873.7 L1291.5 2877.0 L1293.7 2880.4 L1295.9 2883.7 L1298.1 2887.0 L1300.3 2890.4 L1302.6 2893.7 L1304.8 2897.0 L1307.1 2900.3 L1309.4 2903.6 L1311.7 2906.8 L1314.0 2910.1 L1316.3 2913.3 L1318.7 2916.6 L1321.1 2919.8 L1323.5 2923.0 L1325.9 2926.2 L1328.3 2929.4 L1330.7 2932.5 L1333.2 2935.7 L1335.6 2938.9 L1338.1 2942.0 L1340.5 2945.2 L1343.0 2948.3 L1345.5 2951.5 L1348.0 2954.6 L1350.5 2957.7 L1352.9 2960.9 L1355.4 2964.0 L1357.9 2967.1 L1360.4 2970.3 L1362.9 2973.4 L1365.3 2976.6 L1367.8 2979.7 L1370.2 2982.9 L1372.7 2986.1 L1375.1 2989.2 L1377.6 2992.4 L1380.0 2995.6 L1382.4 2998.8 L1384.8 3001.9 L1387.3 3005.1 L1389.7 3008.3 L1392.2 3011.5 L1394.6 3014.6 L1397.1 3017.8 L1399.5 3020.9 L1402.0 3024.1 L1404.5 3027.2 L1407.0 3030.3 L1409.5 3033.4 L1412.1 3036.5 L1414.6 3039.6 L1417.2 3042.6 L1419.9 3045.6 L1422.6 3048.5 L1425.4 3051.4 L1428.3 3054.2 L1431.2 3056.9 L1434.0 3059.7 L1436.8 3062.6 L1439.5 3065.5 L1442.0 3068.6 L1444.5 3071.8 L1446.9 3075.0 L1449.3 3078.2 L1451.9 3081.2 L1454.6 3084.1 L1457.6 3086.8 L1460.6 3089.3 L1463.8 3091.8 L1467.0 3094.2 L1470.2 3096.6 L1473.3 3099.1 L1476.4 3101.6 L1479.6 3104.1 L1482.7 3106.6 L1485.8 3109.1 L1488.9 3111.6 L1492.1 3114.0 L1495.3 3116.4 L1498.5 3118.8 L1501.8 3121.1 L1505.0 3123.4 L1508.2 3125.8 L1511.4 3128.3 L1514.4 3130.9 L1517.4 3133.5 L1520.3 3136.3 L1523.2 3139.1 L1526.0 3141.9 L1528.8 3144.8 L1531.5 3147.7 L1534.2 3150.6 L1536.9 3153.6 L1539.7 3156.5 L1542.4 3159.4 L1545.1 3162.4 L1547.9 3165.2 L1550.7 3168.1 L1553.6 3170.9 L1556.5 3173.6 L1559.5 3176.3 L1562.5 3178.9 L1565.7 3181.3 L1568.9 3183.7 L1572.1 3186.1 L1575.4 3188.4 L1578.7 3190.7 L1582.0 3192.9 L1585.3 3195.1 L1588.6 3197.3 L1592.0 3199.5 L1595.4 3201.7 L1598.7 3203.8 L1602.1 3205.9 L1605.6 3208.0 L1609.0 3210.0 L1612.5 3212.0 L1615.9 3214.0 L1619.4 3216.0 L1622.9 3217.9 L1626.4 3219.8 L1630.0 3221.7 L1633.5 3223.6 L1637.0 3225.4 L1640.6 3227.2 L1644.2 3229.0 L1647.8 3230.8 L1651.4 3232.5 L1655.0 3234.2 L1658.6 3235.9 L1662.3 3237.6 L1665.9 3239.2 L1669.5 3240.9 L1673.2 3242.6 L1676.8 3244.3 L1680.4 3246.0 L1684.0 3247.7 L1687.7 3249.4 L1691.3 3251.0 L1694.9 3252.7 L1698.6 3254.4 L1702.2 3256.1 L1705.8 3257.7 L1709.5 3259.4 L1713.1 3261.0 L1716.8 3262.6 L1720.5 3264.2 L1724.2 3265.7 L1727.8 3267.3 L1731.5 3268.8 L1735.3 3270.3 L1739.0 3271.7 L1742.7 3273.1 L1746.5 3274.5 L1750.3 3275.8 L1754.1 3277.1 L1757.9 3278.3 L1761.7 3279.5 L1765.5 3280.6 L1769.4 3281.7 L1773.2 3282.7 L1777.1 3283.6 L1781.0 3284.5 L1784.9 3285.4 L1788.9 3286.2 L1792.8 3287.0 L1796.7 3287.8 L1800.6 3288.6 L1804.5 3289.4 L1808.5 3290.1 L1812.4 3290.8 L1816.3 3291.5 L1820.3 3292.3 L1824.2 3292.9 L1828.2 3293.6 L1832.1 3294.3 L1836.0 3295.0 L1840.0 3295.6 L1843.9 3296.3 L1847.9 3296.9 L1851.8 3297.5 L1855.8 3298.1 L1859.7 3298.8 L1863.7 3299.4 L1867.6 3300.0 L1871.6 3300.6 L1875.6 3301.2 L1879.5 3301.9 L1883.5 3302.5 L1887.4 3303.1 L1891.4 3303.7 L1895.3 3304.3 L1899.3 3305.0 L1903.2 3305.6 L1907.2 3306.3 L1911.1 3306.9 L1915.0 3307.6 L1919.0 3308.3 L1922.9 3308.9 L1926.9 3309.6 L1930.8 3310.2 L1934.8 3310.8 L1938.7 3311.3 L1942.7 3311.8 L1946.7 3312.3 L1950.7 3312.8 L1954.6 3313.2 L1958.6 3313.6 L1962.6 3314.0 L1966.6 3314.4 L1970.6 3314.8 L1974.5 3315.2 L1978.5 3315.6 L1982.5 3316.0 L1986.5 3316.3 L1990.5 3316.7 L1994.4 3317.1 L1998.4 3317.5 L2002.4 3317.8 L2006.4 3318.2 L2010.4 3318.6 L2014.4 3318.9 L2018.3 3319.3 L2022.3 3319.6 L2026.3 3320.0 L2030.3 3320.3 L2034.3 3320.6 L2038.3 3321.0 L2042.3 3321.3 L2046.3 3321.6 L2050.2 3321.9 L2054.2 3322.2 L2058.2 3322.5 L2062.2 3322.8 L2066.2 3323.1 L2070.2 3323.4 L2074.2 3323.7 L2078.2 3323.9 L2082.2 3324.2 L2086.1 3324.4 L2090.1 3324.7 L2094.1 3324.9 L2098.1 3325.1 L2102.1 3325.4 L2106.1 3325.6 L2110.1 3325.8 L2114.1 3326.0 L2118.1 3326.2 L2122.1 3326.4 L2126.1 3326.5 L2130.1 3326.7 L2134.1 3326.9 L2138.1 3327.0 L2142.1 3327.1 L2146.1 3327.3 L2150.1 3327.4 L2154.0 3327.5 L2157.0 3327.6" stroke="#FFFF00"/>
<path class="c" d="M318.5 3210.2 L322.3 3209.4 L326.2 3208.3 L330.0 3207.2 L333.8 3206.0 L337.6 3204.7 L341.3 3203.3 L345.1 3201.9 L348.8 3200.4 L352.5 3198.9 L356.2 3197.4 L359.9 3195.8 L363.5 3194.2 L367.2 3192.5 L370.8 3190.9 L374.5 3189.2 L378.1 3187.6 L381.7 3185.9 L385.3 3184.2 L389.0 3182.5 L392.6 3180.9 L396.3 3179.2 L399.9 3177.6 L403.6 3176.0 L407.2 3174.4 L410.9 3172.8 L414.5 3171.1 L418.2 3169.4 L421.8 3167.8 L425.5 3166.2 L429.2 3164.8 L433.0 3163.6 L436.9 3162.4 L440.7 3161.4 L444.6 3160.5 L448.5 3159.6 L452.4 3158.7 L456.3 3158.0 L460.3 3157.3 L464.2 3156.8 L468.2 3156.3 L472.2 3155.8 L476.2 3155.5 L480.2 3155.1 L484.1 3154.8 L488.1 3154.5 L492.1 3154.3 L496.1 3154.1 L500.1 3154.1 L504.1 3154.1 L508.1 3154.2 L512.1 3154.5 L516.1 3154.9 L520.0 3155.4 L524.0 3156.1 L527.9 3156.7 L531.9 3157.4 L535.8 3158.0 L539.8 3158.6 L543.8 3158.9 L547.7 3159.2 L551.7 3159.5 L555.7 3159.9 L559.6 3160.7 L563.5 3161.5 L567.4 3162.4 L571.3 3163.1 L575.3 3163.7 L579.2 3164.2 L583.2 3164.6 L587.2 3164.9 L591.2 3165.1 L595.2 3165.4 L599.2 3165.5 L603.2 3165.7 L607.2 3165.8 L611.2 3165.8 L615.2 3165.8 L619.2 3165.8 L623.2 3165.7 L627.2 3165.5 L631.2 3165.4 L635.2 3165.2 L639.2 3165.0 L643.2 3164.7 L647.1 3164.3 L651.1 3163.8 L655.0 3163.2 L658.9 3162.3 L662.8 3161.3 L666.6 3160.2 L670.5 3159.0 L674.2 3157.7 L678.0 3156.4 L681.8 3155.1 L685.6 3153.8 L689.3 3152.4 L693.0 3150.8 L696.6 3149.1 L700.1 3147.2 L703.6 3145.2 L707.0 3143.1 L710.3 3140.9 L713.6 3138.6 L716.8 3136.3 L720.0 3133.9 L723.2 3131.4 L726.2 3128.8 L729.1 3126.0 L731.8 3123.1 L734.4 3120.0 L736.8 3116.9 L739.2 3113.7 L741.5 3110.4 L743.7 3107.1 L746.0 3103.8 L748.2 3100.5 L750.4 3097.1 L752.6 3093.8 L754.8 3090.5 L757.0 3087.1 L759.1 3083.7 L761.1 3080.3 L763.1 3076.8 L765.1 3073.3 L767.0 3069.8 L768.9 3066.3 L770.7 3062.7 L772.5 3059.1 L774.3 3055.5 L776.0 3051.9 L777.7 3048.3 L779.3 3044.6 L780.8 3040.9 L782.2 3037.2 L783.6 3033.5 L785.0 3029.7 L786.3 3025.9 L787.6 3022.2 L788.9 3018.4 L790.2 3014.6 L791.5 3010.8 L792.8 3007.0 L794.1 3003.2 L795.5 2999.5 L796.8 2995.7 L798.2 2992.0 L799.7 2988.2 L801.2 2984.5 L802.7 2980.8 L804.3 2977.1 L805.9 2973.5 L807.4 2969.8 L809.0 2966.1 L810.5 2962.4 L812.0 2958.7 L813.4 2955.0 L814.8 2951.2 L816.2 2947.5 L817.5 2943.7 L818.9 2939.9 L820.2 2936.1 L821.5 2932.4 L822.8 2928.6 L824.0 2924.8 L825.3 2921.0 L826.5 2917.2 L827.8 2913.4 L829.0 2909.5 L830.1 2905.7 L831.3 2901.9 L832.5 2898.1 L833.6 2894.2 L834.7 2890.4 L835.8 2886.6 L836.9 2882.7 L838.0 2878.9 L839.1 2875.0 L840.1 2871.1 L841.1 2867.3 L842.1 2863.4 L843.1 2859.5 L844.1 2855.6 L845.0 2851.7 L845.9 2847.9 L846.8 2844.0 L847.7 2840.1 L848.6 2836.2 L849.5 2832.3 L850.3 2828.3 L851.1 2824.4 L851.9 2820.5 L852.7 2816.6 L853.5 2812.7 L854.3 2808.7 L855.0 2804.8 L855.8 2800.9 L856.5 2796.9 L857.2 2793.0 L858.0 2789.1 L858.7 2785.1 L859.3 2781.2 L860.0 2777.3 L860.6 2773.3 L861.3 2769.4 L861.9 2765.4 L862.5 2761.5 L863.1 2757.5 L863.7 2753.6 L864.4 2749.6 L865.0 2745.7 L865.7 2741.7 L866.4 2737.8 L867.1 2733.8 L867.9 2729.9 L868.6 2726.0 L869.4 2722.1 L870.2 2718.1 L871.0 2714.2 L871.8 2710.3 L872.6 2706.4 L873.4 2702.5 L874.1 2698.5 L874.9 2694.6 L875.7 2690.7 L876.5 2686.8 L877.3 2682.8 L878.1 2678.9 L878.9 2675.0 L879.7 2671.1 L880.5 2667.2 L881.3 2663.2 L882.1 2659.3 L882.9 2655.4 L883.7 2651.5 L884.5 2647.6 L885.3 2643.7 L886.1 2639.7 L886.9 2635.8 L887.7 2631.9 L888.5 2628.0 L889.3 2624.1 L890.2 2620.2 L891.0 2616.2 L891.8 2612.3 L892.6 2608.4 L893.5 2604.5 L894.3 2600.6 L895.1 2596.7 L896.0 2592.8 L896.8 2588.9 L897.7 2584.9 L898.5 2581.0 L899.4 2577.1 L900.3 2573.2 L901.1 2569.3 L902.0 2565.4 L902.9 2561.5 L903.8 2557.6 L904.7 2553.7 L905.6 2549.8 L906.5 2545.9 L907.4 2542.0 L908.4 2538.1 L909.3 2534.3 L910.2 2530.4 L911.2 2526.5 L912.1 2522.6 L913.1 2518.7 L914.1 2514.8 L915.1 2511.0 L916.1 2507.1 L917.1 2503.2 L918.2 2499.4 L919.2 2495.5 L920.3 2491.7 L921.4 2487.8 L922.5 2484.0 L923.6 2480.1 L924.7 2476.3 L925.9 2472.5 L927.1 2468.6 L928.3 2464.8 L929.5 2461.0 L930.8 2457.2 L932.1 2453.5 L933.5 2449.7 L934.9 2446.0 L936.3 2442.2 L937.8 2438.5 L939.4 2434.8 L941.0 2431.2 L942.8 2427.6 L944.5 2424.0 L946.4 2420.5 L948.3 2417.0 L950.3 2413.5 L952.4 2410.1 L954.4 2406.6 L956.5 2403.2 L958.5 2399.8 L960.6 2396.3 L962.6 2392.8 L964.5 2389.3 L966.4 2385.8 L968.3 2382.3 L970.2 2378.8 L972.1 2375.3 L974.0 2371.8 L976.0 2368.3 L978.1 2364.9 L980.3 2361.5 L982.6 2358.2 L984.9 2355.0 L987.3 2351.9 L989.9 2348.8 L992.5 2345.8 L995.3 2342.9 L998.0 2340.0 L1000.9 2337.2 L1003.9 2334.7 L1007.1 2332.8 L1010.6 2332.0 L1014.2 2332.5 L1017.8 2334.0 L1021.2 2336.0 L1024.5 2338.2 L1027.8 2340.4 L1031.2 2342.5 L1034.8 2344.4 L1038.3 2346.2 L1041.6 2348.3 L1044.6 2350.9 L1047.2 2353.8 L1049.6 2357.0 L1051.9 2360.3 L1054.4 2363.4 L1057.1 2366.3 L1060.0 2369.0 L1063.0 2371.6 L1066.1 2374.2 L1069.0 2376.9 L1071.8 2379.8 L1074.4 2382.8 L1076.9 2385.9 L1079.3 2389.1 L1081.7 2392.3 L1084.0 2395.6 L1086.3 2398.8 L1088.5 2402.1 L1090.8 2405.4 L1093.0 2408.8 L1095.2 2412.1 L1097.3 2415.5 L1099.5 2418.8 L1101.7 2422.2 L1104.0 2425.5 L1106.3 2428.7 L1108.5 2432.0 L1110.7 2435.4 L1112.6 2438.9 L1114.2 2442.5 L1115.5 2446.3 L1116.6 2450.1 L1117.6 2454.0 L1118.8 2457.7 L1120.5 2461.3 L1122.7 2464.5 L1125.3 2467.4 L1127.8 2470.4 L1129.9 2473.7 L1131.5 2477.3 L1132.9 2481.1 L1134.1 2484.9 L1135.3 2488.7 L1136.5 2492.5 L1137.8 2496.3 L1139.3 2500.0 L1141.0 2503.6 L1142.8 2507.2 L1144.7 2510.7 L1146.7 2514.1 L1148.8 2517.5 L1150.9 2521.0 L1152.9 2524.4 L1154.9 2527.9 L1156.8 2531.4 L1158.6 2535.0 L1160.2 2538.6 L1161.8 2542.3 L1163.3 2546.0 L1164.7 2549.7 L1166.2 2553.5 L1167.7 2557.2 L1169.2 2560.9 L1170.8 2564.5 L1172.5 2568.2 L1174.3 2571.7 L1176.3 2575.2 L1178.4 2578.6 L1180.5 2582.0 L1182.6 2585.4 L1184.5 2588.9 L1186.3 2592.4 L1188.1 2596.0 L1189.8 2599.7 L1191.4 2603.3 L1193.1 2606.9 L1194.7 2610.6 L1196.4 2614.2 L1198.2 2617.8 L1200.0 2621.4 L1201.8 2624.9 L1203.7 2628.4 L1205.6 2632.0 L1207.5 2635.5 L1209.4 2639.0 L1211.3 2642.5 L1213.2 2646.1 L1214.9 2649.6 L1216.7 2653.3 L1218.3 2656.9 L1220.0 2660.5 L1221.6 2664.2 L1223.2 2667.8 L1225.0 2671.5 L1226.8 2675.0 L1228.7 2678.5 L1230.7 2682.0 L1232.9 2685.3 L1235.2 2688.6 L1237.5 2691.9 L1239.8 2695.1 L1242.0 2698.5 L1244.1 2701.8 L1246.2 2705.3 L1248.2 2708.7 L1250.1 2712.3 L1251.9 2715.8 L1253.6 2719.4 L1255.2 2723.1 L1256.8 2726.8 L1258.2 2730.5 L1259.6 2734.2 L1261.0 2738.0 L1262.3 2741.8 L1263.6 2745.6 L1265.0 2749.3 L1266.3 2753.1 L1267.7 2756.8 L1269.2 2760.6 L1270.7 2764.2 L1272.4 2767.9 L1274.1 2771.5 L1276.0 2775.0 L1277.9 2778.5 L1279.9 2782.0 L1281.8 2785.5 L1283.9 2788.9 L1285.9 2792.4 L1288.0 2795.8 L1290.2 2799.1 L1292.3 2802.5 L1294.5 2805.9 L1296.7 2809.2 L1299.0 2812.5 L1301.2 2815.8 L1303.4 2819.1 L1305.7 2822.4 L1307.9 2825.8 L1310.2 2829.1 L1312.4 2832.4 L1314.6 2835.7 L1316.8 2839.1 L1319.0 2842.4 L1321.1 2845.8 L1323.3 2849.2 L1325.5 2852.5 L1327.6 2855.9 L1329.8 2859.2 L1332.0 2862.6 L1334.2 2866.0 L1336.3 2869.3 L1338.5 2872.7 L1340.7 2876.0 L1342.9 2879.4 L1345.1 2882.7 L1347.3 2886.0 L1349.5 2889.4 L1351.7 2892.7 L1354.0 2896.0 L1356.2 2899.3 L1358.4 2902.7 L1360.7 2906.0 L1363.0 2909.2 L1365.3 2912.5 L1367.7 2915.7 L1370.2 2918.8 L1372.7 2922.0 L1375.2 2925.0 L1377.8 2928.1 L1380.5 2931.1 L1383.1 2934.1 L1385.8 2937.1 L1388.4 2940.0 L1391.1 2943.1 L1393.7 2946.1 L1396.2 2949.2 L1398.8 2952.3 L1401.2 2955.4 L1403.6 2958.6 L1405.9 2961.9 L1408.2 2965.2 L1410.3 2968.6 L1412.4 2972.0 L1414.3 2975.5 L1416.0 2979.1 L1417.5 2982.8 L1418.9 2986.5 L1420.5 2990.1 L1422.5 2993.5 L1424.9 2996.7 L1427.5 2999.7 L1430.2 3002.6 L1433.0 3005.4 L1435.8 3008.3 L1438.4 3011.3 L1441.0 3014.4 L1443.4 3017.6 L1445.8 3020.8 L1448.1 3024.0 L1450.5 3027.3 L1452.8 3030.5 L1455.3 3033.7 L1457.8 3036.8 L1460.4 3039.8 L1463.1 3042.8 L1465.8 3045.7 L1468.7 3048.5 L1471.5 3051.3 L1474.4 3054.1 L1477.3 3056.9 L1480.1 3059.7 L1482.9 3062.5 L1485.8 3065.3 L1488.6 3068.1 L1491.4 3071.0 L1494.3 3073.8 L1497.1 3076.6 L1499.2 3078.7 L1502.0 3081.6 L1504.9 3084.4 L1507.7 3087.2 L1510.5 3090.1 L1513.4 3092.9 L1516.2 3095.7 L1519.0 3098.5 L1521.9 3101.3 L1524.7 3104.1 L1527.6 3106.9 L1530.5 3109.7 L1533.3 3112.6 L1536.0 3115.4 L1538.7 3118.4 L1541.2 3121.5 L1543.7 3124.7 L1546.1 3127.9 L1548.5 3131.1 L1551.0 3134.1 L1553.7 3137.1 L1556.6 3139.9 L1559.4 3142.7 L1562.3 3145.4 L1565.3 3148.2 L1568.2 3150.9 L1571.1 3153.6 L1574.1 3156.3 L1577.1 3158.9 L1580.1 3161.6 L1583.1 3164.2 L1586.1 3166.8 L1589.2 3169.4 L1592.3 3172.0 L1595.3 3174.5 L1598.4 3177.0 L1601.6 3179.5 L1604.7 3182.0 L1607.9 3184.5 L1611.0 3186.9 L1614.2 3189.3 L1617.5 3191.7 L1620.7 3194.0 L1624.0 3196.3 L1627.2 3198.6 L1630.5 3200.9 L1633.9 3203.1 L1637.2 3205.3 L1640.6 3207.5 L1643.9 3209.6 L1647.4 3211.7 L1650.8 3213.7 L1654.2 3215.8 L1657.7 3217.7 L1661.2 3219.7 L1664.7 3221.6 L1668.2 3223.6 L1671.7 3225.5 L1675.2 3227.5 L1678.7 3229.4 L1682.2 3231.3 L1685.7 3233.2 L1689.2 3235.2 L1692.7 3237.1 L1696.3 3239.0 L1699.8 3240.9 L1703.3 3242.7 L1706.9 3244.6 L1710.4 3246.4 L1714.0 3248.2 L1717.5 3250.0 L1721.1 3251.8 L1724.7 3253.6 L1728.3 3255.3 L1732.0 3257.0 L1735.6 3258.6 L1739.3 3260.3 L1742.9 3261.9 L1746.6 3263.4 L1750.3 3264.9 L1754.1 3266.4 L1757.8 3267.8 L1761.6 3269.1 L1765.3 3270.4 L1769.1 3271.7 L1773.0 3272.8 L1776.8 3273.9 L1780.7 3275.0 L1784.5 3276.0 L1788.4 3277.1 L1792.3 3278.1 L1796.1 3279.0 L1800.0 3280.0 L1803.9 3281.0 L1807.8 3281.9 L1811.7 3282.9 L1815.6 3283.8 L1819.5 3284.7 L1823.4 3285.6 L1827.3 3286.5 L1831.2 3287.3 L1835.1 3288.2 L1839.0 3289.0 L1842.9 3289.9 L1846.8 3290.7 L1850.7 3291.5 L1854.7 3292.3 L1858.6 3293.0 L1862.5 3293.8 L1866.4 3294.5 L1870.4 3295.3 L1874.3 3296.0 L1878.3 3296.7 L1882.2 3297.4 L1886.1 3298.0 L1890.1 3298.7 L1894.0 3299.3 L1898.0 3300.0 L1901.9 3300.6 L1905.9 3301.2 L1909.8 3301.8 L1913.8 3302.4 L1917.7 3303.0 L1921.7 3303.6 L1925.7 3304.2 L1929.6 3304.7 L1933.6 3305.3 L1937.6 3305.8 L1941.5 3306.3 L1945.5 3306.8 L1949.5 3307.2 L1953.4 3307.7 L1957.4 3308.1 L1961.4 3308.5 L1965.4 3308.9 L1969.4 3309.4 L1973.3 3309.8 L1977.3 3310.2 L1981.3 3310.6 L1985.3 3311.1 L1989.2 3311.5 L1993.2 3311.9 L1997.2 3312.3 L2001.2 3312.7 L2005.2 3313.1 L2009.1 3313.6 L2013.1 3314.0 L2017.1 3314.4 L2021.1 3314.8 L2025.0 3315.2 L2029.0 3315.6 L2033.0 3316.0 L2037.0 3316.4 L2041.0 3316.8 L2044.9 3317.2 L2048.9 3317.6 L2052.9 3318.0 L2056.9 3318.3 L2060.9 3318.7 L2064.9 3319.1 L2068.8 3319.5 L2072.8 3319.8 L2076.8 3320.2 L2080.8 3320.5 L2084.8 3320.9 L2088.8 3321.2 L2092.7 3321.6 L2096.7 3321.9 L2100.7 3322.2 L2104.7 3322.6 L2108.7 3322.9 L2112.7 3323.2 L2116.7 3323.5 L2120.7 3323.8 L2124.6 3324.1 L2128.6 3324.4 L2132.6 3324.6 L2136.6 3324.9 L2140.6 3325.2 L2144.6 3325.4 L2148.6 3325.7 L2152.6 3325.9 L2156.4 3326.1 L2157.0 3326.2" stroke="#00FF00"/>
<path class="c" d="M318.5 3219.4 L322.3 3218.6 L326.1 3217.5 L330.0 3216.3 L333.7 3215.0 L337.5 3213.6 L341.2 3212.1 L344.8 3210.5 L348.5 3208.9 L352.1 3207.2 L355.8 3205.5 L359.4 3203.8 L363.0 3202.1 L366.6 3200.3 L370.2 3198.6 L373.8 3196.8 L377.4 3195.1 L381.0 3193.4 L384.7 3191.8 L388.3 3190.2 L392.0 3188.7 L395.7 3187.2 L399.5 3185.9 L403.3 3184.6 L407.1 3183.5 L411.0 3182.4 L414.9 3181.5 L418.8 3180.7 L422.7 3179.9 L426.6 3179.1 L430.6 3178.3 L434.5 3177.5 L438.4 3176.7 L442.3 3175.9 L446.2 3175.0 L450.1 3174.2 L454.0 3173.4 L458.0 3172.6 L461.9 3171.8 L465.8 3171.1 L469.8 3170.5 L473.7 3169.9 L477.7 3169.4 L481.7 3168.9 L485.7 3168.7 L489.6 3168.6 L493.6 3168.7 L497.6 3169.1 L501.5 3169.7 L505.4 3170.6 L509.3 3171.7 L513.1 3172.8 L516.9 3174.0 L520.8 3175.0 L524.7 3175.9 L528.6 3176.6 L532.6 3177.0 L536.6 3177.3 L540.6 3177.5 L544.5 3177.7 L548.5 3178.0 L552.5 3178.4 L556.5 3179.0 L560.4 3179.8 L564.3 3180.6 L568.2 3181.6 L572.0 3182.6 L575.9 3183.7 L579.7 3184.8 L583.6 3185.8 L587.5 3186.8 L591.3 3187.8 L595.2 3188.7 L599.1 3189.6 L603.0 3190.5 L607.0 3191.3 L610.9 3192.1 L614.8 3192.8 L618.8 3193.4 L622.7 3193.9 L626.7 3194.2 L630.7 3194.3 L634.7 3194.3 L638.7 3194.1 L642.7 3193.8 L646.7 3193.5 L650.6 3193.0 L654.6 3192.3 L658.5 3191.4 L662.3 3190.5 L666.2 3189.4 L670.0 3188.2 L673.8 3187.0 L677.6 3185.7 L681.4 3184.4 L685.2 3183.1 L688.9 3181.6 L692.6 3180.0 L696.2 3178.3 L699.7 3176.5 L703.2 3174.5 L706.6 3172.4 L709.9 3170.2 L713.2 3168.0 L716.5 3165.6 L719.7 3163.2 L722.8 3160.8 L725.9 3158.2 L728.8 3155.5 L731.6 3152.7 L734.3 3149.7 L736.8 3146.6 L739.3 3143.5 L741.7 3140.3 L744.2 3137.1 L746.6 3133.9 L749.0 3130.7 L751.4 3127.5 L753.8 3124.3 L756.2 3121.2 L758.7 3118.0 L761.0 3114.8 L763.4 3111.5 L765.6 3108.2 L767.9 3104.9 L770.0 3101.5 L772.1 3098.1 L774.1 3094.6 L776.0 3091.1 L777.8 3087.6 L779.5 3084.0 L781.1 3080.3 L782.6 3076.6 L784.0 3072.8 L785.4 3069.1 L786.7 3065.3 L788.0 3061.5 L789.3 3057.7 L790.6 3053.9 L791.8 3050.2 L793.1 3046.4 L794.4 3042.6 L795.7 3038.8 L797.0 3035.0 L798.4 3031.3 L799.8 3027.5 L801.3 3023.8 L802.8 3020.1 L804.3 3016.4 L805.9 3012.7 L807.4 3009.0 L808.9 3005.3 L810.4 3001.6 L811.9 2997.9 L813.3 2994.1 L814.6 2990.4 L815.9 2986.6 L817.2 2982.8 L818.4 2979.0 L819.6 2975.2 L820.8 2971.3 L821.9 2967.5 L823.0 2963.7 L824.1 2959.8 L825.2 2956.0 L826.3 2952.1 L827.4 2948.3 L828.4 2944.4 L829.5 2940.6 L830.5 2936.7 L831.6 2932.8 L832.6 2929.0 L833.6 2925.1 L834.7 2921.2 L835.7 2917.4 L836.7 2913.5 L837.7 2909.6 L838.8 2905.8 L839.8 2901.9 L840.8 2898.0 L841.8 2894.2 L842.8 2890.3 L843.7 2886.4 L844.7 2882.5 L845.6 2878.6 L846.5 2874.7 L847.4 2870.8 L848.2 2866.9 L849.1 2863.0 L849.9 2859.1 L850.6 2855.2 L851.4 2851.2 L852.0 2847.3 L852.7 2843.3 L853.3 2839.4 L854.0 2835.4 L854.7 2831.5 L855.4 2827.6 L856.3 2823.7 L857.2 2819.8 L858.2 2815.9 L859.2 2812.0 L860.0 2808.1 L860.8 2804.2 L861.5 2800.3 L862.2 2796.3 L862.9 2792.4 L863.5 2788.4 L864.1 2784.5 L864.7 2780.5 L865.3 2776.6 L866.0 2772.6 L866.6 2768.7 L867.2 2764.7 L867.9 2760.8 L868.6 2756.8 L869.4 2752.9 L870.2 2749.0 L871.0 2745.1 L871.9 2741.2 L872.8 2737.3 L873.7 2733.4 L874.5 2729.5 L875.3 2725.6 L876.0 2721.6 L876.6 2717.7 L877.2 2713.7 L877.7 2709.7 L878.0 2705.8 L878.3 2701.8 L878.6 2697.8 L878.8 2693.8 L879.0 2689.8 L879.2 2685.8 L879.6 2681.8 L880.0 2677.8 L880.5 2673.9 L881.0 2669.9 L881.6 2666.0 L882.2 2662.0 L882.8 2658.1 L883.4 2654.1 L884.1 2650.2 L884.7 2646.2 L885.3 2642.3 L886.0 2638.3 L886.6 2634.4 L887.3 2630.4 L888.0 2626.5 L888.7 2622.5 L889.4 2618.6 L890.1 2614.7 L890.8 2610.7 L891.5 2606.8 L892.3 2602.9 L893.1 2598.9 L893.8 2595.0 L894.6 2591.1 L895.4 2587.2 L896.2 2583.2 L897.0 2579.3 L897.8 2575.4 L898.7 2571.5 L899.5 2567.6 L900.4 2563.7 L901.2 2559.8 L902.1 2555.9 L903.0 2552.0 L903.8 2548.1 L904.7 2544.2 L905.6 2540.3 L906.5 2536.4 L907.4 2532.5 L908.3 2528.6 L909.2 2524.7 L910.1 2520.8 L911.0 2516.9 L911.9 2513.0 L912.8 2509.1 L913.7 2505.2 L914.6 2501.3 L915.5 2497.4 L916.4 2493.5 L917.2 2489.6 L918.1 2485.7 L919.0 2481.8 L919.8 2477.9 L920.6 2474.0 L921.5 2470.0 L922.3 2466.1 L923.1 2462.2 L923.9 2458.3 L924.6 2454.4 L925.4 2450.4 L926.2 2446.5 L927.0 2442.6 L927.7 2438.7 L928.5 2434.7 L929.3 2430.8 L930.0 2426.9 L930.8 2423.0 L931.6 2419.0 L932.4 2415.1 L933.2 2411.2 L934.0 2407.3 L934.8 2403.4 L935.6 2399.4 L936.5 2395.5 L937.3 2391.6 L938.2 2387.7 L939.0 2383.8 L939.9 2379.9 L940.8 2376.0 L941.7 2372.1 L942.6 2368.2 L943.5 2364.3 L944.5 2360.4 L945.5 2356.6 L946.6 2352.7 L947.8 2348.9 L949.1 2345.1 L950.4 2341.4 L951.9 2337.7 L953.5 2334.0 L955.1 2330.3 L956.6 2326.6 L958.1 2322.9 L959.5 2319.2 L960.8 2315.4 L961.9 2311.5 L963.1 2307.7 L964.2 2303.9 L965.3 2300.0 L966.5 2296.2 L967.8 2292.4 L969.2 2288.7 L970.7 2285.0 L972.5 2281.4 L974.3 2277.9 L976.4 2274.4 L978.5 2271.0 L980.6 2267.7 L982.9 2264.4 L985.2 2261.1 L987.5 2257.8 L989.8 2254.6 L992.1 2251.3 L994.3 2247.9 L996.4 2244.5 L998.4 2241.1 L1000.5 2237.7 L1002.6 2234.3 L1004.9 2231.0 L1007.4 2227.9 L1010.1 2225.0 L1013.1 2222.4 L1016.3 2220.3 L1019.8 2219.0 L1023.5 2218.7 L1027.2 2219.5 L1030.9 2220.9 L1034.4 2222.7 L1037.9 2224.6 L1041.4 2226.6 L1044.8 2228.6 L1048.3 2230.6 L1051.7 2232.7 L1055.0 2234.9 L1058.2 2237.3 L1061.2 2240.0 L1063.9 2242.9 L1066.5 2245.9 L1069.0 2249.1 L1071.4 2252.2 L1073.8 2255.4 L1076.2 2258.6 L1078.7 2261.7 L1081.2 2264.9 L1083.6 2268.1 L1085.9 2271.3 L1088.0 2274.7 L1090.0 2278.2 L1091.6 2281.8 L1093.2 2285.5 L1094.6 2289.2 L1096.0 2293.0 L1097.4 2296.7 L1098.9 2300.4 L1100.4 2304.1 L1102.2 2307.6 L1104.4 2311.0 L1106.8 2314.0 L1109.5 2317.0 L1112.0 2320.0 L1114.2 2323.3 L1116.1 2326.8 L1117.7 2330.5 L1119.1 2334.2 L1120.4 2338.0 L1121.8 2341.7 L1123.1 2345.5 L1124.5 2349.3 L1126.0 2353.0 L1127.6 2356.6 L1129.5 2360.1 L1131.5 2363.5 L1133.8 2366.8 L1136.2 2370.0 L1138.6 2373.2 L1140.8 2376.5 L1143.0 2379.9 L1145.0 2383.3 L1147.0 2386.8 L1148.9 2390.3 L1150.8 2393.8 L1152.6 2397.4 L1154.5 2400.9 L1156.3 2404.5 L1158.0 2408.1 L1159.8 2411.7 L1161.5 2415.3 L1163.2 2419.0 L1164.8 2422.6 L1166.4 2426.3 L1168.0 2429.9 L1169.6 2433.6 L1171.2 2437.3 L1172.7 2441.0 L1174.2 2444.7 L1175.7 2448.4 L1177.2 2452.1 L1178.7 2455.8 L1180.2 2459.5 L1181.7 2463.2 L1183.2 2466.9 L1184.8 2470.6 L1186.4 2474.3 L1188.0 2477.9 L1189.7 2481.6 L1191.4 2485.2 L1193.1 2488.8 L1194.9 2492.4 L1196.7 2495.9 L1198.5 2499.5 L1200.4 2503.0 L1202.3 2506.5 L1204.3 2510.0 L1206.3 2513.5 L1208.3 2517.0 L1210.3 2520.4 L1212.2 2523.9 L1214.2 2527.4 L1216.1 2530.9 L1217.9 2534.5 L1219.7 2538.1 L1221.4 2541.7 L1223.1 2545.3 L1224.8 2548.9 L1226.4 2552.6 L1228.0 2556.2 L1229.6 2559.9 L1231.1 2563.6 L1232.7 2567.3 L1234.2 2571.0 L1235.6 2574.7 L1237.0 2578.5 L1238.4 2582.2 L1239.7 2586.0 L1241.0 2589.8 L1242.4 2593.6 L1243.7 2597.3 L1245.1 2601.1 L1246.6 2604.8 L1248.1 2608.5 L1249.7 2612.2 L1251.4 2615.8 L1253.1 2619.4 L1254.8 2623.0 L1256.6 2626.6 L1258.4 2630.1 L1260.3 2633.7 L1262.1 2637.2 L1264.0 2640.8 L1265.9 2644.3 L1267.7 2647.9 L1269.6 2651.4 L1271.5 2654.9 L1273.5 2658.4 L1275.5 2661.9 L1277.4 2665.4 L1279.3 2668.9 L1281.1 2672.5 L1282.7 2676.1 L1284.2 2679.8 L1285.6 2683.5 L1286.8 2687.4 L1287.9 2691.2 L1289.2 2694.9 L1290.8 2698.5 L1292.8 2701.9 L1295.1 2705.0 L1297.4 2708.3 L1299.2 2711.7 L1300.9 2715.4 L1302.3 2719.1 L1303.7 2722.8 L1305.1 2726.6 L1306.3 2730.4 L1307.6 2734.2 L1308.9 2738.0 L1310.1 2741.8 L1311.4 2745.6 L1312.7 2749.3 L1314.0 2753.1 L1315.4 2756.9 L1316.8 2760.6 L1318.4 2764.3 L1320.0 2767.9 L1321.8 2771.5 L1323.6 2775.1 L1325.6 2778.6 L1327.5 2782.0 L1329.5 2785.5 L1331.6 2788.9 L1333.7 2792.3 L1335.8 2795.7 L1338.0 2799.1 L1340.2 2802.4 L1342.4 2805.8 L1344.6 2809.1 L1346.9 2812.4 L1349.1 2815.7 L1351.4 2819.0 L1353.6 2822.3 L1355.8 2825.7 L1358.0 2829.0 L1360.2 2832.4 L1362.3 2835.8 L1364.4 2839.2 L1366.5 2842.6 L1368.6 2846.0 L1370.6 2849.4 L1372.7 2852.8 L1374.7 2856.3 L1376.8 2859.7 L1378.8 2863.2 L1380.9 2866.6 L1382.9 2870.0 L1384.9 2873.5 L1387.0 2876.9 L1389.0 2880.4 L1391.1 2883.8 L1393.1 2887.2 L1395.2 2890.7 L1397.2 2894.1 L1399.3 2897.5 L1401.4 2900.9 L1403.5 2904.3 L1405.6 2907.7 L1407.8 2911.1 L1409.9 2914.5 L1412.1 2917.8 L1414.4 2921.1 L1416.6 2924.4 L1418.8 2927.8 L1421.0 2931.1 L1423.2 2934.5 L1425.3 2937.9 L1427.3 2941.3 L1429.2 2944.8 L1431.0 2948.4 L1432.8 2952.0 L1434.5 2955.6 L1436.3 2959.2 L1438.1 2962.8 L1439.9 2966.3 L1441.8 2969.8 L1443.9 2973.3 L1446.1 2976.6 L1448.5 2979.8 L1451.0 2982.8 L1453.7 2985.8 L1456.4 2988.7 L1459.2 2991.6 L1461.9 2994.6 L1464.5 2997.6 L1467.1 3000.6 L1469.6 3003.8 L1472.0 3007.0 L1474.4 3010.1 L1476.8 3013.4 L1479.2 3016.6 L1481.5 3019.8 L1483.9 3023.0 L1486.3 3026.2 L1488.7 3029.4 L1491.0 3032.7 L1493.4 3035.9 L1495.7 3039.2 L1498.1 3042.4 L1500.5 3045.6 L1503.0 3048.7 L1505.5 3051.8 L1508.2 3054.8 L1510.9 3057.7 L1513.7 3060.5 L1516.6 3063.3 L1519.5 3066.1 L1522.3 3068.9 L1525.2 3071.7 L1528.0 3074.5 L1530.9 3077.3 L1533.7 3080.2 L1536.5 3083.0 L1539.4 3085.8 L1542.2 3088.6 L1545.0 3091.5 L1547.8 3094.3 L1550.6 3097.2 L1553.4 3100.1 L1556.2 3102.9 L1559.0 3105.7 L1561.9 3108.5 L1564.8 3111.2 L1567.9 3113.8 L1571.0 3116.3 L1574.2 3118.7 L1577.5 3121.0 L1580.8 3123.3 L1584.0 3125.6 L1587.2 3128.0 L1590.3 3130.5 L1593.3 3133.2 L1596.2 3135.9 L1599.0 3138.7 L1601.8 3141.6 L1604.5 3144.6 L1607.1 3147.6 L1609.8 3150.6 L1612.4 3153.7 L1614.9 3156.7 L1617.5 3159.8 L1620.0 3162.9 L1622.5 3166.0 L1625.1 3169.1 L1627.6 3172.2 L1630.2 3175.2 L1632.8 3178.3 L1635.4 3181.3 L1638.0 3184.3 L1640.7 3187.3 L1643.5 3190.2 L1646.3 3193.0 L1649.2 3195.8 L1652.1 3198.5 L1655.2 3201.0 L1658.4 3203.5 L1661.6 3205.8 L1664.9 3208.0 L1668.3 3210.2 L1671.7 3212.3 L1675.1 3214.4 L1678.5 3216.5 L1681.9 3218.6 L1685.3 3220.6 L1688.8 3222.6 L1692.3 3224.6 L1695.8 3226.6 L1699.3 3228.5 L1702.8 3230.3 L1706.4 3232.2 L1709.9 3234.0 L1713.5 3235.8 L1717.1 3237.6 L1720.7 3239.3 L1724.3 3241.0 L1728.0 3242.6 L1731.6 3244.3 L1735.3 3245.8 L1739.0 3247.4 L1742.7 3248.9 L1746.4 3250.4 L1750.1 3251.9 L1753.9 3253.3 L1757.6 3254.7 L1761.4 3256.0 L1765.2 3257.4 L1768.9 3258.6 L1772.7 3259.9 L1776.6 3261.1 L1780.4 3262.3 L1784.2 3263.5 L1788.0 3264.7 L1791.8 3265.8 L1795.7 3267.0 L1799.5 3268.2 L1803.3 3269.3 L1807.2 3270.5 L1811.0 3271.6 L1814.8 3272.8 L1818.7 3273.9 L1822.5 3275.0 L1826.3 3276.1 L1830.2 3277.2 L1834.0 3278.3 L1837.9 3279.4 L1841.7 3280.5 L1845.6 3281.5 L1849.5 3282.5 L1853.3 3283.6 L1857.2 3284.5 L1861.1 3285.5 L1865.0 3286.5 L1868.9 3287.4 L1872.8 3288.3 L1876.7 3289.2 L1880.6 3290.1 L1884.5 3290.9 L1888.4 3291.7 L1892.3 3292.5 L1896.2 3293.3 L1900.2 3294.0 L1904.1 3294.7 L1908.0 3295.5 L1912.0 3296.2 L1915.9 3296.8 L1919.9 3297.5 L1923.8 3298.2 L1927.8 3298.8 L1931.7 3299.4 L1935.7 3300.0 L1939.6 3300.5 L1943.6 3301.1 L1947.6 3301.6 L1951.5 3302.0 L1955.5 3302.5 L1959.5 3303.0 L1963.5 3303.4 L1967.4 3303.9 L1971.4 3304.3 L1975.4 3304.8 L1979.3 3305.3 L1983.3 3305.7 L1987.3 3306.2 L1991.3 3306.6 L1995.2 3307.1 L1999.2 3307.6 L2003.2 3308.0 L2007.2 3308.5 L2011.1 3308.9 L2015.1 3309.4 L2019.1 3309.8 L2023.1 3310.3 L2027.0 3310.7 L2031.0 3311.1 L2035.0 3311.6 L2039.0 3312.0 L2042.9 3312.4 L2046.9 3312.9 L2050.9 3313.3 L2054.9 3313.7 L2058.9 3314.1 L2062.8 3314.5 L2066.8 3314.9 L2070.8 3315.3 L2074.8 3315.7 L2078.8 3316.1 L2082.7 3316.5 L2086.7 3316.8 L2090.7 3317.2 L2094.7 3317.6 L2098.7 3317.9 L2102.7 3318.3 L2106.6 3318.6 L2110.6 3318.9 L2114.6 3319.3 L2118.6 3319.6 L2122.6 3319.9 L2126.6 3320.2 L2130.6 3320.4 L2134.6 3320.7 L2138.6 3321.0 L2142.5 3321.2 L2146.5 3321.5 L2150.5 3321.7 L2154.5 3321.9 L2157.0 3322.1" stroke="#FF0066"/>
<path class="c" d="M318.5 3244.8 L322.5 3244.4 L326.4 3243.9 L330.4 3243.3 L334.3 3242.6 L338.3 3242.0 L342.2 3241.2 L346.1 3240.5 L350.0 3239.7 L353.9 3238.8 L357.9 3237.9 L361.8 3237.0 L365.6 3236.1 L369.5 3235.2 L373.4 3234.2 L377.3 3233.3 L381.2 3232.3 L385.1 3231.3 L388.9 3230.3 L392.8 3229.3 L396.7 3228.3 L400.5 3227.3 L404.4 3226.3 L408.3 3225.3 L412.1 3224.2 L416.0 3223.1 L419.8 3222.1 L423.7 3221.1 L427.6 3220.4 L431.6 3219.7 L435.5 3219.2 L439.5 3218.7 L443.5 3218.3 L447.5 3218.0 L451.5 3217.7 L455.5 3217.7 L459.5 3217.7 L463.5 3217.9 L467.4 3218.2 L471.4 3218.6 L475.4 3219.1 L479.3 3219.7 L483.3 3220.4 L487.2 3221.1 L491.1 3221.8 L495.1 3222.5 L499.0 3223.3 L502.9 3224.0 L506.9 3224.8 L510.8 3225.6 L514.7 3226.4 L518.6 3227.2 L522.5 3228.0 L526.5 3228.8 L530.4 3229.5 L534.3 3230.3 L538.3 3231.0 L542.2 3231.7 L546.1 3232.5 L550.1 3233.2 L554.0 3234.0 L557.9 3234.7 L561.8 3235.4 L565.8 3236.2 L569.7 3236.9 L573.6 3237.7 L577.5 3238.5 L581.4 3239.4 L585.3 3240.3 L589.1 3241.5 L592.8 3242.9 L596.4 3244.6 L600.0 3246.4 L603.6 3248.0 L607.4 3249.2 L611.3 3249.9 L615.2 3250.4 L619.2 3250.8 L623.2 3251.3 L627.1 3251.9 L631.1 3252.5 L635.0 3253.2 L639.0 3253.7 L642.9 3254.2 L646.9 3254.4 L650.9 3254.4 L654.9 3254.1 L658.8 3253.5 L662.7 3252.8 L666.6 3251.9 L670.5 3250.9 L674.4 3249.8 L678.2 3248.6 L682.0 3247.5 L685.9 3246.3 L689.7 3245.1 L693.4 3243.7 L697.1 3242.2 L700.8 3240.6 L704.4 3238.9 L708.0 3237.1 L711.5 3235.3 L715.0 3233.4 L718.6 3231.5 L722.1 3229.6 L725.6 3227.6 L729.0 3225.6 L732.4 3223.5 L735.8 3221.3 L739.0 3219.0 L742.2 3216.6 L745.4 3214.2 L748.4 3211.6 L751.5 3209.0 L754.4 3206.3 L757.3 3203.6 L760.2 3200.7 L762.9 3197.9 L765.6 3194.9 L768.1 3191.8 L770.4 3188.5 L772.5 3185.1 L774.5 3181.7 L776.5 3178.2 L778.3 3174.6 L780.2 3171.1 L781.9 3167.5 L783.7 3163.9 L785.4 3160.3 L787.2 3156.7 L788.9 3153.1 L790.6 3149.5 L792.3 3145.9 L794.0 3142.2 L795.7 3138.6 L797.3 3134.9 L798.9 3131.3 L800.4 3127.6 L801.9 3123.9 L803.3 3120.1 L804.8 3116.4 L806.2 3112.7 L807.6 3108.9 L808.9 3105.1 L810.2 3101.4 L811.5 3097.6 L812.8 3093.8 L814.0 3090.0 L815.2 3086.2 L816.4 3082.3 L817.5 3078.5 L818.6 3074.6 L819.7 3070.8 L820.7 3066.9 L821.8 3063.1 L822.8 3059.2 L823.8 3055.3 L824.9 3051.5 L825.9 3047.6 L826.9 3043.7 L827.9 3039.9 L829.0 3036.0 L830.0 3032.2 L831.1 3028.3 L832.1 3024.4 L833.2 3020.6 L834.2 3016.7 L835.2 3012.8 L836.3 3009.0 L837.3 3005.1 L838.3 3001.2 L839.3 2997.4 L840.3 2993.5 L841.4 2989.6 L842.4 2985.8 L843.4 2981.9 L844.4 2978.0 L845.5 2974.2 L846.5 2970.3 L847.5 2966.4 L848.6 2962.6 L849.6 2958.7 L850.6 2954.9 L851.7 2951.0 L852.7 2947.1 L853.7 2943.3 L854.8 2939.4 L855.8 2935.5 L856.8 2931.7 L857.8 2927.8 L858.9 2923.9 L859.9 2920.1 L860.9 2916.2 L861.9 2912.3 L862.9 2908.5 L863.9 2904.6 L864.9 2900.7 L865.9 2896.8 L866.9 2893.0 L867.9 2889.1 L868.8 2885.2 L869.8 2881.3 L870.8 2877.4 L871.7 2873.5 L872.7 2869.7 L873.6 2865.8 L874.5 2861.9 L875.5 2858.0 L876.4 2854.1 L877.3 2850.2 L878.2 2846.3 L879.0 2842.4 L879.9 2838.5 L880.7 2834.6 L881.5 2830.7 L882.3 2826.7 L883.1 2822.8 L883.8 2818.9 L884.6 2814.9 L885.3 2811.0 L886.0 2807.1 L886.8 2803.2 L887.5 2799.2 L888.2 2795.3 L888.8 2791.3 L889.5 2787.4 L890.2 2783.4 L890.8 2779.5 L891.4 2775.5 L892.1 2771.6 L892.7 2767.6 L893.3 2763.7 L893.9 2759.7 L894.5 2755.8 L895.1 2751.8 L895.8 2747.9 L896.4 2743.9 L897.0 2740.0 L897.6 2736.0 L898.2 2732.1 L898.9 2728.1 L899.5 2724.2 L900.1 2720.2 L900.7 2716.3 L901.4 2712.3 L902.0 2708.4 L902.6 2704.4 L903.2 2700.5 L903.9 2696.5 L904.5 2692.6 L905.1 2688.6 L905.7 2684.7 L906.4 2680.7 L907.0 2676.8 L907.7 2672.8 L908.3 2668.9 L909.0 2664.9 L909.7 2661.0 L910.3 2657.0 L911.0 2653.1 L911.7 2649.2 L912.3 2645.2 L913.0 2641.3 L913.7 2637.3 L914.4 2633.4 L915.0 2629.4 L915.7 2625.5 L916.4 2621.6 L917.1 2617.6 L917.8 2613.7 L918.5 2609.7 L919.1 2605.8 L919.8 2601.9 L920.5 2597.9 L921.2 2594.0 L921.9 2590.0 L922.6 2586.1 L923.3 2582.2 L924.0 2578.2 L924.7 2574.3 L925.4 2570.3 L926.1 2566.4 L926.8 2562.5 L927.5 2558.5 L928.2 2554.6 L928.9 2550.7 L929.6 2546.7 L930.3 2542.8 L931.0 2538.8 L931.8 2534.9 L932.5 2531.0 L933.2 2527.0 L933.9 2523.1 L934.6 2519.2 L935.3 2515.2 L936.1 2511.3 L936.8 2507.4 L937.5 2503.4 L938.2 2499.5 L938.9 2495.6 L939.7 2491.6 L940.4 2487.7 L941.1 2483.8 L941.9 2479.8 L942.6 2475.9 L943.3 2472.0 L944.0 2468.0 L944.8 2464.1 L945.5 2460.2 L946.2 2456.2 L947.0 2452.3 L947.7 2448.4 L948.5 2444.4 L949.2 2440.5 L950.0 2436.6 L950.7 2432.7 L951.5 2428.7 L952.3 2424.8 L953.1 2420.9 L953.9 2417.0 L954.7 2413.1 L955.5 2409.1 L956.3 2405.2 L957.2 2401.3 L958.0 2397.4 L958.9 2393.5 L959.7 2389.6 L960.6 2385.7 L961.5 2381.8 L962.3 2377.9 L963.2 2374.0 L964.2 2370.1 L965.1 2366.2 L966.0 2362.3 L967.0 2358.4 L968.0 2354.6 L969.1 2350.7 L970.1 2346.8 L971.2 2343.0 L972.3 2339.2 L973.5 2335.3 L974.6 2331.5 L975.8 2327.7 L977.0 2323.8 L978.2 2320.0 L979.5 2316.2 L980.8 2312.4 L982.1 2308.7 L983.4 2304.9 L984.7 2301.1 L986.1 2297.4 L987.5 2293.6 L988.9 2289.9 L990.3 2286.1 L991.7 2282.4 L993.2 2278.7 L994.6 2274.9 L996.2 2271.2 L997.7 2267.6 L999.3 2263.9 L1001.0 2260.3 L1002.8 2256.7 L1004.6 2253.1 L1006.5 2249.6 L1008.5 2246.1 L1010.5 2242.7 L1012.6 2239.3 L1014.8 2235.9 L1017.1 2232.6 L1019.4 2229.4 L1021.6 2226.1 L1023.9 2222.8 L1026.3 2219.6 L1028.9 2216.7 L1031.8 2214.4 L1035.1 2213.3 L1038.6 2213.7 L1042.0 2215.1 L1045.5 2216.9 L1049.0 2218.1 L1052.7 2218.4 L1056.3 2217.7 L1060.0 2217.1 L1063.7 2217.2 L1067.1 2218.5 L1070.2 2220.7 L1073.1 2223.4 L1075.8 2226.4 L1078.5 2229.3 L1081.1 2232.3 L1083.7 2235.4 L1086.2 2238.5 L1088.7 2241.7 L1091.1 2244.8 L1093.5 2248.0 L1095.9 2251.2 L1098.3 2254.4 L1100.7 2257.6 L1103.0 2260.9 L1105.2 2264.2 L1107.3 2267.6 L1109.3 2271.1 L1111.0 2274.7 L1112.7 2278.3 L1114.3 2282.0 L1115.9 2285.6 L1117.7 2289.2 L1119.7 2292.6 L1122.0 2295.9 L1124.5 2298.9 L1127.1 2302.0 L1129.5 2305.1 L1131.7 2308.5 L1133.5 2312.0 L1135.1 2315.7 L1136.5 2319.4 L1137.9 2323.2 L1139.2 2326.9 L1140.6 2330.7 L1142.2 2334.4 L1143.8 2338.0 L1145.5 2341.6 L1147.2 2345.2 L1149.0 2348.8 L1150.8 2352.4 L1152.7 2355.9 L1154.6 2359.4 L1156.6 2362.9 L1158.6 2366.4 L1160.6 2369.8 L1162.7 2373.2 L1164.7 2376.7 L1166.7 2380.1 L1168.7 2383.6 L1170.7 2387.1 L1172.6 2390.6 L1174.5 2394.1 L1176.5 2397.6 L1178.3 2401.1 L1180.1 2404.7 L1181.9 2408.3 L1183.6 2411.9 L1185.2 2415.6 L1186.8 2419.2 L1188.4 2422.9 L1189.9 2426.6 L1191.5 2430.3 L1193.0 2434.0 L1194.6 2437.7 L1196.1 2441.4 L1197.8 2445.0 L1199.4 2448.6 L1201.1 2452.3 L1202.9 2455.9 L1204.6 2459.5 L1206.4 2463.0 L1208.2 2466.6 L1209.9 2470.2 L1211.7 2473.8 L1213.4 2477.4 L1215.1 2481.0 L1216.8 2484.7 L1218.5 2488.3 L1220.2 2491.9 L1221.8 2495.6 L1223.5 2499.2 L1225.2 2502.8 L1226.9 2506.5 L1228.6 2510.1 L1230.2 2513.7 L1231.9 2517.3 L1233.6 2521.0 L1235.3 2524.6 L1237.0 2528.2 L1238.7 2531.8 L1240.4 2535.5 L1242.1 2539.1 L1243.7 2542.7 L1245.3 2546.4 L1247.0 2550.0 L1248.6 2553.7 L1250.2 2557.4 L1251.8 2561.0 L1253.4 2564.7 L1255.1 2568.3 L1256.7 2572.0 L1258.3 2575.6 L1260.0 2579.3 L1261.6 2582.9 L1263.3 2586.6 L1265.0 2590.2 L1266.6 2593.8 L1268.4 2597.4 L1270.1 2601.0 L1271.9 2604.6 L1273.7 2608.2 L1275.6 2611.7 L1277.6 2615.1 L1279.7 2618.6 L1281.8 2621.9 L1284.0 2625.3 L1286.1 2628.7 L1288.2 2632.1 L1290.1 2635.6 L1292.1 2639.1 L1293.9 2642.7 L1295.7 2646.3 L1297.4 2649.9 L1299.1 2653.5 L1300.8 2657.1 L1302.5 2660.7 L1304.2 2664.4 L1305.8 2668.0 L1307.5 2671.6 L1309.1 2675.3 L1310.8 2678.9 L1312.4 2682.6 L1314.1 2686.2 L1315.8 2689.8 L1317.5 2693.5 L1319.2 2697.1 L1321.0 2700.7 L1322.7 2704.3 L1324.5 2707.8 L1326.3 2711.4 L1328.1 2715.0 L1329.9 2718.6 L1331.7 2722.1 L1333.5 2725.7 L1335.3 2729.3 L1337.1 2732.8 L1338.9 2736.4 L1340.8 2740.0 L1342.6 2743.5 L1344.4 2747.1 L1346.3 2750.6 L1348.2 2754.1 L1350.0 2757.7 L1351.9 2761.2 L1353.8 2764.7 L1355.7 2768.3 L1357.6 2771.8 L1359.5 2775.3 L1361.5 2778.8 L1363.4 2782.3 L1365.3 2785.8 L1367.3 2789.3 L1369.2 2792.8 L1371.2 2796.3 L1373.1 2799.8 L1375.1 2803.2 L1377.1 2806.7 L1379.1 2810.2 L1381.1 2813.7 L1383.1 2817.1 L1385.1 2820.6 L1387.1 2824.0 L1389.1 2827.5 L1391.2 2830.9 L1393.3 2834.3 L1395.3 2837.7 L1397.4 2841.1 L1399.6 2844.5 L1401.7 2847.9 L1403.9 2851.3 L1406.1 2854.6 L1408.3 2857.9 L1410.5 2861.3 L1412.7 2864.6 L1415.0 2867.9 L1417.2 2871.2 L1419.5 2874.5 L1421.7 2877.8 L1424.0 2881.1 L1426.2 2884.4 L1428.4 2887.8 L1430.7 2891.1 L1432.9 2894.4 L1435.0 2897.8 L1437.2 2901.2 L1439.3 2904.6 L1441.4 2908.0 L1443.4 2911.4 L1445.4 2914.9 L1447.4 2918.4 L1449.3 2921.9 L1451.2 2925.4 L1453.1 2928.9 L1455.1 2932.4 L1457.2 2935.8 L1459.3 2939.2 L1461.5 2942.5 L1463.8 2945.8 L1466.1 2949.0 L1468.5 2952.2 L1471.0 2955.4 L1473.4 2958.6 L1475.9 2961.7 L1478.3 2964.9 L1480.8 2968.1 L1483.2 2971.2 L1485.6 2974.4 L1488.1 2977.6 L1490.5 2980.8 L1492.9 2984.0 L1495.3 2987.2 L1497.6 2990.4 L1499.8 2993.8 L1501.9 2997.1 L1504.0 3000.6 L1506.0 3004.0 L1507.9 3007.5 L1509.9 3011.0 L1511.8 3014.5 L1513.9 3017.9 L1516.0 3021.3 L1518.4 3024.6 L1520.8 3027.7 L1523.5 3030.7 L1526.2 3033.6 L1529.1 3036.4 L1532.0 3039.1 L1534.9 3041.9 L1537.8 3044.6 L1540.7 3047.4 L1543.5 3050.2 L1546.4 3053.0 L1549.3 3055.8 L1552.1 3058.6 L1554.9 3061.4 L1557.6 3064.4 L1560.2 3067.4 L1562.7 3070.6 L1565.0 3073.8 L1567.3 3077.1 L1569.6 3080.4 L1571.9 3083.6 L1574.2 3086.9 L1576.7 3090.1 L1579.2 3093.1 L1581.9 3096.1 L1584.6 3099.0 L1587.5 3101.8 L1590.4 3104.6 L1593.3 3107.3 L1596.3 3109.9 L1599.4 3112.4 L1602.6 3114.9 L1605.9 3117.1 L1609.2 3119.4 L1612.4 3121.7 L1615.6 3124.1 L1618.5 3126.8 L1621.0 3129.9 L1623.2 3133.2 L1625.1 3136.6 L1627.1 3140.1 L1629.3 3143.4 L1631.7 3146.5 L1634.4 3149.5 L1637.3 3152.3 L1640.2 3155.0 L1643.2 3157.7 L1646.2 3160.3 L1649.2 3162.9 L1652.3 3165.4 L1655.5 3167.9 L1658.7 3170.3 L1661.9 3172.6 L1665.2 3175.0 L1668.5 3177.2 L1671.8 3179.5 L1675.1 3181.7 L1678.4 3183.9 L1681.8 3186.1 L1685.1 3188.3 L1688.5 3190.4 L1691.9 3192.5 L1695.4 3194.6 L1698.8 3196.6 L1702.2 3198.7 L1705.6 3200.8 L1709.0 3202.9 L1712.4 3205.0 L1715.8 3207.2 L1719.1 3209.4 L1722.4 3211.6 L1725.7 3213.8 L1729.1 3216.1 L1732.4 3218.3 L1735.7 3220.6 L1739.0 3222.8 L1742.3 3225.0 L1745.7 3227.2 L1749.0 3229.4 L1752.4 3231.6 L1755.8 3233.7 L1759.2 3235.7 L1762.7 3237.7 L1766.2 3239.7 L1769.7 3241.5 L1773.3 3243.3 L1776.9 3245.0 L1780.6 3246.6 L1784.3 3248.2 L1787.9 3249.7 L1791.6 3251.3 L1795.4 3252.7 L1799.1 3254.2 L1802.8 3255.7 L1806.5 3257.1 L1810.3 3258.5 L1814.0 3259.9 L1817.8 3261.2 L1821.6 3262.6 L1825.4 3263.9 L1829.2 3265.1 L1833.0 3266.4 L1836.8 3267.6 L1840.6 3268.8 L1844.4 3269.9 L1848.2 3271.1 L1852.1 3272.2 L1855.9 3273.2 L1859.8 3274.3 L1863.7 3275.3 L1867.6 3276.2 L1871.5 3277.2 L1875.4 3278.1 L1879.3 3278.9 L1883.2 3279.8 L1887.1 3280.5 L1891.0 3281.3 L1895.0 3282.0 L1898.9 3282.6 L1902.9 3283.3 L1906.8 3283.9 L1910.8 3284.5 L1914.7 3285.1 L1918.7 3285.6 L1922.6 3286.2 L1926.6 3286.7 L1930.6 3287.2 L1934.5 3287.7 L1938.5 3288.2 L1942.5 3288.7 L1946.5 3289.2 L1950.4 3289.7 L1954.4 3290.2 L1958.4 3290.7 L1962.3 3291.2 L1966.3 3291.7 L1970.3 3292.1 L1974.2 3292.6 L1978.2 3293.1 L1982.2 3293.6 L1986.2 3294.1 L1990.1 3294.6 L1994.1 3295.0 L1998.1 3295.5 L2002.0 3296.0 L2006.0 3296.5 L2010.0 3297.0 L2014.0 3297.5 L2017.9 3297.9 L2021.9 3298.4 L2025.9 3298.9 L2029.8 3299.4 L2033.8 3299.9 L2037.8 3300.3 L2041.8 3300.8 L2045.7 3301.3 L2049.7 3301.7 L2053.7 3302.2 L2057.6 3302.7 L2061.6 3303.2 L2065.6 3303.6 L2069.6 3304.1 L2073.5 3304.6 L2077.5 3305.0 L2081.5 3305.5 L2085.4 3305.9 L2089.4 3306.4 L2093.4 3306.9 L2097.4 3307.3 L2101.3 3307.8 L2105.3 3308.2 L2109.3 3308.7 L2113.3 3309.1 L2117.2 3309.6 L2121.2 3310.0 L2125.2 3310.4 L2129.2 3310.9 L2133.1 3311.3 L2137.1 3311.7 L2141.1 3312.2 L2145.1 3312.6 L2149.1 3313.0 L2153.0 3313.5 L2156.8 3313.9 L2157.0 3313.9" stroke="#008000"/>
<text transform="translate(433.1 153.5) scale(1 1.03)" class="pl">(a)</text>
<text x="1833" y="187.6" class="lg" text-anchor="middle">[Cy5 dye]</text>
<text x="1834.5" y="282.5" class="lg" text-anchor="middle">1 x 10<tspan font-size="54" dy="-24.4">-4</tspan><tspan dy="24.4"> M</tspan></text>
<rect x="1803.7" y="343.6" width="13.7" height="261.4" fill="#000"/><polygon points="1810.5,304.5 1790.5,344.6 1830.5,344.6" fill="#000"/>
<text x="1801.4" y="746" class="lg" text-anchor="middle">0</text>
<rect x="611.6" y="479.0" width="13.5" height="303.0" fill="#000"/><polygon points="618.4,830.5 598.4,781.0 638.4,781.0" fill="#000"/>
<text transform="translate(92.4 756.3) rotate(-90)" class="ax" text-anchor="middle">Fluorescence Intensity (a.u.)</text>
<line x1="94.3" y1="250" x2="94.3" y2="333" stroke="#ff3030" stroke-width="1.6" stroke-dasharray="2.5 1.5"/>
<line x1="96.4" y1="2147" x2="96.4" y2="2238" stroke="#ff3030" stroke-width="1.6" stroke-dasharray="2.5 1.5"/>
<text x="1230.6" y="1751.5" class="ax" text-anchor="middle">Wavelength (nm)</text>
<text transform="translate(368.2 2089.5) scale(1 1.03)" class="pl">(b)</text>
<text x="1750" y="2129.6" class="lg" text-anchor="middle">[Cy5 dye]</text>
<text x="1751.7" y="2225" class="lg" text-anchor="middle">1 x 10<tspan font-size="54" dy="-24.4">-4</tspan><tspan dy="24.4"> M</tspan></text>
<rect x="1757.5" y="2286.2" width="13.1" height="241.1" fill="#000"/><polygon points="1764.1,2247.9 1744.4,2287.2 1783.8,2287.2" fill="#000"/>
<text x="1758.4" y="2617" class="lg" text-anchor="middle">0</text>
<rect x="688.6" y="2349.0" width="13.7" height="279.4" fill="#000"/><polygon points="695.5,2667.7 675.5,2627.4 715.5,2627.4" fill="#000"/>
<text transform="translate(94.9 2654.6) rotate(-90)" class="ax" text-anchor="middle">Fluorescence Intensity (a.u.)</text>
<text x="1211.5" y="3573.5" class="ax" text-anchor="middle">Wavelength (nm)</text>
</svg>
</body></html>
